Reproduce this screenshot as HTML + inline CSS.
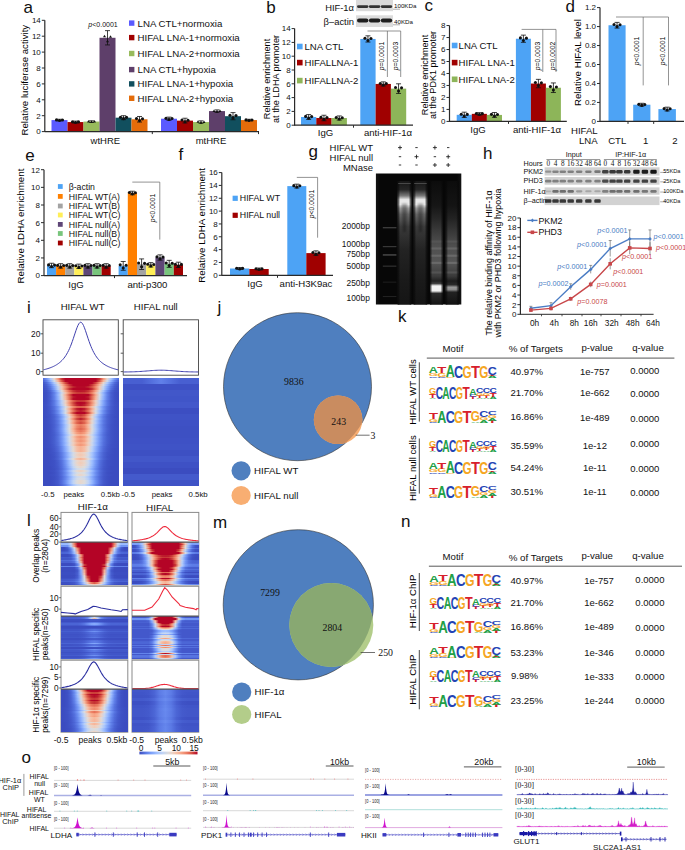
<!DOCTYPE html><html><head><meta charset="utf-8"><style>html,body{margin:0;padding:0;background:#fff;overflow:hidden}svg{display:block}text{font-family:"Liberation Sans",sans-serif}</style></head><body><svg width="685" height="850" viewBox="0 0 685 850"><defs><linearGradient id="gbg" x1="0" y1="0" x2="1" y2="0"><stop offset="0" stop-color="#141414"/><stop offset="0.05" stop-color="#070707"/><stop offset="0.95" stop-color="#070707"/><stop offset="1" stop-color="#141414"/></linearGradient><filter id="gblur" x="-50%" y="-20%" width="200%" height="140%"><feGaussianBlur stdDeviation="1.2"/></filter><linearGradient id="sm" x1="0" y1="0" x2="0" y2="1"><stop offset="0" stop-color="#161616"/><stop offset="0.07" stop-color="#262626"/><stop offset="0.12" stop-color="#7a7a7a"/><stop offset="0.15" stop-color="#e6e6e6"/><stop offset="0.19" stop-color="#f0f0f0"/><stop offset="0.22" stop-color="#a0a0a0"/><stop offset="0.27" stop-color="#686868"/><stop offset="0.37" stop-color="#3a3a3a"/><stop offset="0.56" stop-color="#232323"/><stop offset="0.8" stop-color="#1a1a1a"/><stop offset="1" stop-color="#151515"/></linearGradient><linearGradient id="mn4" x1="0" y1="0" x2="0" y2="1"><stop offset="0" stop-color="#0c0c0c"/><stop offset="0.2" stop-color="#161616"/><stop offset="0.3" stop-color="#262626"/><stop offset="0.4" stop-color="#3a3a3a"/><stop offset="0.52" stop-color="#505050"/><stop offset="0.66" stop-color="#555555"/><stop offset="0.77" stop-color="#3c3c3c"/><stop offset="0.81" stop-color="#202020"/><stop offset="0.83" stop-color="#404040"/><stop offset="0.85" stop-color="#f4f4f4"/><stop offset="0.89" stop-color="#f0f0f0"/><stop offset="0.91" stop-color="#2a2a2a"/><stop offset="1" stop-color="#141414"/></linearGradient><linearGradient id="mn5" x1="0" y1="0" x2="0" y2="1"><stop offset="0" stop-color="#0c0c0c"/><stop offset="0.2" stop-color="#141414"/><stop offset="0.3" stop-color="#222222"/><stop offset="0.4" stop-color="#363636"/><stop offset="0.52" stop-color="#4e4e4e"/><stop offset="0.66" stop-color="#555555"/><stop offset="0.77" stop-color="#3a3a3a"/><stop offset="0.81" stop-color="#1c1c1c"/><stop offset="0.84" stop-color="#2a2a2a"/><stop offset="0.86" stop-color="#9a9a9a"/><stop offset="0.88" stop-color="#8a8a8a"/><stop offset="0.9" stop-color="#222222"/><stop offset="1" stop-color="#121212"/></linearGradient><linearGradient id="lanee" x1="0" y1="0" x2="1" y2="0"><stop offset="0" stop-color="#070707" stop-opacity="0.85"/><stop offset="0.18" stop-color="#070707" stop-opacity="0"/><stop offset="0.82" stop-color="#070707" stop-opacity="0"/><stop offset="1" stop-color="#070707" stop-opacity="0.85"/></linearGradient><linearGradient id="h1" x1="0.5" x2="1" spreadMethod="reflect"><stop offset="0" stop-color="#b40426"/><stop offset="0.1" stop-color="#b40426"/><stop offset="0.2" stop-color="#b40426"/><stop offset="0.3" stop-color="#b40426"/><stop offset="0.4" stop-color="#b40426"/><stop offset="0.5" stop-color="#c83836"/><stop offset="0.6" stop-color="#f4987a"/><stop offset="0.7" stop-color="#e6d7cf"/><stop offset="0.8" stop-color="#a9c6fd"/><stop offset="0.9" stop-color="#7093f3"/><stop offset="1" stop-color="#506bda"/></linearGradient><linearGradient id="h2" x1="0.5" x2="1" spreadMethod="reflect"><stop offset="0" stop-color="#b40426"/><stop offset="0.1" stop-color="#b40426"/><stop offset="0.2" stop-color="#b40426"/><stop offset="0.3" stop-color="#b40426"/><stop offset="0.4" stop-color="#b40426"/><stop offset="0.5" stop-color="#d85646"/><stop offset="0.6" stop-color="#f7b396"/><stop offset="0.7" stop-color="#d2dbe8"/><stop offset="0.8" stop-color="#90b2fe"/><stop offset="0.9" stop-color="#6180e9"/><stop offset="1" stop-color="#485fd1"/></linearGradient><linearGradient id="h3" x1="0.5" x2="1" spreadMethod="reflect"><stop offset="0" stop-color="#b40426"/><stop offset="0.1" stop-color="#b40426"/><stop offset="0.2" stop-color="#b40426"/><stop offset="0.3" stop-color="#b40426"/><stop offset="0.4" stop-color="#d0473d"/><stop offset="0.5" stop-color="#f4987a"/><stop offset="0.6" stop-color="#e8d6cc"/><stop offset="0.7" stop-color="#adc9fd"/><stop offset="0.8" stop-color="#7396f5"/><stop offset="0.9" stop-color="#506bda"/><stop offset="1" stop-color="#4055c8"/></linearGradient><linearGradient id="h4" x1="0.5" x2="1" spreadMethod="reflect"><stop offset="0" stop-color="#b40426"/><stop offset="0.1" stop-color="#b40426"/><stop offset="0.2" stop-color="#b40426"/><stop offset="0.3" stop-color="#c73635"/><stop offset="0.4" stop-color="#e8765c"/><stop offset="0.5" stop-color="#f7b99e"/><stop offset="0.6" stop-color="#d3dbe7"/><stop offset="0.7" stop-color="#94b6ff"/><stop offset="0.8" stop-color="#6384eb"/><stop offset="0.9" stop-color="#4961d2"/><stop offset="1" stop-color="#3e51c5"/></linearGradient><linearGradient id="h5" x1="0.5" x2="1" spreadMethod="reflect"><stop offset="0" stop-color="#b50927"/><stop offset="0.1" stop-color="#b50927"/><stop offset="0.2" stop-color="#be242e"/><stop offset="0.3" stop-color="#d55042"/><stop offset="0.4" stop-color="#f18d6f"/><stop offset="0.5" stop-color="#f2cab5"/><stop offset="0.6" stop-color="#c1d4f4"/><stop offset="0.7" stop-color="#84a7fc"/><stop offset="0.8" stop-color="#5a78e4"/><stop offset="0.9" stop-color="#455cce"/><stop offset="1" stop-color="#3d50c3"/></linearGradient><linearGradient id="h6" x1="0.5" x2="1" spreadMethod="reflect"><stop offset="0" stop-color="#b40426"/><stop offset="0.1" stop-color="#b40426"/><stop offset="0.2" stop-color="#b40426"/><stop offset="0.3" stop-color="#c43032"/><stop offset="0.4" stop-color="#ec8165"/><stop offset="0.5" stop-color="#f2cab5"/><stop offset="0.6" stop-color="#bcd2f7"/><stop offset="0.7" stop-color="#7da0f9"/><stop offset="0.8" stop-color="#5572df"/><stop offset="0.9" stop-color="#4358cb"/><stop offset="1" stop-color="#3c4ec2"/></linearGradient><linearGradient id="h7" x1="0.5" x2="1" spreadMethod="reflect"><stop offset="0" stop-color="#ba162b"/><stop offset="0.1" stop-color="#bb1b2c"/><stop offset="0.2" stop-color="#c73635"/><stop offset="0.3" stop-color="#e26952"/><stop offset="0.4" stop-color="#f7a98b"/><stop offset="0.5" stop-color="#dfdbd9"/><stop offset="0.6" stop-color="#a3c2fe"/><stop offset="0.7" stop-color="#6c8ff1"/><stop offset="0.8" stop-color="#4c66d6"/><stop offset="0.9" stop-color="#3f53c6"/><stop offset="1" stop-color="#3c4ec2"/></linearGradient><linearGradient id="h8" x1="0.5" x2="1" spreadMethod="reflect"><stop offset="0" stop-color="#c83836"/><stop offset="0.1" stop-color="#ca3b37"/><stop offset="0.2" stop-color="#d65244"/><stop offset="0.3" stop-color="#ed8366"/><stop offset="0.4" stop-color="#f6bea4"/><stop offset="0.5" stop-color="#cedaeb"/><stop offset="0.6" stop-color="#90b2fe"/><stop offset="0.7" stop-color="#6180e9"/><stop offset="0.8" stop-color="#485fd1"/><stop offset="0.9" stop-color="#3e51c5"/><stop offset="1" stop-color="#3b4cc0"/></linearGradient><linearGradient id="h9" x1="0.5" x2="1" spreadMethod="reflect"><stop offset="0" stop-color="#b40426"/><stop offset="0.1" stop-color="#b40426"/><stop offset="0.2" stop-color="#b40426"/><stop offset="0.3" stop-color="#da5a49"/><stop offset="0.4" stop-color="#f7ad90"/><stop offset="0.5" stop-color="#d7dce3"/><stop offset="0.6" stop-color="#96b7ff"/><stop offset="0.7" stop-color="#6384eb"/><stop offset="0.8" stop-color="#4961d2"/><stop offset="0.9" stop-color="#3e51c5"/><stop offset="1" stop-color="#3b4cc0"/></linearGradient><linearGradient id="h10" x1="0.5" x2="1" spreadMethod="reflect"><stop offset="0" stop-color="#b40426"/><stop offset="0.1" stop-color="#b40426"/><stop offset="0.2" stop-color="#bb1b2c"/><stop offset="0.3" stop-color="#e36b54"/><stop offset="0.4" stop-color="#f7b79b"/><stop offset="0.5" stop-color="#d1dae9"/><stop offset="0.6" stop-color="#90b2fe"/><stop offset="0.7" stop-color="#6180e9"/><stop offset="0.8" stop-color="#485fd1"/><stop offset="0.9" stop-color="#3e51c5"/><stop offset="1" stop-color="#3b4cc0"/></linearGradient><linearGradient id="h11" x1="0.5" x2="1" spreadMethod="reflect"><stop offset="0" stop-color="#b40426"/><stop offset="0.1" stop-color="#b40426"/><stop offset="0.2" stop-color="#b70d28"/><stop offset="0.3" stop-color="#e36b54"/><stop offset="0.4" stop-color="#f7ba9f"/><stop offset="0.5" stop-color="#cdd9ec"/><stop offset="0.6" stop-color="#8fb1fe"/><stop offset="0.7" stop-color="#6180e9"/><stop offset="0.8" stop-color="#4961d2"/><stop offset="0.9" stop-color="#3e51c5"/><stop offset="1" stop-color="#3b4cc0"/></linearGradient><linearGradient id="h12" x1="0.5" x2="1" spreadMethod="reflect"><stop offset="0" stop-color="#c53334"/><stop offset="0.1" stop-color="#ca3b37"/><stop offset="0.2" stop-color="#de614d"/><stop offset="0.3" stop-color="#f49a7b"/><stop offset="0.4" stop-color="#edd2c3"/><stop offset="0.5" stop-color="#bad0f8"/><stop offset="0.6" stop-color="#81a4fb"/><stop offset="0.7" stop-color="#5a78e4"/><stop offset="0.8" stop-color="#465ecf"/><stop offset="0.9" stop-color="#3e51c5"/><stop offset="1" stop-color="#3b4cc0"/></linearGradient><linearGradient id="h13" x1="0.5" x2="1" spreadMethod="reflect"><stop offset="0" stop-color="#b40426"/><stop offset="0.1" stop-color="#b70d28"/><stop offset="0.2" stop-color="#d1493f"/><stop offset="0.3" stop-color="#f29072"/><stop offset="0.4" stop-color="#efcebd"/><stop offset="0.5" stop-color="#bbd1f8"/><stop offset="0.6" stop-color="#82a6fb"/><stop offset="0.7" stop-color="#5b7ae5"/><stop offset="0.8" stop-color="#485fd1"/><stop offset="0.9" stop-color="#3e51c5"/><stop offset="1" stop-color="#3c4ec2"/></linearGradient><linearGradient id="h14" x1="0.5" x2="1" spreadMethod="reflect"><stop offset="0" stop-color="#b50927"/><stop offset="0.1" stop-color="#bd1f2d"/><stop offset="0.2" stop-color="#d85646"/><stop offset="0.3" stop-color="#f59c7d"/><stop offset="0.4" stop-color="#ead5c9"/><stop offset="0.5" stop-color="#b5cdfa"/><stop offset="0.6" stop-color="#80a3fa"/><stop offset="0.7" stop-color="#5b7ae5"/><stop offset="0.8" stop-color="#485fd1"/><stop offset="0.9" stop-color="#3f53c6"/><stop offset="1" stop-color="#3c4ec2"/></linearGradient><linearGradient id="h15" x1="0.5" x2="1" spreadMethod="reflect"><stop offset="0" stop-color="#dc5d4a"/><stop offset="0.1" stop-color="#e16751"/><stop offset="0.2" stop-color="#f18d6f"/><stop offset="0.3" stop-color="#f5c0a7"/><stop offset="0.4" stop-color="#d4dbe6"/><stop offset="0.5" stop-color="#9fbfff"/><stop offset="0.6" stop-color="#7093f3"/><stop offset="0.7" stop-color="#5470de"/><stop offset="0.8" stop-color="#455cce"/><stop offset="0.9" stop-color="#3e51c5"/><stop offset="1" stop-color="#3c4ec2"/></linearGradient><linearGradient id="h16" x1="0.5" x2="1" spreadMethod="reflect"><stop offset="0" stop-color="#b40426"/><stop offset="0.1" stop-color="#bb1b2c"/><stop offset="0.2" stop-color="#de614d"/><stop offset="0.3" stop-color="#f7ac8e"/><stop offset="0.4" stop-color="#dedcdb"/><stop offset="0.5" stop-color="#a5c3fe"/><stop offset="0.6" stop-color="#7396f5"/><stop offset="0.7" stop-color="#5470de"/><stop offset="0.8" stop-color="#455cce"/><stop offset="0.9" stop-color="#3e51c5"/><stop offset="1" stop-color="#3c4ec2"/></linearGradient><linearGradient id="h17" x1="0.5" x2="1" spreadMethod="reflect"><stop offset="0" stop-color="#ba162b"/><stop offset="0.1" stop-color="#c73635"/><stop offset="0.2" stop-color="#e7745b"/><stop offset="0.3" stop-color="#f7ba9f"/><stop offset="0.4" stop-color="#d3dbe7"/><stop offset="0.5" stop-color="#9abbff"/><stop offset="0.6" stop-color="#6b8df0"/><stop offset="0.7" stop-color="#506bda"/><stop offset="0.8" stop-color="#4358cb"/><stop offset="0.9" stop-color="#3d50c3"/><stop offset="1" stop-color="#3b4cc0"/></linearGradient><linearGradient id="h18" x1="0.5" x2="1" spreadMethod="reflect"><stop offset="0" stop-color="#b40426"/><stop offset="0.1" stop-color="#b40426"/><stop offset="0.2" stop-color="#d1493f"/><stop offset="0.3" stop-color="#f7a98b"/><stop offset="0.4" stop-color="#d9dce1"/><stop offset="0.5" stop-color="#9dbdff"/><stop offset="0.6" stop-color="#6c8ff1"/><stop offset="0.7" stop-color="#516ddb"/><stop offset="0.8" stop-color="#4358cb"/><stop offset="0.9" stop-color="#3d50c3"/><stop offset="1" stop-color="#3b4cc0"/></linearGradient><linearGradient id="h19" x1="0.5" x2="1" spreadMethod="reflect"><stop offset="0" stop-color="#c73635"/><stop offset="0.1" stop-color="#d65244"/><stop offset="0.2" stop-color="#f39475"/><stop offset="0.3" stop-color="#efcfbf"/><stop offset="0.4" stop-color="#bcd2f7"/><stop offset="0.5" stop-color="#86a9fc"/><stop offset="0.6" stop-color="#6180e9"/><stop offset="0.7" stop-color="#4b64d5"/><stop offset="0.8" stop-color="#4055c8"/><stop offset="0.9" stop-color="#3d50c3"/><stop offset="1" stop-color="#3b4cc0"/></linearGradient><linearGradient id="h20" x1="0.5" x2="1" spreadMethod="reflect"><stop offset="0" stop-color="#d44e41"/><stop offset="0.1" stop-color="#e26952"/><stop offset="0.2" stop-color="#f7a688"/><stop offset="0.3" stop-color="#e5d8d1"/><stop offset="0.4" stop-color="#afcafc"/><stop offset="0.5" stop-color="#7da0f9"/><stop offset="0.6" stop-color="#5b7ae5"/><stop offset="0.7" stop-color="#4961d2"/><stop offset="0.8" stop-color="#4055c8"/><stop offset="0.9" stop-color="#3c4ec2"/><stop offset="1" stop-color="#3b4cc0"/></linearGradient><linearGradient id="h21" x1="0.5" x2="1" spreadMethod="reflect"><stop offset="0" stop-color="#bb1b2c"/><stop offset="0.1" stop-color="#d0473d"/><stop offset="0.2" stop-color="#f29072"/><stop offset="0.3" stop-color="#edd1c2"/><stop offset="0.4" stop-color="#b9d0f9"/><stop offset="0.5" stop-color="#82a6fb"/><stop offset="0.6" stop-color="#5e7de7"/><stop offset="0.7" stop-color="#4a63d3"/><stop offset="0.8" stop-color="#4055c8"/><stop offset="0.9" stop-color="#3d50c3"/><stop offset="1" stop-color="#3b4cc0"/></linearGradient><linearGradient id="h22" x1="0.5" x2="1" spreadMethod="reflect"><stop offset="0" stop-color="#d85646"/><stop offset="0.1" stop-color="#e57058"/><stop offset="0.2" stop-color="#f7aa8c"/><stop offset="0.3" stop-color="#e3d9d3"/><stop offset="0.4" stop-color="#aec9fc"/><stop offset="0.5" stop-color="#7b9ff9"/><stop offset="0.6" stop-color="#5a78e4"/><stop offset="0.7" stop-color="#4961d2"/><stop offset="0.8" stop-color="#4055c8"/><stop offset="0.9" stop-color="#3c4ec2"/><stop offset="1" stop-color="#3b4cc0"/></linearGradient><linearGradient id="h23" x1="0.5" x2="1" spreadMethod="reflect"><stop offset="0" stop-color="#d0473d"/><stop offset="0.1" stop-color="#e0654f"/><stop offset="0.2" stop-color="#f6a385"/><stop offset="0.3" stop-color="#e6d7cf"/><stop offset="0.4" stop-color="#b1cbfc"/><stop offset="0.5" stop-color="#7ea1fa"/><stop offset="0.6" stop-color="#5b7ae5"/><stop offset="0.7" stop-color="#4961d2"/><stop offset="0.8" stop-color="#4055c8"/><stop offset="0.9" stop-color="#3c4ec2"/><stop offset="1" stop-color="#3b4cc0"/></linearGradient><linearGradient id="h24" x1="0.5" x2="1" spreadMethod="reflect"><stop offset="0" stop-color="#e97a5f"/><stop offset="0.1" stop-color="#f18f71"/><stop offset="0.2" stop-color="#f6bda2"/><stop offset="0.3" stop-color="#d8dce2"/><stop offset="0.4" stop-color="#a5c3fe"/><stop offset="0.5" stop-color="#7699f6"/><stop offset="0.6" stop-color="#5875e1"/><stop offset="0.7" stop-color="#485fd1"/><stop offset="0.8" stop-color="#3f53c6"/><stop offset="0.9" stop-color="#3c4ec2"/><stop offset="1" stop-color="#3b4cc0"/></linearGradient><linearGradient id="h25" x1="0.5" x2="1" spreadMethod="reflect"><stop offset="0" stop-color="#e67259"/><stop offset="0.1" stop-color="#ef886b"/><stop offset="0.2" stop-color="#f7b99e"/><stop offset="0.3" stop-color="#dadce0"/><stop offset="0.4" stop-color="#a6c4fe"/><stop offset="0.5" stop-color="#779af7"/><stop offset="0.6" stop-color="#5977e3"/><stop offset="0.7" stop-color="#485fd1"/><stop offset="0.8" stop-color="#3f53c6"/><stop offset="0.9" stop-color="#3c4ec2"/><stop offset="1" stop-color="#3b4cc0"/></linearGradient><linearGradient id="h26" x1="0.5" x2="1" spreadMethod="reflect"><stop offset="0" stop-color="#e0654f"/><stop offset="0.1" stop-color="#eb7d62"/><stop offset="0.2" stop-color="#f7b396"/><stop offset="0.3" stop-color="#dedcdb"/><stop offset="0.4" stop-color="#aac7fd"/><stop offset="0.5" stop-color="#7a9df8"/><stop offset="0.6" stop-color="#5a78e4"/><stop offset="0.7" stop-color="#4961d2"/><stop offset="0.8" stop-color="#3f53c6"/><stop offset="0.9" stop-color="#3c4ec2"/><stop offset="1" stop-color="#3b4cc0"/></linearGradient><linearGradient id="h27" x1="0.5" x2="1" spreadMethod="reflect"><stop offset="0" stop-color="#e8765c"/><stop offset="0.1" stop-color="#f08b6e"/><stop offset="0.2" stop-color="#f7bca1"/><stop offset="0.3" stop-color="#d9dce1"/><stop offset="0.4" stop-color="#a6c4fe"/><stop offset="0.5" stop-color="#779af7"/><stop offset="0.6" stop-color="#5977e3"/><stop offset="0.7" stop-color="#485fd1"/><stop offset="0.8" stop-color="#3f53c6"/><stop offset="0.9" stop-color="#3c4ec2"/><stop offset="1" stop-color="#3b4cc0"/></linearGradient><linearGradient id="h28" x1="0.5" x2="1" spreadMethod="reflect"><stop offset="0" stop-color="#f08a6c"/><stop offset="0.1" stop-color="#f59d7e"/><stop offset="0.2" stop-color="#f4c6af"/><stop offset="0.3" stop-color="#d3dbe7"/><stop offset="0.4" stop-color="#9fbfff"/><stop offset="0.5" stop-color="#7396f5"/><stop offset="0.6" stop-color="#5673e0"/><stop offset="0.7" stop-color="#465ecf"/><stop offset="0.8" stop-color="#3f53c6"/><stop offset="0.9" stop-color="#3c4ec2"/><stop offset="1" stop-color="#3b4cc0"/></linearGradient><linearGradient id="h29" x1="0.5" x2="1" spreadMethod="reflect"><stop offset="0" stop-color="#f7a98b"/><stop offset="0.1" stop-color="#f7b79b"/><stop offset="0.2" stop-color="#ebd3c6"/><stop offset="0.3" stop-color="#c5d6f2"/><stop offset="0.4" stop-color="#96b7ff"/><stop offset="0.5" stop-color="#6e90f2"/><stop offset="0.6" stop-color="#5470de"/><stop offset="0.7" stop-color="#455cce"/><stop offset="0.8" stop-color="#3f53c6"/><stop offset="0.9" stop-color="#3c4ec2"/><stop offset="1" stop-color="#3b4cc0"/></linearGradient><linearGradient id="h30" x1="0.5" x2="1" spreadMethod="reflect"><stop offset="0" stop-color="#f18d6f"/><stop offset="0.1" stop-color="#f5a081"/><stop offset="0.2" stop-color="#f3c7b1"/><stop offset="0.3" stop-color="#d1dae9"/><stop offset="0.4" stop-color="#9fbfff"/><stop offset="0.5" stop-color="#7396f5"/><stop offset="0.6" stop-color="#5673e0"/><stop offset="0.7" stop-color="#465ecf"/><stop offset="0.8" stop-color="#3f53c6"/><stop offset="0.9" stop-color="#3c4ec2"/><stop offset="1" stop-color="#3b4cc0"/></linearGradient><linearGradient id="h31" x1="0.5" x2="1" spreadMethod="reflect"><stop offset="0" stop-color="#f49a7b"/><stop offset="0.1" stop-color="#f7aa8c"/><stop offset="0.2" stop-color="#f0cdbb"/><stop offset="0.3" stop-color="#ccd9ed"/><stop offset="0.4" stop-color="#9abbff"/><stop offset="0.5" stop-color="#7093f3"/><stop offset="0.6" stop-color="#5572df"/><stop offset="0.7" stop-color="#465ecf"/><stop offset="0.8" stop-color="#3f53c6"/><stop offset="0.9" stop-color="#3c4ec2"/><stop offset="1" stop-color="#3b4cc0"/></linearGradient><linearGradient id="h32" x1="0.5" x2="1" spreadMethod="reflect"><stop offset="0" stop-color="#f29274"/><stop offset="0.1" stop-color="#f6a385"/><stop offset="0.2" stop-color="#f2cab5"/><stop offset="0.3" stop-color="#cfdaea"/><stop offset="0.4" stop-color="#9dbdff"/><stop offset="0.5" stop-color="#7295f4"/><stop offset="0.6" stop-color="#5673e0"/><stop offset="0.7" stop-color="#465ecf"/><stop offset="0.8" stop-color="#3f53c6"/><stop offset="0.9" stop-color="#3c4ec2"/><stop offset="1" stop-color="#3b4cc0"/></linearGradient><linearGradient id="h33" x1="0.5" x2="1" spreadMethod="reflect"><stop offset="0" stop-color="#f6a283"/><stop offset="0.1" stop-color="#f7b194"/><stop offset="0.2" stop-color="#eed0c0"/><stop offset="0.3" stop-color="#c9d7f0"/><stop offset="0.4" stop-color="#97b8ff"/><stop offset="0.5" stop-color="#6f92f3"/><stop offset="0.6" stop-color="#5470de"/><stop offset="0.7" stop-color="#465ecf"/><stop offset="0.8" stop-color="#3f53c6"/><stop offset="0.9" stop-color="#3c4ec2"/><stop offset="1" stop-color="#3b4cc0"/></linearGradient><linearGradient id="h34" x1="0.5" x2="1" spreadMethod="reflect"><stop offset="0" stop-color="#f39778"/><stop offset="0.1" stop-color="#f7a889"/><stop offset="0.2" stop-color="#f1cdba"/><stop offset="0.3" stop-color="#cbd8ee"/><stop offset="0.4" stop-color="#9abbff"/><stop offset="0.5" stop-color="#6f92f3"/><stop offset="0.6" stop-color="#5470de"/><stop offset="0.7" stop-color="#455cce"/><stop offset="0.8" stop-color="#3e51c5"/><stop offset="0.9" stop-color="#3c4ec2"/><stop offset="1" stop-color="#3b4cc0"/></linearGradient><linearGradient id="h35" x1="0.5" x2="1" spreadMethod="reflect"><stop offset="0" stop-color="#f7b194"/><stop offset="0.1" stop-color="#f6bea4"/><stop offset="0.2" stop-color="#e5d8d1"/><stop offset="0.3" stop-color="#bed2f6"/><stop offset="0.4" stop-color="#8db0fe"/><stop offset="0.5" stop-color="#6788ee"/><stop offset="0.6" stop-color="#506bda"/><stop offset="0.7" stop-color="#445acc"/><stop offset="0.8" stop-color="#3e51c5"/><stop offset="0.9" stop-color="#3c4ec2"/><stop offset="1" stop-color="#3b4cc0"/></linearGradient><linearGradient id="h36" x1="0.5" x2="1" spreadMethod="reflect"><stop offset="0" stop-color="#f7b194"/><stop offset="0.1" stop-color="#f6bfa6"/><stop offset="0.2" stop-color="#e4d9d2"/><stop offset="0.3" stop-color="#bbd1f8"/><stop offset="0.4" stop-color="#8badfd"/><stop offset="0.5" stop-color="#6687ed"/><stop offset="0.6" stop-color="#4f69d9"/><stop offset="0.7" stop-color="#4358cb"/><stop offset="0.8" stop-color="#3d50c3"/><stop offset="0.9" stop-color="#3b4cc0"/><stop offset="1" stop-color="#3b4cc0"/></linearGradient><linearGradient id="h37" x1="0.5" x2="1" spreadMethod="reflect"><stop offset="0" stop-color="#f7b093"/><stop offset="0.1" stop-color="#f6bea4"/><stop offset="0.2" stop-color="#e4d9d2"/><stop offset="0.3" stop-color="#bbd1f8"/><stop offset="0.4" stop-color="#8badfd"/><stop offset="0.5" stop-color="#6485ec"/><stop offset="0.6" stop-color="#4e68d8"/><stop offset="0.7" stop-color="#4358cb"/><stop offset="0.8" stop-color="#3d50c3"/><stop offset="0.9" stop-color="#3b4cc0"/><stop offset="1" stop-color="#3b4cc0"/></linearGradient><linearGradient id="h38" x1="0.5" x2="1" spreadMethod="reflect"><stop offset="0" stop-color="#f1ccb8"/><stop offset="0.1" stop-color="#ead4c8"/><stop offset="0.2" stop-color="#d1dae9"/><stop offset="0.3" stop-color="#a7c5fe"/><stop offset="0.4" stop-color="#7da0f9"/><stop offset="0.5" stop-color="#5d7ce6"/><stop offset="0.6" stop-color="#4a63d3"/><stop offset="0.7" stop-color="#4055c8"/><stop offset="0.8" stop-color="#3d50c3"/><stop offset="0.9" stop-color="#3b4cc0"/><stop offset="1" stop-color="#3b4cc0"/></linearGradient><linearGradient id="h39" x1="0.5" x2="1" spreadMethod="reflect"><stop offset="0" stop-color="#f3c8b2"/><stop offset="0.1" stop-color="#edd1c2"/><stop offset="0.2" stop-color="#d4dbe6"/><stop offset="0.3" stop-color="#a9c6fd"/><stop offset="0.4" stop-color="#7da0f9"/><stop offset="0.5" stop-color="#5d7ce6"/><stop offset="0.6" stop-color="#4a63d3"/><stop offset="0.7" stop-color="#4055c8"/><stop offset="0.8" stop-color="#3c4ec2"/><stop offset="0.9" stop-color="#3b4cc0"/><stop offset="1" stop-color="#3b4cc0"/></linearGradient><linearGradient id="h40" x1="0.5" x2="1" spreadMethod="reflect"><stop offset="0" stop-color="#f1cdba"/><stop offset="0.1" stop-color="#ead5c9"/><stop offset="0.2" stop-color="#cedaeb"/><stop offset="0.3" stop-color="#a3c2fe"/><stop offset="0.4" stop-color="#799cf8"/><stop offset="0.5" stop-color="#5a78e4"/><stop offset="0.6" stop-color="#4961d2"/><stop offset="0.7" stop-color="#3f53c6"/><stop offset="0.8" stop-color="#3c4ec2"/><stop offset="0.9" stop-color="#3b4cc0"/><stop offset="1" stop-color="#3b4cc0"/></linearGradient><linearGradient id="h41" x1="0.5" x2="1" spreadMethod="reflect"><stop offset="0" stop-color="#f7b396"/><stop offset="0.1" stop-color="#f5c1a9"/><stop offset="0.2" stop-color="#e0dbd8"/><stop offset="0.3" stop-color="#b2ccfb"/><stop offset="0.4" stop-color="#81a4fb"/><stop offset="0.5" stop-color="#5d7ce6"/><stop offset="0.6" stop-color="#4a63d3"/><stop offset="0.7" stop-color="#4055c8"/><stop offset="0.8" stop-color="#3c4ec2"/><stop offset="0.9" stop-color="#3b4cc0"/><stop offset="1" stop-color="#3b4cc0"/></linearGradient><linearGradient id="h42" x1="0.5" x2="1" spreadMethod="reflect"><stop offset="0" stop-color="#efcfbf"/><stop offset="0.1" stop-color="#e7d7ce"/><stop offset="0.2" stop-color="#cad8ef"/><stop offset="0.3" stop-color="#9ebeff"/><stop offset="0.4" stop-color="#7396f5"/><stop offset="0.5" stop-color="#5673e0"/><stop offset="0.6" stop-color="#465ecf"/><stop offset="0.7" stop-color="#3e51c5"/><stop offset="0.8" stop-color="#3c4ec2"/><stop offset="0.9" stop-color="#3b4cc0"/><stop offset="1" stop-color="#3b4cc0"/></linearGradient><linearGradient id="h43" x1="0.5" x2="1" spreadMethod="reflect"><stop offset="0" stop-color="#f1ccb8"/><stop offset="0.1" stop-color="#ead5c9"/><stop offset="0.2" stop-color="#ccd9ed"/><stop offset="0.3" stop-color="#9fbfff"/><stop offset="0.4" stop-color="#7396f5"/><stop offset="0.5" stop-color="#5572df"/><stop offset="0.6" stop-color="#455cce"/><stop offset="0.7" stop-color="#3e51c5"/><stop offset="0.8" stop-color="#3c4ec2"/><stop offset="0.9" stop-color="#3b4cc0"/><stop offset="1" stop-color="#3b4cc0"/></linearGradient><linearGradient id="h44" x1="0.5" x2="1" spreadMethod="reflect"><stop offset="0" stop-color="#efcfbf"/><stop offset="0.1" stop-color="#e6d7cf"/><stop offset="0.2" stop-color="#c9d7f0"/><stop offset="0.3" stop-color="#9bbcff"/><stop offset="0.4" stop-color="#7093f3"/><stop offset="0.5" stop-color="#5470de"/><stop offset="0.6" stop-color="#455cce"/><stop offset="0.7" stop-color="#3e51c5"/><stop offset="0.8" stop-color="#3c4ec2"/><stop offset="0.9" stop-color="#3b4cc0"/><stop offset="1" stop-color="#3b4cc0"/></linearGradient><linearGradient id="h45" x1="0.5" x2="1" spreadMethod="reflect"><stop offset="0" stop-color="#e7d7ce"/><stop offset="0.1" stop-color="#dcdddd"/><stop offset="0.2" stop-color="#bfd3f6"/><stop offset="0.3" stop-color="#93b5fe"/><stop offset="0.4" stop-color="#6c8ff1"/><stop offset="0.5" stop-color="#536edd"/><stop offset="0.6" stop-color="#445acc"/><stop offset="0.7" stop-color="#3e51c5"/><stop offset="0.8" stop-color="#3b4cc0"/><stop offset="0.9" stop-color="#3b4cc0"/><stop offset="1" stop-color="#3b4cc0"/></linearGradient><linearGradient id="h46" x1="0.5" x2="1" spreadMethod="reflect"><stop offset="0" stop-color="#d8dce2"/><stop offset="0.1" stop-color="#cedaeb"/><stop offset="0.2" stop-color="#b2ccfb"/><stop offset="0.3" stop-color="#89acfd"/><stop offset="0.4" stop-color="#6788ee"/><stop offset="0.5" stop-color="#506bda"/><stop offset="0.6" stop-color="#4358cb"/><stop offset="0.7" stop-color="#3d50c3"/><stop offset="0.8" stop-color="#3b4cc0"/><stop offset="0.9" stop-color="#3b4cc0"/><stop offset="1" stop-color="#3b4cc0"/></linearGradient><linearGradient id="h47" x1="0.5" x2="1" spreadMethod="reflect"><stop offset="0" stop-color="#edd1c2"/><stop offset="0.1" stop-color="#e4d9d2"/><stop offset="0.2" stop-color="#c6d6f1"/><stop offset="0.3" stop-color="#9abbff"/><stop offset="0.4" stop-color="#6f92f3"/><stop offset="0.5" stop-color="#5470de"/><stop offset="0.6" stop-color="#455cce"/><stop offset="0.7" stop-color="#3e51c5"/><stop offset="0.8" stop-color="#3c4ec2"/><stop offset="0.9" stop-color="#3b4cc0"/><stop offset="1" stop-color="#3b4cc0"/></linearGradient><linearGradient id="h48" x1="0.5" x2="1" spreadMethod="reflect"><stop offset="0" stop-color="#e0dbd8"/><stop offset="0.1" stop-color="#d6dce4"/><stop offset="0.2" stop-color="#b9d0f9"/><stop offset="0.3" stop-color="#8fb1fe"/><stop offset="0.4" stop-color="#6a8bef"/><stop offset="0.5" stop-color="#516ddb"/><stop offset="0.6" stop-color="#445acc"/><stop offset="0.7" stop-color="#3d50c3"/><stop offset="0.8" stop-color="#3b4cc0"/><stop offset="0.9" stop-color="#3b4cc0"/><stop offset="1" stop-color="#3b4cc0"/></linearGradient><linearGradient id="h49" x1="0.5" x2="1" spreadMethod="reflect"><stop offset="0" stop-color="#e9d5cb"/><stop offset="0.1" stop-color="#dedcdb"/><stop offset="0.2" stop-color="#c0d4f5"/><stop offset="0.3" stop-color="#94b6ff"/><stop offset="0.4" stop-color="#6c8ff1"/><stop offset="0.5" stop-color="#536edd"/><stop offset="0.6" stop-color="#445acc"/><stop offset="0.7" stop-color="#3e51c5"/><stop offset="0.8" stop-color="#3c4ec2"/><stop offset="0.9" stop-color="#3b4cc0"/><stop offset="1" stop-color="#3b4cc0"/></linearGradient><linearGradient id="h50" x1="0.5" x2="1" spreadMethod="reflect"><stop offset="0" stop-color="#d4dbe6"/><stop offset="0.1" stop-color="#cad8ef"/><stop offset="0.2" stop-color="#adc9fd"/><stop offset="0.3" stop-color="#86a9fc"/><stop offset="0.4" stop-color="#6485ec"/><stop offset="0.5" stop-color="#4f69d9"/><stop offset="0.6" stop-color="#4358cb"/><stop offset="0.7" stop-color="#3d50c3"/><stop offset="0.8" stop-color="#3b4cc0"/><stop offset="0.9" stop-color="#3b4cc0"/><stop offset="1" stop-color="#3b4cc0"/></linearGradient><linearGradient id="h51" x1="0.5" x2="1" spreadMethod="reflect"><stop offset="0" stop-color="#dadce0"/><stop offset="0.1" stop-color="#d1dae9"/><stop offset="0.2" stop-color="#b3cdfb"/><stop offset="0.3" stop-color="#8badfd"/><stop offset="0.4" stop-color="#6788ee"/><stop offset="0.5" stop-color="#506bda"/><stop offset="0.6" stop-color="#4358cb"/><stop offset="0.7" stop-color="#3d50c3"/><stop offset="0.8" stop-color="#3b4cc0"/><stop offset="0.9" stop-color="#3b4cc0"/><stop offset="1" stop-color="#3b4cc0"/></linearGradient><linearGradient id="h52" x1="0.5" x2="1" spreadMethod="reflect"><stop offset="0" stop-color="#e7d7ce"/><stop offset="0.1" stop-color="#dddcdc"/><stop offset="0.2" stop-color="#bfd3f6"/><stop offset="0.3" stop-color="#94b6ff"/><stop offset="0.4" stop-color="#6c8ff1"/><stop offset="0.5" stop-color="#536edd"/><stop offset="0.6" stop-color="#445acc"/><stop offset="0.7" stop-color="#3e51c5"/><stop offset="0.8" stop-color="#3b4cc0"/><stop offset="0.9" stop-color="#3b4cc0"/><stop offset="1" stop-color="#3b4cc0"/></linearGradient><linearGradient id="h53" x1="0.5" x2="1" spreadMethod="reflect"><stop offset="0" stop-color="#e7d7ce"/><stop offset="0.1" stop-color="#dddcdc"/><stop offset="0.2" stop-color="#bfd3f6"/><stop offset="0.3" stop-color="#94b6ff"/><stop offset="0.4" stop-color="#6c8ff1"/><stop offset="0.5" stop-color="#536edd"/><stop offset="0.6" stop-color="#445acc"/><stop offset="0.7" stop-color="#3e51c5"/><stop offset="0.8" stop-color="#3b4cc0"/><stop offset="0.9" stop-color="#3b4cc0"/><stop offset="1" stop-color="#3b4cc0"/></linearGradient><linearGradient id="h54" x1="0.5" x2="1" spreadMethod="reflect"><stop offset="0" stop-color="#ccd9ed"/><stop offset="0.1" stop-color="#c3d5f4"/><stop offset="0.2" stop-color="#a6c4fe"/><stop offset="0.3" stop-color="#82a6fb"/><stop offset="0.4" stop-color="#6282ea"/><stop offset="0.5" stop-color="#4e68d8"/><stop offset="0.6" stop-color="#4257c9"/><stop offset="0.7" stop-color="#3d50c3"/><stop offset="0.8" stop-color="#3b4cc0"/><stop offset="0.9" stop-color="#3b4cc0"/><stop offset="1" stop-color="#3b4cc0"/></linearGradient><linearGradient id="h55" x1="0.5" x2="1" spreadMethod="reflect"><stop offset="0" stop-color="#6180e9"/><stop offset="0.25" stop-color="#5470de"/><stop offset="0.5" stop-color="#485fd1"/><stop offset="0.75" stop-color="#485fd1"/><stop offset="1" stop-color="#485fd1"/></linearGradient><linearGradient id="h56" x1="0.5" x2="1" spreadMethod="reflect"><stop offset="0" stop-color="#3e51c5"/><stop offset="0.25" stop-color="#3e51c5"/><stop offset="0.5" stop-color="#3e51c5"/><stop offset="0.75" stop-color="#3e51c5"/><stop offset="1" stop-color="#3e51c5"/></linearGradient><linearGradient id="h57" x1="0.5" x2="1" spreadMethod="reflect"><stop offset="0" stop-color="#4257c9"/><stop offset="0.25" stop-color="#4257c9"/><stop offset="0.5" stop-color="#4257c9"/><stop offset="0.75" stop-color="#4257c9"/><stop offset="1" stop-color="#4257c9"/></linearGradient><linearGradient id="h58" x1="0.5" x2="1" spreadMethod="reflect"><stop offset="0" stop-color="#4055c8"/><stop offset="0.25" stop-color="#4055c8"/><stop offset="0.5" stop-color="#4055c8"/><stop offset="0.75" stop-color="#4055c8"/><stop offset="1" stop-color="#4055c8"/></linearGradient><linearGradient id="h59" x1="0.5" x2="1" spreadMethod="reflect"><stop offset="0" stop-color="#4358cb"/><stop offset="0.25" stop-color="#4358cb"/><stop offset="0.5" stop-color="#4358cb"/><stop offset="0.75" stop-color="#4358cb"/><stop offset="1" stop-color="#4358cb"/></linearGradient><linearGradient id="h60" x1="0.5" x2="1" spreadMethod="reflect"><stop offset="0" stop-color="#3c4ec2"/><stop offset="0.25" stop-color="#3c4ec2"/><stop offset="0.5" stop-color="#3c4ec2"/><stop offset="0.75" stop-color="#3c4ec2"/><stop offset="1" stop-color="#3c4ec2"/></linearGradient><linearGradient id="h61" x1="0.5" x2="1" spreadMethod="reflect"><stop offset="0" stop-color="#3f53c6"/><stop offset="0.25" stop-color="#3f53c6"/><stop offset="0.5" stop-color="#3f53c6"/><stop offset="0.75" stop-color="#3f53c6"/><stop offset="1" stop-color="#3f53c6"/></linearGradient><linearGradient id="h62" x1="0.5" x2="1" spreadMethod="reflect"><stop offset="0" stop-color="#3e51c5"/><stop offset="0.25" stop-color="#3e51c5"/><stop offset="0.5" stop-color="#3e51c5"/><stop offset="0.75" stop-color="#3e51c5"/><stop offset="1" stop-color="#3e51c5"/></linearGradient><linearGradient id="h63" x1="0.5" x2="1" spreadMethod="reflect"><stop offset="0" stop-color="#3d50c3"/><stop offset="0.25" stop-color="#3d50c3"/><stop offset="0.5" stop-color="#3d50c3"/><stop offset="0.75" stop-color="#3d50c3"/><stop offset="1" stop-color="#3d50c3"/></linearGradient><linearGradient id="h64" x1="0.5" x2="1" spreadMethod="reflect"><stop offset="0" stop-color="#3d50c3"/><stop offset="0.25" stop-color="#3d50c3"/><stop offset="0.5" stop-color="#3d50c3"/><stop offset="0.75" stop-color="#3d50c3"/><stop offset="1" stop-color="#3d50c3"/></linearGradient><linearGradient id="h65" x1="0.5" x2="1" spreadMethod="reflect"><stop offset="0" stop-color="#3e51c5"/><stop offset="0.25" stop-color="#3e51c5"/><stop offset="0.5" stop-color="#3e51c5"/><stop offset="0.75" stop-color="#3e51c5"/><stop offset="1" stop-color="#3e51c5"/></linearGradient><linearGradient id="h66" x1="0.5" x2="1" spreadMethod="reflect"><stop offset="0" stop-color="#3f53c6"/><stop offset="0.25" stop-color="#3f53c6"/><stop offset="0.5" stop-color="#3f53c6"/><stop offset="0.75" stop-color="#3f53c6"/><stop offset="1" stop-color="#3f53c6"/></linearGradient><linearGradient id="h67" x1="0.5" x2="1" spreadMethod="reflect"><stop offset="0" stop-color="#3d50c3"/><stop offset="0.25" stop-color="#3d50c3"/><stop offset="0.5" stop-color="#3d50c3"/><stop offset="0.75" stop-color="#3d50c3"/><stop offset="1" stop-color="#3d50c3"/></linearGradient><linearGradient id="h68" x1="0.5" x2="1" spreadMethod="reflect"><stop offset="0" stop-color="#4257c9"/><stop offset="0.25" stop-color="#4257c9"/><stop offset="0.5" stop-color="#4257c9"/><stop offset="0.75" stop-color="#4257c9"/><stop offset="1" stop-color="#4257c9"/></linearGradient><linearGradient id="h69" x1="0.5" x2="1" spreadMethod="reflect"><stop offset="0" stop-color="#3e51c5"/><stop offset="0.25" stop-color="#3e51c5"/><stop offset="0.5" stop-color="#3e51c5"/><stop offset="0.75" stop-color="#3e51c5"/><stop offset="1" stop-color="#3e51c5"/></linearGradient><linearGradient id="h70" x1="0.5" x2="1" spreadMethod="reflect"><stop offset="0" stop-color="#3b4cc0"/><stop offset="0.25" stop-color="#3b4cc0"/><stop offset="0.5" stop-color="#3b4cc0"/><stop offset="0.75" stop-color="#3b4cc0"/><stop offset="1" stop-color="#3b4cc0"/></linearGradient><linearGradient id="h71" x1="0.5" x2="1" spreadMethod="reflect"><stop offset="0" stop-color="#445acc"/><stop offset="0.25" stop-color="#445acc"/><stop offset="0.5" stop-color="#445acc"/><stop offset="0.75" stop-color="#445acc"/><stop offset="1" stop-color="#445acc"/></linearGradient><linearGradient id="h72" x1="0.5" x2="1" spreadMethod="reflect"><stop offset="0" stop-color="#3f53c6"/><stop offset="0.25" stop-color="#3f53c6"/><stop offset="0.5" stop-color="#3f53c6"/><stop offset="0.75" stop-color="#3f53c6"/><stop offset="1" stop-color="#3f53c6"/></linearGradient><clipPath id="cj"><circle cx="297.5" cy="386.7" r="74"/></clipPath><linearGradient id="h73" x1="0.5" x2="1" spreadMethod="reflect"><stop offset="0" stop-color="#b40426"/><stop offset="0.1" stop-color="#b40426"/><stop offset="0.2" stop-color="#b40426"/><stop offset="0.3" stop-color="#b40426"/><stop offset="0.4" stop-color="#b40426"/><stop offset="0.5" stop-color="#b40426"/><stop offset="0.6" stop-color="#ed8366"/><stop offset="0.7" stop-color="#cfdaea"/><stop offset="0.8" stop-color="#96b7ff"/><stop offset="0.9" stop-color="#96b7ff"/><stop offset="1" stop-color="#96b7ff"/></linearGradient><linearGradient id="h74" x1="0.5" x2="1" spreadMethod="reflect"><stop offset="0" stop-color="#b40426"/><stop offset="0.1" stop-color="#b40426"/><stop offset="0.2" stop-color="#b40426"/><stop offset="0.3" stop-color="#b40426"/><stop offset="0.4" stop-color="#b40426"/><stop offset="0.5" stop-color="#b40426"/><stop offset="0.6" stop-color="#ec7f63"/><stop offset="0.7" stop-color="#c6d6f1"/><stop offset="0.8" stop-color="#9dbdff"/><stop offset="0.9" stop-color="#9dbdff"/><stop offset="1" stop-color="#9dbdff"/></linearGradient><linearGradient id="h75" x1="0.5" x2="1" spreadMethod="reflect"><stop offset="0" stop-color="#b40426"/><stop offset="0.1" stop-color="#b40426"/><stop offset="0.2" stop-color="#b40426"/><stop offset="0.3" stop-color="#b40426"/><stop offset="0.4" stop-color="#b40426"/><stop offset="0.5" stop-color="#b40426"/><stop offset="0.6" stop-color="#f39475"/><stop offset="0.7" stop-color="#b9d0f9"/><stop offset="0.8" stop-color="#7295f4"/><stop offset="0.9" stop-color="#7295f4"/><stop offset="1" stop-color="#7295f4"/></linearGradient><linearGradient id="h76" x1="0.5" x2="1" spreadMethod="reflect"><stop offset="0" stop-color="#b40426"/><stop offset="0.1" stop-color="#b40426"/><stop offset="0.2" stop-color="#b40426"/><stop offset="0.3" stop-color="#b40426"/><stop offset="0.4" stop-color="#b40426"/><stop offset="0.5" stop-color="#cf453c"/><stop offset="0.6" stop-color="#ead4c8"/><stop offset="0.7" stop-color="#85a8fc"/><stop offset="0.8" stop-color="#4a63d3"/><stop offset="0.9" stop-color="#3c4ec2"/><stop offset="1" stop-color="#3b4cc0"/></linearGradient><linearGradient id="h77" x1="0.5" x2="1" spreadMethod="reflect"><stop offset="0" stop-color="#b40426"/><stop offset="0.1" stop-color="#b40426"/><stop offset="0.2" stop-color="#b40426"/><stop offset="0.3" stop-color="#b40426"/><stop offset="0.4" stop-color="#b40426"/><stop offset="0.5" stop-color="#ee8669"/><stop offset="0.6" stop-color="#ccd9ed"/><stop offset="0.7" stop-color="#6c8ff1"/><stop offset="0.8" stop-color="#445acc"/><stop offset="0.9" stop-color="#3b4cc0"/><stop offset="1" stop-color="#3b4cc0"/></linearGradient><linearGradient id="h78" x1="0.5" x2="1" spreadMethod="reflect"><stop offset="0" stop-color="#b40426"/><stop offset="0.1" stop-color="#b40426"/><stop offset="0.2" stop-color="#b40426"/><stop offset="0.3" stop-color="#b40426"/><stop offset="0.4" stop-color="#b40426"/><stop offset="0.5" stop-color="#f39475"/><stop offset="0.6" stop-color="#bbd1f8"/><stop offset="0.7" stop-color="#6180e9"/><stop offset="0.8" stop-color="#4055c8"/><stop offset="0.9" stop-color="#3b4cc0"/><stop offset="1" stop-color="#3b4cc0"/></linearGradient><linearGradient id="h79" x1="0.5" x2="1" spreadMethod="reflect"><stop offset="0" stop-color="#b40426"/><stop offset="0.1" stop-color="#b40426"/><stop offset="0.2" stop-color="#b40426"/><stop offset="0.3" stop-color="#b40426"/><stop offset="0.4" stop-color="#b40426"/><stop offset="0.5" stop-color="#f7a98b"/><stop offset="0.6" stop-color="#aac7fd"/><stop offset="0.7" stop-color="#5d7ce6"/><stop offset="0.8" stop-color="#455cce"/><stop offset="0.9" stop-color="#4257c9"/><stop offset="1" stop-color="#4257c9"/></linearGradient><linearGradient id="h80" x1="0.5" x2="1" spreadMethod="reflect"><stop offset="0" stop-color="#b40426"/><stop offset="0.1" stop-color="#b40426"/><stop offset="0.2" stop-color="#b40426"/><stop offset="0.3" stop-color="#b40426"/><stop offset="0.4" stop-color="#b40426"/><stop offset="0.5" stop-color="#f7ba9f"/><stop offset="0.6" stop-color="#9fbfff"/><stop offset="0.7" stop-color="#5e7de7"/><stop offset="0.8" stop-color="#4e68d8"/><stop offset="0.9" stop-color="#4b64d5"/><stop offset="1" stop-color="#4b64d5"/></linearGradient><linearGradient id="h81" x1="0.5" x2="1" spreadMethod="reflect"><stop offset="0" stop-color="#b40426"/><stop offset="0.1" stop-color="#b40426"/><stop offset="0.2" stop-color="#b40426"/><stop offset="0.3" stop-color="#b40426"/><stop offset="0.4" stop-color="#ee8468"/><stop offset="0.5" stop-color="#cbd8ee"/><stop offset="0.6" stop-color="#6c8ff1"/><stop offset="0.7" stop-color="#445acc"/><stop offset="0.8" stop-color="#3b4cc0"/><stop offset="0.9" stop-color="#3b4cc0"/><stop offset="1" stop-color="#3b4cc0"/></linearGradient><linearGradient id="h82" x1="0.5" x2="1" spreadMethod="reflect"><stop offset="0" stop-color="#b40426"/><stop offset="0.1" stop-color="#b40426"/><stop offset="0.2" stop-color="#b40426"/><stop offset="0.3" stop-color="#b40426"/><stop offset="0.4" stop-color="#f59c7d"/><stop offset="0.5" stop-color="#b9d0f9"/><stop offset="0.6" stop-color="#6180e9"/><stop offset="0.7" stop-color="#4055c8"/><stop offset="0.8" stop-color="#3b4cc0"/><stop offset="0.9" stop-color="#3b4cc0"/><stop offset="1" stop-color="#3b4cc0"/></linearGradient><linearGradient id="h83" x1="0.5" x2="1" spreadMethod="reflect"><stop offset="0" stop-color="#b40426"/><stop offset="0.1" stop-color="#b40426"/><stop offset="0.2" stop-color="#b40426"/><stop offset="0.3" stop-color="#b40426"/><stop offset="0.4" stop-color="#e9785d"/><stop offset="0.5" stop-color="#c4d5f3"/><stop offset="0.6" stop-color="#688aef"/><stop offset="0.7" stop-color="#4a63d3"/><stop offset="0.8" stop-color="#455cce"/><stop offset="0.9" stop-color="#455cce"/><stop offset="1" stop-color="#455cce"/></linearGradient><linearGradient id="h84" x1="0.5" x2="1" spreadMethod="reflect"><stop offset="0" stop-color="#b40426"/><stop offset="0.1" stop-color="#b40426"/><stop offset="0.2" stop-color="#b40426"/><stop offset="0.3" stop-color="#b40426"/><stop offset="0.4" stop-color="#f4987a"/><stop offset="0.5" stop-color="#adc9fd"/><stop offset="0.6" stop-color="#5b7ae5"/><stop offset="0.7" stop-color="#445acc"/><stop offset="0.8" stop-color="#4257c9"/><stop offset="0.9" stop-color="#4257c9"/><stop offset="1" stop-color="#4257c9"/></linearGradient><linearGradient id="h85" x1="0.5" x2="1" spreadMethod="reflect"><stop offset="0" stop-color="#b40426"/><stop offset="0.1" stop-color="#b40426"/><stop offset="0.2" stop-color="#b40426"/><stop offset="0.3" stop-color="#b40426"/><stop offset="0.4" stop-color="#ef886b"/><stop offset="0.5" stop-color="#b5cdfa"/><stop offset="0.6" stop-color="#6687ed"/><stop offset="0.7" stop-color="#5470de"/><stop offset="0.8" stop-color="#516ddb"/><stop offset="0.9" stop-color="#516ddb"/><stop offset="1" stop-color="#516ddb"/></linearGradient><linearGradient id="h86" x1="0.5" x2="1" spreadMethod="reflect"><stop offset="0" stop-color="#b40426"/><stop offset="0.1" stop-color="#b40426"/><stop offset="0.2" stop-color="#b40426"/><stop offset="0.3" stop-color="#b40426"/><stop offset="0.4" stop-color="#f7b194"/><stop offset="0.5" stop-color="#97b8ff"/><stop offset="0.6" stop-color="#5673e0"/><stop offset="0.7" stop-color="#4a63d3"/><stop offset="0.8" stop-color="#4961d2"/><stop offset="0.9" stop-color="#4961d2"/><stop offset="1" stop-color="#4961d2"/></linearGradient><linearGradient id="h87" x1="0.5" x2="1" spreadMethod="reflect"><stop offset="0" stop-color="#b40426"/><stop offset="0.1" stop-color="#b40426"/><stop offset="0.2" stop-color="#b40426"/><stop offset="0.3" stop-color="#b70d28"/><stop offset="0.4" stop-color="#e6d7cf"/><stop offset="0.5" stop-color="#7295f4"/><stop offset="0.6" stop-color="#4257c9"/><stop offset="0.7" stop-color="#3b4cc0"/><stop offset="0.8" stop-color="#3b4cc0"/><stop offset="0.9" stop-color="#3b4cc0"/><stop offset="1" stop-color="#3b4cc0"/></linearGradient><linearGradient id="h88" x1="0.5" x2="1" spreadMethod="reflect"><stop offset="0" stop-color="#b40426"/><stop offset="0.1" stop-color="#b40426"/><stop offset="0.2" stop-color="#b40426"/><stop offset="0.3" stop-color="#cb3e38"/><stop offset="0.4" stop-color="#d6dce4"/><stop offset="0.5" stop-color="#6485ec"/><stop offset="0.6" stop-color="#3f53c6"/><stop offset="0.7" stop-color="#3b4cc0"/><stop offset="0.8" stop-color="#3b4cc0"/><stop offset="0.9" stop-color="#3b4cc0"/><stop offset="1" stop-color="#3b4cc0"/></linearGradient><linearGradient id="h89" x1="0.5" x2="1" spreadMethod="reflect"><stop offset="0" stop-color="#b40426"/><stop offset="0.1" stop-color="#b40426"/><stop offset="0.2" stop-color="#b40426"/><stop offset="0.3" stop-color="#b40426"/><stop offset="0.4" stop-color="#f3c7b1"/><stop offset="0.5" stop-color="#8badfd"/><stop offset="0.6" stop-color="#6687ed"/><stop offset="0.7" stop-color="#6282ea"/><stop offset="0.8" stop-color="#6282ea"/><stop offset="0.9" stop-color="#6282ea"/><stop offset="1" stop-color="#6282ea"/></linearGradient><linearGradient id="h90" x1="0.5" x2="1" spreadMethod="reflect"><stop offset="0" stop-color="#b40426"/><stop offset="0.1" stop-color="#b40426"/><stop offset="0.2" stop-color="#b40426"/><stop offset="0.3" stop-color="#e67259"/><stop offset="0.4" stop-color="#b1cbfc"/><stop offset="0.5" stop-color="#506bda"/><stop offset="0.6" stop-color="#3c4ec2"/><stop offset="0.7" stop-color="#3b4cc0"/><stop offset="0.8" stop-color="#3b4cc0"/><stop offset="0.9" stop-color="#3b4cc0"/><stop offset="1" stop-color="#3b4cc0"/></linearGradient><linearGradient id="h91" x1="0.5" x2="1" spreadMethod="reflect"><stop offset="0" stop-color="#b40426"/><stop offset="0.1" stop-color="#b40426"/><stop offset="0.2" stop-color="#b40426"/><stop offset="0.3" stop-color="#f39577"/><stop offset="0.4" stop-color="#98b9ff"/><stop offset="0.5" stop-color="#485fd1"/><stop offset="0.6" stop-color="#3b4cc0"/><stop offset="0.7" stop-color="#3b4cc0"/><stop offset="0.8" stop-color="#3b4cc0"/><stop offset="0.9" stop-color="#3b4cc0"/><stop offset="1" stop-color="#3b4cc0"/></linearGradient><linearGradient id="h92" x1="0.5" x2="1" spreadMethod="reflect"><stop offset="0" stop-color="#b40426"/><stop offset="0.1" stop-color="#b40426"/><stop offset="0.2" stop-color="#b40426"/><stop offset="0.3" stop-color="#f7b194"/><stop offset="0.4" stop-color="#88abfd"/><stop offset="0.5" stop-color="#445acc"/><stop offset="0.6" stop-color="#3b4cc0"/><stop offset="0.7" stop-color="#3b4cc0"/><stop offset="0.8" stop-color="#3b4cc0"/><stop offset="0.9" stop-color="#3b4cc0"/><stop offset="1" stop-color="#3b4cc0"/></linearGradient><linearGradient id="h93" x1="0.5" x2="1" spreadMethod="reflect"><stop offset="0" stop-color="#b40426"/><stop offset="0.1" stop-color="#b40426"/><stop offset="0.2" stop-color="#b40426"/><stop offset="0.3" stop-color="#f7b396"/><stop offset="0.4" stop-color="#88abfd"/><stop offset="0.5" stop-color="#465ecf"/><stop offset="0.6" stop-color="#3c4ec2"/><stop offset="0.7" stop-color="#3c4ec2"/><stop offset="0.8" stop-color="#3c4ec2"/><stop offset="0.9" stop-color="#3c4ec2"/><stop offset="1" stop-color="#3c4ec2"/></linearGradient><linearGradient id="h94" x1="0.5" x2="1" spreadMethod="reflect"><stop offset="0" stop-color="#b40426"/><stop offset="0.1" stop-color="#b40426"/><stop offset="0.2" stop-color="#b40426"/><stop offset="0.3" stop-color="#f5c2aa"/><stop offset="0.4" stop-color="#82a6fb"/><stop offset="0.5" stop-color="#485fd1"/><stop offset="0.6" stop-color="#3d50c3"/><stop offset="0.7" stop-color="#3c4ec2"/><stop offset="0.8" stop-color="#3c4ec2"/><stop offset="0.9" stop-color="#3c4ec2"/><stop offset="1" stop-color="#3c4ec2"/></linearGradient><linearGradient id="h95" x1="0.5" x2="1" spreadMethod="reflect"><stop offset="0" stop-color="#b40426"/><stop offset="0.1" stop-color="#b40426"/><stop offset="0.2" stop-color="#bb1b2c"/><stop offset="0.3" stop-color="#ead5c9"/><stop offset="0.4" stop-color="#7a9df8"/><stop offset="0.5" stop-color="#455cce"/><stop offset="0.6" stop-color="#3b4cc0"/><stop offset="0.7" stop-color="#3b4cc0"/><stop offset="0.8" stop-color="#3b4cc0"/><stop offset="0.9" stop-color="#3b4cc0"/><stop offset="1" stop-color="#3b4cc0"/></linearGradient><linearGradient id="h96" x1="0.5" x2="1" spreadMethod="reflect"><stop offset="0" stop-color="#b40426"/><stop offset="0.1" stop-color="#b40426"/><stop offset="0.2" stop-color="#d0473d"/><stop offset="0.3" stop-color="#dfdbd9"/><stop offset="0.4" stop-color="#779af7"/><stop offset="0.5" stop-color="#485fd1"/><stop offset="0.6" stop-color="#3c4ec2"/><stop offset="0.7" stop-color="#3b4cc0"/><stop offset="0.8" stop-color="#3b4cc0"/><stop offset="0.9" stop-color="#3b4cc0"/><stop offset="1" stop-color="#3b4cc0"/></linearGradient><linearGradient id="h97" x1="0.5" x2="1" spreadMethod="reflect"><stop offset="0" stop-color="#b40426"/><stop offset="0.1" stop-color="#b40426"/><stop offset="0.2" stop-color="#e26952"/><stop offset="0.3" stop-color="#d6dce4"/><stop offset="0.4" stop-color="#799cf8"/><stop offset="0.5" stop-color="#4c66d6"/><stop offset="0.6" stop-color="#4055c8"/><stop offset="0.7" stop-color="#3e51c5"/><stop offset="0.8" stop-color="#3e51c5"/><stop offset="0.9" stop-color="#3e51c5"/><stop offset="1" stop-color="#3e51c5"/></linearGradient><linearGradient id="h98" x1="0.5" x2="1" spreadMethod="reflect"><stop offset="0" stop-color="#b40426"/><stop offset="0.1" stop-color="#b40426"/><stop offset="0.2" stop-color="#ed8366"/><stop offset="0.3" stop-color="#d1dae9"/><stop offset="0.4" stop-color="#7ea1fa"/><stop offset="0.5" stop-color="#5572df"/><stop offset="0.6" stop-color="#4961d2"/><stop offset="0.7" stop-color="#455cce"/><stop offset="0.8" stop-color="#445acc"/><stop offset="0.9" stop-color="#445acc"/><stop offset="1" stop-color="#445acc"/></linearGradient><linearGradient id="h99" x1="0.5" x2="1" spreadMethod="reflect"><stop offset="0" stop-color="#b40426"/><stop offset="0.1" stop-color="#b40426"/><stop offset="0.2" stop-color="#f49a7b"/><stop offset="0.3" stop-color="#cedaeb"/><stop offset="0.4" stop-color="#86a9fc"/><stop offset="0.5" stop-color="#5f7fe8"/><stop offset="0.6" stop-color="#506bda"/><stop offset="0.7" stop-color="#4c66d6"/><stop offset="0.8" stop-color="#4b64d5"/><stop offset="0.9" stop-color="#4b64d5"/><stop offset="1" stop-color="#4b64d5"/></linearGradient><linearGradient id="h100" x1="0.5" x2="1" spreadMethod="reflect"><stop offset="0" stop-color="#dc5d4a"/><stop offset="0.1" stop-color="#ee8669"/><stop offset="0.2" stop-color="#efcebd"/><stop offset="0.3" stop-color="#afcafc"/><stop offset="0.4" stop-color="#7295f4"/><stop offset="0.5" stop-color="#516ddb"/><stop offset="0.6" stop-color="#4358cb"/><stop offset="0.7" stop-color="#3f53c6"/><stop offset="0.8" stop-color="#3d50c3"/><stop offset="0.9" stop-color="#3d50c3"/><stop offset="1" stop-color="#3d50c3"/></linearGradient><linearGradient id="h101" x1="0.5" x2="1" spreadMethod="reflect"><stop offset="0" stop-color="#f3c8b2"/><stop offset="0.1" stop-color="#ead4c8"/><stop offset="0.2" stop-color="#c5d6f2"/><stop offset="0.3" stop-color="#90b2fe"/><stop offset="0.4" stop-color="#6384eb"/><stop offset="0.5" stop-color="#4b64d5"/><stop offset="0.6" stop-color="#3f53c6"/><stop offset="0.7" stop-color="#3c4ec2"/><stop offset="0.8" stop-color="#3b4cc0"/><stop offset="0.9" stop-color="#3b4cc0"/><stop offset="1" stop-color="#3b4cc0"/></linearGradient><linearGradient id="h102" x1="0.5" x2="1" spreadMethod="reflect"><stop offset="0" stop-color="#b40426"/><stop offset="0.1" stop-color="#b40426"/><stop offset="0.2" stop-color="#b40426"/><stop offset="0.3" stop-color="#b40426"/><stop offset="0.4" stop-color="#b40426"/><stop offset="0.5" stop-color="#e57058"/><stop offset="0.6" stop-color="#eed0c0"/><stop offset="0.7" stop-color="#a2c1ff"/><stop offset="0.8" stop-color="#80a3fa"/><stop offset="0.9" stop-color="#80a3fa"/><stop offset="1" stop-color="#80a3fa"/></linearGradient><linearGradient id="h103" x1="0.5" x2="1" spreadMethod="reflect"><stop offset="0" stop-color="#b40426"/><stop offset="0.1" stop-color="#b40426"/><stop offset="0.2" stop-color="#b40426"/><stop offset="0.3" stop-color="#b40426"/><stop offset="0.4" stop-color="#b40426"/><stop offset="0.5" stop-color="#c83836"/><stop offset="0.6" stop-color="#f5c2aa"/><stop offset="0.7" stop-color="#aac7fd"/><stop offset="0.8" stop-color="#7a9df8"/><stop offset="0.9" stop-color="#7a9df8"/><stop offset="1" stop-color="#7a9df8"/></linearGradient><linearGradient id="h104" x1="0.5" x2="1" spreadMethod="reflect"><stop offset="0" stop-color="#b40426"/><stop offset="0.1" stop-color="#b40426"/><stop offset="0.2" stop-color="#b40426"/><stop offset="0.3" stop-color="#b40426"/><stop offset="0.4" stop-color="#b40426"/><stop offset="0.5" stop-color="#e8765c"/><stop offset="0.6" stop-color="#e5d8d1"/><stop offset="0.7" stop-color="#93b5fe"/><stop offset="0.8" stop-color="#5875e1"/><stop offset="0.9" stop-color="#4055c8"/><stop offset="1" stop-color="#3b4cc0"/></linearGradient><linearGradient id="h105" x1="0.5" x2="1" spreadMethod="reflect"><stop offset="0" stop-color="#b40426"/><stop offset="0.1" stop-color="#b40426"/><stop offset="0.2" stop-color="#b40426"/><stop offset="0.3" stop-color="#b40426"/><stop offset="0.4" stop-color="#b40426"/><stop offset="0.5" stop-color="#f39577"/><stop offset="0.6" stop-color="#d6dce4"/><stop offset="0.7" stop-color="#85a8fc"/><stop offset="0.8" stop-color="#516ddb"/><stop offset="0.9" stop-color="#3f53c6"/><stop offset="1" stop-color="#3b4cc0"/></linearGradient><linearGradient id="h106" x1="0.5" x2="1" spreadMethod="reflect"><stop offset="0" stop-color="#b40426"/><stop offset="0.1" stop-color="#b40426"/><stop offset="0.2" stop-color="#b40426"/><stop offset="0.3" stop-color="#b40426"/><stop offset="0.4" stop-color="#b40426"/><stop offset="0.5" stop-color="#e26952"/><stop offset="0.6" stop-color="#e7d7ce"/><stop offset="0.7" stop-color="#98b9ff"/><stop offset="0.8" stop-color="#6384eb"/><stop offset="0.9" stop-color="#506bda"/><stop offset="1" stop-color="#4c66d6"/></linearGradient><linearGradient id="h107" x1="0.5" x2="1" spreadMethod="reflect"><stop offset="0" stop-color="#b40426"/><stop offset="0.1" stop-color="#b40426"/><stop offset="0.2" stop-color="#b40426"/><stop offset="0.3" stop-color="#b40426"/><stop offset="0.4" stop-color="#c73635"/><stop offset="0.5" stop-color="#f7b194"/><stop offset="0.6" stop-color="#c1d4f4"/><stop offset="0.7" stop-color="#7597f6"/><stop offset="0.8" stop-color="#4c66d6"/><stop offset="0.9" stop-color="#3e51c5"/><stop offset="1" stop-color="#3c4ec2"/></linearGradient><linearGradient id="h108" x1="0.5" x2="1" spreadMethod="reflect"><stop offset="0" stop-color="#b40426"/><stop offset="0.1" stop-color="#b40426"/><stop offset="0.2" stop-color="#b40426"/><stop offset="0.3" stop-color="#b40426"/><stop offset="0.4" stop-color="#e16751"/><stop offset="0.5" stop-color="#f2c9b4"/><stop offset="0.6" stop-color="#aec9fc"/><stop offset="0.7" stop-color="#688aef"/><stop offset="0.8" stop-color="#485fd1"/><stop offset="0.9" stop-color="#3d50c3"/><stop offset="1" stop-color="#3b4cc0"/></linearGradient><linearGradient id="h109" x1="0.5" x2="1" spreadMethod="reflect"><stop offset="0" stop-color="#b40426"/><stop offset="0.1" stop-color="#b40426"/><stop offset="0.2" stop-color="#b40426"/><stop offset="0.3" stop-color="#b40426"/><stop offset="0.4" stop-color="#b40426"/><stop offset="0.5" stop-color="#f29072"/><stop offset="0.6" stop-color="#d5dbe5"/><stop offset="0.7" stop-color="#8fb1fe"/><stop offset="0.8" stop-color="#6a8bef"/><stop offset="0.9" stop-color="#5e7de7"/><stop offset="1" stop-color="#5b7ae5"/></linearGradient><linearGradient id="h110" x1="0.5" x2="1" spreadMethod="reflect"><stop offset="0" stop-color="#b40426"/><stop offset="0.1" stop-color="#b40426"/><stop offset="0.2" stop-color="#b40426"/><stop offset="0.3" stop-color="#cb3e38"/><stop offset="0.4" stop-color="#f59c7d"/><stop offset="0.5" stop-color="#dbdcde"/><stop offset="0.6" stop-color="#92b4fe"/><stop offset="0.7" stop-color="#5a78e4"/><stop offset="0.8" stop-color="#4358cb"/><stop offset="0.9" stop-color="#3c4ec2"/><stop offset="1" stop-color="#3b4cc0"/></linearGradient><linearGradient id="h111" x1="0.5" x2="1" spreadMethod="reflect"><stop offset="0" stop-color="#bb1b2c"/><stop offset="0.1" stop-color="#bd1f2d"/><stop offset="0.2" stop-color="#cb3e38"/><stop offset="0.3" stop-color="#e9785d"/><stop offset="0.4" stop-color="#f6bfa6"/><stop offset="0.5" stop-color="#c5d6f2"/><stop offset="0.6" stop-color="#80a3fa"/><stop offset="0.7" stop-color="#536edd"/><stop offset="0.8" stop-color="#4055c8"/><stop offset="0.9" stop-color="#3c4ec2"/><stop offset="1" stop-color="#3b4cc0"/></linearGradient><linearGradient id="h112" x1="0.5" x2="1" spreadMethod="reflect"><stop offset="0" stop-color="#c83836"/><stop offset="0.1" stop-color="#cb3e38"/><stop offset="0.2" stop-color="#d85646"/><stop offset="0.3" stop-color="#f18f71"/><stop offset="0.4" stop-color="#f0cdbb"/><stop offset="0.5" stop-color="#b6cefa"/><stop offset="0.6" stop-color="#7597f6"/><stop offset="0.7" stop-color="#4f69d9"/><stop offset="0.8" stop-color="#3f53c6"/><stop offset="0.9" stop-color="#3b4cc0"/><stop offset="1" stop-color="#3b4cc0"/></linearGradient><linearGradient id="h113" x1="0.5" x2="1" spreadMethod="reflect"><stop offset="0" stop-color="#b40426"/><stop offset="0.1" stop-color="#b70d28"/><stop offset="0.2" stop-color="#cb3e38"/><stop offset="0.3" stop-color="#ee8468"/><stop offset="0.4" stop-color="#f1cdba"/><stop offset="0.5" stop-color="#b3cdfb"/><stop offset="0.6" stop-color="#7295f4"/><stop offset="0.7" stop-color="#4c66d6"/><stop offset="0.8" stop-color="#3e51c5"/><stop offset="0.9" stop-color="#3b4cc0"/><stop offset="1" stop-color="#3b4cc0"/></linearGradient><linearGradient id="h114" x1="0.5" x2="1" spreadMethod="reflect"><stop offset="0" stop-color="#b40426"/><stop offset="0.1" stop-color="#b40426"/><stop offset="0.2" stop-color="#b40426"/><stop offset="0.3" stop-color="#d75445"/><stop offset="0.4" stop-color="#f7ba9f"/><stop offset="0.5" stop-color="#bfd3f6"/><stop offset="0.6" stop-color="#7a9df8"/><stop offset="0.7" stop-color="#5673e0"/><stop offset="0.8" stop-color="#4a63d3"/><stop offset="0.9" stop-color="#465ecf"/><stop offset="1" stop-color="#465ecf"/></linearGradient><linearGradient id="h115" x1="0.5" x2="1" spreadMethod="reflect"><stop offset="0" stop-color="#b40426"/><stop offset="0.1" stop-color="#b40426"/><stop offset="0.2" stop-color="#b40426"/><stop offset="0.3" stop-color="#d85646"/><stop offset="0.4" stop-color="#f5c1a9"/><stop offset="0.5" stop-color="#b7cff9"/><stop offset="0.6" stop-color="#7597f6"/><stop offset="0.7" stop-color="#5572df"/><stop offset="0.8" stop-color="#4b64d5"/><stop offset="0.9" stop-color="#4a63d3"/><stop offset="1" stop-color="#4a63d3"/></linearGradient><linearGradient id="h116" x1="0.5" x2="1" spreadMethod="reflect"><stop offset="0" stop-color="#b40426"/><stop offset="0.1" stop-color="#b40426"/><stop offset="0.2" stop-color="#b40426"/><stop offset="0.3" stop-color="#d85646"/><stop offset="0.4" stop-color="#f4c5ad"/><stop offset="0.5" stop-color="#b1cbfc"/><stop offset="0.6" stop-color="#7295f4"/><stop offset="0.7" stop-color="#5875e1"/><stop offset="0.8" stop-color="#506bda"/><stop offset="0.9" stop-color="#4f69d9"/><stop offset="1" stop-color="#4f69d9"/></linearGradient><linearGradient id="h117" x1="0.5" x2="1" spreadMethod="reflect"><stop offset="0" stop-color="#b40426"/><stop offset="0.1" stop-color="#b40426"/><stop offset="0.2" stop-color="#b40426"/><stop offset="0.3" stop-color="#c83836"/><stop offset="0.4" stop-color="#f6bea4"/><stop offset="0.5" stop-color="#b6cefa"/><stop offset="0.6" stop-color="#7a9df8"/><stop offset="0.7" stop-color="#6384eb"/><stop offset="0.8" stop-color="#5e7de7"/><stop offset="0.9" stop-color="#5d7ce6"/><stop offset="1" stop-color="#5d7ce6"/></linearGradient><linearGradient id="h118" x1="0.5" x2="1" spreadMethod="reflect"><stop offset="0" stop-color="#b40426"/><stop offset="0.1" stop-color="#b40426"/><stop offset="0.2" stop-color="#b40426"/><stop offset="0.3" stop-color="#da5a49"/><stop offset="0.4" stop-color="#efcebd"/><stop offset="0.5" stop-color="#a5c3fe"/><stop offset="0.6" stop-color="#6f92f3"/><stop offset="0.7" stop-color="#5e7de7"/><stop offset="0.8" stop-color="#5a78e4"/><stop offset="0.9" stop-color="#5a78e4"/><stop offset="1" stop-color="#5a78e4"/></linearGradient><linearGradient id="h119" x1="0.5" x2="1" spreadMethod="reflect"><stop offset="0" stop-color="#b40426"/><stop offset="0.1" stop-color="#b40426"/><stop offset="0.2" stop-color="#ca3b37"/><stop offset="0.3" stop-color="#f6a586"/><stop offset="0.4" stop-color="#cbd8ee"/><stop offset="0.5" stop-color="#7b9ff9"/><stop offset="0.6" stop-color="#5470de"/><stop offset="0.7" stop-color="#485fd1"/><stop offset="0.8" stop-color="#465ecf"/><stop offset="0.9" stop-color="#465ecf"/><stop offset="1" stop-color="#465ecf"/></linearGradient><linearGradient id="h120" x1="0.5" x2="1" spreadMethod="reflect"><stop offset="0" stop-color="#b40426"/><stop offset="0.1" stop-color="#b40426"/><stop offset="0.2" stop-color="#b40426"/><stop offset="0.3" stop-color="#f39778"/><stop offset="0.4" stop-color="#cedaeb"/><stop offset="0.5" stop-color="#81a4fb"/><stop offset="0.6" stop-color="#5d7ce6"/><stop offset="0.7" stop-color="#5470de"/><stop offset="0.8" stop-color="#536edd"/><stop offset="0.9" stop-color="#536edd"/><stop offset="1" stop-color="#536edd"/></linearGradient><linearGradient id="h121" x1="0.5" x2="1" spreadMethod="reflect"><stop offset="0" stop-color="#b40426"/><stop offset="0.1" stop-color="#b40426"/><stop offset="0.2" stop-color="#da5a49"/><stop offset="0.3" stop-color="#f5c1a9"/><stop offset="0.4" stop-color="#adc9fd"/><stop offset="0.5" stop-color="#6687ed"/><stop offset="0.6" stop-color="#4c66d6"/><stop offset="0.7" stop-color="#485fd1"/><stop offset="0.8" stop-color="#465ecf"/><stop offset="0.9" stop-color="#465ecf"/><stop offset="1" stop-color="#465ecf"/></linearGradient><linearGradient id="h122" x1="0.5" x2="1" spreadMethod="reflect"><stop offset="0" stop-color="#e16751"/><stop offset="0.1" stop-color="#e46e56"/><stop offset="0.2" stop-color="#f5a081"/><stop offset="0.3" stop-color="#dadce0"/><stop offset="0.4" stop-color="#85a8fc"/><stop offset="0.5" stop-color="#4e68d8"/><stop offset="0.6" stop-color="#3d50c3"/><stop offset="0.7" stop-color="#3b4cc0"/><stop offset="0.8" stop-color="#3b4cc0"/><stop offset="0.9" stop-color="#3b4cc0"/><stop offset="1" stop-color="#3b4cc0"/></linearGradient><linearGradient id="h123" x1="0.5" x2="1" spreadMethod="reflect"><stop offset="0" stop-color="#b40426"/><stop offset="0.1" stop-color="#bb1b2c"/><stop offset="0.2" stop-color="#e57058"/><stop offset="0.3" stop-color="#edd1c2"/><stop offset="0.4" stop-color="#9bbcff"/><stop offset="0.5" stop-color="#5f7fe8"/><stop offset="0.6" stop-color="#4e68d8"/><stop offset="0.7" stop-color="#4a63d3"/><stop offset="0.8" stop-color="#4a63d3"/><stop offset="0.9" stop-color="#4a63d3"/><stop offset="1" stop-color="#4a63d3"/></linearGradient><linearGradient id="h124" x1="0.5" x2="1" spreadMethod="reflect"><stop offset="0" stop-color="#e16751"/><stop offset="0.1" stop-color="#e67259"/><stop offset="0.2" stop-color="#f7aa8c"/><stop offset="0.3" stop-color="#d5dbe5"/><stop offset="0.4" stop-color="#85a8fc"/><stop offset="0.5" stop-color="#516ddb"/><stop offset="0.6" stop-color="#4055c8"/><stop offset="0.7" stop-color="#3d50c3"/><stop offset="0.8" stop-color="#3c4ec2"/><stop offset="0.9" stop-color="#3c4ec2"/><stop offset="1" stop-color="#3c4ec2"/></linearGradient><linearGradient id="h125" x1="0.5" x2="1" spreadMethod="reflect"><stop offset="0" stop-color="#ed8366"/><stop offset="0.1" stop-color="#f18f71"/><stop offset="0.2" stop-color="#f6bea4"/><stop offset="0.3" stop-color="#c9d7f0"/><stop offset="0.4" stop-color="#80a3fa"/><stop offset="0.5" stop-color="#516ddb"/><stop offset="0.6" stop-color="#3f53c6"/><stop offset="0.7" stop-color="#3b4cc0"/><stop offset="0.8" stop-color="#3b4cc0"/><stop offset="0.9" stop-color="#3b4cc0"/><stop offset="1" stop-color="#3b4cc0"/></linearGradient><linearGradient id="h126" x1="0.5" x2="1" spreadMethod="reflect"><stop offset="0" stop-color="#b40426"/><stop offset="0.1" stop-color="#b40426"/><stop offset="0.2" stop-color="#e36b54"/><stop offset="0.3" stop-color="#f3c8b2"/><stop offset="0.4" stop-color="#b7cff9"/><stop offset="0.5" stop-color="#82a6fb"/><stop offset="0.6" stop-color="#6a8bef"/><stop offset="0.7" stop-color="#6384eb"/><stop offset="0.8" stop-color="#6180e9"/><stop offset="0.9" stop-color="#6180e9"/><stop offset="1" stop-color="#6180e9"/></linearGradient><linearGradient id="h127" x1="0.5" x2="1" spreadMethod="reflect"><stop offset="0" stop-color="#e36b54"/><stop offset="0.1" stop-color="#ec7f63"/><stop offset="0.2" stop-color="#f7b79b"/><stop offset="0.3" stop-color="#d3dbe7"/><stop offset="0.4" stop-color="#94b6ff"/><stop offset="0.5" stop-color="#6788ee"/><stop offset="0.6" stop-color="#536edd"/><stop offset="0.7" stop-color="#4b64d5"/><stop offset="0.8" stop-color="#4a63d3"/><stop offset="0.9" stop-color="#4961d2"/><stop offset="1" stop-color="#4961d2"/></linearGradient><linearGradient id="h128" x1="0.5" x2="1" spreadMethod="reflect"><stop offset="0" stop-color="#f7b194"/><stop offset="0.1" stop-color="#f6bfa6"/><stop offset="0.2" stop-color="#e1dad6"/><stop offset="0.3" stop-color="#afcafc"/><stop offset="0.4" stop-color="#799cf8"/><stop offset="0.5" stop-color="#5572df"/><stop offset="0.6" stop-color="#445acc"/><stop offset="0.7" stop-color="#3d50c3"/><stop offset="0.8" stop-color="#3b4cc0"/><stop offset="0.9" stop-color="#3b4cc0"/><stop offset="1" stop-color="#3b4cc0"/></linearGradient><linearGradient id="h129" x1="0.5" x2="1" spreadMethod="reflect"><stop offset="0" stop-color="#f7b396"/><stop offset="0.1" stop-color="#f5c2aa"/><stop offset="0.2" stop-color="#dcdddd"/><stop offset="0.3" stop-color="#abc8fd"/><stop offset="0.4" stop-color="#7a9df8"/><stop offset="0.5" stop-color="#5977e3"/><stop offset="0.6" stop-color="#465ecf"/><stop offset="0.7" stop-color="#3e51c5"/><stop offset="0.8" stop-color="#3c4ec2"/><stop offset="0.9" stop-color="#3b4cc0"/><stop offset="1" stop-color="#3b4cc0"/></linearGradient><linearGradient id="h130" x1="0.5" x2="1" spreadMethod="reflect"><stop offset="0" stop-color="#cf453c"/><stop offset="0.1" stop-color="#e0654f"/><stop offset="0.2" stop-color="#f7a688"/><stop offset="0.3" stop-color="#e5d8d1"/><stop offset="0.4" stop-color="#b7cff9"/><stop offset="0.5" stop-color="#90b2fe"/><stop offset="0.6" stop-color="#799cf8"/><stop offset="0.7" stop-color="#6e90f2"/><stop offset="0.8" stop-color="#6a8bef"/><stop offset="0.9" stop-color="#688aef"/><stop offset="1" stop-color="#688aef"/></linearGradient><linearGradient id="h131" x1="0.5" x2="1" spreadMethod="reflect"><stop offset="0" stop-color="#d6dce4"/><stop offset="0.1" stop-color="#9dbdff"/><stop offset="0.2" stop-color="#5f7fe8"/><stop offset="0.3" stop-color="#4e68d8"/><stop offset="0.4" stop-color="#485fd1"/><stop offset="0.5" stop-color="#455cce"/><stop offset="0.6" stop-color="#455cce"/><stop offset="0.7" stop-color="#455cce"/><stop offset="0.8" stop-color="#455cce"/><stop offset="0.9" stop-color="#455cce"/><stop offset="1" stop-color="#455cce"/></linearGradient><linearGradient id="h132" x1="0.5" x2="1" spreadMethod="reflect"><stop offset="0" stop-color="#f7bca1"/><stop offset="0.1" stop-color="#c1d4f4"/><stop offset="0.2" stop-color="#6b8df0"/><stop offset="0.3" stop-color="#5470de"/><stop offset="0.4" stop-color="#4b64d5"/><stop offset="0.5" stop-color="#4961d2"/><stop offset="0.6" stop-color="#485fd1"/><stop offset="0.7" stop-color="#485fd1"/><stop offset="0.8" stop-color="#485fd1"/><stop offset="0.9" stop-color="#485fd1"/><stop offset="1" stop-color="#485fd1"/></linearGradient><linearGradient id="h133" x1="0.5" x2="1" spreadMethod="reflect"><stop offset="0" stop-color="#4257c9"/><stop offset="0.1" stop-color="#4257c9"/><stop offset="0.2" stop-color="#3f53c6"/><stop offset="0.3" stop-color="#3d50c3"/><stop offset="0.4" stop-color="#3c4ec2"/><stop offset="0.5" stop-color="#3c4ec2"/><stop offset="0.6" stop-color="#3c4ec2"/><stop offset="0.7" stop-color="#3c4ec2"/><stop offset="0.8" stop-color="#3c4ec2"/><stop offset="0.9" stop-color="#3c4ec2"/><stop offset="1" stop-color="#3c4ec2"/></linearGradient><linearGradient id="h134" x1="0.5" x2="1" spreadMethod="reflect"><stop offset="0" stop-color="#3f53c6"/><stop offset="0.1" stop-color="#3f53c6"/><stop offset="0.2" stop-color="#3d50c3"/><stop offset="0.3" stop-color="#3c4ec2"/><stop offset="0.4" stop-color="#3c4ec2"/><stop offset="0.5" stop-color="#3b4cc0"/><stop offset="0.6" stop-color="#3b4cc0"/><stop offset="0.7" stop-color="#3b4cc0"/><stop offset="0.8" stop-color="#3b4cc0"/><stop offset="0.9" stop-color="#3b4cc0"/><stop offset="1" stop-color="#3b4cc0"/></linearGradient><linearGradient id="h135" x1="0.5" x2="1" spreadMethod="reflect"><stop offset="0" stop-color="#6180e9"/><stop offset="0.1" stop-color="#5b7ae5"/><stop offset="0.2" stop-color="#516ddb"/><stop offset="0.3" stop-color="#4961d2"/><stop offset="0.4" stop-color="#445acc"/><stop offset="0.5" stop-color="#4358cb"/><stop offset="0.6" stop-color="#4358cb"/><stop offset="0.7" stop-color="#4358cb"/><stop offset="0.8" stop-color="#4358cb"/><stop offset="0.9" stop-color="#4358cb"/><stop offset="1" stop-color="#4358cb"/></linearGradient><linearGradient id="h136" x1="0.5" x2="1" spreadMethod="reflect"><stop offset="0" stop-color="#86a9fc"/><stop offset="0.1" stop-color="#7ea1fa"/><stop offset="0.2" stop-color="#6a8bef"/><stop offset="0.3" stop-color="#5875e1"/><stop offset="0.4" stop-color="#4f69d9"/><stop offset="0.5" stop-color="#4b64d5"/><stop offset="0.6" stop-color="#4b64d5"/><stop offset="0.7" stop-color="#4b64d5"/><stop offset="0.8" stop-color="#4a63d3"/><stop offset="0.9" stop-color="#4a63d3"/><stop offset="1" stop-color="#4a63d3"/></linearGradient><linearGradient id="h137" x1="0.5" x2="1" spreadMethod="reflect"><stop offset="0" stop-color="#6282ea"/><stop offset="0.1" stop-color="#5d7ce6"/><stop offset="0.2" stop-color="#536edd"/><stop offset="0.3" stop-color="#4a63d3"/><stop offset="0.4" stop-color="#455cce"/><stop offset="0.5" stop-color="#4358cb"/><stop offset="0.6" stop-color="#4358cb"/><stop offset="0.7" stop-color="#4358cb"/><stop offset="0.8" stop-color="#4358cb"/><stop offset="0.9" stop-color="#4358cb"/><stop offset="1" stop-color="#4358cb"/></linearGradient><linearGradient id="h138" x1="0.5" x2="1" spreadMethod="reflect"><stop offset="0" stop-color="#3b4cc0"/><stop offset="0.1" stop-color="#3b4cc0"/><stop offset="0.2" stop-color="#3b4cc0"/><stop offset="0.3" stop-color="#3b4cc0"/><stop offset="0.4" stop-color="#3b4cc0"/><stop offset="0.5" stop-color="#3b4cc0"/><stop offset="0.6" stop-color="#3b4cc0"/><stop offset="0.7" stop-color="#3b4cc0"/><stop offset="0.8" stop-color="#3b4cc0"/><stop offset="0.9" stop-color="#3b4cc0"/><stop offset="1" stop-color="#3b4cc0"/></linearGradient><linearGradient id="h139" x1="0.5" x2="1" spreadMethod="reflect"><stop offset="0" stop-color="#4358cb"/><stop offset="0.1" stop-color="#4257c9"/><stop offset="0.2" stop-color="#3f53c6"/><stop offset="0.3" stop-color="#3d50c3"/><stop offset="0.4" stop-color="#3c4ec2"/><stop offset="0.5" stop-color="#3c4ec2"/><stop offset="0.6" stop-color="#3c4ec2"/><stop offset="0.7" stop-color="#3c4ec2"/><stop offset="0.8" stop-color="#3c4ec2"/><stop offset="0.9" stop-color="#3c4ec2"/><stop offset="1" stop-color="#3c4ec2"/></linearGradient><linearGradient id="h140" x1="0.5" x2="1" spreadMethod="reflect"><stop offset="0" stop-color="#5572df"/><stop offset="0.1" stop-color="#516ddb"/><stop offset="0.2" stop-color="#4b64d5"/><stop offset="0.3" stop-color="#455cce"/><stop offset="0.4" stop-color="#4257c9"/><stop offset="0.5" stop-color="#4055c8"/><stop offset="0.6" stop-color="#4055c8"/><stop offset="0.7" stop-color="#4055c8"/><stop offset="0.8" stop-color="#4055c8"/><stop offset="0.9" stop-color="#4055c8"/><stop offset="1" stop-color="#3f53c6"/></linearGradient><linearGradient id="h141" x1="0.5" x2="1" spreadMethod="reflect"><stop offset="0" stop-color="#7093f3"/><stop offset="0.1" stop-color="#6a8bef"/><stop offset="0.2" stop-color="#5b7ae5"/><stop offset="0.3" stop-color="#4f69d9"/><stop offset="0.4" stop-color="#4961d2"/><stop offset="0.5" stop-color="#465ecf"/><stop offset="0.6" stop-color="#465ecf"/><stop offset="0.7" stop-color="#465ecf"/><stop offset="0.8" stop-color="#465ecf"/><stop offset="0.9" stop-color="#465ecf"/><stop offset="1" stop-color="#465ecf"/></linearGradient><linearGradient id="h142" x1="0.5" x2="1" spreadMethod="reflect"><stop offset="0" stop-color="#5673e0"/><stop offset="0.1" stop-color="#536edd"/><stop offset="0.2" stop-color="#4b64d5"/><stop offset="0.3" stop-color="#455cce"/><stop offset="0.4" stop-color="#4257c9"/><stop offset="0.5" stop-color="#4055c8"/><stop offset="0.6" stop-color="#4055c8"/><stop offset="0.7" stop-color="#4055c8"/><stop offset="0.8" stop-color="#4055c8"/><stop offset="0.9" stop-color="#4055c8"/><stop offset="1" stop-color="#4055c8"/></linearGradient><linearGradient id="h143" x1="0.5" x2="1" spreadMethod="reflect"><stop offset="0" stop-color="#4e68d8"/><stop offset="0.1" stop-color="#4b64d5"/><stop offset="0.2" stop-color="#465ecf"/><stop offset="0.3" stop-color="#4257c9"/><stop offset="0.4" stop-color="#3f53c6"/><stop offset="0.5" stop-color="#3e51c5"/><stop offset="0.6" stop-color="#3e51c5"/><stop offset="0.7" stop-color="#3e51c5"/><stop offset="0.8" stop-color="#3e51c5"/><stop offset="0.9" stop-color="#3e51c5"/><stop offset="1" stop-color="#3e51c5"/></linearGradient><linearGradient id="h144" x1="0.5" x2="1" spreadMethod="reflect"><stop offset="0" stop-color="#506bda"/><stop offset="0.1" stop-color="#4e68d8"/><stop offset="0.2" stop-color="#485fd1"/><stop offset="0.3" stop-color="#4358cb"/><stop offset="0.4" stop-color="#4055c8"/><stop offset="0.5" stop-color="#3f53c6"/><stop offset="0.6" stop-color="#3f53c6"/><stop offset="0.7" stop-color="#3f53c6"/><stop offset="0.8" stop-color="#3f53c6"/><stop offset="0.9" stop-color="#3f53c6"/><stop offset="1" stop-color="#3f53c6"/></linearGradient><linearGradient id="h145" x1="0.5" x2="1" spreadMethod="reflect"><stop offset="0" stop-color="#5b7ae5"/><stop offset="0.1" stop-color="#5875e1"/><stop offset="0.2" stop-color="#4f69d9"/><stop offset="0.3" stop-color="#485fd1"/><stop offset="0.4" stop-color="#4358cb"/><stop offset="0.5" stop-color="#4257c9"/><stop offset="0.6" stop-color="#4257c9"/><stop offset="0.7" stop-color="#4257c9"/><stop offset="0.8" stop-color="#4257c9"/><stop offset="0.9" stop-color="#4257c9"/><stop offset="1" stop-color="#4257c9"/></linearGradient><linearGradient id="h146" x1="0.5" x2="1" spreadMethod="reflect"><stop offset="0" stop-color="#445acc"/><stop offset="0.1" stop-color="#4358cb"/><stop offset="0.2" stop-color="#4055c8"/><stop offset="0.3" stop-color="#3e51c5"/><stop offset="0.4" stop-color="#3d50c3"/><stop offset="0.5" stop-color="#3c4ec2"/><stop offset="0.6" stop-color="#3c4ec2"/><stop offset="0.7" stop-color="#3c4ec2"/><stop offset="0.8" stop-color="#3c4ec2"/><stop offset="0.9" stop-color="#3c4ec2"/><stop offset="1" stop-color="#3c4ec2"/></linearGradient><linearGradient id="h147" x1="0.5" x2="1" spreadMethod="reflect"><stop offset="0" stop-color="#5673e0"/><stop offset="0.1" stop-color="#536edd"/><stop offset="0.2" stop-color="#4c66d6"/><stop offset="0.3" stop-color="#455cce"/><stop offset="0.4" stop-color="#4257c9"/><stop offset="0.5" stop-color="#4055c8"/><stop offset="0.6" stop-color="#4055c8"/><stop offset="0.7" stop-color="#4055c8"/><stop offset="0.8" stop-color="#4055c8"/><stop offset="0.9" stop-color="#4055c8"/><stop offset="1" stop-color="#4055c8"/></linearGradient><linearGradient id="h148" x1="0.5" x2="1" spreadMethod="reflect"><stop offset="0" stop-color="#5e7de7"/><stop offset="0.1" stop-color="#5977e3"/><stop offset="0.2" stop-color="#506bda"/><stop offset="0.3" stop-color="#485fd1"/><stop offset="0.4" stop-color="#445acc"/><stop offset="0.5" stop-color="#4358cb"/><stop offset="0.6" stop-color="#4257c9"/><stop offset="0.7" stop-color="#4257c9"/><stop offset="0.8" stop-color="#4257c9"/><stop offset="0.9" stop-color="#4257c9"/><stop offset="1" stop-color="#4257c9"/></linearGradient><linearGradient id="h149" x1="0.5" x2="1" spreadMethod="reflect"><stop offset="0" stop-color="#84a7fc"/><stop offset="0.1" stop-color="#7b9ff9"/><stop offset="0.2" stop-color="#6788ee"/><stop offset="0.3" stop-color="#5875e1"/><stop offset="0.4" stop-color="#4e68d8"/><stop offset="0.5" stop-color="#4b64d5"/><stop offset="0.6" stop-color="#4a63d3"/><stop offset="0.7" stop-color="#4a63d3"/><stop offset="0.8" stop-color="#4a63d3"/><stop offset="0.9" stop-color="#4a63d3"/><stop offset="1" stop-color="#4a63d3"/></linearGradient><linearGradient id="h150" x1="0.5" x2="1" spreadMethod="reflect"><stop offset="0" stop-color="#5572df"/><stop offset="0.1" stop-color="#516ddb"/><stop offset="0.2" stop-color="#4b64d5"/><stop offset="0.3" stop-color="#455cce"/><stop offset="0.4" stop-color="#4257c9"/><stop offset="0.5" stop-color="#4055c8"/><stop offset="0.6" stop-color="#4055c8"/><stop offset="0.7" stop-color="#3f53c6"/><stop offset="0.8" stop-color="#3f53c6"/><stop offset="0.9" stop-color="#3f53c6"/><stop offset="1" stop-color="#3f53c6"/></linearGradient><linearGradient id="h151" x1="0.5" x2="1" spreadMethod="reflect"><stop offset="0" stop-color="#7093f3"/><stop offset="0.1" stop-color="#6a8bef"/><stop offset="0.2" stop-color="#5b7ae5"/><stop offset="0.3" stop-color="#506bda"/><stop offset="0.4" stop-color="#4961d2"/><stop offset="0.5" stop-color="#465ecf"/><stop offset="0.6" stop-color="#465ecf"/><stop offset="0.7" stop-color="#465ecf"/><stop offset="0.8" stop-color="#465ecf"/><stop offset="0.9" stop-color="#465ecf"/><stop offset="1" stop-color="#465ecf"/></linearGradient><linearGradient id="h152" x1="0.5" x2="1" spreadMethod="reflect"><stop offset="0" stop-color="#3d50c3"/><stop offset="0.1" stop-color="#3c4ec2"/><stop offset="0.2" stop-color="#3c4ec2"/><stop offset="0.3" stop-color="#3b4cc0"/><stop offset="0.4" stop-color="#3b4cc0"/><stop offset="0.5" stop-color="#3b4cc0"/><stop offset="0.6" stop-color="#3b4cc0"/><stop offset="0.7" stop-color="#3b4cc0"/><stop offset="0.8" stop-color="#3b4cc0"/><stop offset="0.9" stop-color="#3b4cc0"/><stop offset="1" stop-color="#3b4cc0"/></linearGradient><linearGradient id="h153" x1="0.5" x2="1" spreadMethod="reflect"><stop offset="0" stop-color="#6e90f2"/><stop offset="0.1" stop-color="#6788ee"/><stop offset="0.2" stop-color="#5a78e4"/><stop offset="0.3" stop-color="#4f69d9"/><stop offset="0.4" stop-color="#4961d2"/><stop offset="0.5" stop-color="#465ecf"/><stop offset="0.6" stop-color="#455cce"/><stop offset="0.7" stop-color="#455cce"/><stop offset="0.8" stop-color="#455cce"/><stop offset="0.9" stop-color="#455cce"/><stop offset="1" stop-color="#455cce"/></linearGradient><linearGradient id="h154" x1="0.5" x2="1" spreadMethod="reflect"><stop offset="0" stop-color="#5b7ae5"/><stop offset="0.1" stop-color="#5673e0"/><stop offset="0.2" stop-color="#4f69d9"/><stop offset="0.3" stop-color="#485fd1"/><stop offset="0.4" stop-color="#4358cb"/><stop offset="0.5" stop-color="#4257c9"/><stop offset="0.6" stop-color="#4257c9"/><stop offset="0.7" stop-color="#4257c9"/><stop offset="0.8" stop-color="#4257c9"/><stop offset="0.9" stop-color="#4257c9"/><stop offset="1" stop-color="#4257c9"/></linearGradient><linearGradient id="h155" x1="0.5" x2="1" spreadMethod="reflect"><stop offset="0" stop-color="#4961d2"/><stop offset="0.1" stop-color="#485fd1"/><stop offset="0.2" stop-color="#4358cb"/><stop offset="0.3" stop-color="#3f53c6"/><stop offset="0.4" stop-color="#3e51c5"/><stop offset="0.5" stop-color="#3d50c3"/><stop offset="0.6" stop-color="#3d50c3"/><stop offset="0.7" stop-color="#3d50c3"/><stop offset="0.8" stop-color="#3d50c3"/><stop offset="0.9" stop-color="#3d50c3"/><stop offset="1" stop-color="#3d50c3"/></linearGradient><linearGradient id="h156" x1="0.5" x2="1" spreadMethod="reflect"><stop offset="0" stop-color="#5673e0"/><stop offset="0.1" stop-color="#536edd"/><stop offset="0.2" stop-color="#4b64d5"/><stop offset="0.3" stop-color="#455cce"/><stop offset="0.4" stop-color="#4257c9"/><stop offset="0.5" stop-color="#4055c8"/><stop offset="0.6" stop-color="#4055c8"/><stop offset="0.7" stop-color="#4055c8"/><stop offset="0.8" stop-color="#4055c8"/><stop offset="0.9" stop-color="#4055c8"/><stop offset="1" stop-color="#4055c8"/></linearGradient><linearGradient id="h157" x1="0.5" x2="1" spreadMethod="reflect"><stop offset="0" stop-color="#6f92f3"/><stop offset="0.1" stop-color="#688aef"/><stop offset="0.2" stop-color="#5b7ae5"/><stop offset="0.3" stop-color="#4f69d9"/><stop offset="0.4" stop-color="#4961d2"/><stop offset="0.5" stop-color="#465ecf"/><stop offset="0.6" stop-color="#455cce"/><stop offset="0.7" stop-color="#455cce"/><stop offset="0.8" stop-color="#455cce"/><stop offset="0.9" stop-color="#455cce"/><stop offset="1" stop-color="#455cce"/></linearGradient><linearGradient id="h158" x1="0.5" x2="1" spreadMethod="reflect"><stop offset="0" stop-color="#4e68d8"/><stop offset="0.1" stop-color="#4c66d6"/><stop offset="0.2" stop-color="#465ecf"/><stop offset="0.3" stop-color="#4257c9"/><stop offset="0.4" stop-color="#3f53c6"/><stop offset="0.5" stop-color="#3e51c5"/><stop offset="0.6" stop-color="#3e51c5"/><stop offset="0.7" stop-color="#3e51c5"/><stop offset="0.8" stop-color="#3e51c5"/><stop offset="0.9" stop-color="#3e51c5"/><stop offset="1" stop-color="#3e51c5"/></linearGradient><linearGradient id="h159" x1="0.5" x2="1" spreadMethod="reflect"><stop offset="0" stop-color="#7396f5"/><stop offset="0.1" stop-color="#6b8df0"/><stop offset="0.2" stop-color="#5d7ce6"/><stop offset="0.3" stop-color="#506bda"/><stop offset="0.4" stop-color="#4a63d3"/><stop offset="0.5" stop-color="#485fd1"/><stop offset="0.6" stop-color="#465ecf"/><stop offset="0.7" stop-color="#465ecf"/><stop offset="0.8" stop-color="#465ecf"/><stop offset="0.9" stop-color="#465ecf"/><stop offset="1" stop-color="#465ecf"/></linearGradient><linearGradient id="h160" x1="0.5" x2="1" spreadMethod="reflect"><stop offset="0" stop-color="#b40426"/><stop offset="0.1" stop-color="#b40426"/><stop offset="0.2" stop-color="#b40426"/><stop offset="0.3" stop-color="#e36c55"/><stop offset="0.4" stop-color="#bcd2f7"/><stop offset="0.5" stop-color="#5f7fe8"/><stop offset="0.6" stop-color="#4a63d3"/><stop offset="0.7" stop-color="#4a63d3"/><stop offset="0.8" stop-color="#4a63d3"/><stop offset="0.9" stop-color="#4a63d3"/><stop offset="1" stop-color="#4a63d3"/></linearGradient><linearGradient id="h161" x1="0.5" x2="1" spreadMethod="reflect"><stop offset="0" stop-color="#b40426"/><stop offset="0.1" stop-color="#b40426"/><stop offset="0.2" stop-color="#b40426"/><stop offset="0.3" stop-color="#f6a283"/><stop offset="0.4" stop-color="#a2c1ff"/><stop offset="0.5" stop-color="#516ddb"/><stop offset="0.6" stop-color="#4358cb"/><stop offset="0.7" stop-color="#4358cb"/><stop offset="0.8" stop-color="#4358cb"/><stop offset="0.9" stop-color="#4358cb"/><stop offset="1" stop-color="#4358cb"/></linearGradient><linearGradient id="h162" x1="0.5" x2="1" spreadMethod="reflect"><stop offset="0" stop-color="#b40426"/><stop offset="0.1" stop-color="#b40426"/><stop offset="0.2" stop-color="#b40426"/><stop offset="0.3" stop-color="#b40426"/><stop offset="0.4" stop-color="#e3d9d3"/><stop offset="0.5" stop-color="#85a8fc"/><stop offset="0.6" stop-color="#7295f4"/><stop offset="0.7" stop-color="#7295f4"/><stop offset="0.8" stop-color="#7295f4"/><stop offset="0.9" stop-color="#7295f4"/><stop offset="1" stop-color="#7295f4"/></linearGradient><linearGradient id="h163" x1="0.5" x2="1" spreadMethod="reflect"><stop offset="0" stop-color="#b40426"/><stop offset="0.1" stop-color="#b40426"/><stop offset="0.2" stop-color="#b40426"/><stop offset="0.3" stop-color="#f7ac8e"/><stop offset="0.4" stop-color="#98b9ff"/><stop offset="0.5" stop-color="#516ddb"/><stop offset="0.6" stop-color="#4a63d3"/><stop offset="0.7" stop-color="#4a63d3"/><stop offset="0.8" stop-color="#4a63d3"/><stop offset="0.9" stop-color="#4a63d3"/><stop offset="1" stop-color="#4a63d3"/></linearGradient><linearGradient id="h164" x1="0.5" x2="1" spreadMethod="reflect"><stop offset="0" stop-color="#b40426"/><stop offset="0.1" stop-color="#b40426"/><stop offset="0.2" stop-color="#b40426"/><stop offset="0.3" stop-color="#f4c6af"/><stop offset="0.4" stop-color="#86a9fc"/><stop offset="0.5" stop-color="#4a63d3"/><stop offset="0.6" stop-color="#455cce"/><stop offset="0.7" stop-color="#455cce"/><stop offset="0.8" stop-color="#455cce"/><stop offset="0.9" stop-color="#455cce"/><stop offset="1" stop-color="#455cce"/></linearGradient><linearGradient id="h165" x1="0.5" x2="1" spreadMethod="reflect"><stop offset="0" stop-color="#b40426"/><stop offset="0.1" stop-color="#b40426"/><stop offset="0.2" stop-color="#b40426"/><stop offset="0.3" stop-color="#f1ccb8"/><stop offset="0.4" stop-color="#82a6fb"/><stop offset="0.5" stop-color="#4a63d3"/><stop offset="0.6" stop-color="#4961d2"/><stop offset="0.7" stop-color="#4961d2"/><stop offset="0.8" stop-color="#4961d2"/><stop offset="0.9" stop-color="#4961d2"/><stop offset="1" stop-color="#4961d2"/></linearGradient><linearGradient id="h166" x1="0.5" x2="1" spreadMethod="reflect"><stop offset="0" stop-color="#b40426"/><stop offset="0.1" stop-color="#b40426"/><stop offset="0.2" stop-color="#e8765c"/><stop offset="0.3" stop-color="#d5dbe5"/><stop offset="0.4" stop-color="#6b8df0"/><stop offset="0.5" stop-color="#4358cb"/><stop offset="0.6" stop-color="#4358cb"/><stop offset="0.7" stop-color="#4358cb"/><stop offset="0.8" stop-color="#4358cb"/><stop offset="0.9" stop-color="#4358cb"/><stop offset="1" stop-color="#4358cb"/></linearGradient><linearGradient id="h167" x1="0.5" x2="1" spreadMethod="reflect"><stop offset="0" stop-color="#c12b30"/><stop offset="0.1" stop-color="#cb3e38"/><stop offset="0.2" stop-color="#f49a7b"/><stop offset="0.3" stop-color="#c3d5f4"/><stop offset="0.4" stop-color="#6282ea"/><stop offset="0.5" stop-color="#4358cb"/><stop offset="0.6" stop-color="#4358cb"/><stop offset="0.7" stop-color="#4358cb"/><stop offset="0.8" stop-color="#4358cb"/><stop offset="0.9" stop-color="#4358cb"/><stop offset="1" stop-color="#4358cb"/></linearGradient><linearGradient id="h168" x1="0.5" x2="1" spreadMethod="reflect"><stop offset="0" stop-color="#b40426"/><stop offset="0.1" stop-color="#b40426"/><stop offset="0.2" stop-color="#ed8366"/><stop offset="0.3" stop-color="#cad8ef"/><stop offset="0.4" stop-color="#6687ed"/><stop offset="0.5" stop-color="#4a63d3"/><stop offset="0.6" stop-color="#4a63d3"/><stop offset="0.7" stop-color="#4a63d3"/><stop offset="0.8" stop-color="#4a63d3"/><stop offset="0.9" stop-color="#4a63d3"/><stop offset="1" stop-color="#4a63d3"/></linearGradient><linearGradient id="h169" x1="0.5" x2="1" spreadMethod="reflect"><stop offset="0" stop-color="#e36b54"/><stop offset="0.1" stop-color="#e97a5f"/><stop offset="0.2" stop-color="#f5c0a7"/><stop offset="0.3" stop-color="#a6c4fe"/><stop offset="0.4" stop-color="#5572df"/><stop offset="0.5" stop-color="#4358cb"/><stop offset="0.6" stop-color="#4358cb"/><stop offset="0.7" stop-color="#4358cb"/><stop offset="0.8" stop-color="#4358cb"/><stop offset="0.9" stop-color="#4358cb"/><stop offset="1" stop-color="#4358cb"/></linearGradient><linearGradient id="h170" x1="0.5" x2="1" spreadMethod="reflect"><stop offset="0" stop-color="#f7a889"/><stop offset="0.1" stop-color="#f7b79b"/><stop offset="0.2" stop-color="#dedcdb"/><stop offset="0.3" stop-color="#98b9ff"/><stop offset="0.4" stop-color="#6180e9"/><stop offset="0.5" stop-color="#4e68d8"/><stop offset="0.6" stop-color="#4e68d8"/><stop offset="0.7" stop-color="#4e68d8"/><stop offset="0.8" stop-color="#4e68d8"/><stop offset="0.9" stop-color="#4e68d8"/><stop offset="1" stop-color="#4e68d8"/></linearGradient><linearGradient id="h171" x1="0.5" x2="1" spreadMethod="reflect"><stop offset="0" stop-color="#e4d9d2"/><stop offset="0.1" stop-color="#dcdddd"/><stop offset="0.2" stop-color="#b6cefa"/><stop offset="0.3" stop-color="#799cf8"/><stop offset="0.4" stop-color="#4f69d9"/><stop offset="0.5" stop-color="#4358cb"/><stop offset="0.6" stop-color="#4358cb"/><stop offset="0.7" stop-color="#4358cb"/><stop offset="0.8" stop-color="#4358cb"/><stop offset="0.9" stop-color="#4358cb"/><stop offset="1" stop-color="#4358cb"/></linearGradient><linearGradient id="h172" x1="0.5" x2="1" spreadMethod="reflect"><stop offset="0" stop-color="#9ebeff"/><stop offset="0.1" stop-color="#97b8ff"/><stop offset="0.2" stop-color="#7ea1fa"/><stop offset="0.3" stop-color="#5d7ce6"/><stop offset="0.4" stop-color="#455cce"/><stop offset="0.5" stop-color="#4358cb"/><stop offset="0.6" stop-color="#4358cb"/><stop offset="0.7" stop-color="#4358cb"/><stop offset="0.8" stop-color="#4358cb"/><stop offset="0.9" stop-color="#4358cb"/><stop offset="1" stop-color="#4358cb"/></linearGradient><linearGradient id="h173" x1="0.5" x2="1" spreadMethod="reflect"><stop offset="0" stop-color="#b6cefa"/><stop offset="0.1" stop-color="#aec9fc"/><stop offset="0.2" stop-color="#8fb1fe"/><stop offset="0.3" stop-color="#6485ec"/><stop offset="0.4" stop-color="#4961d2"/><stop offset="0.5" stop-color="#4358cb"/><stop offset="0.6" stop-color="#4358cb"/><stop offset="0.7" stop-color="#4358cb"/><stop offset="0.8" stop-color="#4358cb"/><stop offset="0.9" stop-color="#4358cb"/><stop offset="1" stop-color="#4358cb"/></linearGradient><linearGradient id="h174" x1="0.5" x2="1" spreadMethod="reflect"><stop offset="0" stop-color="#cbd8ee"/><stop offset="0.1" stop-color="#c3d5f4"/><stop offset="0.2" stop-color="#9fbfff"/><stop offset="0.3" stop-color="#6c8ff1"/><stop offset="0.4" stop-color="#4b64d5"/><stop offset="0.5" stop-color="#4358cb"/><stop offset="0.6" stop-color="#4358cb"/><stop offset="0.7" stop-color="#4358cb"/><stop offset="0.8" stop-color="#4358cb"/><stop offset="0.9" stop-color="#4358cb"/><stop offset="1" stop-color="#4358cb"/></linearGradient><linearGradient id="h175" x1="0.5" x2="1" spreadMethod="reflect"><stop offset="0" stop-color="#93b5fe"/><stop offset="0.1" stop-color="#8db0fe"/><stop offset="0.2" stop-color="#7699f6"/><stop offset="0.3" stop-color="#5977e3"/><stop offset="0.4" stop-color="#445acc"/><stop offset="0.5" stop-color="#4358cb"/><stop offset="0.6" stop-color="#4358cb"/><stop offset="0.7" stop-color="#4358cb"/><stop offset="0.8" stop-color="#4358cb"/><stop offset="0.9" stop-color="#4358cb"/><stop offset="1" stop-color="#4358cb"/></linearGradient><linearGradient id="h176" x1="0.5" x2="1" spreadMethod="reflect"><stop offset="0" stop-color="#e9d5cb"/><stop offset="0.1" stop-color="#e0dbd8"/><stop offset="0.2" stop-color="#bad0f8"/><stop offset="0.3" stop-color="#7b9ff9"/><stop offset="0.4" stop-color="#506bda"/><stop offset="0.5" stop-color="#4358cb"/><stop offset="0.6" stop-color="#4358cb"/><stop offset="0.7" stop-color="#4358cb"/><stop offset="0.8" stop-color="#4358cb"/><stop offset="0.9" stop-color="#4358cb"/><stop offset="1" stop-color="#4358cb"/></linearGradient><linearGradient id="h177" x1="0.5" x2="1" spreadMethod="reflect"><stop offset="0" stop-color="#e1dad6"/><stop offset="0.1" stop-color="#d9dce1"/><stop offset="0.2" stop-color="#b3cdfb"/><stop offset="0.3" stop-color="#779af7"/><stop offset="0.4" stop-color="#4f69d9"/><stop offset="0.5" stop-color="#4358cb"/><stop offset="0.6" stop-color="#4358cb"/><stop offset="0.7" stop-color="#4358cb"/><stop offset="0.8" stop-color="#4358cb"/><stop offset="0.9" stop-color="#4358cb"/><stop offset="1" stop-color="#4358cb"/></linearGradient><linearGradient id="h178" x1="0.5" x2="1" spreadMethod="reflect"><stop offset="0" stop-color="#f59f80"/><stop offset="0.1" stop-color="#f7af91"/><stop offset="0.2" stop-color="#e3d9d3"/><stop offset="0.3" stop-color="#9dbdff"/><stop offset="0.4" stop-color="#6282ea"/><stop offset="0.5" stop-color="#4f69d9"/><stop offset="0.6" stop-color="#4f69d9"/><stop offset="0.7" stop-color="#4f69d9"/><stop offset="0.8" stop-color="#4f69d9"/><stop offset="0.9" stop-color="#4f69d9"/><stop offset="1" stop-color="#4f69d9"/></linearGradient><linearGradient id="h179" x1="0.5" x2="1" spreadMethod="reflect"><stop offset="0" stop-color="#cad8ef"/><stop offset="0.1" stop-color="#c3d5f4"/><stop offset="0.2" stop-color="#9fbfff"/><stop offset="0.3" stop-color="#6c8ff1"/><stop offset="0.4" stop-color="#4b64d5"/><stop offset="0.5" stop-color="#4358cb"/><stop offset="0.6" stop-color="#4358cb"/><stop offset="0.7" stop-color="#4358cb"/><stop offset="0.8" stop-color="#4358cb"/><stop offset="0.9" stop-color="#4358cb"/><stop offset="1" stop-color="#4358cb"/></linearGradient><linearGradient id="h180" x1="0.5" x2="1" spreadMethod="reflect"><stop offset="0" stop-color="#e3d9d3"/><stop offset="0.1" stop-color="#dbdcde"/><stop offset="0.2" stop-color="#b5cdfa"/><stop offset="0.3" stop-color="#799cf8"/><stop offset="0.4" stop-color="#4f69d9"/><stop offset="0.5" stop-color="#4358cb"/><stop offset="0.6" stop-color="#4358cb"/><stop offset="0.7" stop-color="#4358cb"/><stop offset="0.8" stop-color="#4358cb"/><stop offset="0.9" stop-color="#4358cb"/><stop offset="1" stop-color="#4358cb"/></linearGradient><linearGradient id="h181" x1="0.5" x2="1" spreadMethod="reflect"><stop offset="0" stop-color="#f7b79b"/><stop offset="0.1" stop-color="#f5c4ac"/><stop offset="0.2" stop-color="#d5dbe5"/><stop offset="0.3" stop-color="#90b2fe"/><stop offset="0.4" stop-color="#5b7ae5"/><stop offset="0.5" stop-color="#4a63d3"/><stop offset="0.6" stop-color="#4a63d3"/><stop offset="0.7" stop-color="#4a63d3"/><stop offset="0.8" stop-color="#4a63d3"/><stop offset="0.9" stop-color="#4a63d3"/><stop offset="1" stop-color="#4a63d3"/></linearGradient><linearGradient id="h182" x1="0.5" x2="1" spreadMethod="reflect"><stop offset="0" stop-color="#f7ac8e"/><stop offset="0.1" stop-color="#f7ba9f"/><stop offset="0.2" stop-color="#dcdddd"/><stop offset="0.3" stop-color="#96b7ff"/><stop offset="0.4" stop-color="#5e7de7"/><stop offset="0.5" stop-color="#4c66d6"/><stop offset="0.6" stop-color="#4c66d6"/><stop offset="0.7" stop-color="#4c66d6"/><stop offset="0.8" stop-color="#4c66d6"/><stop offset="0.9" stop-color="#4c66d6"/><stop offset="1" stop-color="#4c66d6"/></linearGradient><linearGradient id="h183" x1="0.5" x2="1" spreadMethod="reflect"><stop offset="0" stop-color="#c3d5f4"/><stop offset="0.1" stop-color="#bbd1f8"/><stop offset="0.2" stop-color="#9abbff"/><stop offset="0.3" stop-color="#6a8bef"/><stop offset="0.4" stop-color="#4a63d3"/><stop offset="0.5" stop-color="#4358cb"/><stop offset="0.6" stop-color="#4358cb"/><stop offset="0.7" stop-color="#4358cb"/><stop offset="0.8" stop-color="#4358cb"/><stop offset="0.9" stop-color="#4358cb"/><stop offset="1" stop-color="#4358cb"/></linearGradient><linearGradient id="h184" x1="0.5" x2="1" spreadMethod="reflect"><stop offset="0" stop-color="#e46e56"/><stop offset="0.1" stop-color="#ee8468"/><stop offset="0.2" stop-color="#f2c9b4"/><stop offset="0.3" stop-color="#b1cbfc"/><stop offset="0.4" stop-color="#6f92f3"/><stop offset="0.5" stop-color="#5875e1"/><stop offset="0.6" stop-color="#5875e1"/><stop offset="0.7" stop-color="#5875e1"/><stop offset="0.8" stop-color="#5875e1"/><stop offset="0.9" stop-color="#5875e1"/><stop offset="1" stop-color="#5875e1"/></linearGradient><linearGradient id="h185" x1="0.5" x2="1" spreadMethod="reflect"><stop offset="0" stop-color="#d4dbe6"/><stop offset="0.1" stop-color="#ccd9ed"/><stop offset="0.2" stop-color="#a7c5fe"/><stop offset="0.3" stop-color="#7295f4"/><stop offset="0.4" stop-color="#4c66d6"/><stop offset="0.5" stop-color="#4358cb"/><stop offset="0.6" stop-color="#4358cb"/><stop offset="0.7" stop-color="#4358cb"/><stop offset="0.8" stop-color="#4358cb"/><stop offset="0.9" stop-color="#4358cb"/><stop offset="1" stop-color="#4358cb"/></linearGradient><linearGradient id="h186" x1="0.5" x2="1" spreadMethod="reflect"><stop offset="0" stop-color="#f08a6c"/><stop offset="0.1" stop-color="#f59d7e"/><stop offset="0.2" stop-color="#ebd3c6"/><stop offset="0.3" stop-color="#a6c4fe"/><stop offset="0.4" stop-color="#688aef"/><stop offset="0.5" stop-color="#536edd"/><stop offset="0.6" stop-color="#536edd"/><stop offset="0.7" stop-color="#536edd"/><stop offset="0.8" stop-color="#536edd"/><stop offset="0.9" stop-color="#536edd"/><stop offset="1" stop-color="#536edd"/></linearGradient><linearGradient id="h187" x1="0.5" x2="1" spreadMethod="reflect"><stop offset="0" stop-color="#e1dad6"/><stop offset="0.1" stop-color="#d8dce2"/><stop offset="0.2" stop-color="#b2ccfb"/><stop offset="0.3" stop-color="#779af7"/><stop offset="0.4" stop-color="#4e68d8"/><stop offset="0.5" stop-color="#4358cb"/><stop offset="0.6" stop-color="#4358cb"/><stop offset="0.7" stop-color="#4358cb"/><stop offset="0.8" stop-color="#4358cb"/><stop offset="0.9" stop-color="#4358cb"/><stop offset="1" stop-color="#4358cb"/></linearGradient><linearGradient id="h188" x1="0.5" x2="1" spreadMethod="reflect"><stop offset="0" stop-color="#dcdddd"/><stop offset="0.1" stop-color="#d4dbe6"/><stop offset="0.2" stop-color="#aec9fc"/><stop offset="0.3" stop-color="#7597f6"/><stop offset="0.4" stop-color="#4e68d8"/><stop offset="0.5" stop-color="#4358cb"/><stop offset="0.6" stop-color="#4358cb"/><stop offset="0.7" stop-color="#4358cb"/><stop offset="0.8" stop-color="#4358cb"/><stop offset="0.9" stop-color="#4358cb"/><stop offset="1" stop-color="#4358cb"/></linearGradient><linearGradient id="h189" x1="0.5" x2="1" spreadMethod="reflect"><stop offset="0" stop-color="#b9d0f9"/><stop offset="0.1" stop-color="#b1cbfc"/><stop offset="0.2" stop-color="#92b4fe"/><stop offset="0.3" stop-color="#6687ed"/><stop offset="0.4" stop-color="#4961d2"/><stop offset="0.5" stop-color="#4358cb"/><stop offset="0.6" stop-color="#4358cb"/><stop offset="0.7" stop-color="#4358cb"/><stop offset="0.8" stop-color="#4358cb"/><stop offset="0.9" stop-color="#4358cb"/><stop offset="1" stop-color="#4358cb"/></linearGradient><linearGradient id="h190" x1="0.5" x2="1" spreadMethod="reflect"><stop offset="0" stop-color="#e7d7ce"/><stop offset="0.1" stop-color="#dfdbd9"/><stop offset="0.2" stop-color="#b9d0f9"/><stop offset="0.3" stop-color="#7a9df8"/><stop offset="0.4" stop-color="#4f69d9"/><stop offset="0.5" stop-color="#4358cb"/><stop offset="0.6" stop-color="#4358cb"/><stop offset="0.7" stop-color="#4358cb"/><stop offset="0.8" stop-color="#4358cb"/><stop offset="0.9" stop-color="#4358cb"/><stop offset="1" stop-color="#4358cb"/></linearGradient><linearGradient id="h191" x1="0.5" x2="1" spreadMethod="reflect"><stop offset="0" stop-color="#b40426"/><stop offset="0.1" stop-color="#c43032"/><stop offset="0.2" stop-color="#f5a081"/><stop offset="0.3" stop-color="#cbd8ee"/><stop offset="0.4" stop-color="#81a4fb"/><stop offset="0.5" stop-color="#6384eb"/><stop offset="0.6" stop-color="#6384eb"/><stop offset="0.7" stop-color="#6384eb"/><stop offset="0.8" stop-color="#6384eb"/><stop offset="0.9" stop-color="#6384eb"/><stop offset="1" stop-color="#6384eb"/></linearGradient><linearGradient id="h192" x1="0.5" x2="1" spreadMethod="reflect"><stop offset="0" stop-color="#d4dbe6"/><stop offset="0.1" stop-color="#ccd9ed"/><stop offset="0.2" stop-color="#a7c5fe"/><stop offset="0.3" stop-color="#7093f3"/><stop offset="0.4" stop-color="#4c66d6"/><stop offset="0.5" stop-color="#4358cb"/><stop offset="0.6" stop-color="#4358cb"/><stop offset="0.7" stop-color="#4358cb"/><stop offset="0.8" stop-color="#4358cb"/><stop offset="0.9" stop-color="#4358cb"/><stop offset="1" stop-color="#4358cb"/></linearGradient><linearGradient id="h193" x1="0.5" x2="1" spreadMethod="reflect"><stop offset="0" stop-color="#e36c55"/><stop offset="0.1" stop-color="#ed8366"/><stop offset="0.2" stop-color="#f3c8b2"/><stop offset="0.3" stop-color="#b1cbfc"/><stop offset="0.4" stop-color="#6f92f3"/><stop offset="0.5" stop-color="#5875e1"/><stop offset="0.6" stop-color="#5875e1"/><stop offset="0.7" stop-color="#5875e1"/><stop offset="0.8" stop-color="#5875e1"/><stop offset="0.9" stop-color="#5875e1"/><stop offset="1" stop-color="#5875e1"/></linearGradient><linearGradient id="h194" x1="0.5" x2="1" spreadMethod="reflect"><stop offset="0" stop-color="#ec7f63"/><stop offset="0.1" stop-color="#f39475"/><stop offset="0.2" stop-color="#efcfbf"/><stop offset="0.3" stop-color="#aac7fd"/><stop offset="0.4" stop-color="#6b8df0"/><stop offset="0.5" stop-color="#5470de"/><stop offset="0.6" stop-color="#5470de"/><stop offset="0.7" stop-color="#5470de"/><stop offset="0.8" stop-color="#5470de"/><stop offset="0.9" stop-color="#5470de"/><stop offset="1" stop-color="#5470de"/></linearGradient><linearGradient id="h195" x1="0.5" x2="1" spreadMethod="reflect"><stop offset="0" stop-color="#dddcdc"/><stop offset="0.1" stop-color="#d5dbe5"/><stop offset="0.2" stop-color="#afcafc"/><stop offset="0.3" stop-color="#7699f6"/><stop offset="0.4" stop-color="#4e68d8"/><stop offset="0.5" stop-color="#4358cb"/><stop offset="0.6" stop-color="#4358cb"/><stop offset="0.7" stop-color="#4358cb"/><stop offset="0.8" stop-color="#4358cb"/><stop offset="0.9" stop-color="#4358cb"/><stop offset="1" stop-color="#4358cb"/></linearGradient><linearGradient id="h196" x1="0.5" x2="1" spreadMethod="reflect"><stop offset="0" stop-color="#b40426"/><stop offset="0.1" stop-color="#b40426"/><stop offset="0.2" stop-color="#b40426"/><stop offset="0.3" stop-color="#e26952"/><stop offset="0.4" stop-color="#f5c1a9"/><stop offset="0.5" stop-color="#bbd1f8"/><stop offset="0.6" stop-color="#7699f6"/><stop offset="0.7" stop-color="#4f69d9"/><stop offset="0.8" stop-color="#3f53c6"/><stop offset="0.9" stop-color="#3b4cc0"/><stop offset="1" stop-color="#3b4cc0"/></linearGradient><linearGradient id="h197" x1="0.5" x2="1" spreadMethod="reflect"><stop offset="0" stop-color="#b40426"/><stop offset="0.1" stop-color="#b40426"/><stop offset="0.2" stop-color="#c53334"/><stop offset="0.3" stop-color="#ec8165"/><stop offset="0.4" stop-color="#f0cdbb"/><stop offset="0.5" stop-color="#b1cbfc"/><stop offset="0.6" stop-color="#7093f3"/><stop offset="0.7" stop-color="#4c66d6"/><stop offset="0.8" stop-color="#3f53c6"/><stop offset="0.9" stop-color="#3b4cc0"/><stop offset="1" stop-color="#3b4cc0"/></linearGradient><linearGradient id="h198" x1="0.5" x2="1" spreadMethod="reflect"><stop offset="0" stop-color="#cb3e38"/><stop offset="0.1" stop-color="#cf453c"/><stop offset="0.2" stop-color="#e16751"/><stop offset="0.3" stop-color="#f6a586"/><stop offset="0.4" stop-color="#e2dad5"/><stop offset="0.5" stop-color="#a2c1ff"/><stop offset="0.6" stop-color="#688aef"/><stop offset="0.7" stop-color="#4a63d3"/><stop offset="0.8" stop-color="#3e51c5"/><stop offset="0.9" stop-color="#3b4cc0"/><stop offset="1" stop-color="#3b4cc0"/></linearGradient><linearGradient id="h199" x1="0.5" x2="1" spreadMethod="reflect"><stop offset="0" stop-color="#b40426"/><stop offset="0.1" stop-color="#b40426"/><stop offset="0.2" stop-color="#c43032"/><stop offset="0.3" stop-color="#ef886b"/><stop offset="0.4" stop-color="#ecd3c5"/><stop offset="0.5" stop-color="#aac7fd"/><stop offset="0.6" stop-color="#6c8ff1"/><stop offset="0.7" stop-color="#4b64d5"/><stop offset="0.8" stop-color="#3f53c6"/><stop offset="0.9" stop-color="#3b4cc0"/><stop offset="1" stop-color="#3b4cc0"/></linearGradient><linearGradient id="h200" x1="0.5" x2="1" spreadMethod="reflect"><stop offset="0" stop-color="#b70d28"/><stop offset="0.1" stop-color="#bd1f2d"/><stop offset="0.2" stop-color="#d75445"/><stop offset="0.3" stop-color="#f5a081"/><stop offset="0.4" stop-color="#e1dad6"/><stop offset="0.5" stop-color="#9fbfff"/><stop offset="0.6" stop-color="#6788ee"/><stop offset="0.7" stop-color="#4a63d3"/><stop offset="0.8" stop-color="#3e51c5"/><stop offset="0.9" stop-color="#3b4cc0"/><stop offset="1" stop-color="#3b4cc0"/></linearGradient><linearGradient id="h201" x1="0.5" x2="1" spreadMethod="reflect"><stop offset="0" stop-color="#bb1b2c"/><stop offset="0.1" stop-color="#c32e31"/><stop offset="0.2" stop-color="#de614d"/><stop offset="0.3" stop-color="#f7a98b"/><stop offset="0.4" stop-color="#dbdcde"/><stop offset="0.5" stop-color="#9abbff"/><stop offset="0.6" stop-color="#6485ec"/><stop offset="0.7" stop-color="#4961d2"/><stop offset="0.8" stop-color="#3e51c5"/><stop offset="0.9" stop-color="#3b4cc0"/><stop offset="1" stop-color="#3b4cc0"/></linearGradient><linearGradient id="h202" x1="0.5" x2="1" spreadMethod="reflect"><stop offset="0" stop-color="#c73635"/><stop offset="0.1" stop-color="#cd423b"/><stop offset="0.2" stop-color="#e67259"/><stop offset="0.3" stop-color="#f7b79b"/><stop offset="0.4" stop-color="#d3dbe7"/><stop offset="0.5" stop-color="#93b5fe"/><stop offset="0.6" stop-color="#6282ea"/><stop offset="0.7" stop-color="#4961d2"/><stop offset="0.8" stop-color="#3e51c5"/><stop offset="0.9" stop-color="#3b4cc0"/><stop offset="1" stop-color="#3b4cc0"/></linearGradient><linearGradient id="h203" x1="0.5" x2="1" spreadMethod="reflect"><stop offset="0" stop-color="#b40426"/><stop offset="0.1" stop-color="#b70d28"/><stop offset="0.2" stop-color="#da5a49"/><stop offset="0.3" stop-color="#f7ac8e"/><stop offset="0.4" stop-color="#d7dce3"/><stop offset="0.5" stop-color="#94b6ff"/><stop offset="0.6" stop-color="#6282ea"/><stop offset="0.7" stop-color="#4961d2"/><stop offset="0.8" stop-color="#3e51c5"/><stop offset="0.9" stop-color="#3b4cc0"/><stop offset="1" stop-color="#3b4cc0"/></linearGradient><linearGradient id="h204" x1="0.5" x2="1" spreadMethod="reflect"><stop offset="0" stop-color="#c43032"/><stop offset="0.1" stop-color="#cc403a"/><stop offset="0.2" stop-color="#e9785d"/><stop offset="0.3" stop-color="#f6bea4"/><stop offset="0.4" stop-color="#cbd8ee"/><stop offset="0.5" stop-color="#8caffe"/><stop offset="0.6" stop-color="#5f7fe8"/><stop offset="0.7" stop-color="#485fd1"/><stop offset="0.8" stop-color="#3e51c5"/><stop offset="0.9" stop-color="#3b4cc0"/><stop offset="1" stop-color="#3b4cc0"/></linearGradient><linearGradient id="h205" x1="0.5" x2="1" spreadMethod="reflect"><stop offset="0" stop-color="#c53334"/><stop offset="0.1" stop-color="#cf453c"/><stop offset="0.2" stop-color="#ec7f63"/><stop offset="0.3" stop-color="#f5c4ac"/><stop offset="0.4" stop-color="#c6d6f1"/><stop offset="0.5" stop-color="#88abfd"/><stop offset="0.6" stop-color="#5d7ce6"/><stop offset="0.7" stop-color="#485fd1"/><stop offset="0.8" stop-color="#3e51c5"/><stop offset="0.9" stop-color="#3b4cc0"/><stop offset="1" stop-color="#3b4cc0"/></linearGradient><linearGradient id="h206" x1="0.5" x2="1" spreadMethod="reflect"><stop offset="0" stop-color="#e36c55"/><stop offset="0.1" stop-color="#ea7b60"/><stop offset="0.2" stop-color="#f7a98b"/><stop offset="0.3" stop-color="#e7d7ce"/><stop offset="0.4" stop-color="#b2ccfb"/><stop offset="0.5" stop-color="#7da0f9"/><stop offset="0.6" stop-color="#5875e1"/><stop offset="0.7" stop-color="#465ecf"/><stop offset="0.8" stop-color="#3e51c5"/><stop offset="0.9" stop-color="#3b4cc0"/><stop offset="1" stop-color="#3b4cc0"/></linearGradient><linearGradient id="h207" x1="0.5" x2="1" spreadMethod="reflect"><stop offset="0" stop-color="#ea7b60"/><stop offset="0.1" stop-color="#f08b6e"/><stop offset="0.2" stop-color="#f7b599"/><stop offset="0.3" stop-color="#dfdbd9"/><stop offset="0.4" stop-color="#aac7fd"/><stop offset="0.5" stop-color="#779af7"/><stop offset="0.6" stop-color="#5673e0"/><stop offset="0.7" stop-color="#455cce"/><stop offset="0.8" stop-color="#3e51c5"/><stop offset="0.9" stop-color="#3b4cc0"/><stop offset="1" stop-color="#3b4cc0"/></linearGradient><linearGradient id="h208" x1="0.5" x2="1" spreadMethod="reflect"><stop offset="0" stop-color="#f29274"/><stop offset="0.1" stop-color="#f5a081"/><stop offset="0.2" stop-color="#f5c4ac"/><stop offset="0.3" stop-color="#d5dbe5"/><stop offset="0.4" stop-color="#a2c1ff"/><stop offset="0.5" stop-color="#7396f5"/><stop offset="0.6" stop-color="#5572df"/><stop offset="0.7" stop-color="#455cce"/><stop offset="0.8" stop-color="#3e51c5"/><stop offset="0.9" stop-color="#3c4ec2"/><stop offset="1" stop-color="#3b4cc0"/></linearGradient><linearGradient id="h209" x1="0.5" x2="1" spreadMethod="reflect"><stop offset="0" stop-color="#f08a6c"/><stop offset="0.1" stop-color="#f49a7b"/><stop offset="0.2" stop-color="#f5c1a9"/><stop offset="0.3" stop-color="#d6dce4"/><stop offset="0.4" stop-color="#a3c2fe"/><stop offset="0.5" stop-color="#7597f6"/><stop offset="0.6" stop-color="#5673e0"/><stop offset="0.7" stop-color="#465ecf"/><stop offset="0.8" stop-color="#3f53c6"/><stop offset="0.9" stop-color="#3c4ec2"/><stop offset="1" stop-color="#3b4cc0"/></linearGradient><linearGradient id="h210" x1="0.5" x2="1" spreadMethod="reflect"><stop offset="0" stop-color="#f6bea4"/><stop offset="0.1" stop-color="#f3c8b2"/><stop offset="0.2" stop-color="#dfdbd9"/><stop offset="0.3" stop-color="#bad0f8"/><stop offset="0.4" stop-color="#8db0fe"/><stop offset="0.5" stop-color="#6a8bef"/><stop offset="0.6" stop-color="#536edd"/><stop offset="0.7" stop-color="#455cce"/><stop offset="0.8" stop-color="#3e51c5"/><stop offset="0.9" stop-color="#3c4ec2"/><stop offset="1" stop-color="#3b4cc0"/></linearGradient><linearGradient id="h211" x1="0.5" x2="1" spreadMethod="reflect"><stop offset="0" stop-color="#e67259"/><stop offset="0.1" stop-color="#ef886b"/><stop offset="0.2" stop-color="#f7b99e"/><stop offset="0.3" stop-color="#dbdcde"/><stop offset="0.4" stop-color="#a7c5fe"/><stop offset="0.5" stop-color="#779af7"/><stop offset="0.6" stop-color="#5977e3"/><stop offset="0.7" stop-color="#485fd1"/><stop offset="0.8" stop-color="#3f53c6"/><stop offset="0.9" stop-color="#3c4ec2"/><stop offset="1" stop-color="#3b4cc0"/></linearGradient><linearGradient id="h212" x1="0.5" x2="1" spreadMethod="reflect"><stop offset="0" stop-color="#f49a7b"/><stop offset="0.1" stop-color="#f7ac8e"/><stop offset="0.2" stop-color="#f0cdbb"/><stop offset="0.3" stop-color="#cbd8ee"/><stop offset="0.4" stop-color="#9abbff"/><stop offset="0.5" stop-color="#6f92f3"/><stop offset="0.6" stop-color="#5572df"/><stop offset="0.7" stop-color="#465ecf"/><stop offset="0.8" stop-color="#3f53c6"/><stop offset="0.9" stop-color="#3c4ec2"/><stop offset="1" stop-color="#3b4cc0"/></linearGradient><linearGradient id="h213" x1="0.5" x2="1" spreadMethod="reflect"><stop offset="0" stop-color="#f6a385"/><stop offset="0.1" stop-color="#f7b396"/><stop offset="0.2" stop-color="#edd2c3"/><stop offset="0.3" stop-color="#c6d6f1"/><stop offset="0.4" stop-color="#96b7ff"/><stop offset="0.5" stop-color="#6c8ff1"/><stop offset="0.6" stop-color="#536edd"/><stop offset="0.7" stop-color="#455cce"/><stop offset="0.8" stop-color="#3e51c5"/><stop offset="0.9" stop-color="#3c4ec2"/><stop offset="1" stop-color="#3b4cc0"/></linearGradient><linearGradient id="h214" x1="0.5" x2="1" spreadMethod="reflect"><stop offset="0" stop-color="#f59d7e"/><stop offset="0.1" stop-color="#f7af91"/><stop offset="0.2" stop-color="#efcfbf"/><stop offset="0.3" stop-color="#c7d7f0"/><stop offset="0.4" stop-color="#97b8ff"/><stop offset="0.5" stop-color="#6c8ff1"/><stop offset="0.6" stop-color="#536edd"/><stop offset="0.7" stop-color="#455cce"/><stop offset="0.8" stop-color="#3e51c5"/><stop offset="0.9" stop-color="#3c4ec2"/><stop offset="1" stop-color="#3b4cc0"/></linearGradient><linearGradient id="h215" x1="0.5" x2="1" spreadMethod="reflect"><stop offset="0" stop-color="#f7b89c"/><stop offset="0.1" stop-color="#f4c5ad"/><stop offset="0.2" stop-color="#e1dad6"/><stop offset="0.3" stop-color="#bad0f8"/><stop offset="0.4" stop-color="#8caffe"/><stop offset="0.5" stop-color="#6788ee"/><stop offset="0.6" stop-color="#506bda"/><stop offset="0.7" stop-color="#445acc"/><stop offset="0.8" stop-color="#3e51c5"/><stop offset="0.9" stop-color="#3c4ec2"/><stop offset="1" stop-color="#3b4cc0"/></linearGradient><linearGradient id="h216" x1="0.5" x2="1" spreadMethod="reflect"><stop offset="0" stop-color="#f7b599"/><stop offset="0.1" stop-color="#f5c2aa"/><stop offset="0.2" stop-color="#e3d9d3"/><stop offset="0.3" stop-color="#bad0f8"/><stop offset="0.4" stop-color="#8caffe"/><stop offset="0.5" stop-color="#6687ed"/><stop offset="0.6" stop-color="#506bda"/><stop offset="0.7" stop-color="#4358cb"/><stop offset="0.8" stop-color="#3e51c5"/><stop offset="0.9" stop-color="#3c4ec2"/><stop offset="1" stop-color="#3b4cc0"/></linearGradient><linearGradient id="h217" x1="0.5" x2="1" spreadMethod="reflect"><stop offset="0" stop-color="#f7b599"/><stop offset="0.1" stop-color="#f5c1a9"/><stop offset="0.2" stop-color="#e3d9d3"/><stop offset="0.3" stop-color="#bad0f8"/><stop offset="0.4" stop-color="#8badfd"/><stop offset="0.5" stop-color="#6687ed"/><stop offset="0.6" stop-color="#4f69d9"/><stop offset="0.7" stop-color="#4358cb"/><stop offset="0.8" stop-color="#3d50c3"/><stop offset="0.9" stop-color="#3c4ec2"/><stop offset="1" stop-color="#3b4cc0"/></linearGradient><linearGradient id="h218" x1="0.5" x2="1" spreadMethod="reflect"><stop offset="0" stop-color="#ebd3c6"/><stop offset="0.1" stop-color="#e3d9d3"/><stop offset="0.2" stop-color="#cbd8ee"/><stop offset="0.3" stop-color="#a3c2fe"/><stop offset="0.4" stop-color="#7b9ff9"/><stop offset="0.5" stop-color="#5d7ce6"/><stop offset="0.6" stop-color="#4b64d5"/><stop offset="0.7" stop-color="#4257c9"/><stop offset="0.8" stop-color="#3d50c3"/><stop offset="0.9" stop-color="#3b4cc0"/><stop offset="1" stop-color="#3b4cc0"/></linearGradient><linearGradient id="h219" x1="0.5" x2="1" spreadMethod="reflect"><stop offset="0" stop-color="#f7b599"/><stop offset="0.1" stop-color="#f5c2aa"/><stop offset="0.2" stop-color="#e1dad6"/><stop offset="0.3" stop-color="#b7cff9"/><stop offset="0.4" stop-color="#88abfd"/><stop offset="0.5" stop-color="#6384eb"/><stop offset="0.6" stop-color="#4e68d8"/><stop offset="0.7" stop-color="#4358cb"/><stop offset="0.8" stop-color="#3d50c3"/><stop offset="0.9" stop-color="#3b4cc0"/><stop offset="1" stop-color="#3b4cc0"/></linearGradient><linearGradient id="h220" x1="0.5" x2="1" spreadMethod="reflect"><stop offset="0" stop-color="#f1cdba"/><stop offset="0.1" stop-color="#ead5c9"/><stop offset="0.2" stop-color="#d1dae9"/><stop offset="0.3" stop-color="#a7c5fe"/><stop offset="0.4" stop-color="#7da0f9"/><stop offset="0.5" stop-color="#5e7de7"/><stop offset="0.6" stop-color="#4b64d5"/><stop offset="0.7" stop-color="#4257c9"/><stop offset="0.8" stop-color="#3d50c3"/><stop offset="0.9" stop-color="#3b4cc0"/><stop offset="1" stop-color="#3b4cc0"/></linearGradient><linearGradient id="h221" x1="0.5" x2="1" spreadMethod="reflect"><stop offset="0" stop-color="#f0cdbb"/><stop offset="0.1" stop-color="#ead5c9"/><stop offset="0.2" stop-color="#cfdaea"/><stop offset="0.3" stop-color="#a7c5fe"/><stop offset="0.4" stop-color="#7da0f9"/><stop offset="0.5" stop-color="#5d7ce6"/><stop offset="0.6" stop-color="#4a63d3"/><stop offset="0.7" stop-color="#4055c8"/><stop offset="0.8" stop-color="#3d50c3"/><stop offset="0.9" stop-color="#3b4cc0"/><stop offset="1" stop-color="#3b4cc0"/></linearGradient><linearGradient id="h222" x1="0.5" x2="1" spreadMethod="reflect"><stop offset="0" stop-color="#e0dbd8"/><stop offset="0.1" stop-color="#d7dce3"/><stop offset="0.2" stop-color="#bed2f6"/><stop offset="0.3" stop-color="#97b8ff"/><stop offset="0.4" stop-color="#7295f4"/><stop offset="0.5" stop-color="#5875e1"/><stop offset="0.6" stop-color="#485fd1"/><stop offset="0.7" stop-color="#3f53c6"/><stop offset="0.8" stop-color="#3c4ec2"/><stop offset="0.9" stop-color="#3b4cc0"/><stop offset="1" stop-color="#3b4cc0"/></linearGradient><linearGradient id="h223" x1="0.5" x2="1" spreadMethod="reflect"><stop offset="0" stop-color="#dfdbd9"/><stop offset="0.1" stop-color="#d6dce4"/><stop offset="0.2" stop-color="#bcd2f7"/><stop offset="0.3" stop-color="#96b7ff"/><stop offset="0.4" stop-color="#7093f3"/><stop offset="0.5" stop-color="#5673e0"/><stop offset="0.6" stop-color="#485fd1"/><stop offset="0.7" stop-color="#3f53c6"/><stop offset="0.8" stop-color="#3c4ec2"/><stop offset="0.9" stop-color="#3b4cc0"/><stop offset="1" stop-color="#3b4cc0"/></linearGradient><linearGradient id="h224" x1="0.5" x2="1" spreadMethod="reflect"><stop offset="0" stop-color="#ecd3c5"/><stop offset="0.1" stop-color="#e4d9d2"/><stop offset="0.2" stop-color="#c9d7f0"/><stop offset="0.3" stop-color="#9fbfff"/><stop offset="0.4" stop-color="#779af7"/><stop offset="0.5" stop-color="#5977e3"/><stop offset="0.6" stop-color="#4961d2"/><stop offset="0.7" stop-color="#3f53c6"/><stop offset="0.8" stop-color="#3c4ec2"/><stop offset="0.9" stop-color="#3b4cc0"/><stop offset="1" stop-color="#3b4cc0"/></linearGradient><linearGradient id="h225" x1="0.5" x2="1" spreadMethod="reflect"><stop offset="0" stop-color="#6788ee"/><stop offset="0.17" stop-color="#5d7ce6"/><stop offset="0.33" stop-color="#4b64d5"/><stop offset="0.5" stop-color="#4358cb"/><stop offset="0.67" stop-color="#4257c9"/><stop offset="0.83" stop-color="#4257c9"/><stop offset="1" stop-color="#4257c9"/></linearGradient><linearGradient id="h226" x1="0.5" x2="1" spreadMethod="reflect"><stop offset="0" stop-color="#6788ee"/><stop offset="0.17" stop-color="#5d7ce6"/><stop offset="0.33" stop-color="#4b64d5"/><stop offset="0.5" stop-color="#4358cb"/><stop offset="0.67" stop-color="#4055c8"/><stop offset="0.83" stop-color="#4055c8"/><stop offset="1" stop-color="#4055c8"/></linearGradient><linearGradient id="h227" x1="0.5" x2="1" spreadMethod="reflect"><stop offset="0" stop-color="#6485ec"/><stop offset="0.17" stop-color="#5a78e4"/><stop offset="0.33" stop-color="#4961d2"/><stop offset="0.5" stop-color="#4055c8"/><stop offset="0.67" stop-color="#3f53c6"/><stop offset="0.83" stop-color="#3f53c6"/><stop offset="1" stop-color="#3f53c6"/></linearGradient><linearGradient id="h228" x1="0.5" x2="1" spreadMethod="reflect"><stop offset="0" stop-color="#6a8bef"/><stop offset="0.17" stop-color="#5f7fe8"/><stop offset="0.33" stop-color="#4f69d9"/><stop offset="0.5" stop-color="#465ecf"/><stop offset="0.67" stop-color="#445acc"/><stop offset="0.83" stop-color="#445acc"/><stop offset="1" stop-color="#445acc"/></linearGradient><linearGradient id="h229" x1="0.5" x2="1" spreadMethod="reflect"><stop offset="0" stop-color="#6384eb"/><stop offset="0.17" stop-color="#5977e3"/><stop offset="0.33" stop-color="#485fd1"/><stop offset="0.5" stop-color="#3f53c6"/><stop offset="0.67" stop-color="#3d50c3"/><stop offset="0.83" stop-color="#3d50c3"/><stop offset="1" stop-color="#3d50c3"/></linearGradient><linearGradient id="h230" x1="0.5" x2="1" spreadMethod="reflect"><stop offset="0" stop-color="#6687ed"/><stop offset="0.17" stop-color="#5b7ae5"/><stop offset="0.33" stop-color="#4b64d5"/><stop offset="0.5" stop-color="#4358cb"/><stop offset="0.67" stop-color="#4055c8"/><stop offset="0.83" stop-color="#4055c8"/><stop offset="1" stop-color="#4055c8"/></linearGradient><linearGradient id="h231" x1="0.5" x2="1" spreadMethod="reflect"><stop offset="0" stop-color="#688aef"/><stop offset="0.17" stop-color="#5e7de7"/><stop offset="0.33" stop-color="#4c66d6"/><stop offset="0.5" stop-color="#445acc"/><stop offset="0.67" stop-color="#4257c9"/><stop offset="0.83" stop-color="#4257c9"/><stop offset="1" stop-color="#4257c9"/></linearGradient><linearGradient id="h232" x1="0.5" x2="1" spreadMethod="reflect"><stop offset="0" stop-color="#6788ee"/><stop offset="0.17" stop-color="#5d7ce6"/><stop offset="0.33" stop-color="#4c66d6"/><stop offset="0.5" stop-color="#445acc"/><stop offset="0.67" stop-color="#4257c9"/><stop offset="0.83" stop-color="#4257c9"/><stop offset="1" stop-color="#4257c9"/></linearGradient><linearGradient id="h233" x1="0.5" x2="1" spreadMethod="reflect"><stop offset="0" stop-color="#6788ee"/><stop offset="0.17" stop-color="#5d7ce6"/><stop offset="0.33" stop-color="#4c66d6"/><stop offset="0.5" stop-color="#445acc"/><stop offset="0.67" stop-color="#4257c9"/><stop offset="0.83" stop-color="#4257c9"/><stop offset="1" stop-color="#4257c9"/></linearGradient><linearGradient id="h234" x1="0.5" x2="1" spreadMethod="reflect"><stop offset="0" stop-color="#6485ec"/><stop offset="0.17" stop-color="#5a78e4"/><stop offset="0.33" stop-color="#4961d2"/><stop offset="0.5" stop-color="#4055c8"/><stop offset="0.67" stop-color="#3e51c5"/><stop offset="0.83" stop-color="#3e51c5"/><stop offset="1" stop-color="#3e51c5"/></linearGradient><linearGradient id="h235" x1="0.5" x2="1" spreadMethod="reflect"><stop offset="0" stop-color="#6a8bef"/><stop offset="0.17" stop-color="#5f7fe8"/><stop offset="0.33" stop-color="#4f69d9"/><stop offset="0.5" stop-color="#465ecf"/><stop offset="0.67" stop-color="#445acc"/><stop offset="0.83" stop-color="#445acc"/><stop offset="1" stop-color="#445acc"/></linearGradient><linearGradient id="h236" x1="0.5" x2="1" spreadMethod="reflect"><stop offset="0" stop-color="#6485ec"/><stop offset="0.17" stop-color="#5a78e4"/><stop offset="0.33" stop-color="#4961d2"/><stop offset="0.5" stop-color="#4055c8"/><stop offset="0.67" stop-color="#3f53c6"/><stop offset="0.83" stop-color="#3f53c6"/><stop offset="1" stop-color="#3f53c6"/></linearGradient><linearGradient id="h237" x1="0.5" x2="1" spreadMethod="reflect"><stop offset="0" stop-color="#6687ed"/><stop offset="0.17" stop-color="#5b7ae5"/><stop offset="0.33" stop-color="#4b64d5"/><stop offset="0.5" stop-color="#4257c9"/><stop offset="0.67" stop-color="#4055c8"/><stop offset="0.83" stop-color="#4055c8"/><stop offset="1" stop-color="#4055c8"/></linearGradient><linearGradient id="h238" x1="0.5" x2="1" spreadMethod="reflect"><stop offset="0" stop-color="#6687ed"/><stop offset="0.17" stop-color="#5b7ae5"/><stop offset="0.33" stop-color="#4b64d5"/><stop offset="0.5" stop-color="#4358cb"/><stop offset="0.67" stop-color="#4055c8"/><stop offset="0.83" stop-color="#4055c8"/><stop offset="1" stop-color="#4055c8"/></linearGradient><linearGradient id="cbar"><stop offset="0.0" stop-color="#3b4cc0"/><stop offset="0.1" stop-color="#5977e3"/><stop offset="0.2" stop-color="#7b9ff9"/><stop offset="0.3" stop-color="#9ebeff"/><stop offset="0.4" stop-color="#c0d4f5"/><stop offset="0.5" stop-color="#dddcdc"/><stop offset="0.6" stop-color="#f2cbb7"/><stop offset="0.7" stop-color="#f7ac8e"/><stop offset="0.8" stop-color="#ee8468"/><stop offset="0.9" stop-color="#d65244"/><stop offset="1.0" stop-color="#b40426"/></linearGradient><clipPath id="cm"><circle cx="298.3" cy="604.8" r="75.1"/></clipPath></defs><rect width="685" height="850" fill="#fff"/><text x="23.6" y="12.6" font-size="17" fill="#111">a</text>
<line x1="44.8" y1="20.3" x2="44.8" y2="132.1" stroke="#2a2a2a" stroke-width="1.2"/>
<line x1="41.8" y1="131.6" x2="44.8" y2="131.6" stroke="#2a2a2a" stroke-width="1"/>
<text x="40.8" y="134.46" font-size="8" text-anchor="end" fill="#111">0</text>
<line x1="41.8" y1="115.7" x2="44.8" y2="115.7" stroke="#2a2a2a" stroke-width="1"/>
<text x="40.8" y="118.56" font-size="8" text-anchor="end" fill="#111">2</text>
<line x1="41.8" y1="99.8" x2="44.8" y2="99.8" stroke="#2a2a2a" stroke-width="1"/>
<text x="40.8" y="102.66" font-size="8" text-anchor="end" fill="#111">4</text>
<line x1="41.8" y1="83.9" x2="44.8" y2="83.9" stroke="#2a2a2a" stroke-width="1"/>
<text x="40.8" y="86.76" font-size="8" text-anchor="end" fill="#111">6</text>
<line x1="41.8" y1="68" x2="44.8" y2="68" stroke="#2a2a2a" stroke-width="1"/>
<text x="40.8" y="70.86" font-size="8" text-anchor="end" fill="#111">8</text>
<line x1="41.8" y1="52.1" x2="44.8" y2="52.1" stroke="#2a2a2a" stroke-width="1"/>
<text x="40.8" y="54.96" font-size="8" text-anchor="end" fill="#111">10</text>
<line x1="41.8" y1="36.2" x2="44.8" y2="36.2" stroke="#2a2a2a" stroke-width="1"/>
<text x="40.8" y="39.06" font-size="8" text-anchor="end" fill="#111">12</text>
<line x1="41.8" y1="20.3" x2="44.8" y2="20.3" stroke="#2a2a2a" stroke-width="1"/>
<text x="40.8" y="23.16" font-size="8" text-anchor="end" fill="#111">14</text>
<text transform="translate(28.35 80.2) rotate(-90)" font-size="9.65" text-anchor="middle">Relative luciferase activity</text>
<rect x="51.5" y="120.07" width="16" height="11.53" fill="#5a5aff"/>
<line x1="59.5" y1="119.28" x2="59.5" y2="120.87" stroke="#111" stroke-width="0.8"/>
<line x1="57" y1="119.28" x2="62" y2="119.28" stroke="#111" stroke-width="0.8"/>
<line x1="57" y1="120.87" x2="62" y2="120.87" stroke="#111" stroke-width="0.8"/>
<circle cx="56.5" cy="119.88" r="1.55" fill="#111"/>
<circle cx="59.5" cy="120.45" r="1.55" fill="#111"/>
<circle cx="62.5" cy="119.95" r="1.55" fill="#111"/>
<rect x="161" y="118.72" width="16" height="12.88" fill="#5a5aff"/>
<line x1="169" y1="117.13" x2="169" y2="120.31" stroke="#111" stroke-width="0.8"/>
<line x1="166.5" y1="117.13" x2="171.5" y2="117.13" stroke="#111" stroke-width="0.8"/>
<line x1="166.5" y1="120.31" x2="171.5" y2="120.31" stroke="#111" stroke-width="0.8"/>
<circle cx="166" cy="118.34" r="1.55" fill="#111"/>
<circle cx="169" cy="119.48" r="1.55" fill="#111"/>
<circle cx="172" cy="118.47" r="1.55" fill="#111"/>
<rect x="67.5" y="122.06" width="16" height="9.54" fill="#a00000"/>
<line x1="75.5" y1="121.11" x2="75.5" y2="123.01" stroke="#111" stroke-width="0.8"/>
<line x1="73" y1="121.11" x2="78" y2="121.11" stroke="#111" stroke-width="0.8"/>
<line x1="73" y1="123.01" x2="78" y2="123.01" stroke="#111" stroke-width="0.8"/>
<circle cx="72.5" cy="121.83" r="1.55" fill="#111"/>
<circle cx="75.5" cy="122.52" r="1.55" fill="#111"/>
<circle cx="78.5" cy="121.91" r="1.55" fill="#111"/>
<rect x="177" y="120.63" width="16" height="10.97" fill="#a00000"/>
<line x1="185" y1="118.24" x2="185" y2="123.01" stroke="#111" stroke-width="0.8"/>
<line x1="182.5" y1="118.24" x2="187.5" y2="118.24" stroke="#111" stroke-width="0.8"/>
<line x1="182.5" y1="123.01" x2="187.5" y2="123.01" stroke="#111" stroke-width="0.8"/>
<circle cx="182" cy="120.06" r="1.55" fill="#111"/>
<circle cx="185" cy="121.77" r="1.55" fill="#111"/>
<circle cx="188" cy="120.25" r="1.55" fill="#111"/>
<rect x="83.5" y="121.58" width="16" height="10.02" fill="#98bb5c"/>
<line x1="91.5" y1="120.79" x2="91.5" y2="122.38" stroke="#111" stroke-width="0.8"/>
<line x1="89" y1="120.79" x2="94" y2="120.79" stroke="#111" stroke-width="0.8"/>
<line x1="89" y1="122.38" x2="94" y2="122.38" stroke="#111" stroke-width="0.8"/>
<path d="M87,122.49 L90,122.49 L88.5,119.99Z" fill="#111"/>
<path d="M90,123.06 L93,123.06 L91.5,120.56Z" fill="#111"/>
<path d="M93,122.56 L96,122.56 L94.5,120.06Z" fill="#111"/>
<rect x="193" y="122.06" width="16" height="9.54" fill="#98bb5c"/>
<line x1="201" y1="120.87" x2="201" y2="123.25" stroke="#111" stroke-width="0.8"/>
<line x1="198.5" y1="120.87" x2="203.5" y2="120.87" stroke="#111" stroke-width="0.8"/>
<line x1="198.5" y1="123.25" x2="203.5" y2="123.25" stroke="#111" stroke-width="0.8"/>
<path d="M196.5,122.87 L199.5,122.87 L198,120.37Z" fill="#111"/>
<path d="M199.5,123.73 L202.5,123.73 L201,121.23Z" fill="#111"/>
<path d="M202.5,122.97 L205.5,122.97 L204,120.47Z" fill="#111"/>
<rect x="99.5" y="37.79" width="16" height="93.81" fill="#5e3f6a"/>
<line x1="107.5" y1="30.63" x2="107.5" y2="44.94" stroke="#111" stroke-width="0.8"/>
<line x1="105" y1="30.63" x2="110" y2="30.63" stroke="#111" stroke-width="0.8"/>
<line x1="105" y1="44.94" x2="110" y2="44.94" stroke="#111" stroke-width="0.8"/>
<path d="M103,37.17 L106,37.17 L104.5,34.67Z" fill="#111"/>
<path d="M106,42.32 L109,42.32 L107.5,39.82Z" fill="#111"/>
<path d="M109,37.75 L112,37.75 L110.5,35.25Z" fill="#111"/>
<rect x="209" y="111.09" width="16" height="20.51" fill="#5e3f6a"/>
<line x1="217" y1="109.9" x2="217" y2="112.28" stroke="#111" stroke-width="0.8"/>
<line x1="214.5" y1="109.9" x2="219.5" y2="109.9" stroke="#111" stroke-width="0.8"/>
<line x1="214.5" y1="112.28" x2="219.5" y2="112.28" stroke="#111" stroke-width="0.8"/>
<path d="M212.5,111.9 L215.5,111.9 L214,109.4Z" fill="#111"/>
<path d="M215.5,112.76 L218.5,112.76 L217,110.26Z" fill="#111"/>
<path d="M218.5,112 L221.5,112 L220,109.5Z" fill="#111"/>
<rect x="115.5" y="117.69" width="16" height="13.91" fill="#114f5e"/>
<line x1="123.5" y1="115.7" x2="123.5" y2="119.67" stroke="#111" stroke-width="0.8"/>
<line x1="121" y1="115.7" x2="126" y2="115.7" stroke="#111" stroke-width="0.8"/>
<line x1="121" y1="119.67" x2="126" y2="119.67" stroke="#111" stroke-width="0.8"/>
<circle cx="120.5" cy="117.21" r="1.55" fill="#111"/>
<circle cx="123.5" cy="118.64" r="1.55" fill="#111"/>
<circle cx="126.5" cy="117.37" r="1.55" fill="#111"/>
<rect x="225" y="116.18" width="16" height="15.42" fill="#114f5e"/>
<line x1="233" y1="112.6" x2="233" y2="119.75" stroke="#111" stroke-width="0.8"/>
<line x1="230.5" y1="112.6" x2="235.5" y2="112.6" stroke="#111" stroke-width="0.8"/>
<line x1="230.5" y1="119.75" x2="235.5" y2="119.75" stroke="#111" stroke-width="0.8"/>
<circle cx="230" cy="115.32" r="1.55" fill="#111"/>
<circle cx="233" cy="117.89" r="1.55" fill="#111"/>
<circle cx="236" cy="115.6" r="1.55" fill="#111"/>
<rect x="131.5" y="119.28" width="16" height="12.32" fill="#e46c0a"/>
<line x1="139.5" y1="116.49" x2="139.5" y2="122.06" stroke="#111" stroke-width="0.8"/>
<line x1="137" y1="116.49" x2="142" y2="116.49" stroke="#111" stroke-width="0.8"/>
<line x1="137" y1="122.06" x2="142" y2="122.06" stroke="#111" stroke-width="0.8"/>
<circle cx="136.5" cy="118.61" r="1.55" fill="#111"/>
<circle cx="139.5" cy="120.61" r="1.55" fill="#111"/>
<circle cx="142.5" cy="118.83" r="1.55" fill="#111"/>
<rect x="241" y="120.07" width="16" height="11.53" fill="#e46c0a"/>
<line x1="249" y1="119.28" x2="249" y2="120.87" stroke="#111" stroke-width="0.8"/>
<line x1="246.5" y1="119.28" x2="251.5" y2="119.28" stroke="#111" stroke-width="0.8"/>
<line x1="246.5" y1="120.87" x2="251.5" y2="120.87" stroke="#111" stroke-width="0.8"/>
<circle cx="246" cy="119.88" r="1.55" fill="#111"/>
<circle cx="249" cy="120.45" r="1.55" fill="#111"/>
<circle cx="252" cy="119.95" r="1.55" fill="#111"/>
<line x1="44.8" y1="131.6" x2="259" y2="131.6" stroke="#2a2a2a" stroke-width="1.2"/>
<line x1="152.3" y1="131.6" x2="152.3" y2="134.1" stroke="#2a2a2a" stroke-width="1"/>
<line x1="258.5" y1="131.6" x2="258.5" y2="134.1" stroke="#2a2a2a" stroke-width="1"/>
<text x="105.3" y="143.7" font-size="9.5" text-anchor="middle" fill="#111">wtHRE</text>
<text x="211" y="143.7" font-size="9.5" text-anchor="middle" fill="#111">mtHRE</text>
<text x="88.3" y="27.2" font-size="7" fill="#111"><tspan font-style="italic">p</tspan>&lt;0.0001</text>
<rect x="129" y="20.4" width="5.4" height="5.4" fill="#5a5aff"/>
<text x="137.5" y="26.57" font-size="9.7" fill="#111">LNA CTL+normoxia</text>
<rect x="129" y="34.9" width="5.4" height="5.4" fill="#a00000"/>
<text x="137.5" y="41.07" font-size="9.7" fill="#111">HIFAL LNA-1+normoxia</text>
<rect x="129" y="50.8" width="5.4" height="5.4" fill="#98bb5c"/>
<text x="137.5" y="56.97" font-size="9.7" fill="#111">HIFAL LNA-2+normoxia</text>
<rect x="129" y="66.9" width="5.4" height="5.4" fill="#5e3f6a"/>
<text x="137.5" y="73.07" font-size="9.7" fill="#111">LNA CTL+hypoxia</text>
<rect x="129" y="81.2" width="5.4" height="5.4" fill="#114f5e"/>
<text x="137.5" y="87.37" font-size="9.7" fill="#111">HIFAL LNA-1+hypoxia</text>
<rect x="129" y="95.6" width="5.4" height="5.4" fill="#e46c0a"/>
<text x="137.5" y="101.77" font-size="9.7" fill="#111">HIFAL LNA-2+hypoxia</text>
<text x="266.2" y="12.8" font-size="17" fill="#111">b</text>
<rect x="356" y="0" width="37" height="11.2" fill="#dadada"/>
<rect x="356" y="15.3" width="37" height="11.7" fill="#dcdcdc"/>
<rect x="357" y="5.3" width="11.4" height="2.6" rx="1.3" fill="#333"/>
<rect x="357" y="18.6" width="11.4" height="4.0" rx="2" fill="#1e1e1e"/>
<rect x="368.9" y="5.3" width="11.4" height="2.6" rx="1.3" fill="#333"/>
<rect x="368.9" y="18.6" width="11.4" height="4.0" rx="2" fill="#1e1e1e"/>
<rect x="380.8" y="5.3" width="11.4" height="2.6" rx="1.3" fill="#333"/>
<rect x="380.8" y="18.6" width="11.4" height="4.0" rx="2" fill="#1e1e1e"/>
<text x="354" y="10.77" font-size="9.4" text-anchor="end" fill="#111">HIF-1&#945;</text>
<text x="354" y="24.77" font-size="9.4" text-anchor="end" fill="#111">&#946;&#8211;actin</text>
<line x1="393" y1="9.2" x2="400" y2="9.2" stroke="#777" stroke-width="0.6"/>
<text x="394" y="8.22" font-size="6.2" fill="#111">100KDa</text>
<line x1="393" y1="24.8" x2="400" y2="24.8" stroke="#777" stroke-width="0.6"/>
<text x="394" y="24.02" font-size="6.2" fill="#111">40KDa</text>
<line x1="294.6" y1="28.6" x2="294.6" y2="125.7" stroke="#2a2a2a" stroke-width="1.2"/>
<line x1="291.6" y1="125.2" x2="294.6" y2="125.2" stroke="#2a2a2a" stroke-width="1"/>
<text x="290.6" y="128.06" font-size="8" text-anchor="end" fill="#111">0</text>
<line x1="291.6" y1="111.4" x2="294.6" y2="111.4" stroke="#2a2a2a" stroke-width="1"/>
<text x="290.6" y="114.26" font-size="8" text-anchor="end" fill="#111">2</text>
<line x1="291.6" y1="97.6" x2="294.6" y2="97.6" stroke="#2a2a2a" stroke-width="1"/>
<text x="290.6" y="100.46" font-size="8" text-anchor="end" fill="#111">4</text>
<line x1="291.6" y1="83.8" x2="294.6" y2="83.8" stroke="#2a2a2a" stroke-width="1"/>
<text x="290.6" y="86.66" font-size="8" text-anchor="end" fill="#111">6</text>
<line x1="291.6" y1="70" x2="294.6" y2="70" stroke="#2a2a2a" stroke-width="1"/>
<text x="290.6" y="72.86" font-size="8" text-anchor="end" fill="#111">8</text>
<line x1="291.6" y1="56.2" x2="294.6" y2="56.2" stroke="#2a2a2a" stroke-width="1"/>
<text x="290.6" y="59.06" font-size="8" text-anchor="end" fill="#111">10</text>
<line x1="291.6" y1="42.4" x2="294.6" y2="42.4" stroke="#2a2a2a" stroke-width="1"/>
<text x="290.6" y="45.26" font-size="8" text-anchor="end" fill="#111">12</text>
<line x1="291.6" y1="28.6" x2="294.6" y2="28.6" stroke="#2a2a2a" stroke-width="1"/>
<text x="290.6" y="31.46" font-size="8" text-anchor="end" fill="#111">14</text>
<text transform="translate(269.86 79) rotate(-90)" font-size="9.1" text-anchor="middle">Relative enrichment</text>
<text transform="translate(279.46 79) rotate(-90)" font-size="9.1" text-anchor="middle">at the LDHA promoter</text>
<rect x="301" y="116.99" width="15.3" height="8.21" fill="#4da3f5"/>
<line x1="308.65" y1="114.57" x2="308.65" y2="119.4" stroke="#111" stroke-width="0.8"/>
<line x1="306.15" y1="114.57" x2="311.15" y2="114.57" stroke="#111" stroke-width="0.8"/>
<line x1="306.15" y1="119.4" x2="311.15" y2="119.4" stroke="#111" stroke-width="0.8"/>
<circle cx="305.65" cy="116.41" r="1.55" fill="#111"/>
<circle cx="308.65" cy="118.15" r="1.55" fill="#111"/>
<circle cx="311.65" cy="116.6" r="1.55" fill="#111"/>
<rect x="360.3" y="38.95" width="15.3" height="86.25" fill="#4da3f5"/>
<line x1="367.95" y1="35.84" x2="367.95" y2="42.06" stroke="#111" stroke-width="0.8"/>
<line x1="365.45" y1="35.84" x2="370.45" y2="35.84" stroke="#111" stroke-width="0.8"/>
<line x1="365.45" y1="42.06" x2="370.45" y2="42.06" stroke="#111" stroke-width="0.8"/>
<circle cx="364.95" cy="38.2" r="1.55" fill="#111"/>
<circle cx="367.95" cy="40.44" r="1.55" fill="#111"/>
<circle cx="370.95" cy="38.45" r="1.55" fill="#111"/>
<rect x="316.3" y="118.02" width="15.3" height="7.18" fill="#a00000"/>
<line x1="323.95" y1="115.26" x2="323.95" y2="120.78" stroke="#111" stroke-width="0.8"/>
<line x1="321.45" y1="115.26" x2="326.45" y2="115.26" stroke="#111" stroke-width="0.8"/>
<line x1="321.45" y1="120.78" x2="326.45" y2="120.78" stroke="#111" stroke-width="0.8"/>
<circle cx="320.95" cy="117.36" r="1.55" fill="#111"/>
<circle cx="323.95" cy="119.35" r="1.55" fill="#111"/>
<circle cx="326.95" cy="117.58" r="1.55" fill="#111"/>
<rect x="375.6" y="83.94" width="15.3" height="41.26" fill="#a00000"/>
<line x1="383.25" y1="81.87" x2="383.25" y2="86.01" stroke="#111" stroke-width="0.8"/>
<line x1="380.75" y1="81.87" x2="385.75" y2="81.87" stroke="#111" stroke-width="0.8"/>
<line x1="380.75" y1="86.01" x2="385.75" y2="86.01" stroke="#111" stroke-width="0.8"/>
<circle cx="380.25" cy="83.44" r="1.55" fill="#111"/>
<circle cx="383.25" cy="84.93" r="1.55" fill="#111"/>
<circle cx="386.25" cy="83.61" r="1.55" fill="#111"/>
<rect x="331.6" y="118.02" width="15.3" height="7.18" fill="#8db559"/>
<line x1="339.25" y1="115.95" x2="339.25" y2="120.09" stroke="#111" stroke-width="0.8"/>
<line x1="336.75" y1="115.95" x2="341.75" y2="115.95" stroke="#111" stroke-width="0.8"/>
<line x1="336.75" y1="120.09" x2="341.75" y2="120.09" stroke="#111" stroke-width="0.8"/>
<circle cx="336.25" cy="117.53" r="1.55" fill="#111"/>
<circle cx="339.25" cy="119.02" r="1.55" fill="#111"/>
<circle cx="342.25" cy="117.69" r="1.55" fill="#111"/>
<rect x="390.9" y="88.63" width="15.3" height="36.57" fill="#8db559"/>
<line x1="398.55" y1="83.8" x2="398.55" y2="93.46" stroke="#111" stroke-width="0.8"/>
<line x1="396.05" y1="83.8" x2="401.05" y2="83.8" stroke="#111" stroke-width="0.8"/>
<line x1="396.05" y1="93.46" x2="401.05" y2="93.46" stroke="#111" stroke-width="0.8"/>
<circle cx="395.55" cy="87.47" r="1.55" fill="#111"/>
<circle cx="398.55" cy="90.95" r="1.55" fill="#111"/>
<circle cx="401.55" cy="87.86" r="1.55" fill="#111"/>
<line x1="294.6" y1="125.2" x2="413" y2="125.2" stroke="#2a2a2a" stroke-width="1.2"/>
<line x1="353.5" y1="125.2" x2="353.5" y2="127.7" stroke="#2a2a2a" stroke-width="1"/>
<text x="325.5" y="135.94" font-size="9.6" text-anchor="middle" fill="#111">IgG</text>
<text x="388" y="135.94" font-size="9.6" text-anchor="middle" fill="#111">anti-HIF-1&#945;</text>
<rect x="297" y="43.7" width="5.6" height="5.6" fill="#4da3f5"/>
<text x="304.5" y="49.94" font-size="9.6" fill="#111">LNA CTL</text>
<rect x="297" y="59.8" width="5.6" height="5.6" fill="#a00000"/>
<text x="304.5" y="66.04" font-size="9.6" fill="#111">HIFALLNA-1</text>
<rect x="297" y="77.8" width="5.6" height="5.6" fill="#8db559"/>
<text x="304.5" y="84.04" font-size="9.6" fill="#111">HIFALLNA-2</text>
<line x1="367.5" y1="31" x2="400.7" y2="31" stroke="#666" stroke-width="0.7"/>
<line x1="387.4" y1="31" x2="387.4" y2="77" stroke="#666" stroke-width="0.7"/>
<line x1="400.7" y1="31" x2="400.7" y2="77" stroke="#666" stroke-width="0.7"/>
<text transform="translate(383.93 56) rotate(-90)" font-size="6.8" text-anchor="middle"><tspan font-style="italic">p</tspan>=0.0001</text>
<text transform="translate(397.73 56) rotate(-90)" font-size="6.8" text-anchor="middle"><tspan font-style="italic">p</tspan>=0.0003</text>
<text x="424.5" y="10.7" font-size="17" fill="#111">c</text>
<line x1="449.5" y1="25.56" x2="449.5" y2="121.9" stroke="#2a2a2a" stroke-width="1.2"/>
<line x1="446.5" y1="121.4" x2="449.5" y2="121.4" stroke="#2a2a2a" stroke-width="1"/>
<text x="445.5" y="124.26" font-size="8" text-anchor="end" fill="#111">0</text>
<line x1="446.5" y1="109.42" x2="449.5" y2="109.42" stroke="#2a2a2a" stroke-width="1"/>
<text x="445.5" y="112.28" font-size="8" text-anchor="end" fill="#111">1</text>
<line x1="446.5" y1="97.44" x2="449.5" y2="97.44" stroke="#2a2a2a" stroke-width="1"/>
<text x="445.5" y="100.3" font-size="8" text-anchor="end" fill="#111">2</text>
<line x1="446.5" y1="85.46" x2="449.5" y2="85.46" stroke="#2a2a2a" stroke-width="1"/>
<text x="445.5" y="88.32" font-size="8" text-anchor="end" fill="#111">3</text>
<line x1="446.5" y1="73.48" x2="449.5" y2="73.48" stroke="#2a2a2a" stroke-width="1"/>
<text x="445.5" y="76.34" font-size="8" text-anchor="end" fill="#111">4</text>
<line x1="446.5" y1="61.5" x2="449.5" y2="61.5" stroke="#2a2a2a" stroke-width="1"/>
<text x="445.5" y="64.36" font-size="8" text-anchor="end" fill="#111">5</text>
<line x1="446.5" y1="49.52" x2="449.5" y2="49.52" stroke="#2a2a2a" stroke-width="1"/>
<text x="445.5" y="52.38" font-size="8" text-anchor="end" fill="#111">6</text>
<line x1="446.5" y1="37.54" x2="449.5" y2="37.54" stroke="#2a2a2a" stroke-width="1"/>
<text x="445.5" y="40.4" font-size="8" text-anchor="end" fill="#111">7</text>
<line x1="446.5" y1="25.56" x2="449.5" y2="25.56" stroke="#2a2a2a" stroke-width="1"/>
<text x="445.5" y="28.42" font-size="8" text-anchor="end" fill="#111">8</text>
<text transform="translate(428.46 75) rotate(-90)" font-size="9.1" text-anchor="middle">Relative enrichment</text>
<text transform="translate(435.56 75) rotate(-90)" font-size="9.1" text-anchor="middle">at the PDK1 promoter</text>
<rect x="456.7" y="114.81" width="15.1" height="6.59" fill="#4da3f5"/>
<line x1="464.25" y1="112.18" x2="464.25" y2="117.45" stroke="#111" stroke-width="0.8"/>
<line x1="461.75" y1="112.18" x2="466.75" y2="112.18" stroke="#111" stroke-width="0.8"/>
<line x1="461.75" y1="117.45" x2="466.75" y2="117.45" stroke="#111" stroke-width="0.8"/>
<circle cx="461.25" cy="114.18" r="1.55" fill="#111"/>
<circle cx="464.25" cy="116.08" r="1.55" fill="#111"/>
<circle cx="467.25" cy="114.39" r="1.55" fill="#111"/>
<rect x="515.9" y="38.74" width="15" height="82.66" fill="#4da3f5"/>
<line x1="523.4" y1="35.14" x2="523.4" y2="42.33" stroke="#111" stroke-width="0.8"/>
<line x1="520.9" y1="35.14" x2="525.9" y2="35.14" stroke="#111" stroke-width="0.8"/>
<line x1="520.9" y1="42.33" x2="525.9" y2="42.33" stroke="#111" stroke-width="0.8"/>
<circle cx="520.4" cy="37.88" r="1.55" fill="#111"/>
<circle cx="523.4" cy="40.46" r="1.55" fill="#111"/>
<circle cx="526.4" cy="38.16" r="1.55" fill="#111"/>
<rect x="471.8" y="113.85" width="15.1" height="7.55" fill="#a00000"/>
<line x1="479.35" y1="112.65" x2="479.35" y2="115.05" stroke="#111" stroke-width="0.8"/>
<line x1="476.85" y1="112.65" x2="481.85" y2="112.65" stroke="#111" stroke-width="0.8"/>
<line x1="476.85" y1="115.05" x2="481.85" y2="115.05" stroke="#111" stroke-width="0.8"/>
<circle cx="476.35" cy="113.57" r="1.55" fill="#111"/>
<circle cx="479.35" cy="114.43" r="1.55" fill="#111"/>
<circle cx="482.35" cy="113.66" r="1.55" fill="#111"/>
<rect x="530.9" y="83.54" width="15" height="37.86" fill="#a00000"/>
<line x1="538.4" y1="79.35" x2="538.4" y2="87.74" stroke="#111" stroke-width="0.8"/>
<line x1="535.9" y1="79.35" x2="540.9" y2="79.35" stroke="#111" stroke-width="0.8"/>
<line x1="535.9" y1="87.74" x2="540.9" y2="87.74" stroke="#111" stroke-width="0.8"/>
<circle cx="535.4" cy="82.54" r="1.55" fill="#111"/>
<circle cx="538.4" cy="85.56" r="1.55" fill="#111"/>
<circle cx="541.4" cy="82.87" r="1.55" fill="#111"/>
<rect x="486.9" y="114.93" width="15.1" height="6.47" fill="#8db559"/>
<line x1="494.45" y1="112.53" x2="494.45" y2="117.33" stroke="#111" stroke-width="0.8"/>
<line x1="491.95" y1="112.53" x2="496.95" y2="112.53" stroke="#111" stroke-width="0.8"/>
<line x1="491.95" y1="117.33" x2="496.95" y2="117.33" stroke="#111" stroke-width="0.8"/>
<circle cx="491.45" cy="114.36" r="1.55" fill="#111"/>
<circle cx="494.45" cy="116.08" r="1.55" fill="#111"/>
<circle cx="497.45" cy="114.55" r="1.55" fill="#111"/>
<rect x="545.9" y="87.74" width="15" height="33.66" fill="#8db559"/>
<line x1="553.4" y1="82.94" x2="553.4" y2="92.53" stroke="#111" stroke-width="0.8"/>
<line x1="550.9" y1="82.94" x2="555.9" y2="82.94" stroke="#111" stroke-width="0.8"/>
<line x1="550.9" y1="92.53" x2="555.9" y2="92.53" stroke="#111" stroke-width="0.8"/>
<circle cx="550.4" cy="86.59" r="1.55" fill="#111"/>
<circle cx="553.4" cy="90.04" r="1.55" fill="#111"/>
<circle cx="556.4" cy="86.97" r="1.55" fill="#111"/>
<line x1="449.5" y1="121.4" x2="566.8" y2="121.4" stroke="#2a2a2a" stroke-width="1.2"/>
<line x1="508.5" y1="121.4" x2="508.5" y2="123.9" stroke="#2a2a2a" stroke-width="1"/>
<text x="478" y="133.24" font-size="9.6" text-anchor="middle" fill="#111">IgG</text>
<text x="537" y="133.24" font-size="9.6" text-anchor="middle" fill="#111">anti-HIF-1&#945;</text>
<rect x="451.8" y="42.7" width="5.7" height="5.6" fill="#4da3f5"/>
<text x="458.6" y="48.94" font-size="9.6" fill="#111">LNA CTL</text>
<rect x="451.8" y="59.8" width="5.7" height="5.6" fill="#a00000"/>
<text x="458.6" y="66.04" font-size="9.6" fill="#111">HIFAL LNA-1</text>
<rect x="451.8" y="76.5" width="5.7" height="5.6" fill="#8db559"/>
<text x="458.6" y="82.74" font-size="9.6" fill="#111">HIFAL LNA-2</text>
<line x1="521.6" y1="29.4" x2="556" y2="29.4" stroke="#666" stroke-width="0.7"/>
<line x1="542.8" y1="29.4" x2="542.8" y2="72" stroke="#666" stroke-width="0.7"/>
<line x1="556" y1="29.4" x2="556" y2="72" stroke="#666" stroke-width="0.7"/>
<text transform="translate(540.13 56) rotate(-90)" font-size="6.8" text-anchor="middle"><tspan font-style="italic">p</tspan>=0.0003</text>
<text transform="translate(554.73 56) rotate(-90)" font-size="6.8" text-anchor="middle"><tspan font-style="italic">p</tspan>=0.0002</text>
<text x="565.6" y="12.4" font-size="17" fill="#111">d</text>
<line x1="600" y1="7.6" x2="600" y2="121.9" stroke="#2a2a2a" stroke-width="1.2"/>
<line x1="597" y1="121.4" x2="600" y2="121.4" stroke="#2a2a2a" stroke-width="1"/>
<text x="596" y="124.26" font-size="8" text-anchor="end" fill="#111">0</text>
<line x1="597" y1="102.43" x2="600" y2="102.43" stroke="#2a2a2a" stroke-width="1"/>
<text x="596" y="105.3" font-size="8" text-anchor="end" fill="#111">0.2</text>
<line x1="597" y1="83.47" x2="600" y2="83.47" stroke="#2a2a2a" stroke-width="1"/>
<text x="596" y="86.33" font-size="8" text-anchor="end" fill="#111">0.4</text>
<line x1="597" y1="64.5" x2="600" y2="64.5" stroke="#2a2a2a" stroke-width="1"/>
<text x="596" y="67.37" font-size="8" text-anchor="end" fill="#111">0.6</text>
<line x1="597" y1="45.54" x2="600" y2="45.54" stroke="#2a2a2a" stroke-width="1"/>
<text x="596" y="48.4" font-size="8" text-anchor="end" fill="#111">0.8</text>
<line x1="597" y1="26.57" x2="600" y2="26.57" stroke="#2a2a2a" stroke-width="1"/>
<text x="596" y="29.43" font-size="8" text-anchor="end" fill="#111">1.0</text>
<line x1="597" y1="7.6" x2="600" y2="7.6" stroke="#2a2a2a" stroke-width="1"/>
<text x="596" y="10.47" font-size="8" text-anchor="end" fill="#111">1.2</text>
<text transform="translate(581.27 62.6) rotate(-90)" font-size="9.7" text-anchor="middle">Relative HIFAL level</text>
<rect x="608.5" y="25.24" width="17.1" height="96.16" fill="#4da3f5"/>
<line x1="617.05" y1="22.4" x2="617.05" y2="28.09" stroke="#111" stroke-width="0.8"/>
<line x1="614.55" y1="22.4" x2="619.55" y2="22.4" stroke="#111" stroke-width="0.8"/>
<line x1="614.55" y1="28.09" x2="619.55" y2="28.09" stroke="#111" stroke-width="0.8"/>
<circle cx="614.05" cy="24.56" r="1.55" fill="#111"/>
<circle cx="617.05" cy="26.61" r="1.55" fill="#111"/>
<circle cx="620.05" cy="24.79" r="1.55" fill="#111"/>
<rect x="633.2" y="104.71" width="17.2" height="16.69" fill="#4da3f5"/>
<line x1="641.8" y1="103.29" x2="641.8" y2="106.13" stroke="#111" stroke-width="0.8"/>
<line x1="639.3" y1="103.29" x2="644.3" y2="103.29" stroke="#111" stroke-width="0.8"/>
<line x1="639.3" y1="106.13" x2="644.3" y2="106.13" stroke="#111" stroke-width="0.8"/>
<circle cx="638.8" cy="104.37" r="1.55" fill="#111"/>
<circle cx="641.8" cy="105.39" r="1.55" fill="#111"/>
<circle cx="644.8" cy="104.48" r="1.55" fill="#111"/>
<rect x="658.4" y="109.07" width="17.5" height="12.33" fill="#4da3f5"/>
<line x1="667.15" y1="107.18" x2="667.15" y2="110.97" stroke="#111" stroke-width="0.8"/>
<line x1="664.65" y1="107.18" x2="669.65" y2="107.18" stroke="#111" stroke-width="0.8"/>
<line x1="664.65" y1="110.97" x2="669.65" y2="110.97" stroke="#111" stroke-width="0.8"/>
<circle cx="664.15" cy="108.62" r="1.55" fill="#111"/>
<circle cx="667.15" cy="109.98" r="1.55" fill="#111"/>
<circle cx="670.15" cy="108.77" r="1.55" fill="#111"/>
<line x1="600" y1="121.4" x2="684" y2="121.4" stroke="#2a2a2a" stroke-width="1.2"/>
<line x1="628" y1="121.4" x2="628" y2="123.9" stroke="#2a2a2a" stroke-width="1"/>
<line x1="653.7" y1="121.4" x2="653.7" y2="123.9" stroke="#2a2a2a" stroke-width="1"/>
<line x1="616" y1="17" x2="668.5" y2="17" stroke="#666" stroke-width="0.7"/>
<line x1="643.2" y1="17" x2="643.2" y2="85.4" stroke="#666" stroke-width="0.7"/>
<line x1="668.5" y1="17" x2="668.5" y2="85.4" stroke="#666" stroke-width="0.7"/>
<text transform="translate(639.43 51) rotate(-90)" font-size="6.8" text-anchor="middle"><tspan font-style="italic">p</tspan>&lt;0.0001</text>
<text transform="translate(665.43 51) rotate(-90)" font-size="6.8" text-anchor="middle"><tspan font-style="italic">p</tspan>&lt;0.0001</text>
<text x="597.7" y="133.94" font-size="9.6" text-anchor="end" fill="#111">HIFAL</text>
<text x="597.7" y="143.84" font-size="9.6" text-anchor="end" fill="#111">LNA</text>
<text x="617.2" y="143.84" font-size="9.6" text-anchor="middle" fill="#111">CTL</text>
<text x="645.7" y="143.84" font-size="9.6" text-anchor="middle" fill="#111">1</text>
<text x="675" y="143.84" font-size="9.6" text-anchor="middle" fill="#111">2</text>
<text x="25.2" y="161.3" font-size="17" fill="#111">e</text>
<line x1="44" y1="169.7" x2="44" y2="276.1" stroke="#2a2a2a" stroke-width="1.2"/>
<line x1="41" y1="275.6" x2="44" y2="275.6" stroke="#2a2a2a" stroke-width="1"/>
<text x="40" y="278.46" font-size="8" text-anchor="end" fill="#111">0</text>
<line x1="41" y1="257.95" x2="44" y2="257.95" stroke="#2a2a2a" stroke-width="1"/>
<text x="40" y="260.81" font-size="8" text-anchor="end" fill="#111">2</text>
<line x1="41" y1="240.3" x2="44" y2="240.3" stroke="#2a2a2a" stroke-width="1"/>
<text x="40" y="243.16" font-size="8" text-anchor="end" fill="#111">4</text>
<line x1="41" y1="222.65" x2="44" y2="222.65" stroke="#2a2a2a" stroke-width="1"/>
<text x="40" y="225.51" font-size="8" text-anchor="end" fill="#111">6</text>
<line x1="41" y1="205" x2="44" y2="205" stroke="#2a2a2a" stroke-width="1"/>
<text x="40" y="207.86" font-size="8" text-anchor="end" fill="#111">8</text>
<line x1="41" y1="187.35" x2="44" y2="187.35" stroke="#2a2a2a" stroke-width="1"/>
<text x="40" y="190.21" font-size="8" text-anchor="end" fill="#111">10</text>
<line x1="41" y1="169.7" x2="44" y2="169.7" stroke="#2a2a2a" stroke-width="1"/>
<text x="40" y="172.56" font-size="8" text-anchor="end" fill="#111">12</text>
<text transform="translate(23.51 226) rotate(-90)" font-size="9.8" text-anchor="middle">Relative LDHA enrichment</text>
<rect x="47" y="265.45" width="9.1" height="10.15" fill="#4da3f5"/>
<line x1="51.55" y1="263.25" x2="51.55" y2="267.66" stroke="#111" stroke-width="0.8"/>
<line x1="49.05" y1="263.25" x2="54.05" y2="263.25" stroke="#111" stroke-width="0.8"/>
<line x1="49.05" y1="267.66" x2="54.05" y2="267.66" stroke="#111" stroke-width="0.8"/>
<circle cx="48.55" cy="264.92" r="1.55" fill="#111"/>
<circle cx="51.55" cy="266.51" r="1.55" fill="#111"/>
<circle cx="54.55" cy="265.1" r="1.55" fill="#111"/>
<rect x="118.6" y="265.89" width="9.2" height="9.71" fill="#4da3f5"/>
<line x1="123.2" y1="261.48" x2="123.2" y2="270.31" stroke="#111" stroke-width="0.8"/>
<line x1="120.7" y1="261.48" x2="125.7" y2="261.48" stroke="#111" stroke-width="0.8"/>
<line x1="120.7" y1="270.31" x2="125.7" y2="270.31" stroke="#111" stroke-width="0.8"/>
<circle cx="120.2" cy="264.83" r="1.55" fill="#111"/>
<circle cx="123.2" cy="268.01" r="1.55" fill="#111"/>
<circle cx="126.2" cy="265.19" r="1.55" fill="#111"/>
<rect x="56.1" y="265.89" width="9.1" height="9.71" fill="#ff8000"/>
<line x1="60.65" y1="263.69" x2="60.65" y2="268.1" stroke="#111" stroke-width="0.8"/>
<line x1="58.15" y1="263.69" x2="63.15" y2="263.69" stroke="#111" stroke-width="0.8"/>
<line x1="58.15" y1="268.1" x2="63.15" y2="268.1" stroke="#111" stroke-width="0.8"/>
<circle cx="57.65" cy="265.36" r="1.55" fill="#111"/>
<circle cx="60.65" cy="266.95" r="1.55" fill="#111"/>
<circle cx="63.65" cy="265.54" r="1.55" fill="#111"/>
<rect x="127.8" y="193" width="9.2" height="82.6" fill="#ff8000"/>
<line x1="132.4" y1="191.23" x2="132.4" y2="194.76" stroke="#111" stroke-width="0.8"/>
<line x1="129.9" y1="191.23" x2="134.9" y2="191.23" stroke="#111" stroke-width="0.8"/>
<line x1="129.9" y1="194.76" x2="134.9" y2="194.76" stroke="#111" stroke-width="0.8"/>
<circle cx="129.4" cy="192.57" r="1.55" fill="#111"/>
<circle cx="132.4" cy="193.85" r="1.55" fill="#111"/>
<circle cx="135.4" cy="192.72" r="1.55" fill="#111"/>
<rect x="65.2" y="265.89" width="9.1" height="9.71" fill="#a3a3a3"/>
<line x1="69.75" y1="263.69" x2="69.75" y2="268.1" stroke="#111" stroke-width="0.8"/>
<line x1="67.25" y1="263.69" x2="72.25" y2="263.69" stroke="#111" stroke-width="0.8"/>
<line x1="67.25" y1="268.1" x2="72.25" y2="268.1" stroke="#111" stroke-width="0.8"/>
<circle cx="66.75" cy="265.36" r="1.55" fill="#111"/>
<circle cx="69.75" cy="266.95" r="1.55" fill="#111"/>
<circle cx="72.75" cy="265.54" r="1.55" fill="#111"/>
<rect x="137" y="264.22" width="9.2" height="11.38" fill="#a3a3a3"/>
<line x1="141.6" y1="258.92" x2="141.6" y2="269.51" stroke="#111" stroke-width="0.8"/>
<line x1="139.1" y1="258.92" x2="144.1" y2="258.92" stroke="#111" stroke-width="0.8"/>
<line x1="139.1" y1="269.51" x2="144.1" y2="269.51" stroke="#111" stroke-width="0.8"/>
<circle cx="138.6" cy="262.94" r="1.55" fill="#111"/>
<circle cx="141.6" cy="266.76" r="1.55" fill="#111"/>
<circle cx="144.6" cy="263.37" r="1.55" fill="#111"/>
<rect x="74.3" y="266.33" width="9.1" height="9.27" fill="#ffee58"/>
<line x1="78.85" y1="264.13" x2="78.85" y2="268.54" stroke="#111" stroke-width="0.8"/>
<line x1="76.35" y1="264.13" x2="81.35" y2="264.13" stroke="#111" stroke-width="0.8"/>
<line x1="76.35" y1="268.54" x2="81.35" y2="268.54" stroke="#111" stroke-width="0.8"/>
<circle cx="75.85" cy="265.8" r="1.55" fill="#111"/>
<circle cx="78.85" cy="267.39" r="1.55" fill="#111"/>
<circle cx="81.85" cy="265.98" r="1.55" fill="#111"/>
<rect x="146.2" y="264.83" width="9.2" height="10.77" fill="#ffee58"/>
<line x1="150.8" y1="262.63" x2="150.8" y2="267.04" stroke="#111" stroke-width="0.8"/>
<line x1="148.3" y1="262.63" x2="153.3" y2="262.63" stroke="#111" stroke-width="0.8"/>
<line x1="148.3" y1="267.04" x2="153.3" y2="267.04" stroke="#111" stroke-width="0.8"/>
<circle cx="147.8" cy="264.3" r="1.55" fill="#111"/>
<circle cx="150.8" cy="265.89" r="1.55" fill="#111"/>
<circle cx="153.8" cy="264.48" r="1.55" fill="#111"/>
<rect x="83.4" y="265.89" width="9.1" height="9.71" fill="#5e4677"/>
<line x1="87.95" y1="263.69" x2="87.95" y2="268.1" stroke="#111" stroke-width="0.8"/>
<line x1="85.45" y1="263.69" x2="90.45" y2="263.69" stroke="#111" stroke-width="0.8"/>
<line x1="85.45" y1="268.1" x2="90.45" y2="268.1" stroke="#111" stroke-width="0.8"/>
<circle cx="84.95" cy="265.36" r="1.55" fill="#111"/>
<circle cx="87.95" cy="266.95" r="1.55" fill="#111"/>
<circle cx="90.95" cy="265.54" r="1.55" fill="#111"/>
<rect x="155.4" y="257.51" width="9.2" height="18.09" fill="#5e4677"/>
<line x1="160" y1="254.86" x2="160" y2="260.16" stroke="#111" stroke-width="0.8"/>
<line x1="157.5" y1="254.86" x2="162.5" y2="254.86" stroke="#111" stroke-width="0.8"/>
<line x1="157.5" y1="260.16" x2="162.5" y2="260.16" stroke="#111" stroke-width="0.8"/>
<circle cx="157" cy="256.87" r="1.55" fill="#111"/>
<circle cx="160" cy="258.78" r="1.55" fill="#111"/>
<circle cx="163" cy="257.09" r="1.55" fill="#111"/>
<rect x="92.5" y="265.89" width="9.1" height="9.71" fill="#78c57c"/>
<line x1="97.05" y1="263.69" x2="97.05" y2="268.1" stroke="#111" stroke-width="0.8"/>
<line x1="94.55" y1="263.69" x2="99.55" y2="263.69" stroke="#111" stroke-width="0.8"/>
<line x1="94.55" y1="268.1" x2="99.55" y2="268.1" stroke="#111" stroke-width="0.8"/>
<circle cx="94.05" cy="265.36" r="1.55" fill="#111"/>
<circle cx="97.05" cy="266.95" r="1.55" fill="#111"/>
<circle cx="100.05" cy="265.54" r="1.55" fill="#111"/>
<rect x="164.6" y="263.86" width="9.2" height="11.74" fill="#78c57c"/>
<line x1="169.2" y1="260.33" x2="169.2" y2="267.39" stroke="#111" stroke-width="0.8"/>
<line x1="166.7" y1="260.33" x2="171.7" y2="260.33" stroke="#111" stroke-width="0.8"/>
<line x1="166.7" y1="267.39" x2="171.7" y2="267.39" stroke="#111" stroke-width="0.8"/>
<circle cx="166.2" cy="263.02" r="1.55" fill="#111"/>
<circle cx="169.2" cy="265.56" r="1.55" fill="#111"/>
<circle cx="172.2" cy="263.3" r="1.55" fill="#111"/>
<rect x="101.6" y="265.89" width="9.1" height="9.71" fill="#a00000"/>
<line x1="106.15" y1="263.69" x2="106.15" y2="268.1" stroke="#111" stroke-width="0.8"/>
<line x1="103.65" y1="263.69" x2="108.65" y2="263.69" stroke="#111" stroke-width="0.8"/>
<line x1="103.65" y1="268.1" x2="108.65" y2="268.1" stroke="#111" stroke-width="0.8"/>
<circle cx="103.15" cy="265.36" r="1.55" fill="#111"/>
<circle cx="106.15" cy="266.95" r="1.55" fill="#111"/>
<circle cx="109.15" cy="265.54" r="1.55" fill="#111"/>
<rect x="173.8" y="264.83" width="9.2" height="10.77" fill="#a00000"/>
<line x1="178.4" y1="262.19" x2="178.4" y2="267.48" stroke="#111" stroke-width="0.8"/>
<line x1="175.9" y1="262.19" x2="180.9" y2="262.19" stroke="#111" stroke-width="0.8"/>
<line x1="175.9" y1="267.48" x2="180.9" y2="267.48" stroke="#111" stroke-width="0.8"/>
<circle cx="175.4" cy="264.2" r="1.55" fill="#111"/>
<circle cx="178.4" cy="266.1" r="1.55" fill="#111"/>
<circle cx="181.4" cy="264.41" r="1.55" fill="#111"/>
<line x1="44" y1="275.6" x2="187" y2="275.6" stroke="#2a2a2a" stroke-width="1.2"/>
<line x1="114.5" y1="275.6" x2="114.5" y2="278.1" stroke="#2a2a2a" stroke-width="1"/>
<text x="76" y="288.24" font-size="9.6" text-anchor="middle" fill="#111">IgG</text>
<text x="147.4" y="287.94" font-size="9.6" text-anchor="middle" fill="#111">anti-p300</text>
<rect x="57.9" y="184.1" width="4.8" height="4.8" fill="#4da3f5"/>
<text x="68.7" y="189.61" font-size="8.7" fill="#111">&#946;-actin</text>
<rect x="57.9" y="194" width="4.8" height="4.8" fill="#ff8000"/>
<text x="68.7" y="199.51" font-size="8.7" fill="#111">HIFAL WT(A)</text>
<rect x="57.9" y="203.6" width="4.8" height="4.8" fill="#a3a3a3"/>
<text x="68.7" y="209.11" font-size="8.7" fill="#111">HIFAL WT(B)</text>
<rect x="57.9" y="212.6" width="4.8" height="4.8" fill="#ffee58"/>
<text x="68.7" y="218.11" font-size="8.7" fill="#111">HIFAL WT(C)</text>
<rect x="57.9" y="222" width="4.8" height="4.8" fill="#5e4677"/>
<text x="68.7" y="227.51" font-size="8.7" fill="#111">HIFAL null(A)</text>
<rect x="57.9" y="231.1" width="4.8" height="4.8" fill="#78c57c"/>
<text x="68.7" y="236.61" font-size="8.7" fill="#111">HIFAL null(B)</text>
<rect x="57.9" y="240.6" width="4.8" height="4.8" fill="#a00000"/>
<text x="68.7" y="246.11" font-size="8.7" fill="#111">HIFAL null(C)</text>
<line x1="132.3" y1="182.1" x2="159.8" y2="182.1" stroke="#666" stroke-width="0.7"/>
<line x1="159.8" y1="182.1" x2="159.8" y2="239.6" stroke="#666" stroke-width="0.7"/>
<text transform="translate(154.63 208) rotate(-90)" font-size="6.8" text-anchor="middle"><tspan font-style="italic">p</tspan>&lt;0.0001</text>
<text x="178.6" y="160.4" font-size="17" fill="#111">f</text>
<line x1="221.8" y1="172.58" x2="221.8" y2="275.8" stroke="#2a2a2a" stroke-width="1.2"/>
<line x1="218.8" y1="275.3" x2="221.8" y2="275.3" stroke="#2a2a2a" stroke-width="1"/>
<text x="217.8" y="278.16" font-size="8" text-anchor="end" fill="#111">0</text>
<line x1="218.8" y1="262.46" x2="221.8" y2="262.46" stroke="#2a2a2a" stroke-width="1"/>
<text x="217.8" y="265.32" font-size="8" text-anchor="end" fill="#111">2</text>
<line x1="218.8" y1="249.62" x2="221.8" y2="249.62" stroke="#2a2a2a" stroke-width="1"/>
<text x="217.8" y="252.48" font-size="8" text-anchor="end" fill="#111">4</text>
<line x1="218.8" y1="236.78" x2="221.8" y2="236.78" stroke="#2a2a2a" stroke-width="1"/>
<text x="217.8" y="239.64" font-size="8" text-anchor="end" fill="#111">6</text>
<line x1="218.8" y1="223.94" x2="221.8" y2="223.94" stroke="#2a2a2a" stroke-width="1"/>
<text x="217.8" y="226.8" font-size="8" text-anchor="end" fill="#111">8</text>
<line x1="218.8" y1="211.1" x2="221.8" y2="211.1" stroke="#2a2a2a" stroke-width="1"/>
<text x="217.8" y="213.96" font-size="8" text-anchor="end" fill="#111">10</text>
<line x1="218.8" y1="198.26" x2="221.8" y2="198.26" stroke="#2a2a2a" stroke-width="1"/>
<text x="217.8" y="201.12" font-size="8" text-anchor="end" fill="#111">12</text>
<line x1="218.8" y1="185.42" x2="221.8" y2="185.42" stroke="#2a2a2a" stroke-width="1"/>
<text x="217.8" y="188.28" font-size="8" text-anchor="end" fill="#111">14</text>
<line x1="218.8" y1="172.58" x2="221.8" y2="172.58" stroke="#2a2a2a" stroke-width="1"/>
<text x="217.8" y="175.44" font-size="8" text-anchor="end" fill="#111">16</text>
<text transform="translate(205.01 225.4) rotate(-90)" font-size="9.8" text-anchor="middle">Relative LDHA enrichment</text>
<rect x="230" y="268.5" width="19.3" height="6.8" fill="#4da3f5"/>
<line x1="239.65" y1="267.54" x2="239.65" y2="269.46" stroke="#111" stroke-width="0.8"/>
<line x1="237.15" y1="267.54" x2="242.15" y2="267.54" stroke="#111" stroke-width="0.8"/>
<line x1="237.15" y1="269.46" x2="242.15" y2="269.46" stroke="#111" stroke-width="0.8"/>
<circle cx="236.65" cy="268.27" r="1.55" fill="#111"/>
<circle cx="239.65" cy="268.96" r="1.55" fill="#111"/>
<circle cx="242.65" cy="268.35" r="1.55" fill="#111"/>
<rect x="249.3" y="269" width="19.4" height="6.3" fill="#a00000"/>
<line x1="259" y1="268.04" x2="259" y2="269.96" stroke="#111" stroke-width="0.8"/>
<line x1="256.5" y1="268.04" x2="261.5" y2="268.04" stroke="#111" stroke-width="0.8"/>
<line x1="256.5" y1="269.96" x2="261.5" y2="269.96" stroke="#111" stroke-width="0.8"/>
<circle cx="256" cy="268.77" r="1.55" fill="#111"/>
<circle cx="259" cy="269.46" r="1.55" fill="#111"/>
<circle cx="262" cy="268.85" r="1.55" fill="#111"/>
<rect x="287.3" y="186.1" width="19" height="89.2" fill="#4da3f5"/>
<line x1="296.8" y1="184.17" x2="296.8" y2="188.03" stroke="#111" stroke-width="0.8"/>
<line x1="294.3" y1="184.17" x2="299.3" y2="184.17" stroke="#111" stroke-width="0.8"/>
<line x1="294.3" y1="188.03" x2="299.3" y2="188.03" stroke="#111" stroke-width="0.8"/>
<circle cx="293.8" cy="185.64" r="1.55" fill="#111"/>
<circle cx="296.8" cy="187.02" r="1.55" fill="#111"/>
<circle cx="299.8" cy="185.79" r="1.55" fill="#111"/>
<rect x="306.3" y="253.1" width="19.3" height="22.2" fill="#a00000"/>
<line x1="315.95" y1="250.85" x2="315.95" y2="255.35" stroke="#111" stroke-width="0.8"/>
<line x1="313.45" y1="250.85" x2="318.45" y2="250.85" stroke="#111" stroke-width="0.8"/>
<line x1="313.45" y1="255.35" x2="318.45" y2="255.35" stroke="#111" stroke-width="0.8"/>
<circle cx="312.95" cy="252.56" r="1.55" fill="#111"/>
<circle cx="315.95" cy="254.18" r="1.55" fill="#111"/>
<circle cx="318.95" cy="252.74" r="1.55" fill="#111"/>
<line x1="221.8" y1="275.3" x2="333" y2="275.3" stroke="#2a2a2a" stroke-width="1.2"/>
<line x1="277.5" y1="275.3" x2="277.5" y2="277.8" stroke="#2a2a2a" stroke-width="1"/>
<text x="255" y="286.84" font-size="9.6" text-anchor="middle" fill="#111">IgG</text>
<text x="306" y="286.84" font-size="9.6" text-anchor="middle" fill="#111">anti-H3K9ac</text>
<rect x="232.6" y="195.7" width="5.2" height="5.2" fill="#4da3f5"/>
<text x="239.8" y="201.45" font-size="8.8" fill="#111">HIFAL WT</text>
<rect x="232.6" y="212.7" width="5.2" height="5.2" fill="#a00000"/>
<text x="239.8" y="218.45" font-size="8.8" fill="#111">HIFAL null</text>
<line x1="296.8" y1="177.4" x2="317.6" y2="177.4" stroke="#666" stroke-width="0.7"/>
<line x1="317.6" y1="177.4" x2="317.6" y2="237.7" stroke="#666" stroke-width="0.7"/>
<text transform="translate(314.43 204) rotate(-90)" font-size="6.8" text-anchor="middle"><tspan font-style="italic">p</tspan>&lt;0.0001</text>
<text x="308.5" y="156.5" font-size="17" fill="#111">g</text>
<text x="373" y="150.6" font-size="9.5" text-anchor="end" fill="#111">HIFAL WT</text>
<text x="373" y="161.4" font-size="9.5" text-anchor="end" fill="#111">HIFAL null</text>
<text x="373" y="171.4" font-size="9.5" text-anchor="end" fill="#111">MNase</text>
<line x1="398" y1="147.6" x2="402" y2="147.6" stroke="#222" stroke-width="0.9"/>
<line x1="400" y1="145.6" x2="400" y2="149.6" stroke="#222" stroke-width="0.9"/>
<line x1="415.3" y1="147.6" x2="417.7" y2="147.6" stroke="#222" stroke-width="0.9"/>
<line x1="432.9" y1="147.6" x2="436.9" y2="147.6" stroke="#222" stroke-width="0.9"/>
<line x1="434.9" y1="145.6" x2="434.9" y2="149.6" stroke="#222" stroke-width="0.9"/>
<line x1="447" y1="147.6" x2="449.4" y2="147.6" stroke="#222" stroke-width="0.9"/>
<line x1="398.8" y1="156.7" x2="401.2" y2="156.7" stroke="#222" stroke-width="0.9"/>
<line x1="414.5" y1="156.7" x2="418.5" y2="156.7" stroke="#222" stroke-width="0.9"/>
<line x1="416.5" y1="154.7" x2="416.5" y2="158.7" stroke="#222" stroke-width="0.9"/>
<line x1="433.7" y1="156.7" x2="436.1" y2="156.7" stroke="#222" stroke-width="0.9"/>
<line x1="446.2" y1="156.7" x2="450.2" y2="156.7" stroke="#222" stroke-width="0.9"/>
<line x1="448.2" y1="154.7" x2="448.2" y2="158.7" stroke="#222" stroke-width="0.9"/>
<line x1="398.8" y1="165" x2="401.2" y2="165" stroke="#222" stroke-width="0.9"/>
<line x1="415.3" y1="165" x2="417.7" y2="165" stroke="#222" stroke-width="0.9"/>
<line x1="432.9" y1="165" x2="436.9" y2="165" stroke="#222" stroke-width="0.9"/>
<line x1="434.9" y1="163" x2="434.9" y2="167" stroke="#222" stroke-width="0.9"/>
<line x1="446.2" y1="165" x2="450.2" y2="165" stroke="#222" stroke-width="0.9"/>
<line x1="448.2" y1="163" x2="448.2" y2="167" stroke="#222" stroke-width="0.9"/>
<rect x="375.9" y="173.5" width="85.4" height="131" fill="url(#gbg)"/>
<rect x="397.7" y="181" width="13.5" height="123.5" fill="url(#sm)"/>
<rect x="397.7" y="181" width="13.5" height="123.5" fill="url(#lanee)"/>
<rect x="398.2" y="183.1" width="12.5" height="0.9" fill="#4e4e4e"/>
<path d="M401.45,203.5 L407.45,203.5 L405.65,232 L403.25,232Z" fill="#000" opacity="0.32" filter="url(#gblur)"/>
<rect x="413.7" y="181" width="13.5" height="123.5" fill="url(#sm)"/>
<rect x="413.7" y="181" width="13.5" height="123.5" fill="url(#lanee)"/>
<rect x="414.2" y="183.1" width="12.5" height="0.9" fill="#4e4e4e"/>
<path d="M417.45,203.5 L423.45,203.5 L421.65,232 L419.25,232Z" fill="#000" opacity="0.32" filter="url(#gblur)"/>
<rect x="430" y="181" width="12.9" height="123.5" fill="url(#mn4)"/>
<rect x="430" y="240.4" width="12.9" height="2.2" fill="rgba(230,230,230,0.07)"/>
<rect x="430" y="247.4" width="12.9" height="2.2" fill="rgba(230,230,230,0.12)"/>
<rect x="430" y="254.6" width="12.9" height="2.2" fill="rgba(230,230,230,0.14)"/>
<rect x="430" y="261.8" width="12.9" height="2.2" fill="rgba(230,230,230,0.14)"/>
<rect x="430" y="271.4" width="12.9" height="2.2" fill="rgba(230,230,230,0.1)"/>
<rect x="430" y="181" width="12.9" height="123.5" fill="url(#lanee)"/>
<rect x="445.7" y="181" width="12.9" height="123.5" fill="url(#mn5)"/>
<rect x="445.7" y="240.4" width="12.9" height="2.2" fill="rgba(230,230,230,0.0805)"/>
<rect x="445.7" y="247.4" width="12.9" height="2.2" fill="rgba(230,230,230,0.13799999999999998)"/>
<rect x="445.7" y="254.6" width="12.9" height="2.2" fill="rgba(230,230,230,0.161)"/>
<rect x="445.7" y="261.8" width="12.9" height="2.2" fill="rgba(230,230,230,0.161)"/>
<rect x="445.7" y="271.4" width="12.9" height="2.2" fill="rgba(230,230,230,0.11499999999999999)"/>
<rect x="445.7" y="181" width="12.9" height="123.5" fill="url(#lanee)"/>
<rect x="382.8" y="227.2" width="13.6" height="1.1" fill="rgba(225,225,225,0.3)"/>
<rect x="382.8" y="246.1" width="13.6" height="1.1" fill="rgba(225,225,225,0.25)"/>
<rect x="382.8" y="254.4" width="13.6" height="1.1" fill="rgba(225,225,225,0.4)"/>
<rect x="382.8" y="265.6" width="13.6" height="1.1" fill="rgba(225,225,225,0.22)"/>
<rect x="382.8" y="281.6" width="13.6" height="1.1" fill="rgba(225,225,225,0.1)"/>
<rect x="382.8" y="296" width="13.6" height="1.1" fill="rgba(225,225,225,0.12)"/>
<text x="369.8" y="228.81" font-size="8.4" text-anchor="end" fill="#111">2000bp</text>
<text x="369.8" y="247.01" font-size="8.4" text-anchor="end" fill="#111">1000bp</text>
<text x="369.8" y="256.91" font-size="8.4" text-anchor="end" fill="#111">750bp</text>
<text x="369.8" y="269.21" font-size="8.4" text-anchor="end" fill="#111">500bp</text>
<text x="369.8" y="286.31" font-size="8.4" text-anchor="end" fill="#111">250bp</text>
<text x="369.8" y="300.81" font-size="8.4" text-anchor="end" fill="#111">100bp</text>
<text x="483" y="158.8" font-size="17" fill="#111">h</text>
<text x="573.8" y="157.18" font-size="7.2" text-anchor="middle" fill="#111">Input</text>
<text x="630.7" y="157.18" font-size="7.2" text-anchor="middle" fill="#111">IP:HIF-1&#945;</text>
<line x1="546.4" y1="159.5" x2="600.2" y2="159.5" stroke="#555" stroke-width="0.6"/>
<line x1="603.9" y1="159.5" x2="656.8" y2="159.5" stroke="#555" stroke-width="0.6"/>
<text x="523.5" y="166.28" font-size="7.2" fill="#111">Hours</text>
<text x="548.2" y="166.28" font-size="7.2" text-anchor="middle" fill="#111" style='font-family:"Liberation Serif", serif'>0</text>
<text x="555.5" y="166.28" font-size="7.2" text-anchor="middle" fill="#111" style='font-family:"Liberation Serif", serif'>4</text>
<text x="562.8" y="166.28" font-size="7.2" text-anchor="middle" fill="#111" style='font-family:"Liberation Serif", serif'>8</text>
<text x="570.7" y="166.28" font-size="7.2" text-anchor="middle" fill="#111" style='font-family:"Liberation Serif", serif'>16</text>
<text x="579.2" y="166.28" font-size="7.2" text-anchor="middle" fill="#111" style='font-family:"Liberation Serif", serif'>32</text>
<text x="588.4" y="166.28" font-size="7.2" text-anchor="middle" fill="#111" style='font-family:"Liberation Serif", serif'>48</text>
<text x="597.5" y="166.28" font-size="7.2" text-anchor="middle" fill="#111" style='font-family:"Liberation Serif", serif'>64</text>
<text x="605.3" y="166.28" font-size="7.2" text-anchor="middle" fill="#111" style='font-family:"Liberation Serif", serif'>0</text>
<text x="612.6" y="166.28" font-size="7.2" text-anchor="middle" fill="#111" style='font-family:"Liberation Serif", serif'>4</text>
<text x="619.4" y="166.28" font-size="7.2" text-anchor="middle" fill="#111" style='font-family:"Liberation Serif", serif'>8</text>
<text x="627.2" y="166.28" font-size="7.2" text-anchor="middle" fill="#111" style='font-family:"Liberation Serif", serif'>16</text>
<text x="636.4" y="166.28" font-size="7.2" text-anchor="middle" fill="#111" style='font-family:"Liberation Serif", serif'>32</text>
<text x="644.9" y="166.28" font-size="7.2" text-anchor="middle" fill="#111" style='font-family:"Liberation Serif", serif'>48</text>
<text x="653.5" y="166.28" font-size="7.2" text-anchor="middle" fill="#111" style='font-family:"Liberation Serif", serif'>64</text>
<rect x="544.6" y="167.3" width="114.9" height="8.2" fill="#d2d2d2"/>
<text x="523.5" y="173.98" font-size="7.2" fill="#111">PKM2</text>
<line x1="660.2" y1="172.4" x2="666" y2="172.4" stroke="#555" stroke-width="0.5"/>
<text x="663.2" y="173.4" font-size="5.6" fill="#111">55KDa</text>
<rect x="544.6" y="177" width="114.9" height="7.7" fill="#d2d2d2"/>
<text x="523.5" y="183.43" font-size="7.2" fill="#111">PHD3</text>
<line x1="660.2" y1="181.85" x2="666" y2="181.85" stroke="#555" stroke-width="0.5"/>
<text x="663.2" y="182.85" font-size="5.6" fill="#111">25KDa</text>
<rect x="544.6" y="187.4" width="114.9" height="7.3" fill="#d2d2d2"/>
<text x="523.5" y="193.63" font-size="7.2" fill="#111">HIF-1&#945;</text>
<line x1="660.2" y1="192.05" x2="666" y2="192.05" stroke="#555" stroke-width="0.5"/>
<text x="663.2" y="193.05" font-size="5.6" fill="#111">100KDa</text>
<rect x="544.6" y="196.5" width="114.9" height="8.6" fill="#d2d2d2"/>
<text x="523.5" y="203.38" font-size="7.2" fill="#111">&#946;&#8211;actin</text>
<line x1="660.2" y1="201.8" x2="666" y2="201.8" stroke="#555" stroke-width="0.5"/>
<text x="663.2" y="202.8" font-size="5.6" fill="#111">40KDa</text>
<rect x="545" y="170.54" width="6.4" height="2.32" rx="1.2" fill="rgb(146,146,146)"/>
<rect x="552.3" y="170.44" width="6.4" height="2.51" rx="1.2" fill="rgb(131,131,131)"/>
<rect x="559.6" y="170.42" width="6.4" height="2.56" rx="1.2" fill="rgb(128,128,128)"/>
<rect x="567.5" y="170.42" width="6.4" height="2.56" rx="1.2" fill="rgb(128,128,128)"/>
<rect x="576" y="170.42" width="6.4" height="2.56" rx="1.2" fill="rgb(128,128,128)"/>
<rect x="585.2" y="170.4" width="6.4" height="2.61" rx="1.2" fill="rgb(124,124,124)"/>
<rect x="594.3" y="170.36" width="6.4" height="2.68" rx="1.2" fill="rgb(119,119,119)"/>
<rect x="602.1" y="170" width="6.4" height="3.4" rx="1.2" fill="rgb(65,65,65)"/>
<rect x="609.4" y="169.94" width="6.4" height="3.52" rx="1.2" fill="rgb(56,56,56)"/>
<rect x="616.2" y="169.94" width="6.4" height="3.52" rx="1.2" fill="rgb(56,56,56)"/>
<rect x="624" y="169.94" width="6.4" height="3.52" rx="1.2" fill="rgb(56,56,56)"/>
<rect x="633.2" y="169.76" width="6.4" height="3.88" rx="1.2" fill="rgb(29,29,29)"/>
<rect x="641.7" y="169.76" width="6.4" height="3.88" rx="1.2" fill="rgb(29,29,29)"/>
<rect x="650.3" y="169.7" width="6.4" height="4" rx="1.2" fill="rgb(20,20,20)"/>
<rect x="545" y="179.87" width="6.4" height="2.56" rx="1.2" fill="rgb(128,128,128)"/>
<rect x="552.3" y="179.87" width="6.4" height="2.56" rx="1.2" fill="rgb(128,128,128)"/>
<rect x="559.6" y="179.87" width="6.4" height="2.56" rx="1.2" fill="rgb(128,128,128)"/>
<rect x="567.5" y="179.87" width="6.4" height="2.56" rx="1.2" fill="rgb(128,128,128)"/>
<rect x="576" y="179.87" width="6.4" height="2.56" rx="1.2" fill="rgb(128,128,128)"/>
<rect x="585.2" y="179.87" width="6.4" height="2.56" rx="1.2" fill="rgb(128,128,128)"/>
<rect x="594.3" y="179.87" width="6.4" height="2.56" rx="1.2" fill="rgb(128,128,128)"/>
<rect x="602.1" y="179.51" width="6.4" height="3.28" rx="1.2" fill="rgb(74,74,74)"/>
<rect x="609.4" y="179.45" width="6.4" height="3.4" rx="1.2" fill="rgb(65,65,65)"/>
<rect x="616.2" y="179.45" width="6.4" height="3.4" rx="1.2" fill="rgb(65,65,65)"/>
<rect x="624" y="179.45" width="6.4" height="3.4" rx="1.2" fill="rgb(65,65,65)"/>
<rect x="633.2" y="179.45" width="6.4" height="3.4" rx="1.2" fill="rgb(65,65,65)"/>
<rect x="641.7" y="179.45" width="6.4" height="3.4" rx="1.2" fill="rgb(65,65,65)"/>
<rect x="650.3" y="179.45" width="6.4" height="3.4" rx="1.2" fill="rgb(65,65,65)"/>
<rect x="545" y="190.41" width="6.4" height="1.89" rx="1.2" fill="rgb(178,178,178)"/>
<rect x="552.3" y="189.95" width="6.4" height="2.8" rx="1.2" fill="rgb(110,110,110)"/>
<rect x="559.6" y="189.95" width="6.4" height="2.8" rx="1.2" fill="rgb(110,110,110)"/>
<rect x="567.5" y="189.95" width="6.4" height="2.8" rx="1.2" fill="rgb(110,110,110)"/>
<rect x="576" y="190.25" width="6.4" height="2.2" rx="1.2" fill="rgb(155,155,155)"/>
<rect x="585.2" y="190.33" width="6.4" height="2.03" rx="1.2" fill="rgb(167,167,167)"/>
<rect x="594.3" y="190.33" width="6.4" height="2.03" rx="1.2" fill="rgb(167,167,167)"/>
<rect x="602.1" y="190.07" width="6.4" height="2.56" rx="1.2" fill="rgb(128,128,128)"/>
<rect x="609.4" y="189.95" width="6.4" height="2.8" rx="1.2" fill="rgb(110,110,110)"/>
<rect x="616.2" y="189.95" width="6.4" height="2.8" rx="1.2" fill="rgb(110,110,110)"/>
<rect x="624" y="189.95" width="6.4" height="2.8" rx="1.2" fill="rgb(110,110,110)"/>
<rect x="633.2" y="189.95" width="6.4" height="2.8" rx="1.2" fill="rgb(110,110,110)"/>
<rect x="641.7" y="190.01" width="6.4" height="2.68" rx="1.2" fill="rgb(119,119,119)"/>
<rect x="650.3" y="190.01" width="6.4" height="2.68" rx="1.2" fill="rgb(119,119,119)"/>
<rect x="545" y="199.34" width="6.4" height="3.52" rx="1.2" fill="rgb(56,56,56)"/>
<rect x="552.3" y="199.34" width="6.4" height="3.52" rx="1.2" fill="rgb(56,56,56)"/>
<rect x="559.6" y="199.34" width="6.4" height="3.52" rx="1.2" fill="rgb(56,56,56)"/>
<rect x="567.5" y="199.34" width="6.4" height="3.52" rx="1.2" fill="rgb(56,56,56)"/>
<rect x="576" y="199.34" width="6.4" height="3.52" rx="1.2" fill="rgb(56,56,56)"/>
<rect x="585.2" y="199.34" width="6.4" height="3.52" rx="1.2" fill="rgb(56,56,56)"/>
<rect x="594.3" y="199.34" width="6.4" height="3.52" rx="1.2" fill="rgb(56,56,56)"/>
<line x1="520.4" y1="218" x2="520.4" y2="314.8" stroke="#2a2a2a" stroke-width="1.2"/>
<line x1="517.4" y1="314.3" x2="520.4" y2="314.3" stroke="#2a2a2a" stroke-width="1"/>
<text x="516.4" y="317.16" font-size="8" text-anchor="end" fill="#111">0</text>
<line x1="517.4" y1="304.67" x2="520.4" y2="304.67" stroke="#2a2a2a" stroke-width="1"/>
<text x="516.4" y="307.53" font-size="8" text-anchor="end" fill="#111">2</text>
<line x1="517.4" y1="295.04" x2="520.4" y2="295.04" stroke="#2a2a2a" stroke-width="1"/>
<text x="516.4" y="297.9" font-size="8" text-anchor="end" fill="#111">4</text>
<line x1="517.4" y1="285.41" x2="520.4" y2="285.41" stroke="#2a2a2a" stroke-width="1"/>
<text x="516.4" y="288.27" font-size="8" text-anchor="end" fill="#111">6</text>
<line x1="517.4" y1="275.78" x2="520.4" y2="275.78" stroke="#2a2a2a" stroke-width="1"/>
<text x="516.4" y="278.64" font-size="8" text-anchor="end" fill="#111">8</text>
<line x1="517.4" y1="266.15" x2="520.4" y2="266.15" stroke="#2a2a2a" stroke-width="1"/>
<text x="516.4" y="269.01" font-size="8" text-anchor="end" fill="#111">10</text>
<line x1="517.4" y1="256.52" x2="520.4" y2="256.52" stroke="#2a2a2a" stroke-width="1"/>
<text x="516.4" y="259.38" font-size="8" text-anchor="end" fill="#111">12</text>
<line x1="517.4" y1="246.89" x2="520.4" y2="246.89" stroke="#2a2a2a" stroke-width="1"/>
<text x="516.4" y="249.75" font-size="8" text-anchor="end" fill="#111">14</text>
<line x1="517.4" y1="237.26" x2="520.4" y2="237.26" stroke="#2a2a2a" stroke-width="1"/>
<text x="516.4" y="240.12" font-size="8" text-anchor="end" fill="#111">16</text>
<line x1="517.4" y1="227.63" x2="520.4" y2="227.63" stroke="#2a2a2a" stroke-width="1"/>
<text x="516.4" y="230.49" font-size="8" text-anchor="end" fill="#111">18</text>
<line x1="517.4" y1="218" x2="520.4" y2="218" stroke="#2a2a2a" stroke-width="1"/>
<text x="516.4" y="220.86" font-size="8" text-anchor="end" fill="#111">20</text>
<line x1="520.4" y1="314.3" x2="653.6" y2="314.3" stroke="#2a2a2a" stroke-width="1"/>
<line x1="541.5" y1="314.3" x2="541.5" y2="316.3" stroke="#2a2a2a" stroke-width="0.8"/>
<line x1="562" y1="314.3" x2="562" y2="316.3" stroke="#2a2a2a" stroke-width="0.8"/>
<line x1="582" y1="314.3" x2="582" y2="316.3" stroke="#2a2a2a" stroke-width="0.8"/>
<line x1="601" y1="314.3" x2="601" y2="316.3" stroke="#2a2a2a" stroke-width="0.8"/>
<line x1="621" y1="314.3" x2="621" y2="316.3" stroke="#2a2a2a" stroke-width="0.8"/>
<line x1="641" y1="314.3" x2="641" y2="316.3" stroke="#2a2a2a" stroke-width="0.8"/>
<text x="534.5" y="326.27" font-size="8.3" text-anchor="middle" fill="#111">0h</text>
<text x="554.2" y="326.27" font-size="8.3" text-anchor="middle" fill="#111">4h</text>
<text x="574.3" y="326.27" font-size="8.3" text-anchor="middle" fill="#111">8h</text>
<text x="590.7" y="326.27" font-size="8.3" text-anchor="middle" fill="#111">16h</text>
<text x="611.7" y="326.27" font-size="8.3" text-anchor="middle" fill="#111">32h</text>
<text x="632.6" y="326.27" font-size="8.3" text-anchor="middle" fill="#111">48h</text>
<text x="653" y="326.27" font-size="8.3" text-anchor="middle" fill="#111">64h</text>
<line x1="530.9" y1="306.3" x2="530.9" y2="310.3" stroke="#555" stroke-width="0.6"/>
<line x1="529.4" y1="306.3" x2="532.4" y2="306.3" stroke="#555" stroke-width="0.6"/>
<line x1="530.9" y1="308.7" x2="530.9" y2="311.5" stroke="#555" stroke-width="0.6"/>
<line x1="551" y1="302.7" x2="551" y2="308.7" stroke="#555" stroke-width="0.6"/>
<line x1="549.5" y1="302.7" x2="552.5" y2="302.7" stroke="#555" stroke-width="0.6"/>
<line x1="551" y1="306.3" x2="551" y2="310.5" stroke="#555" stroke-width="0.6"/>
<line x1="570.7" y1="283.8" x2="570.7" y2="289.8" stroke="#555" stroke-width="0.6"/>
<line x1="569.2" y1="283.8" x2="572.2" y2="283.8" stroke="#555" stroke-width="0.6"/>
<line x1="570.7" y1="296.7" x2="570.7" y2="300.9" stroke="#555" stroke-width="0.6"/>
<line x1="590.7" y1="265.4" x2="590.7" y2="273.4" stroke="#555" stroke-width="0.6"/>
<line x1="589.2" y1="265.4" x2="592.2" y2="265.4" stroke="#555" stroke-width="0.6"/>
<line x1="590.7" y1="281.6" x2="590.7" y2="287.2" stroke="#555" stroke-width="0.6"/>
<line x1="610.2" y1="240.5" x2="610.2" y2="256.5" stroke="#555" stroke-width="0.6"/>
<line x1="608.7" y1="240.5" x2="611.7" y2="240.5" stroke="#555" stroke-width="0.6"/>
<line x1="610.2" y1="258.2" x2="610.2" y2="269.4" stroke="#555" stroke-width="0.6"/>
<line x1="629.7" y1="229.9" x2="629.7" y2="247.9" stroke="#555" stroke-width="0.6"/>
<line x1="628.2" y1="229.9" x2="631.2" y2="229.9" stroke="#555" stroke-width="0.6"/>
<line x1="629.7" y1="241.6" x2="629.7" y2="254.2" stroke="#555" stroke-width="0.6"/>
<line x1="650" y1="229.9" x2="650" y2="247.9" stroke="#555" stroke-width="0.6"/>
<line x1="648.5" y1="229.9" x2="651.5" y2="229.9" stroke="#555" stroke-width="0.6"/>
<line x1="650" y1="242.2" x2="650" y2="254.8" stroke="#555" stroke-width="0.6"/>
<polyline points="530.9,308.3 551,305.7 570.7,286.8 590.7,269.4 610.2,248.5 629.7,238.9 650,238.9" fill="none" stroke="#4a7cc4" stroke-width="1.4"/>
<polyline points="530.9,310.1 551,308.4 570.7,298.8 590.7,284.4 610.2,263.8 629.7,247.9 650,248.5" fill="none" stroke="#c8474a" stroke-width="1.4"/>
<path d="M529.1,308.3 L530.9,306.5 L532.7,308.3 L530.9,310.1Z" fill="#4a7cc4"/>
<path d="M549.2,305.7 L551,303.9 L552.8,305.7 L551,307.5Z" fill="#4a7cc4"/>
<path d="M568.9,286.8 L570.7,285 L572.5,286.8 L570.7,288.6Z" fill="#4a7cc4"/>
<path d="M588.9,269.4 L590.7,267.6 L592.5,269.4 L590.7,271.2Z" fill="#4a7cc4"/>
<path d="M608.4,248.5 L610.2,246.7 L612,248.5 L610.2,250.3Z" fill="#4a7cc4"/>
<path d="M627.9,238.9 L629.7,237.1 L631.5,238.9 L629.7,240.7Z" fill="#4a7cc4"/>
<path d="M648.2,238.9 L650,237.1 L651.8,238.9 L650,240.7Z" fill="#4a7cc4"/>
<rect x="529.1" y="308.3" width="3.6" height="3.6" fill="#c8474a"/>
<rect x="549.2" y="306.6" width="3.6" height="3.6" fill="#c8474a"/>
<rect x="568.9" y="297" width="3.6" height="3.6" fill="#c8474a"/>
<rect x="588.9" y="282.6" width="3.6" height="3.6" fill="#c8474a"/>
<rect x="608.4" y="262" width="3.6" height="3.6" fill="#c8474a"/>
<rect x="627.9" y="246.1" width="3.6" height="3.6" fill="#c8474a"/>
<rect x="648.2" y="246.7" width="3.6" height="3.6" fill="#c8474a"/>
<line x1="527.3" y1="220.4" x2="537.5" y2="220.4" stroke="#4a7cc4" stroke-width="1.4"/>
<path d="M530.6,220.4 L532.4,218.6 L534.2,220.4 L532.4,222.2Z" fill="#4a7cc4"/>
<text x="538.4" y="223.55" font-size="8.8" fill="#111">PKM2</text>
<line x1="527.3" y1="232.3" x2="537.5" y2="232.3" stroke="#c8474a" stroke-width="1.4"/>
<rect x="530.6" y="230.5" width="3.6" height="3.6" fill="#c8474a"/>
<text x="538.4" y="235.45" font-size="8.8" fill="#111">PHD3</text>
<text x="597.3" y="233.38" font-size="7.2" fill="#4a7cc4"><tspan font-style="italic">p</tspan>&lt;0.0001</text>
<text x="577" y="246.88" font-size="7.2" fill="#4a7cc4"><tspan font-style="italic">p</tspan>&lt;0.0001</text>
<text x="557.2" y="268.98" font-size="7.2" fill="#4a7cc4"><tspan font-style="italic">p</tspan>&lt;0.0001</text>
<text x="538.4" y="285.78" font-size="7.2" fill="#4a7cc4"><tspan font-style="italic">p</tspan>=0.0002</text>
<text x="653.6" y="239.08" font-size="7.2" fill="#4a7cc4"><tspan font-style="italic">p</tspan>&lt;0.0001</text>
<text x="656" y="249.88" font-size="7.2" fill="#c8474a"><tspan font-style="italic">p</tspan>&lt;0.0001</text>
<text x="622" y="259.48" font-size="7.2" fill="#c8474a"><tspan font-style="italic">p</tspan>&lt;0.0001</text>
<text x="613.2" y="274.38" font-size="7.2" fill="#c8474a"><tspan font-style="italic">p</tspan>&lt;0.0001</text>
<text x="596.7" y="286.98" font-size="7.2" fill="#c8474a"><tspan font-style="italic">p</tspan>=0.0001</text>
<text x="577.3" y="304.38" font-size="7.2" fill="#c8474a"><tspan font-style="italic">p</tspan>=0.0078</text>
<text transform="translate(492.19 263) rotate(-90)" font-size="8.9" text-anchor="middle">The relative binding affinity of HIF-1&#945;</text>
<text transform="translate(501.09 263) rotate(-90)" font-size="8.9" text-anchor="middle">with PKM2 or PHD3 following hypoxia</text>
<text x="27" y="313.4" font-size="17" fill="#111">i</text>
<text x="82.6" y="310.24" font-size="9.6" text-anchor="middle" fill="#111">HIFAL WT</text>
<text x="155.8" y="310.24" font-size="9.6" text-anchor="middle" fill="#111">HIFAL null</text>
<rect x="43" y="319.8" width="75.3" height="55.4" fill="none" stroke="#444" stroke-width="0.9"/>
<rect x="123.2" y="319.8" width="75.3" height="55.4" fill="none" stroke="#444" stroke-width="0.9"/>
<line x1="40.5" y1="333.8" x2="43" y2="333.8" stroke="#333" stroke-width="0.8"/>
<line x1="120.7" y1="333.8" x2="123.2" y2="333.8" stroke="#333" stroke-width="0.8"/>
<text x="40.3" y="336.77" font-size="8.3" text-anchor="end" fill="#111">20</text>
<line x1="40.5" y1="353.2" x2="43" y2="353.2" stroke="#333" stroke-width="0.8"/>
<line x1="120.7" y1="353.2" x2="123.2" y2="353.2" stroke="#333" stroke-width="0.8"/>
<text x="40.3" y="356.17" font-size="8.3" text-anchor="end" fill="#111">10</text>
<line x1="40.5" y1="371.6" x2="43" y2="371.6" stroke="#333" stroke-width="0.8"/>
<line x1="120.7" y1="371.6" x2="123.2" y2="371.6" stroke="#333" stroke-width="0.8"/>
<text x="40.3" y="374.57" font-size="8.3" text-anchor="end" fill="#111">0</text>
<polyline points="43.4,369.82 44.33,369.59 45.27,369.35 46.2,369.09 47.13,368.82 48.06,368.53 48.99,368.22 49.93,367.9 50.86,367.55 51.79,367.17 52.72,366.77 53.66,366.34 54.59,365.87 55.52,365.37 56.45,364.82 57.39,364.23 58.32,363.59 59.25,362.88 60.19,362.11 61.12,361.27 62.05,360.35 62.98,359.33 63.91,358.21 64.85,356.97 65.78,355.6 66.71,354.09 67.64,352.43 68.58,350.6 69.51,348.59 70.44,346.39 71.38,344.01 72.31,341.45 73.24,338.74 74.17,335.93 75.1,333.1 76.04,330.32 76.97,327.75 77.9,325.51 78.83,323.75 79.77,322.62 80.7,322.2 81.63,322.62 82.56,323.75 83.5,325.51 84.43,327.75 85.36,330.32 86.29,333.1 87.23,335.93 88.16,338.74 89.09,341.45 90.03,344.01 90.96,346.39 91.89,348.59 92.82,350.6 93.75,352.43 94.69,354.09 95.62,355.6 96.55,356.97 97.48,358.21 98.42,359.33 99.35,360.35 100.28,361.27 101.22,362.11 102.15,362.88 103.08,363.59 104.01,364.23 104.94,364.82 105.88,365.37 106.81,365.87 107.74,366.34 108.67,366.77 109.61,367.17 110.54,367.55 111.47,367.9 112.41,368.22 113.34,368.53 114.27,368.82 115.2,369.09 116.13,369.35 117.07,369.59 118,369.82" fill="none" stroke="#3f3fae" stroke-width="1"/>
<polyline points="123.6,371.97 124.84,371.96 126.09,371.94 127.33,371.93 128.57,371.91 129.82,371.89 131.06,371.86 132.3,371.83 133.55,371.79 134.79,371.75 136.03,371.7 137.28,371.64 138.52,371.57 139.76,371.5 141.01,371.42 142.25,371.34 143.49,371.25 144.74,371.15 145.98,371.05 147.22,370.95 148.47,370.85 149.71,370.74 150.95,370.65 152.2,370.55 153.44,370.47 154.68,370.39 155.93,370.32 157.17,370.27 158.41,370.23 159.66,370.21 160.9,370.2 162.14,370.21 163.39,370.23 164.63,370.27 165.87,370.32 167.12,370.39 168.36,370.47 169.6,370.55 170.85,370.65 172.09,370.74 173.33,370.85 174.58,370.95 175.82,371.05 177.06,371.15 178.31,371.25 179.55,371.34 180.79,371.42 182.04,371.5 183.28,371.57 184.52,371.64 185.77,371.7 187.01,371.75 188.25,371.79 189.5,371.83 190.74,371.86 191.98,371.89 193.23,371.91 194.47,371.93 195.71,371.94 196.96,371.96 198.2,371.97" fill="none" stroke="#3f3fae" stroke-width="1"/>
<rect x="43" y="378" width="75.5" height="2" fill="url(#h1)" shape-rendering="crispEdges"/>
<rect x="43" y="380" width="75.5" height="2" fill="url(#h2)" shape-rendering="crispEdges"/>
<rect x="43" y="382" width="75.5" height="2" fill="url(#h3)" shape-rendering="crispEdges"/>
<rect x="43" y="384" width="75.5" height="2" fill="url(#h4)" shape-rendering="crispEdges"/>
<rect x="43" y="386" width="75.5" height="2" fill="url(#h5)" shape-rendering="crispEdges"/>
<rect x="43" y="388" width="75.5" height="2" fill="url(#h6)" shape-rendering="crispEdges"/>
<rect x="43" y="390" width="75.5" height="2" fill="url(#h7)" shape-rendering="crispEdges"/>
<rect x="43" y="392" width="75.5" height="2" fill="url(#h8)" shape-rendering="crispEdges"/>
<rect x="43" y="394" width="75.5" height="2" fill="url(#h9)" shape-rendering="crispEdges"/>
<rect x="43" y="396" width="75.5" height="2" fill="url(#h10)" shape-rendering="crispEdges"/>
<rect x="43" y="398" width="75.5" height="2" fill="url(#h11)" shape-rendering="crispEdges"/>
<rect x="43" y="400" width="75.5" height="2" fill="url(#h12)" shape-rendering="crispEdges"/>
<rect x="43" y="402" width="75.5" height="2" fill="url(#h13)" shape-rendering="crispEdges"/>
<rect x="43" y="404" width="75.5" height="2" fill="url(#h14)" shape-rendering="crispEdges"/>
<rect x="43" y="406" width="75.5" height="2" fill="url(#h15)" shape-rendering="crispEdges"/>
<rect x="43" y="408" width="75.5" height="2" fill="url(#h16)" shape-rendering="crispEdges"/>
<rect x="43" y="410" width="75.5" height="2" fill="url(#h17)" shape-rendering="crispEdges"/>
<rect x="43" y="412" width="75.5" height="2" fill="url(#h18)" shape-rendering="crispEdges"/>
<rect x="43" y="414" width="75.5" height="2" fill="url(#h19)" shape-rendering="crispEdges"/>
<rect x="43" y="416" width="75.5" height="2" fill="url(#h20)" shape-rendering="crispEdges"/>
<rect x="43" y="418" width="75.5" height="2" fill="url(#h21)" shape-rendering="crispEdges"/>
<rect x="43" y="420" width="75.5" height="2" fill="url(#h22)" shape-rendering="crispEdges"/>
<rect x="43" y="422" width="75.5" height="2" fill="url(#h23)" shape-rendering="crispEdges"/>
<rect x="43" y="424" width="75.5" height="2" fill="url(#h24)" shape-rendering="crispEdges"/>
<rect x="43" y="426" width="75.5" height="2" fill="url(#h25)" shape-rendering="crispEdges"/>
<rect x="43" y="428" width="75.5" height="2" fill="url(#h26)" shape-rendering="crispEdges"/>
<rect x="43" y="430" width="75.5" height="2" fill="url(#h27)" shape-rendering="crispEdges"/>
<rect x="43" y="432" width="75.5" height="2" fill="url(#h28)" shape-rendering="crispEdges"/>
<rect x="43" y="434" width="75.5" height="2" fill="url(#h29)" shape-rendering="crispEdges"/>
<rect x="43" y="436" width="75.5" height="2" fill="url(#h30)" shape-rendering="crispEdges"/>
<rect x="43" y="438" width="75.5" height="2" fill="url(#h31)" shape-rendering="crispEdges"/>
<rect x="43" y="440" width="75.5" height="2" fill="url(#h32)" shape-rendering="crispEdges"/>
<rect x="43" y="442" width="75.5" height="2" fill="url(#h33)" shape-rendering="crispEdges"/>
<rect x="43" y="444" width="75.5" height="2" fill="url(#h34)" shape-rendering="crispEdges"/>
<rect x="43" y="446" width="75.5" height="2" fill="url(#h35)" shape-rendering="crispEdges"/>
<rect x="43" y="448" width="75.5" height="2" fill="url(#h36)" shape-rendering="crispEdges"/>
<rect x="43" y="450" width="75.5" height="2" fill="url(#h37)" shape-rendering="crispEdges"/>
<rect x="43" y="452" width="75.5" height="2" fill="url(#h38)" shape-rendering="crispEdges"/>
<rect x="43" y="454" width="75.5" height="2" fill="url(#h39)" shape-rendering="crispEdges"/>
<rect x="43" y="456" width="75.5" height="2" fill="url(#h40)" shape-rendering="crispEdges"/>
<rect x="43" y="458" width="75.5" height="2" fill="url(#h41)" shape-rendering="crispEdges"/>
<rect x="43" y="460" width="75.5" height="2" fill="url(#h42)" shape-rendering="crispEdges"/>
<rect x="43" y="462" width="75.5" height="2" fill="url(#h43)" shape-rendering="crispEdges"/>
<rect x="43" y="464" width="75.5" height="2" fill="url(#h44)" shape-rendering="crispEdges"/>
<rect x="43" y="466" width="75.5" height="2" fill="url(#h45)" shape-rendering="crispEdges"/>
<rect x="43" y="468" width="75.5" height="2" fill="url(#h46)" shape-rendering="crispEdges"/>
<rect x="43" y="470" width="75.5" height="2" fill="url(#h47)" shape-rendering="crispEdges"/>
<rect x="43" y="472" width="75.5" height="2" fill="url(#h48)" shape-rendering="crispEdges"/>
<rect x="43" y="474" width="75.5" height="2" fill="url(#h49)" shape-rendering="crispEdges"/>
<rect x="43" y="476" width="75.5" height="2" fill="url(#h50)" shape-rendering="crispEdges"/>
<rect x="43" y="478" width="75.5" height="2" fill="url(#h51)" shape-rendering="crispEdges"/>
<rect x="43" y="480" width="75.5" height="2" fill="url(#h52)" shape-rendering="crispEdges"/>
<rect x="43" y="482" width="75.5" height="2" fill="url(#h53)" shape-rendering="crispEdges"/>
<rect x="43" y="484" width="75.5" height="2" fill="url(#h54)" shape-rendering="crispEdges"/>
<rect x="123.2" y="378" width="75.6" height="6" fill="url(#h55)" shape-rendering="crispEdges"/>
<rect x="123.2" y="384" width="75.6" height="6" fill="url(#h56)" shape-rendering="crispEdges"/>
<rect x="123.2" y="390" width="75.6" height="6" fill="url(#h57)" shape-rendering="crispEdges"/>
<rect x="123.2" y="396" width="75.6" height="6" fill="url(#h58)" shape-rendering="crispEdges"/>
<rect x="123.2" y="402" width="75.6" height="6" fill="url(#h59)" shape-rendering="crispEdges"/>
<rect x="123.2" y="408" width="75.6" height="6" fill="url(#h60)" shape-rendering="crispEdges"/>
<rect x="123.2" y="414" width="75.6" height="6" fill="url(#h61)" shape-rendering="crispEdges"/>
<rect x="123.2" y="420" width="75.6" height="6" fill="url(#h62)" shape-rendering="crispEdges"/>
<rect x="123.2" y="426" width="75.6" height="6" fill="url(#h63)" shape-rendering="crispEdges"/>
<rect x="123.2" y="432" width="75.6" height="6" fill="url(#h64)" shape-rendering="crispEdges"/>
<rect x="123.2" y="438" width="75.6" height="6" fill="url(#h65)" shape-rendering="crispEdges"/>
<rect x="123.2" y="444" width="75.6" height="6" fill="url(#h66)" shape-rendering="crispEdges"/>
<rect x="123.2" y="450" width="75.6" height="6" fill="url(#h67)" shape-rendering="crispEdges"/>
<rect x="123.2" y="456" width="75.6" height="6" fill="url(#h68)" shape-rendering="crispEdges"/>
<rect x="123.2" y="462" width="75.6" height="6" fill="url(#h69)" shape-rendering="crispEdges"/>
<rect x="123.2" y="468" width="75.6" height="6" fill="url(#h70)" shape-rendering="crispEdges"/>
<rect x="123.2" y="474" width="75.6" height="6" fill="url(#h71)" shape-rendering="crispEdges"/>
<rect x="123.2" y="480" width="75.6" height="6" fill="url(#h72)" shape-rendering="crispEdges"/>
<text x="47.8" y="496.79" font-size="7.8" text-anchor="middle" fill="#111">-0.5</text>
<text x="73.8" y="496.79" font-size="7.8" text-anchor="middle" fill="#111">peaks</text>
<text x="110.4" y="496.79" font-size="7.8" text-anchor="middle" fill="#111">0.5kb</text>
<text x="128.3" y="496.79" font-size="7.8" text-anchor="middle" fill="#111">-0.5</text>
<text x="162.1" y="496.79" font-size="7.8" text-anchor="middle" fill="#111">peaks</text>
<text x="198.1" y="496.79" font-size="7.8" text-anchor="middle" fill="#111">0.5kb</text>
<text x="217.5" y="313" font-size="17" fill="#111">j</text>
<circle cx="297.5" cy="386.7" r="74" fill="#4f7fbf" stroke="#333" stroke-width="0.6"/>
<circle cx="338.1" cy="419.7" r="24.3" fill="#f8ae72"/>
<circle cx="338.1" cy="419.7" r="24.3" fill="#c98c60" clip-path="url(#cj)"/>
<text x="293.8" y="385.01" font-size="9.8" text-anchor="middle" fill="#111" style='font-family:"Liberation Serif", serif'>9836</text>
<text x="338.7" y="425.21" font-size="9.8" text-anchor="middle" fill="#111" style='font-family:"Liberation Serif", serif'>243</text>
<line x1="355.7" y1="435.2" x2="369.6" y2="435.2" stroke="#333" stroke-width="0.7"/>
<text x="370.5" y="438.71" font-size="9.8" fill="#111" style='font-family:"Liberation Serif", serif'>3</text>
<circle cx="241.1" cy="470.8" r="9.6" fill="#4f7fbf"/>
<text x="254" y="474.27" font-size="9.7" fill="#111">HIFAL WT</text>
<circle cx="241.1" cy="495.5" r="9.6" fill="#f8ae72"/>
<text x="254" y="498.97" font-size="9.7" fill="#111">HIFAL null</text>
<text x="398.1" y="321.7" font-size="17" fill="#111">k</text>
<text x="453" y="351.84" font-size="9.6" text-anchor="middle" fill="#111">Motif</text>
<text x="535.8" y="352.41" font-size="9.8" text-anchor="middle" fill="#111">% of Targets</text>
<text x="597.2" y="350.64" font-size="9.6" text-anchor="middle" fill="#111">p-value</text>
<text x="648" y="350.64" font-size="9.6" text-anchor="middle" fill="#111">q-value</text>
<line x1="426.8" y1="358.1" x2="674.4" y2="358.1" stroke="#444" stroke-width="0.9"/>
<text transform="translate(433.4 377.9) scale(1.26 0.21)" font-size="10" font-weight="bold" text-anchor="middle" fill="#2343b4">C</text>
<text transform="translate(433.4 376.41) scale(1.17 0.43)" font-size="10" font-weight="bold" text-anchor="middle" fill="#f5a623">G</text>
<text transform="translate(433.4 373.31) scale(1.26 0.86)" font-size="10" font-weight="bold" text-anchor="middle" fill="#22a046">A</text>
<text transform="translate(441.8 377.9) scale(1.26 0.17)" font-size="10" font-weight="bold" text-anchor="middle" fill="#2343b4">C</text>
<text transform="translate(441.8 376.66) scale(1.17 0.52)" font-size="10" font-weight="bold" text-anchor="middle" fill="#f5a623">G</text>
<text transform="translate(441.8 372.94) scale(1.48 0.86)" font-size="10" font-weight="bold" text-anchor="middle" fill="#d7202b">T</text>
<text transform="translate(450.2 377.9) scale(1.17 0.09)" font-size="10" font-weight="bold" text-anchor="middle" fill="#f5a623">G</text>
<text transform="translate(450.2 377.28) scale(1.26 1.64)" font-size="10" font-weight="bold" text-anchor="middle" fill="#22a046">A</text>
<text transform="translate(458.6 377.9) scale(1.26 1.72)" font-size="10" font-weight="bold" text-anchor="middle" fill="#2343b4">C</text>
<text transform="translate(467 377.9) scale(1.17 1.72)" font-size="10" font-weight="bold" text-anchor="middle" fill="#f5a623">G</text>
<text transform="translate(475.4 377.9) scale(1.48 1.72)" font-size="10" font-weight="bold" text-anchor="middle" fill="#d7202b">T</text>
<text transform="translate(483.8 377.9) scale(1.17 1.72)" font-size="10" font-weight="bold" text-anchor="middle" fill="#f5a623">G</text>
<text transform="translate(492.2 377.9) scale(1.26 0.26)" font-size="10" font-weight="bold" text-anchor="middle" fill="#22a046">A</text>
<text transform="translate(492.2 376.04) scale(1.48 0.17)" font-size="10" font-weight="bold" text-anchor="middle" fill="#d7202b">T</text>
<text transform="translate(492.2 374.8) scale(1.26 1.12)" font-size="10" font-weight="bold" text-anchor="middle" fill="#2343b4">C</text>
<text x="526.8" y="375.14" font-size="9.6" text-anchor="middle" fill="#111">40.97%</text>
<text x="594.8" y="375.1" font-size="9.5" text-anchor="middle" fill="#111">1e-757</text>
<text x="644.8" y="374.2" font-size="9.5" text-anchor="middle" fill="#111">0.0000</text>
<text transform="translate(432.56 399) scale(1.01 0.17)" font-size="10" font-weight="bold" text-anchor="middle" fill="#22a046">A</text>
<text transform="translate(432.56 397.76) scale(1.19 0.52)" font-size="10" font-weight="bold" text-anchor="middle" fill="#d7202b">T</text>
<text transform="translate(432.56 394.04) scale(0.93 0.86)" font-size="10" font-weight="bold" text-anchor="middle" fill="#f5a623">G</text>
<text transform="translate(439.28 399) scale(1.01 1.72)" font-size="10" font-weight="bold" text-anchor="middle" fill="#2343b4">C</text>
<text transform="translate(446 399) scale(1.01 1.72)" font-size="10" font-weight="bold" text-anchor="middle" fill="#22a046">A</text>
<text transform="translate(452.72 399) scale(1.01 1.72)" font-size="10" font-weight="bold" text-anchor="middle" fill="#2343b4">C</text>
<text transform="translate(459.44 399) scale(0.93 1.72)" font-size="10" font-weight="bold" text-anchor="middle" fill="#f5a623">G</text>
<text transform="translate(466.16 399) scale(1.19 1.72)" font-size="10" font-weight="bold" text-anchor="middle" fill="#d7202b">T</text>
<text transform="translate(472.88 399) scale(1.19 0.26)" font-size="10" font-weight="bold" text-anchor="middle" fill="#d7202b">T</text>
<text transform="translate(472.88 397.14) scale(1.01 0.34)" font-size="10" font-weight="bold" text-anchor="middle" fill="#2343b4">C</text>
<text transform="translate(472.88 394.66) scale(1.01 0.95)" font-size="10" font-weight="bold" text-anchor="middle" fill="#22a046">A</text>
<text transform="translate(479.6 399) scale(1.01 0.17)" font-size="10" font-weight="bold" text-anchor="middle" fill="#22a046">A</text>
<text transform="translate(479.6 397.76) scale(1.19 0.26)" font-size="10" font-weight="bold" text-anchor="middle" fill="#d7202b">T</text>
<text transform="translate(479.6 395.9) scale(0.93 0.43)" font-size="10" font-weight="bold" text-anchor="middle" fill="#f5a623">G</text>
<text transform="translate(479.6 392.8) scale(1.01 0.78)" font-size="10" font-weight="bold" text-anchor="middle" fill="#2343b4">C</text>
<text transform="translate(486.32 399) scale(1.01 0.21)" font-size="10" font-weight="bold" text-anchor="middle" fill="#22a046">A</text>
<text transform="translate(486.32 397.51) scale(1.19 0.26)" font-size="10" font-weight="bold" text-anchor="middle" fill="#d7202b">T</text>
<text transform="translate(486.32 395.65) scale(0.93 0.34)" font-size="10" font-weight="bold" text-anchor="middle" fill="#f5a623">G</text>
<text transform="translate(486.32 393.17) scale(1.01 0.78)" font-size="10" font-weight="bold" text-anchor="middle" fill="#2343b4">C</text>
<text transform="translate(493.04 399) scale(1.01 0.26)" font-size="10" font-weight="bold" text-anchor="middle" fill="#22a046">A</text>
<text transform="translate(493.04 397.14) scale(1.19 0.6)" font-size="10" font-weight="bold" text-anchor="middle" fill="#d7202b">T</text>
<text transform="translate(493.04 392.8) scale(1.01 0.78)" font-size="10" font-weight="bold" text-anchor="middle" fill="#2343b4">C</text>
<text x="526.8" y="396.24" font-size="9.6" text-anchor="middle" fill="#111">21.70%</text>
<text x="594.8" y="396.2" font-size="9.5" text-anchor="middle" fill="#111">1e-662</text>
<text x="644.8" y="397.4" font-size="9.5" text-anchor="middle" fill="#111">0.0000</text>
<text transform="translate(433.4 422.7) scale(1.26 0.14)" font-size="10" font-weight="bold" text-anchor="middle" fill="#2343b4">C</text>
<text transform="translate(433.4 421.71) scale(1.17 0.43)" font-size="10" font-weight="bold" text-anchor="middle" fill="#f5a623">G</text>
<text transform="translate(433.4 418.61) scale(1.48 0.95)" font-size="10" font-weight="bold" text-anchor="middle" fill="#d7202b">T</text>
<text transform="translate(441.8 422.7) scale(1.26 1.72)" font-size="10" font-weight="bold" text-anchor="middle" fill="#22a046">A</text>
<text transform="translate(450.2 422.7) scale(1.26 1.72)" font-size="10" font-weight="bold" text-anchor="middle" fill="#2343b4">C</text>
<text transform="translate(458.6 422.7) scale(1.17 1.72)" font-size="10" font-weight="bold" text-anchor="middle" fill="#f5a623">G</text>
<text transform="translate(467 422.7) scale(1.48 1.72)" font-size="10" font-weight="bold" text-anchor="middle" fill="#d7202b">T</text>
<text transform="translate(475.4 422.7) scale(1.26 0.17)" font-size="10" font-weight="bold" text-anchor="middle" fill="#22a046">A</text>
<text transform="translate(475.4 421.46) scale(1.17 1.38)" font-size="10" font-weight="bold" text-anchor="middle" fill="#f5a623">G</text>
<text transform="translate(483.8 422.7) scale(1.26 0.43)" font-size="10" font-weight="bold" text-anchor="middle" fill="#22a046">A</text>
<text transform="translate(483.8 419.6) scale(1.17 0.34)" font-size="10" font-weight="bold" text-anchor="middle" fill="#f5a623">G</text>
<text transform="translate(483.8 417.12) scale(1.26 0.95)" font-size="10" font-weight="bold" text-anchor="middle" fill="#2343b4">C</text>
<text transform="translate(492.2 422.7) scale(1.48 0.26)" font-size="10" font-weight="bold" text-anchor="middle" fill="#d7202b">T</text>
<text transform="translate(492.2 420.84) scale(1.26 0.43)" font-size="10" font-weight="bold" text-anchor="middle" fill="#22a046">A</text>
<text transform="translate(492.2 417.74) scale(1.17 0.43)" font-size="10" font-weight="bold" text-anchor="middle" fill="#f5a623">G</text>
<text transform="translate(492.2 414.64) scale(1.26 0.52)" font-size="10" font-weight="bold" text-anchor="middle" fill="#2343b4">C</text>
<text x="526.8" y="419.94" font-size="9.6" text-anchor="middle" fill="#111">16.86%</text>
<text x="594.8" y="420.8" font-size="9.5" text-anchor="middle" fill="#111">1e-489</text>
<text x="644.8" y="422" font-size="9.5" text-anchor="middle" fill="#111">0.0000</text>
<text transform="translate(432.56 451.9) scale(1.01 0.17)" font-size="10" font-weight="bold" text-anchor="middle" fill="#22a046">A</text>
<text transform="translate(432.56 450.66) scale(1.19 0.52)" font-size="10" font-weight="bold" text-anchor="middle" fill="#d7202b">T</text>
<text transform="translate(432.56 446.94) scale(0.93 0.86)" font-size="10" font-weight="bold" text-anchor="middle" fill="#f5a623">G</text>
<text transform="translate(439.28 451.9) scale(1.01 1.72)" font-size="10" font-weight="bold" text-anchor="middle" fill="#2343b4">C</text>
<text transform="translate(446 451.9) scale(1.01 1.72)" font-size="10" font-weight="bold" text-anchor="middle" fill="#22a046">A</text>
<text transform="translate(452.72 451.9) scale(1.01 1.72)" font-size="10" font-weight="bold" text-anchor="middle" fill="#2343b4">C</text>
<text transform="translate(459.44 451.9) scale(0.93 1.72)" font-size="10" font-weight="bold" text-anchor="middle" fill="#f5a623">G</text>
<text transform="translate(466.16 451.9) scale(1.19 1.72)" font-size="10" font-weight="bold" text-anchor="middle" fill="#d7202b">T</text>
<text transform="translate(472.88 451.9) scale(1.19 0.26)" font-size="10" font-weight="bold" text-anchor="middle" fill="#d7202b">T</text>
<text transform="translate(472.88 450.04) scale(1.01 0.34)" font-size="10" font-weight="bold" text-anchor="middle" fill="#2343b4">C</text>
<text transform="translate(472.88 447.56) scale(1.01 0.95)" font-size="10" font-weight="bold" text-anchor="middle" fill="#22a046">A</text>
<text transform="translate(479.6 451.9) scale(1.01 0.17)" font-size="10" font-weight="bold" text-anchor="middle" fill="#22a046">A</text>
<text transform="translate(479.6 450.66) scale(1.19 0.26)" font-size="10" font-weight="bold" text-anchor="middle" fill="#d7202b">T</text>
<text transform="translate(479.6 448.8) scale(0.93 0.43)" font-size="10" font-weight="bold" text-anchor="middle" fill="#f5a623">G</text>
<text transform="translate(479.6 445.7) scale(1.01 0.78)" font-size="10" font-weight="bold" text-anchor="middle" fill="#2343b4">C</text>
<text transform="translate(486.32 451.9) scale(1.01 0.21)" font-size="10" font-weight="bold" text-anchor="middle" fill="#22a046">A</text>
<text transform="translate(486.32 450.41) scale(1.19 0.26)" font-size="10" font-weight="bold" text-anchor="middle" fill="#d7202b">T</text>
<text transform="translate(486.32 448.55) scale(0.93 0.34)" font-size="10" font-weight="bold" text-anchor="middle" fill="#f5a623">G</text>
<text transform="translate(486.32 446.07) scale(1.01 0.78)" font-size="10" font-weight="bold" text-anchor="middle" fill="#2343b4">C</text>
<text transform="translate(493.04 451.9) scale(1.01 0.26)" font-size="10" font-weight="bold" text-anchor="middle" fill="#22a046">A</text>
<text transform="translate(493.04 450.04) scale(1.19 0.6)" font-size="10" font-weight="bold" text-anchor="middle" fill="#d7202b">T</text>
<text transform="translate(493.04 445.7) scale(1.01 0.78)" font-size="10" font-weight="bold" text-anchor="middle" fill="#2343b4">C</text>
<text x="526.8" y="449.14" font-size="9.6" text-anchor="middle" fill="#111">35.59%</text>
<text x="594.8" y="449.1" font-size="9.5" text-anchor="middle" fill="#111">1e-12</text>
<text x="644.8" y="447" font-size="9.5" text-anchor="middle" fill="#111">0.0000</text>
<text transform="translate(433.4 473.5) scale(1.26 0.21)" font-size="10" font-weight="bold" text-anchor="middle" fill="#2343b4">C</text>
<text transform="translate(433.4 472.01) scale(1.17 0.43)" font-size="10" font-weight="bold" text-anchor="middle" fill="#f5a623">G</text>
<text transform="translate(433.4 468.91) scale(1.26 0.86)" font-size="10" font-weight="bold" text-anchor="middle" fill="#22a046">A</text>
<text transform="translate(441.8 473.5) scale(1.26 0.17)" font-size="10" font-weight="bold" text-anchor="middle" fill="#2343b4">C</text>
<text transform="translate(441.8 472.26) scale(1.17 0.52)" font-size="10" font-weight="bold" text-anchor="middle" fill="#f5a623">G</text>
<text transform="translate(441.8 468.54) scale(1.48 0.86)" font-size="10" font-weight="bold" text-anchor="middle" fill="#d7202b">T</text>
<text transform="translate(450.2 473.5) scale(1.17 0.09)" font-size="10" font-weight="bold" text-anchor="middle" fill="#f5a623">G</text>
<text transform="translate(450.2 472.88) scale(1.26 1.64)" font-size="10" font-weight="bold" text-anchor="middle" fill="#22a046">A</text>
<text transform="translate(458.6 473.5) scale(1.26 1.72)" font-size="10" font-weight="bold" text-anchor="middle" fill="#2343b4">C</text>
<text transform="translate(467 473.5) scale(1.17 1.72)" font-size="10" font-weight="bold" text-anchor="middle" fill="#f5a623">G</text>
<text transform="translate(475.4 473.5) scale(1.48 1.72)" font-size="10" font-weight="bold" text-anchor="middle" fill="#d7202b">T</text>
<text transform="translate(483.8 473.5) scale(1.17 1.72)" font-size="10" font-weight="bold" text-anchor="middle" fill="#f5a623">G</text>
<text transform="translate(492.2 473.5) scale(1.26 0.26)" font-size="10" font-weight="bold" text-anchor="middle" fill="#22a046">A</text>
<text transform="translate(492.2 471.64) scale(1.48 0.17)" font-size="10" font-weight="bold" text-anchor="middle" fill="#d7202b">T</text>
<text transform="translate(492.2 470.4) scale(1.26 1.12)" font-size="10" font-weight="bold" text-anchor="middle" fill="#2343b4">C</text>
<text x="526.8" y="470.74" font-size="9.6" text-anchor="middle" fill="#111">54.24%</text>
<text x="594.8" y="470.7" font-size="9.5" text-anchor="middle" fill="#111">1e-11</text>
<text x="644.8" y="471.6" font-size="9.5" text-anchor="middle" fill="#111">0.0000</text>
<text transform="translate(433.4 497.7) scale(1.26 0.14)" font-size="10" font-weight="bold" text-anchor="middle" fill="#2343b4">C</text>
<text transform="translate(433.4 496.71) scale(1.17 0.43)" font-size="10" font-weight="bold" text-anchor="middle" fill="#f5a623">G</text>
<text transform="translate(433.4 493.61) scale(1.48 0.95)" font-size="10" font-weight="bold" text-anchor="middle" fill="#d7202b">T</text>
<text transform="translate(441.8 497.7) scale(1.26 1.72)" font-size="10" font-weight="bold" text-anchor="middle" fill="#22a046">A</text>
<text transform="translate(450.2 497.7) scale(1.26 1.72)" font-size="10" font-weight="bold" text-anchor="middle" fill="#2343b4">C</text>
<text transform="translate(458.6 497.7) scale(1.17 1.72)" font-size="10" font-weight="bold" text-anchor="middle" fill="#f5a623">G</text>
<text transform="translate(467 497.7) scale(1.48 1.72)" font-size="10" font-weight="bold" text-anchor="middle" fill="#d7202b">T</text>
<text transform="translate(475.4 497.7) scale(1.26 0.17)" font-size="10" font-weight="bold" text-anchor="middle" fill="#22a046">A</text>
<text transform="translate(475.4 496.46) scale(1.17 1.38)" font-size="10" font-weight="bold" text-anchor="middle" fill="#f5a623">G</text>
<text transform="translate(483.8 497.7) scale(1.26 0.43)" font-size="10" font-weight="bold" text-anchor="middle" fill="#22a046">A</text>
<text transform="translate(483.8 494.6) scale(1.17 0.34)" font-size="10" font-weight="bold" text-anchor="middle" fill="#f5a623">G</text>
<text transform="translate(483.8 492.12) scale(1.26 0.95)" font-size="10" font-weight="bold" text-anchor="middle" fill="#2343b4">C</text>
<text transform="translate(492.2 497.7) scale(1.48 0.26)" font-size="10" font-weight="bold" text-anchor="middle" fill="#d7202b">T</text>
<text transform="translate(492.2 495.84) scale(1.26 0.43)" font-size="10" font-weight="bold" text-anchor="middle" fill="#22a046">A</text>
<text transform="translate(492.2 492.74) scale(1.17 0.43)" font-size="10" font-weight="bold" text-anchor="middle" fill="#f5a623">G</text>
<text transform="translate(492.2 489.64) scale(1.26 0.52)" font-size="10" font-weight="bold" text-anchor="middle" fill="#2343b4">C</text>
<text x="526.8" y="494.94" font-size="9.6" text-anchor="middle" fill="#111">30.51%</text>
<text x="594.8" y="494.9" font-size="9.5" text-anchor="middle" fill="#111">1e-11</text>
<text x="644.8" y="495.7" font-size="9.5" text-anchor="middle" fill="#111">0.0000</text>
<text transform="translate(416.24 392) rotate(-90)" font-size="9.6" text-anchor="middle">HIFAL WT cells</text>
<line x1="419.3" y1="362.3" x2="419.3" y2="421.6" stroke="#333" stroke-width="0.9"/>
<text transform="translate(416.24 468.2) rotate(-90)" font-size="9.6" text-anchor="middle">HIFAL null cells</text>
<line x1="419.3" y1="438.5" x2="419.3" y2="493.6" stroke="#333" stroke-width="0.9"/>
<text x="27" y="525.7" font-size="17" fill="#111">l</text>
<text x="92.8" y="510.41" font-size="9.8" text-anchor="middle" fill="#111">HIF-1&#945;</text>
<text x="159.7" y="510.81" font-size="9.8" text-anchor="middle" fill="#111">HIFAL</text>
<rect x="61" y="512.4" width="66.8" height="72.6" fill="none" stroke="#8a8a8a" stroke-width="1"/>
<rect x="132" y="512.4" width="66.8" height="72.6" fill="none" stroke="#8a8a8a" stroke-width="1"/>
<rect x="61" y="586.3" width="66.8" height="72.7" fill="none" stroke="#8a8a8a" stroke-width="1"/>
<rect x="132" y="586.3" width="66.8" height="72.7" fill="none" stroke="#8a8a8a" stroke-width="1"/>
<rect x="61" y="660.2" width="66.8" height="72" fill="none" stroke="#8a8a8a" stroke-width="1"/>
<rect x="132" y="660.2" width="66.8" height="72" fill="none" stroke="#8a8a8a" stroke-width="1"/>
<line x1="58.8" y1="518.4" x2="61" y2="518.4" stroke="#444" stroke-width="0.7"/>
<text x="58.5" y="521.34" font-size="8.2" text-anchor="end" fill="#111">60</text>
<line x1="58.8" y1="526.8" x2="61" y2="526.8" stroke="#444" stroke-width="0.7"/>
<text x="58.5" y="529.74" font-size="8.2" text-anchor="end" fill="#111">40</text>
<line x1="58.8" y1="534" x2="61" y2="534" stroke="#444" stroke-width="0.7"/>
<text x="58.5" y="536.94" font-size="8.2" text-anchor="end" fill="#111">20</text>
<line x1="58.8" y1="542.1" x2="61" y2="542.1" stroke="#444" stroke-width="0.7"/>
<text x="58.5" y="545.04" font-size="8.2" text-anchor="end" fill="#111">0</text>
<line x1="58.8" y1="597.7" x2="61" y2="597.7" stroke="#444" stroke-width="0.7"/>
<text x="58.5" y="600.64" font-size="8.2" text-anchor="end" fill="#111">10</text>
<line x1="58.8" y1="609.1" x2="61" y2="609.1" stroke="#444" stroke-width="0.7"/>
<text x="58.5" y="612.04" font-size="8.2" text-anchor="end" fill="#111">0</text>
<line x1="58.8" y1="666.9" x2="61" y2="666.9" stroke="#444" stroke-width="0.7"/>
<text x="58.5" y="669.84" font-size="8.2" text-anchor="end" fill="#111">10</text>
<line x1="58.8" y1="677.3" x2="61" y2="677.3" stroke="#444" stroke-width="0.7"/>
<text x="58.5" y="680.24" font-size="8.2" text-anchor="end" fill="#111">5</text>
<line x1="58.8" y1="688" x2="61" y2="688" stroke="#444" stroke-width="0.7"/>
<text x="58.5" y="690.94" font-size="8.2" text-anchor="end" fill="#111">0</text>
<text transform="translate(39.01 555.8) rotate(-90)" font-size="8.4" text-anchor="middle">Overlap peaks</text>
<text transform="translate(48.01 555.8) rotate(-90)" font-size="8.4" text-anchor="middle">(n=2804)</text>
<text transform="translate(39.01 634.3) rotate(-90)" font-size="8.4" text-anchor="middle">HIFAL specific</text>
<text transform="translate(48.01 634.3) rotate(-90)" font-size="8.4" text-anchor="middle">peaks(n=250)</text>
<text transform="translate(39.01 704.8) rotate(-90)" font-size="8.4" text-anchor="middle">HIF-1&#945; specific</text>
<text transform="translate(48.01 704.8) rotate(-90)" font-size="8.4" text-anchor="middle">peaks(n=7299)</text>
<polyline points="61.4,540.48 62.34,540.34 63.29,540.2 64.23,540.05 65.17,539.89 66.11,539.71 67.06,539.52 68,539.32 68.94,539.1 69.89,538.86 70.83,538.59 71.77,538.3 72.71,537.98 73.66,537.63 74.6,537.24 75.54,536.8 76.49,536.32 77.43,535.78 78.37,535.17 79.31,534.48 80.26,533.71 81.2,532.83 82.14,531.84 83.09,530.72 84.03,529.46 84.97,528.04 85.91,526.47 86.86,524.74 87.8,522.89 88.74,520.96 89.69,519.05 90.63,517.26 91.57,515.74 92.51,514.66 93.46,514.14 94.4,514.27 95.34,515.03 96.29,516.31 97.23,517.95 98.17,519.81 99.11,521.74 100.06,523.64 101,525.45 101.94,527.12 102.89,528.63 103.83,529.98 104.77,531.18 105.71,532.25 106.66,533.19 107.6,534.03 108.54,534.77 109.49,535.42 110.43,536 111.37,536.52 112.31,536.98 113.26,537.4 114.2,537.78 115.14,538.11 116.09,538.42 117.03,538.7 117.97,538.96 118.91,539.19 119.86,539.4 120.8,539.6 121.74,539.78 122.69,539.95 123.63,540.11 124.57,540.26 125.51,540.4 126.46,540.53 127.4,540.65" fill="none" stroke="#2b2fa0" stroke-width="1.1"/>
<polyline points="132.4,540.79 133.34,540.71 134.29,540.63 135.23,540.54 136.17,540.44 137.11,540.34 138.06,540.23 139,540.11 139.94,539.98 140.89,539.83 141.83,539.68 142.77,539.51 143.71,539.32 144.66,539.11 145.6,538.89 146.54,538.63 147.49,538.35 148.43,538.04 149.37,537.69 150.31,537.29 151.26,536.85 152.2,536.36 153.14,535.8 154.09,535.17 155.03,534.47 155.97,533.7 156.91,532.85 157.86,531.93 158.8,530.95 159.74,529.95 160.69,528.97 161.63,528.07 162.57,527.31 163.51,526.78 164.46,526.52 165.4,526.59 166.34,526.96 167.29,527.59 168.23,528.41 169.17,529.36 170.11,530.35 171.06,531.35 172,532.3 172.94,533.2 173.89,534.02 174.83,534.76 175.77,535.43 176.71,536.03 177.66,536.56 178.6,537.03 179.54,537.46 180.49,537.83 181.43,538.17 182.37,538.47 183.31,538.74 184.26,538.98 185.2,539.2 186.14,539.4 187.09,539.58 188.03,539.74 188.97,539.89 189.91,540.03 190.86,540.16 191.8,540.27 192.74,540.38 193.69,540.48 194.63,540.57 195.57,540.66 196.51,540.74 197.46,540.82 198.4,540.89" fill="none" stroke="#ee2a3c" stroke-width="1.1"/>
<polyline points="61,612.4 67.68,613 74.36,613.6 75.03,614.1 81.04,611.5 87.72,609.5 93.06,606.4 95.74,606.5 101.08,608 111.1,609.8 117.78,610.8 121.12,611.5 122.46,609.8 127.8,609.6" fill="none" stroke="#2b2fa0" stroke-width="1.1"/>
<polyline points="132,610.2 144.69,610.2 152.04,607 158.72,599 162.73,591 164.73,587.6 167.4,590 172.08,597 178.76,603.5 180.1,605.6 185.44,607.2 193.46,608.6 196.13,609.8 196.8,608.6 198.8,608.7" fill="none" stroke="#ee2a3c" stroke-width="1.1"/>
<polyline points="61.4,687.7 62.34,687.55 63.29,687.39 64.23,687.22 65.17,687.04 66.11,686.84 67.06,686.63 68,686.41 68.94,686.16 69.89,685.9 70.83,685.61 71.77,685.3 72.71,684.95 73.66,684.58 74.6,684.16 75.54,683.7 76.49,683.19 77.43,682.62 78.37,681.98 79.31,681.27 80.26,680.47 81.2,679.58 82.14,678.58 83.09,677.45 84.03,676.2 84.97,674.81 85.91,673.28 86.86,671.63 87.8,669.89 88.74,668.1 89.69,666.34 90.63,664.72 91.57,663.37 92.51,662.41 93.46,661.94 94.4,662.06 95.34,662.74 96.29,663.87 97.23,665.35 98.17,667.03 99.11,668.81 100.06,670.59 101,672.31 101.94,673.91 102.89,675.38 103.83,676.72 104.77,677.92 105.71,678.99 106.66,679.95 107.6,680.8 108.54,681.56 109.49,682.24 110.43,682.85 111.37,683.4 112.31,683.89 113.26,684.33 114.2,684.73 115.14,685.1 116.09,685.43 117.03,685.73 117.97,686.01 118.91,686.26 119.86,686.5 120.8,686.72 121.74,686.92 122.69,687.11 123.63,687.29 124.57,687.45 125.51,687.61 126.46,687.76 127.4,687.89" fill="none" stroke="#2b2fa0" stroke-width="1.1"/>
<polyline points="132.4,688.6 133.5,688.6 134.6,688.6 135.7,688.6 136.8,688.59 137.9,688.59 139,688.58 140.1,688.57 141.2,688.56 142.3,688.53 143.4,688.5 144.5,688.45 145.6,688.39 146.7,688.3 147.8,688.19 148.9,688.05 150,687.87 151.1,687.66 152.2,687.41 153.3,687.12 154.4,686.8 155.5,686.45 156.6,686.09 157.7,685.73 158.8,685.38 159.9,685.06 161,684.79 162.1,684.58 163.2,684.45 164.3,684.4 165.4,684.43 166.5,684.55 167.6,684.75 168.7,685 169.8,685.31 170.9,685.66 172,686.02 173.1,686.38 174.2,686.73 175.3,687.05 176.4,687.35 177.5,687.61 178.6,687.83 179.7,688.02 180.8,688.16 181.9,688.28 183,688.37 184.1,688.44 185.2,688.49 186.3,688.53 187.4,688.55 188.5,688.57 189.6,688.58 190.7,688.59 191.8,688.59 192.9,688.6 194,688.6 195.1,688.6 196.2,688.6 197.3,688.6 198.4,688.6" fill="none" stroke="#ee2a3c" stroke-width="1.1"/>
<rect x="61" y="542" width="66.8" height="2" fill="url(#h73)" shape-rendering="crispEdges"/>
<rect x="61" y="544" width="66.8" height="1" fill="url(#h74)" shape-rendering="crispEdges"/>
<rect x="61" y="545" width="66.8" height="2" fill="url(#h75)" shape-rendering="crispEdges"/>
<rect x="61" y="547" width="66.8" height="1" fill="url(#h76)" shape-rendering="crispEdges"/>
<rect x="61" y="548" width="66.8" height="1" fill="url(#h77)" shape-rendering="crispEdges"/>
<rect x="61" y="549" width="66.8" height="2" fill="url(#h78)" shape-rendering="crispEdges"/>
<rect x="61" y="551" width="66.8" height="1" fill="url(#h79)" shape-rendering="crispEdges"/>
<rect x="61" y="552" width="66.8" height="2" fill="url(#h80)" shape-rendering="crispEdges"/>
<rect x="61" y="554" width="66.8" height="1" fill="url(#h81)" shape-rendering="crispEdges"/>
<rect x="61" y="555" width="66.8" height="2" fill="url(#h82)" shape-rendering="crispEdges"/>
<rect x="61" y="557" width="66.8" height="1" fill="url(#h83)" shape-rendering="crispEdges"/>
<rect x="61" y="558" width="66.8" height="2" fill="url(#h84)" shape-rendering="crispEdges"/>
<rect x="61" y="560" width="66.8" height="1" fill="url(#h85)" shape-rendering="crispEdges"/>
<rect x="61" y="561" width="66.8" height="2" fill="url(#h86)" shape-rendering="crispEdges"/>
<rect x="61" y="563" width="66.8" height="1" fill="url(#h87)" shape-rendering="crispEdges"/>
<rect x="61" y="564" width="66.8" height="2" fill="url(#h88)" shape-rendering="crispEdges"/>
<rect x="61" y="566" width="66.8" height="1" fill="url(#h89)" shape-rendering="crispEdges"/>
<rect x="61" y="567" width="66.8" height="2" fill="url(#h90)" shape-rendering="crispEdges"/>
<rect x="61" y="569" width="66.8" height="1" fill="url(#h91)" shape-rendering="crispEdges"/>
<rect x="61" y="570" width="66.8" height="2" fill="url(#h92)" shape-rendering="crispEdges"/>
<rect x="61" y="572" width="66.8" height="1" fill="url(#h93)" shape-rendering="crispEdges"/>
<rect x="61" y="573" width="66.8" height="2" fill="url(#h94)" shape-rendering="crispEdges"/>
<rect x="61" y="575" width="66.8" height="1" fill="url(#h95)" shape-rendering="crispEdges"/>
<rect x="61" y="576" width="66.8" height="2" fill="url(#h96)" shape-rendering="crispEdges"/>
<rect x="61" y="578" width="66.8" height="1" fill="url(#h97)" shape-rendering="crispEdges"/>
<rect x="61" y="579" width="66.8" height="2" fill="url(#h98)" shape-rendering="crispEdges"/>
<rect x="61" y="581" width="66.8" height="1" fill="url(#h99)" shape-rendering="crispEdges"/>
<rect x="61" y="582" width="66.8" height="2" fill="url(#h100)" shape-rendering="crispEdges"/>
<rect x="61" y="584" width="66.8" height="1" fill="url(#h101)" shape-rendering="crispEdges"/>
<rect x="132" y="542" width="66.8" height="2" fill="url(#h102)" shape-rendering="crispEdges"/>
<rect x="132" y="544" width="66.8" height="1" fill="url(#h103)" shape-rendering="crispEdges"/>
<rect x="132" y="545" width="66.8" height="2" fill="url(#h104)" shape-rendering="crispEdges"/>
<rect x="132" y="547" width="66.8" height="1" fill="url(#h105)" shape-rendering="crispEdges"/>
<rect x="132" y="548" width="66.8" height="1" fill="url(#h106)" shape-rendering="crispEdges"/>
<rect x="132" y="549" width="66.8" height="2" fill="url(#h107)" shape-rendering="crispEdges"/>
<rect x="132" y="551" width="66.8" height="1" fill="url(#h108)" shape-rendering="crispEdges"/>
<rect x="132" y="552" width="66.8" height="2" fill="url(#h109)" shape-rendering="crispEdges"/>
<rect x="132" y="554" width="66.8" height="1" fill="url(#h110)" shape-rendering="crispEdges"/>
<rect x="132" y="555" width="66.8" height="2" fill="url(#h111)" shape-rendering="crispEdges"/>
<rect x="132" y="557" width="66.8" height="1" fill="url(#h112)" shape-rendering="crispEdges"/>
<rect x="132" y="558" width="66.8" height="2" fill="url(#h113)" shape-rendering="crispEdges"/>
<rect x="132" y="560" width="66.8" height="1" fill="url(#h114)" shape-rendering="crispEdges"/>
<rect x="132" y="561" width="66.8" height="2" fill="url(#h115)" shape-rendering="crispEdges"/>
<rect x="132" y="563" width="66.8" height="1" fill="url(#h116)" shape-rendering="crispEdges"/>
<rect x="132" y="564" width="66.8" height="2" fill="url(#h117)" shape-rendering="crispEdges"/>
<rect x="132" y="566" width="66.8" height="1" fill="url(#h118)" shape-rendering="crispEdges"/>
<rect x="132" y="567" width="66.8" height="2" fill="url(#h119)" shape-rendering="crispEdges"/>
<rect x="132" y="569" width="66.8" height="1" fill="url(#h120)" shape-rendering="crispEdges"/>
<rect x="132" y="570" width="66.8" height="2" fill="url(#h121)" shape-rendering="crispEdges"/>
<rect x="132" y="572" width="66.8" height="1" fill="url(#h122)" shape-rendering="crispEdges"/>
<rect x="132" y="573" width="66.8" height="2" fill="url(#h123)" shape-rendering="crispEdges"/>
<rect x="132" y="575" width="66.8" height="1" fill="url(#h124)" shape-rendering="crispEdges"/>
<rect x="132" y="576" width="66.8" height="2" fill="url(#h125)" shape-rendering="crispEdges"/>
<rect x="132" y="578" width="66.8" height="1" fill="url(#h126)" shape-rendering="crispEdges"/>
<rect x="132" y="579" width="66.8" height="2" fill="url(#h127)" shape-rendering="crispEdges"/>
<rect x="132" y="581" width="66.8" height="1" fill="url(#h128)" shape-rendering="crispEdges"/>
<rect x="132" y="582" width="66.8" height="2" fill="url(#h129)" shape-rendering="crispEdges"/>
<rect x="132" y="584" width="66.8" height="1" fill="url(#h130)" shape-rendering="crispEdges"/>
<rect x="61" y="616" width="66.8" height="2" fill="url(#h131)" shape-rendering="crispEdges"/>
<rect x="61" y="618" width="66.8" height="1" fill="url(#h132)" shape-rendering="crispEdges"/>
<rect x="61" y="619" width="66.8" height="2" fill="url(#h133)" shape-rendering="crispEdges"/>
<rect x="61" y="621" width="66.8" height="1" fill="url(#h134)" shape-rendering="crispEdges"/>
<rect x="61" y="622" width="66.8" height="1" fill="url(#h135)" shape-rendering="crispEdges"/>
<rect x="61" y="623" width="66.8" height="2" fill="url(#h136)" shape-rendering="crispEdges"/>
<rect x="61" y="625" width="66.8" height="1" fill="url(#h137)" shape-rendering="crispEdges"/>
<rect x="61" y="626" width="66.8" height="2" fill="url(#h138)" shape-rendering="crispEdges"/>
<rect x="61" y="628" width="66.8" height="1" fill="url(#h139)" shape-rendering="crispEdges"/>
<rect x="61" y="629" width="66.8" height="2" fill="url(#h140)" shape-rendering="crispEdges"/>
<rect x="61" y="631" width="66.8" height="1" fill="url(#h141)" shape-rendering="crispEdges"/>
<rect x="61" y="632" width="66.8" height="2" fill="url(#h142)" shape-rendering="crispEdges"/>
<rect x="61" y="634" width="66.8" height="1" fill="url(#h143)" shape-rendering="crispEdges"/>
<rect x="61" y="635" width="66.8" height="2" fill="url(#h144)" shape-rendering="crispEdges"/>
<rect x="61" y="637" width="66.8" height="1" fill="url(#h145)" shape-rendering="crispEdges"/>
<rect x="61" y="638" width="66.8" height="2" fill="url(#h146)" shape-rendering="crispEdges"/>
<rect x="61" y="640" width="66.8" height="1" fill="url(#h147)" shape-rendering="crispEdges"/>
<rect x="61" y="641" width="66.8" height="2" fill="url(#h148)" shape-rendering="crispEdges"/>
<rect x="61" y="643" width="66.8" height="1" fill="url(#h149)" shape-rendering="crispEdges"/>
<rect x="61" y="644" width="66.8" height="2" fill="url(#h150)" shape-rendering="crispEdges"/>
<rect x="61" y="646" width="66.8" height="1" fill="url(#h151)" shape-rendering="crispEdges"/>
<rect x="61" y="647" width="66.8" height="2" fill="url(#h152)" shape-rendering="crispEdges"/>
<rect x="61" y="649" width="66.8" height="1" fill="url(#h153)" shape-rendering="crispEdges"/>
<rect x="61" y="650" width="66.8" height="2" fill="url(#h154)" shape-rendering="crispEdges"/>
<rect x="61" y="652" width="66.8" height="1" fill="url(#h155)" shape-rendering="crispEdges"/>
<rect x="61" y="653" width="66.8" height="2" fill="url(#h156)" shape-rendering="crispEdges"/>
<rect x="61" y="655" width="66.8" height="1" fill="url(#h157)" shape-rendering="crispEdges"/>
<rect x="61" y="656" width="66.8" height="2" fill="url(#h158)" shape-rendering="crispEdges"/>
<rect x="61" y="658" width="66.8" height="1" fill="url(#h159)" shape-rendering="crispEdges"/>
<rect x="132" y="616" width="66.8" height="1" fill="url(#h160)" shape-rendering="crispEdges"/>
<rect x="132" y="617" width="66.8" height="1" fill="url(#h161)" shape-rendering="crispEdges"/>
<rect x="132" y="618" width="66.8" height="2" fill="url(#h162)" shape-rendering="crispEdges"/>
<rect x="132" y="620" width="66.8" height="1" fill="url(#h163)" shape-rendering="crispEdges"/>
<rect x="132" y="621" width="66.8" height="1" fill="url(#h164)" shape-rendering="crispEdges"/>
<rect x="132" y="622" width="66.8" height="1" fill="url(#h165)" shape-rendering="crispEdges"/>
<rect x="132" y="623" width="66.8" height="1" fill="url(#h166)" shape-rendering="crispEdges"/>
<rect x="132" y="624" width="66.8" height="2" fill="url(#h167)" shape-rendering="crispEdges"/>
<rect x="132" y="626" width="66.8" height="1" fill="url(#h168)" shape-rendering="crispEdges"/>
<rect x="132" y="627" width="66.8" height="1" fill="url(#h169)" shape-rendering="crispEdges"/>
<rect x="132" y="628" width="66.8" height="1" fill="url(#h170)" shape-rendering="crispEdges"/>
<rect x="132" y="629" width="66.8" height="1" fill="url(#h171)" shape-rendering="crispEdges"/>
<rect x="132" y="630" width="66.8" height="2" fill="url(#h172)" shape-rendering="crispEdges"/>
<rect x="132" y="632" width="66.8" height="1" fill="url(#h173)" shape-rendering="crispEdges"/>
<rect x="132" y="633" width="66.8" height="1" fill="url(#h174)" shape-rendering="crispEdges"/>
<rect x="132" y="634" width="66.8" height="1" fill="url(#h175)" shape-rendering="crispEdges"/>
<rect x="132" y="635" width="66.8" height="1" fill="url(#h176)" shape-rendering="crispEdges"/>
<rect x="132" y="636" width="66.8" height="2" fill="url(#h177)" shape-rendering="crispEdges"/>
<rect x="132" y="638" width="66.8" height="1" fill="url(#h178)" shape-rendering="crispEdges"/>
<rect x="132" y="639" width="66.8" height="1" fill="url(#h179)" shape-rendering="crispEdges"/>
<rect x="132" y="640" width="66.8" height="1" fill="url(#h180)" shape-rendering="crispEdges"/>
<rect x="132" y="641" width="66.8" height="1" fill="url(#h181)" shape-rendering="crispEdges"/>
<rect x="132" y="642" width="66.8" height="2" fill="url(#h182)" shape-rendering="crispEdges"/>
<rect x="132" y="644" width="66.8" height="1" fill="url(#h183)" shape-rendering="crispEdges"/>
<rect x="132" y="645" width="66.8" height="1" fill="url(#h184)" shape-rendering="crispEdges"/>
<rect x="132" y="646" width="66.8" height="1" fill="url(#h185)" shape-rendering="crispEdges"/>
<rect x="132" y="647" width="66.8" height="1" fill="url(#h186)" shape-rendering="crispEdges"/>
<rect x="132" y="648" width="66.8" height="1" fill="url(#h187)" shape-rendering="crispEdges"/>
<rect x="132" y="649" width="66.8" height="2" fill="url(#h188)" shape-rendering="crispEdges"/>
<rect x="132" y="651" width="66.8" height="1" fill="url(#h189)" shape-rendering="crispEdges"/>
<rect x="132" y="652" width="66.8" height="1" fill="url(#h190)" shape-rendering="crispEdges"/>
<rect x="132" y="653" width="66.8" height="1" fill="url(#h191)" shape-rendering="crispEdges"/>
<rect x="132" y="654" width="66.8" height="1" fill="url(#h192)" shape-rendering="crispEdges"/>
<rect x="132" y="655" width="66.8" height="2" fill="url(#h193)" shape-rendering="crispEdges"/>
<rect x="132" y="657" width="66.8" height="1" fill="url(#h194)" shape-rendering="crispEdges"/>
<rect x="132" y="658" width="66.8" height="1" fill="url(#h195)" shape-rendering="crispEdges"/>
<rect x="61" y="689" width="66.8" height="2" fill="url(#h196)" shape-rendering="crispEdges"/>
<rect x="61" y="691" width="66.8" height="1" fill="url(#h197)" shape-rendering="crispEdges"/>
<rect x="61" y="692" width="66.8" height="2" fill="url(#h198)" shape-rendering="crispEdges"/>
<rect x="61" y="694" width="66.8" height="1" fill="url(#h199)" shape-rendering="crispEdges"/>
<rect x="61" y="695" width="66.8" height="2" fill="url(#h200)" shape-rendering="crispEdges"/>
<rect x="61" y="697" width="66.8" height="1" fill="url(#h201)" shape-rendering="crispEdges"/>
<rect x="61" y="698" width="66.8" height="2" fill="url(#h202)" shape-rendering="crispEdges"/>
<rect x="61" y="700" width="66.8" height="1" fill="url(#h203)" shape-rendering="crispEdges"/>
<rect x="61" y="701" width="66.8" height="2" fill="url(#h204)" shape-rendering="crispEdges"/>
<rect x="61" y="703" width="66.8" height="1" fill="url(#h205)" shape-rendering="crispEdges"/>
<rect x="61" y="704" width="66.8" height="2" fill="url(#h206)" shape-rendering="crispEdges"/>
<rect x="61" y="706" width="66.8" height="1" fill="url(#h207)" shape-rendering="crispEdges"/>
<rect x="61" y="707" width="66.8" height="1" fill="url(#h208)" shape-rendering="crispEdges"/>
<rect x="61" y="708" width="66.8" height="2" fill="url(#h209)" shape-rendering="crispEdges"/>
<rect x="61" y="710" width="66.8" height="1" fill="url(#h210)" shape-rendering="crispEdges"/>
<rect x="61" y="711" width="66.8" height="2" fill="url(#h211)" shape-rendering="crispEdges"/>
<rect x="61" y="713" width="66.8" height="1" fill="url(#h212)" shape-rendering="crispEdges"/>
<rect x="61" y="714" width="66.8" height="2" fill="url(#h213)" shape-rendering="crispEdges"/>
<rect x="61" y="716" width="66.8" height="1" fill="url(#h214)" shape-rendering="crispEdges"/>
<rect x="61" y="717" width="66.8" height="2" fill="url(#h215)" shape-rendering="crispEdges"/>
<rect x="61" y="719" width="66.8" height="1" fill="url(#h216)" shape-rendering="crispEdges"/>
<rect x="61" y="720" width="66.8" height="2" fill="url(#h217)" shape-rendering="crispEdges"/>
<rect x="61" y="722" width="66.8" height="1" fill="url(#h218)" shape-rendering="crispEdges"/>
<rect x="61" y="723" width="66.8" height="2" fill="url(#h219)" shape-rendering="crispEdges"/>
<rect x="61" y="725" width="66.8" height="1" fill="url(#h220)" shape-rendering="crispEdges"/>
<rect x="61" y="726" width="66.8" height="2" fill="url(#h221)" shape-rendering="crispEdges"/>
<rect x="61" y="728" width="66.8" height="1" fill="url(#h222)" shape-rendering="crispEdges"/>
<rect x="61" y="729" width="66.8" height="2" fill="url(#h223)" shape-rendering="crispEdges"/>
<rect x="61" y="731" width="66.8" height="1" fill="url(#h224)" shape-rendering="crispEdges"/>
<rect x="132" y="689" width="66.8" height="3" fill="url(#h225)" shape-rendering="crispEdges"/>
<rect x="132" y="692" width="66.8" height="3" fill="url(#h226)" shape-rendering="crispEdges"/>
<rect x="132" y="695" width="66.8" height="3" fill="url(#h227)" shape-rendering="crispEdges"/>
<rect x="132" y="698" width="66.8" height="3" fill="url(#h228)" shape-rendering="crispEdges"/>
<rect x="132" y="701" width="66.8" height="4" fill="url(#h229)" shape-rendering="crispEdges"/>
<rect x="132" y="705" width="66.8" height="3" fill="url(#h230)" shape-rendering="crispEdges"/>
<rect x="132" y="708" width="66.8" height="3" fill="url(#h231)" shape-rendering="crispEdges"/>
<rect x="132" y="711" width="66.8" height="3" fill="url(#h232)" shape-rendering="crispEdges"/>
<rect x="132" y="714" width="66.8" height="3" fill="url(#h233)" shape-rendering="crispEdges"/>
<rect x="132" y="717" width="66.8" height="3" fill="url(#h234)" shape-rendering="crispEdges"/>
<rect x="132" y="720" width="66.8" height="3" fill="url(#h235)" shape-rendering="crispEdges"/>
<rect x="132" y="723" width="66.8" height="3" fill="url(#h236)" shape-rendering="crispEdges"/>
<rect x="132" y="726" width="66.8" height="3" fill="url(#h237)" shape-rendering="crispEdges"/>
<rect x="132" y="729" width="66.8" height="3" fill="url(#h238)" shape-rendering="crispEdges"/>
<line x1="61" y1="542.1" x2="127.8" y2="542.1" stroke="#555" stroke-width="1.3"/>
<line x1="132" y1="542.1" x2="198.8" y2="542.1" stroke="#555" stroke-width="1.3"/>
<line x1="61" y1="616.1" x2="127.8" y2="616.1" stroke="#555" stroke-width="1.3"/>
<line x1="132" y1="616.1" x2="198.8" y2="616.1" stroke="#555" stroke-width="1.3"/>
<line x1="61" y1="689.2" x2="127.8" y2="689.2" stroke="#555" stroke-width="1.3"/>
<line x1="132" y1="689.2" x2="198.8" y2="689.2" stroke="#555" stroke-width="1.3"/>
<text x="53.7" y="743.18" font-size="8.6" fill="#111">-0.5</text>
<text x="90" y="743.18" font-size="8.6" text-anchor="middle" fill="#111">peaks</text>
<text x="116.9" y="743.18" font-size="8.6" text-anchor="middle" fill="#111">0.5kb</text>
<text x="129.3" y="743.18" font-size="8.6" fill="#111">-0.5</text>
<text x="166.2" y="743.18" font-size="8.6" text-anchor="middle" fill="#111">peaks</text>
<text x="192.3" y="743.18" font-size="8.6" text-anchor="middle" fill="#111">0.5kb</text>
<rect x="139.4" y="751.6" width="58.1" height="2.8" fill="url(#cbar)"/>
<text x="141" y="751.01" font-size="8.4" text-anchor="middle" fill="#111">0</text>
<text x="159.5" y="751.01" font-size="8.4" text-anchor="middle" fill="#111">5</text>
<text x="176.3" y="751.01" font-size="8.4" text-anchor="middle" fill="#111">10</text>
<text x="194.1" y="751.01" font-size="8.4" text-anchor="middle" fill="#111">15</text>
<text x="213.1" y="528.3" font-size="17" fill="#111">m</text>
<circle cx="298.3" cy="604.8" r="75.1" fill="#4f7fbf" stroke="#333" stroke-width="0.6"/>
<circle cx="331.3" cy="625" r="42" fill="#b3cd8a"/>
<circle cx="331.3" cy="625" r="42" fill="#88a872" clip-path="url(#cm)"/>
<text x="270" y="596.01" font-size="9.8" text-anchor="middle" fill="#111" style='font-family:"Liberation Serif", serif'>7299</text>
<text x="332.3" y="631.31" font-size="9.8" text-anchor="middle" fill="#111" style='font-family:"Liberation Serif", serif'>2804</text>
<line x1="360.6" y1="652.5" x2="375" y2="652.5" stroke="#333" stroke-width="0.7"/>
<text x="385.6" y="656.01" font-size="9.8" text-anchor="middle" fill="#111" style='font-family:"Liberation Serif", serif'>250</text>
<circle cx="241.7" cy="692" r="9.6" fill="#4f7fbf"/>
<text x="254.6" y="695.47" font-size="9.7" fill="#111">HIF-1&#945;</text>
<circle cx="241.7" cy="714.5" r="9.6" fill="#b3cd8a"/>
<text x="254.6" y="717.97" font-size="9.7" fill="#111">HIFAL</text>
<text x="401.1" y="526.7" font-size="17" fill="#111">n</text>
<text x="453" y="560.34" font-size="9.6" text-anchor="middle" fill="#111">Motif</text>
<text x="535.8" y="560.91" font-size="9.8" text-anchor="middle" fill="#111">% of Targets</text>
<text x="597.2" y="559.14" font-size="9.6" text-anchor="middle" fill="#111">p-value</text>
<text x="648" y="559.14" font-size="9.6" text-anchor="middle" fill="#111">q-value</text>
<line x1="428.9" y1="566.2" x2="682" y2="566.2" stroke="#444" stroke-width="0.9"/>
<text transform="translate(434.14 586.4) scale(1.33 0.21)" font-size="10" font-weight="bold" text-anchor="middle" fill="#2343b4">C</text>
<text transform="translate(434.14 584.91) scale(1.23 0.43)" font-size="10" font-weight="bold" text-anchor="middle" fill="#f5a623">G</text>
<text transform="translate(434.14 581.81) scale(1.33 0.86)" font-size="10" font-weight="bold" text-anchor="middle" fill="#22a046">A</text>
<text transform="translate(443.03 586.4) scale(1.33 0.17)" font-size="10" font-weight="bold" text-anchor="middle" fill="#2343b4">C</text>
<text transform="translate(443.03 585.16) scale(1.23 0.52)" font-size="10" font-weight="bold" text-anchor="middle" fill="#f5a623">G</text>
<text transform="translate(443.03 581.44) scale(1.57 0.86)" font-size="10" font-weight="bold" text-anchor="middle" fill="#d7202b">T</text>
<text transform="translate(451.92 586.4) scale(1.23 0.09)" font-size="10" font-weight="bold" text-anchor="middle" fill="#f5a623">G</text>
<text transform="translate(451.92 585.78) scale(1.33 1.64)" font-size="10" font-weight="bold" text-anchor="middle" fill="#22a046">A</text>
<text transform="translate(460.81 586.4) scale(1.33 1.72)" font-size="10" font-weight="bold" text-anchor="middle" fill="#2343b4">C</text>
<text transform="translate(469.69 586.4) scale(1.23 1.72)" font-size="10" font-weight="bold" text-anchor="middle" fill="#f5a623">G</text>
<text transform="translate(478.58 586.4) scale(1.57 1.72)" font-size="10" font-weight="bold" text-anchor="middle" fill="#d7202b">T</text>
<text transform="translate(487.47 586.4) scale(1.23 1.72)" font-size="10" font-weight="bold" text-anchor="middle" fill="#f5a623">G</text>
<text transform="translate(496.36 586.4) scale(1.33 0.26)" font-size="10" font-weight="bold" text-anchor="middle" fill="#22a046">A</text>
<text transform="translate(496.36 584.54) scale(1.57 0.17)" font-size="10" font-weight="bold" text-anchor="middle" fill="#d7202b">T</text>
<text transform="translate(496.36 583.3) scale(1.33 1.12)" font-size="10" font-weight="bold" text-anchor="middle" fill="#2343b4">C</text>
<text x="526.8" y="583.64" font-size="9.6" text-anchor="middle" fill="#111">40.97%</text>
<text x="599" y="583.6" font-size="9.5" text-anchor="middle" fill="#111">1e-757</text>
<text x="649.9" y="582.8" font-size="9.5" text-anchor="middle" fill="#111">0.0000</text>
<text transform="translate(433.25 608.9) scale(1.06 0.17)" font-size="10" font-weight="bold" text-anchor="middle" fill="#22a046">A</text>
<text transform="translate(433.25 607.66) scale(1.26 0.52)" font-size="10" font-weight="bold" text-anchor="middle" fill="#d7202b">T</text>
<text transform="translate(433.25 603.94) scale(0.99 0.86)" font-size="10" font-weight="bold" text-anchor="middle" fill="#f5a623">G</text>
<text transform="translate(440.37 608.9) scale(1.06 1.72)" font-size="10" font-weight="bold" text-anchor="middle" fill="#2343b4">C</text>
<text transform="translate(447.48 608.9) scale(1.06 1.72)" font-size="10" font-weight="bold" text-anchor="middle" fill="#22a046">A</text>
<text transform="translate(454.58 608.9) scale(1.06 1.72)" font-size="10" font-weight="bold" text-anchor="middle" fill="#2343b4">C</text>
<text transform="translate(461.69 608.9) scale(0.99 1.72)" font-size="10" font-weight="bold" text-anchor="middle" fill="#f5a623">G</text>
<text transform="translate(468.81 608.9) scale(1.26 1.72)" font-size="10" font-weight="bold" text-anchor="middle" fill="#d7202b">T</text>
<text transform="translate(475.92 608.9) scale(1.26 0.26)" font-size="10" font-weight="bold" text-anchor="middle" fill="#d7202b">T</text>
<text transform="translate(475.92 607.04) scale(1.06 0.34)" font-size="10" font-weight="bold" text-anchor="middle" fill="#2343b4">C</text>
<text transform="translate(475.92 604.56) scale(1.06 0.95)" font-size="10" font-weight="bold" text-anchor="middle" fill="#22a046">A</text>
<text transform="translate(483.02 608.9) scale(1.06 0.17)" font-size="10" font-weight="bold" text-anchor="middle" fill="#22a046">A</text>
<text transform="translate(483.02 607.66) scale(1.26 0.26)" font-size="10" font-weight="bold" text-anchor="middle" fill="#d7202b">T</text>
<text transform="translate(483.02 605.8) scale(0.99 0.43)" font-size="10" font-weight="bold" text-anchor="middle" fill="#f5a623">G</text>
<text transform="translate(483.02 602.7) scale(1.06 0.78)" font-size="10" font-weight="bold" text-anchor="middle" fill="#2343b4">C</text>
<text transform="translate(490.13 608.9) scale(1.06 0.21)" font-size="10" font-weight="bold" text-anchor="middle" fill="#22a046">A</text>
<text transform="translate(490.13 607.41) scale(1.26 0.26)" font-size="10" font-weight="bold" text-anchor="middle" fill="#d7202b">T</text>
<text transform="translate(490.13 605.55) scale(0.99 0.34)" font-size="10" font-weight="bold" text-anchor="middle" fill="#f5a623">G</text>
<text transform="translate(490.13 603.07) scale(1.06 0.78)" font-size="10" font-weight="bold" text-anchor="middle" fill="#2343b4">C</text>
<text transform="translate(497.25 608.9) scale(1.06 0.26)" font-size="10" font-weight="bold" text-anchor="middle" fill="#22a046">A</text>
<text transform="translate(497.25 607.04) scale(1.26 0.6)" font-size="10" font-weight="bold" text-anchor="middle" fill="#d7202b">T</text>
<text transform="translate(497.25 602.7) scale(1.06 0.78)" font-size="10" font-weight="bold" text-anchor="middle" fill="#2343b4">C</text>
<text x="526.8" y="606.14" font-size="9.6" text-anchor="middle" fill="#111">21.70%</text>
<text x="599" y="606.1" font-size="9.5" text-anchor="middle" fill="#111">1e-662</text>
<text x="649.9" y="606.1" font-size="9.5" text-anchor="middle" fill="#111">0.0000</text>
<text transform="translate(434.14 633) scale(1.33 0.14)" font-size="10" font-weight="bold" text-anchor="middle" fill="#2343b4">C</text>
<text transform="translate(434.14 632.01) scale(1.23 0.43)" font-size="10" font-weight="bold" text-anchor="middle" fill="#f5a623">G</text>
<text transform="translate(434.14 628.91) scale(1.57 0.95)" font-size="10" font-weight="bold" text-anchor="middle" fill="#d7202b">T</text>
<text transform="translate(443.03 633) scale(1.33 1.72)" font-size="10" font-weight="bold" text-anchor="middle" fill="#22a046">A</text>
<text transform="translate(451.92 633) scale(1.33 1.72)" font-size="10" font-weight="bold" text-anchor="middle" fill="#2343b4">C</text>
<text transform="translate(460.81 633) scale(1.23 1.72)" font-size="10" font-weight="bold" text-anchor="middle" fill="#f5a623">G</text>
<text transform="translate(469.69 633) scale(1.57 1.72)" font-size="10" font-weight="bold" text-anchor="middle" fill="#d7202b">T</text>
<text transform="translate(478.58 633) scale(1.33 0.17)" font-size="10" font-weight="bold" text-anchor="middle" fill="#22a046">A</text>
<text transform="translate(478.58 631.76) scale(1.23 1.38)" font-size="10" font-weight="bold" text-anchor="middle" fill="#f5a623">G</text>
<text transform="translate(487.47 633) scale(1.33 0.43)" font-size="10" font-weight="bold" text-anchor="middle" fill="#22a046">A</text>
<text transform="translate(487.47 629.9) scale(1.23 0.34)" font-size="10" font-weight="bold" text-anchor="middle" fill="#f5a623">G</text>
<text transform="translate(487.47 627.42) scale(1.33 0.95)" font-size="10" font-weight="bold" text-anchor="middle" fill="#2343b4">C</text>
<text transform="translate(496.36 633) scale(1.57 0.26)" font-size="10" font-weight="bold" text-anchor="middle" fill="#d7202b">T</text>
<text transform="translate(496.36 631.14) scale(1.33 0.43)" font-size="10" font-weight="bold" text-anchor="middle" fill="#22a046">A</text>
<text transform="translate(496.36 628.04) scale(1.23 0.43)" font-size="10" font-weight="bold" text-anchor="middle" fill="#f5a623">G</text>
<text transform="translate(496.36 624.94) scale(1.33 0.52)" font-size="10" font-weight="bold" text-anchor="middle" fill="#2343b4">C</text>
<text x="526.8" y="630.24" font-size="9.6" text-anchor="middle" fill="#111">16.86%</text>
<text x="599" y="630.2" font-size="9.5" text-anchor="middle" fill="#111">1e-489</text>
<text x="649.9" y="631" font-size="9.5" text-anchor="middle" fill="#111">0.0000</text>
<text transform="translate(434.14 658.4) scale(1.33 0.21)" font-size="10" font-weight="bold" text-anchor="middle" fill="#2343b4">C</text>
<text transform="translate(434.14 656.91) scale(1.23 0.43)" font-size="10" font-weight="bold" text-anchor="middle" fill="#f5a623">G</text>
<text transform="translate(434.14 653.81) scale(1.33 0.86)" font-size="10" font-weight="bold" text-anchor="middle" fill="#22a046">A</text>
<text transform="translate(443.03 658.4) scale(1.33 0.17)" font-size="10" font-weight="bold" text-anchor="middle" fill="#2343b4">C</text>
<text transform="translate(443.03 657.16) scale(1.23 0.52)" font-size="10" font-weight="bold" text-anchor="middle" fill="#f5a623">G</text>
<text transform="translate(443.03 653.44) scale(1.57 0.86)" font-size="10" font-weight="bold" text-anchor="middle" fill="#d7202b">T</text>
<text transform="translate(451.92 658.4) scale(1.23 0.09)" font-size="10" font-weight="bold" text-anchor="middle" fill="#f5a623">G</text>
<text transform="translate(451.92 657.78) scale(1.33 1.64)" font-size="10" font-weight="bold" text-anchor="middle" fill="#22a046">A</text>
<text transform="translate(460.81 658.4) scale(1.33 1.72)" font-size="10" font-weight="bold" text-anchor="middle" fill="#2343b4">C</text>
<text transform="translate(469.69 658.4) scale(1.23 1.72)" font-size="10" font-weight="bold" text-anchor="middle" fill="#f5a623">G</text>
<text transform="translate(478.58 658.4) scale(1.57 1.72)" font-size="10" font-weight="bold" text-anchor="middle" fill="#d7202b">T</text>
<text transform="translate(487.47 658.4) scale(1.23 1.72)" font-size="10" font-weight="bold" text-anchor="middle" fill="#f5a623">G</text>
<text transform="translate(496.36 658.4) scale(1.33 0.26)" font-size="10" font-weight="bold" text-anchor="middle" fill="#22a046">A</text>
<text transform="translate(496.36 656.54) scale(1.57 0.17)" font-size="10" font-weight="bold" text-anchor="middle" fill="#d7202b">T</text>
<text transform="translate(496.36 655.3) scale(1.33 1.12)" font-size="10" font-weight="bold" text-anchor="middle" fill="#2343b4">C</text>
<text x="526.8" y="655.64" font-size="9.6" text-anchor="middle" fill="#111">53.23%</text>
<text x="599" y="655.6" font-size="9.5" text-anchor="middle" fill="#111">1e-346</text>
<text x="649.9" y="656" font-size="9.5" text-anchor="middle" fill="#111">0.0000</text>
<text transform="translate(433.25 681.7) scale(1.06 0.17)" font-size="10" font-weight="bold" text-anchor="middle" fill="#22a046">A</text>
<text transform="translate(433.25 680.46) scale(1.26 0.52)" font-size="10" font-weight="bold" text-anchor="middle" fill="#d7202b">T</text>
<text transform="translate(433.25 676.74) scale(0.99 0.86)" font-size="10" font-weight="bold" text-anchor="middle" fill="#f5a623">G</text>
<text transform="translate(440.37 681.7) scale(1.06 1.72)" font-size="10" font-weight="bold" text-anchor="middle" fill="#2343b4">C</text>
<text transform="translate(447.48 681.7) scale(1.06 1.72)" font-size="10" font-weight="bold" text-anchor="middle" fill="#22a046">A</text>
<text transform="translate(454.58 681.7) scale(1.06 1.72)" font-size="10" font-weight="bold" text-anchor="middle" fill="#2343b4">C</text>
<text transform="translate(461.69 681.7) scale(0.99 1.72)" font-size="10" font-weight="bold" text-anchor="middle" fill="#f5a623">G</text>
<text transform="translate(468.81 681.7) scale(1.26 1.72)" font-size="10" font-weight="bold" text-anchor="middle" fill="#d7202b">T</text>
<text transform="translate(475.92 681.7) scale(1.26 0.26)" font-size="10" font-weight="bold" text-anchor="middle" fill="#d7202b">T</text>
<text transform="translate(475.92 679.84) scale(1.06 0.34)" font-size="10" font-weight="bold" text-anchor="middle" fill="#2343b4">C</text>
<text transform="translate(475.92 677.36) scale(1.06 0.95)" font-size="10" font-weight="bold" text-anchor="middle" fill="#22a046">A</text>
<text transform="translate(483.02 681.7) scale(1.06 0.17)" font-size="10" font-weight="bold" text-anchor="middle" fill="#22a046">A</text>
<text transform="translate(483.02 680.46) scale(1.26 0.26)" font-size="10" font-weight="bold" text-anchor="middle" fill="#d7202b">T</text>
<text transform="translate(483.02 678.6) scale(0.99 0.43)" font-size="10" font-weight="bold" text-anchor="middle" fill="#f5a623">G</text>
<text transform="translate(483.02 675.5) scale(1.06 0.78)" font-size="10" font-weight="bold" text-anchor="middle" fill="#2343b4">C</text>
<text transform="translate(490.13 681.7) scale(1.06 0.21)" font-size="10" font-weight="bold" text-anchor="middle" fill="#22a046">A</text>
<text transform="translate(490.13 680.21) scale(1.26 0.26)" font-size="10" font-weight="bold" text-anchor="middle" fill="#d7202b">T</text>
<text transform="translate(490.13 678.35) scale(0.99 0.34)" font-size="10" font-weight="bold" text-anchor="middle" fill="#f5a623">G</text>
<text transform="translate(490.13 675.87) scale(1.06 0.78)" font-size="10" font-weight="bold" text-anchor="middle" fill="#2343b4">C</text>
<text transform="translate(497.25 681.7) scale(1.06 0.26)" font-size="10" font-weight="bold" text-anchor="middle" fill="#22a046">A</text>
<text transform="translate(497.25 679.84) scale(1.26 0.6)" font-size="10" font-weight="bold" text-anchor="middle" fill="#d7202b">T</text>
<text transform="translate(497.25 675.5) scale(1.06 0.78)" font-size="10" font-weight="bold" text-anchor="middle" fill="#2343b4">C</text>
<text x="524.5" y="678.94" font-size="9.6" text-anchor="middle" fill="#111">9.98%</text>
<text x="599" y="679.7" font-size="9.5" text-anchor="middle" fill="#111">1e-333</text>
<text x="649.9" y="680.1" font-size="9.5" text-anchor="middle" fill="#111">0.0000</text>
<text transform="translate(434.14 707.1) scale(1.33 0.14)" font-size="10" font-weight="bold" text-anchor="middle" fill="#2343b4">C</text>
<text transform="translate(434.14 706.11) scale(1.23 0.43)" font-size="10" font-weight="bold" text-anchor="middle" fill="#f5a623">G</text>
<text transform="translate(434.14 703.01) scale(1.57 0.95)" font-size="10" font-weight="bold" text-anchor="middle" fill="#d7202b">T</text>
<text transform="translate(443.03 707.1) scale(1.33 1.72)" font-size="10" font-weight="bold" text-anchor="middle" fill="#22a046">A</text>
<text transform="translate(451.92 707.1) scale(1.33 1.72)" font-size="10" font-weight="bold" text-anchor="middle" fill="#2343b4">C</text>
<text transform="translate(460.81 707.1) scale(1.23 1.72)" font-size="10" font-weight="bold" text-anchor="middle" fill="#f5a623">G</text>
<text transform="translate(469.69 707.1) scale(1.57 1.72)" font-size="10" font-weight="bold" text-anchor="middle" fill="#d7202b">T</text>
<text transform="translate(478.58 707.1) scale(1.33 0.17)" font-size="10" font-weight="bold" text-anchor="middle" fill="#22a046">A</text>
<text transform="translate(478.58 705.86) scale(1.23 1.38)" font-size="10" font-weight="bold" text-anchor="middle" fill="#f5a623">G</text>
<text transform="translate(487.47 707.1) scale(1.33 0.43)" font-size="10" font-weight="bold" text-anchor="middle" fill="#22a046">A</text>
<text transform="translate(487.47 704) scale(1.23 0.34)" font-size="10" font-weight="bold" text-anchor="middle" fill="#f5a623">G</text>
<text transform="translate(487.47 701.52) scale(1.33 0.95)" font-size="10" font-weight="bold" text-anchor="middle" fill="#2343b4">C</text>
<text transform="translate(496.36 707.1) scale(1.57 0.26)" font-size="10" font-weight="bold" text-anchor="middle" fill="#d7202b">T</text>
<text transform="translate(496.36 705.24) scale(1.33 0.43)" font-size="10" font-weight="bold" text-anchor="middle" fill="#22a046">A</text>
<text transform="translate(496.36 702.14) scale(1.23 0.43)" font-size="10" font-weight="bold" text-anchor="middle" fill="#f5a623">G</text>
<text transform="translate(496.36 699.04) scale(1.33 0.52)" font-size="10" font-weight="bold" text-anchor="middle" fill="#2343b4">C</text>
<text x="526.8" y="704.34" font-size="9.6" text-anchor="middle" fill="#111">23.25%</text>
<text x="599" y="704.3" font-size="9.5" text-anchor="middle" fill="#111">1e-244</text>
<text x="649.9" y="704.3" font-size="9.5" text-anchor="middle" fill="#111">0.0000</text>
<text transform="translate(416.24 601.4) rotate(-90)" font-size="9.6" text-anchor="middle">HIF-1&#945; ChIP</text>
<line x1="419.3" y1="573" x2="419.3" y2="631" stroke="#333" stroke-width="0.9"/>
<text transform="translate(416.24 679.7) rotate(-90)" font-size="9.6" text-anchor="middle">HIFAL ChIP</text>
<line x1="419.3" y1="650" x2="419.3" y2="709.3" stroke="#333" stroke-width="0.9"/>
<text x="21.4" y="763" font-size="17" fill="#111">o</text>
<text x="-1.5" y="783.15" font-size="7.4" fill="#111">HIF-1&#945;</text>
<text x="10.8" y="790.25" font-size="7.4" text-anchor="middle" fill="#111">ChIP</text>
<line x1="23.9" y1="773.9" x2="23.9" y2="795.9" stroke="#9a9a9a" stroke-width="1"/>
<text x="39.3" y="779.11" font-size="7" text-anchor="middle" fill="#111">HIFAL</text>
<text x="39.6" y="785.91" font-size="7" text-anchor="middle" fill="#111">null</text>
<text x="38.6" y="795.11" font-size="7" text-anchor="middle" fill="#111">HIFAL</text>
<text x="39.4" y="801.91" font-size="7" text-anchor="middle" fill="#111">WT</text>
<text x="36.6" y="812.21" font-size="7" text-anchor="middle" fill="#111">HIFAL</text>
<text x="36.5" y="817.81" font-size="7" text-anchor="middle" fill="#111">antisense</text>
<text x="9.8" y="817.21" font-size="7" text-anchor="middle" fill="#111">HIFAL</text>
<text x="10.5" y="824.45" font-size="7.4" text-anchor="middle" fill="#111">ChIP</text>
<text x="39.3" y="831.21" font-size="7" text-anchor="middle" fill="#111">HIFAL</text>
<text x="172.3" y="764.85" font-size="8.8" text-anchor="middle" fill="#111">5kb</text>
<line x1="153.3" y1="766" x2="190.4" y2="766" stroke="#222" stroke-width="0.75"/>
<text x="339.5" y="764.85" font-size="8.8" text-anchor="middle" fill="#111">10kb</text>
<line x1="325.8" y1="766" x2="353.5" y2="766" stroke="#222" stroke-width="0.75"/>
<text x="483.9" y="764.75" font-size="8.8" text-anchor="middle" fill="#111">20kb</text>
<line x1="463.9" y1="766.9" x2="501.4" y2="766.9" stroke="#222" stroke-width="0.75"/>
<text x="646.4" y="764.95" font-size="8.8" text-anchor="middle" fill="#111">10kb</text>
<line x1="627.2" y1="767.1" x2="664.7" y2="767.1" stroke="#222" stroke-width="0.75"/>
<text x="54" y="770" font-size="6" textLength="14.6" lengthAdjust="spacingAndGlyphs" fill="#222">[0 - 100]</text>
<text x="54" y="786.5" font-size="6" textLength="14.6" lengthAdjust="spacingAndGlyphs" fill="#222">[0 - 100]</text>
<text x="54" y="804.5" font-size="6" textLength="14.6" lengthAdjust="spacingAndGlyphs" fill="#222">[0 - 100]</text>
<text x="54" y="821.2" font-size="6" textLength="14.6" lengthAdjust="spacingAndGlyphs" fill="#222">[0 - 100]</text>
<line x1="54" y1="780.4" x2="191.2" y2="780.4" stroke="#c8c8c8" stroke-width="0.7"/>
<circle cx="133.73" cy="780.1" r="0.5" fill="#f08080"/>
<circle cx="80.72" cy="780.1" r="0.5" fill="#f08080"/>
<circle cx="186.43" cy="780.1" r="0.5" fill="#f08080"/>
<circle cx="180.77" cy="780.1" r="0.5" fill="#f08080"/>
<circle cx="118.09" cy="780.1" r="0.5" fill="#f08080"/>
<circle cx="145.03" cy="780.1" r="0.5" fill="#f08080"/>
<circle cx="83.43" cy="780.1" r="0.5" fill="#f08080"/>
<circle cx="84.42" cy="780.1" r="0.5" fill="#f08080"/>
<circle cx="77.5" cy="779.9" r="0.7" fill="#e66"/>
<line x1="54" y1="795.6" x2="191.2" y2="795.6" stroke="#aab0e4" stroke-width="1.5"/>
<path d="M54,795.6 L54,795.56 L54.5,795.56 L55,795.6 L55.5,795.58 L56,795.57 L56.5,795.6 L57,795.57 L57.51,795.56 L58.01,795.59 L58.51,795.6 L59.01,795.58 L59.51,795.57 L60.01,795.6 L60.51,795.6 L61.01,795.55 L61.51,795.58 L62.01,795.59 L62.51,795.53 L63.01,795.59 L63.51,795.6 L64.01,795.56 L64.52,795.59 L65.02,795.57 L65.52,795.59 L66.02,795.59 L66.52,795.57 L67.02,795.58 L67.52,795.59 L68.02,795.56 L68.52,795.58 L69.02,795.58 L69.52,795.56 L70.02,795.56 L70.52,795.52 L71.02,795.53 L71.53,795.49 L72.03,795.43 L72.53,795.35 L73.03,795.26 L73.53,795.09 L74.03,794.81 L74.53,794.5 L75.03,793.94 L75.53,793.14 L76.03,791.94 L76.53,790.11 L77.03,787.45 L77.53,784.11 L78.04,787.89 L78.54,790.41 L79.04,792.13 L79.54,793.25 L80.04,794.01 L80.54,794.52 L81.04,794.86 L81.54,795.13 L82.04,795.26 L82.54,795.38 L83.04,795.45 L83.54,795.47 L84.04,795.51 L84.54,795.51 L85.05,795.54 L85.55,795.51 L86.05,795.53 L86.55,795.51 L87.05,795.46 L87.55,795.46 L88.05,795.37 L88.55,795.3 L89.05,795.14 L89.55,794.91 L90.05,794.6 L90.55,794.96 L91.05,795.14 L91.55,795.32 L92.06,795.41 L92.56,795.47 L93.06,795.44 L93.56,795.55 L94.06,795.56 L94.56,795.54 L95.06,795.57 L95.56,795.57 L96.06,795.52 L96.56,795.58 L97.06,795.56 L97.56,795.57 L98.06,795.57 L98.56,795.53 L99.07,795.54 L99.57,795.5 L100.07,795.43 L100.57,795.29 L101.07,795.19 L101.57,795.34 L102.07,795.45 L102.57,795.48 L103.07,795.52 L103.57,795.56 L104.07,795.52 L104.57,795.57 L105.07,795.58 L105.58,795.59 L106.08,795.56 L106.58,795.6 L107.08,795.58 L107.58,795.58 L108.08,795.56 L108.58,795.59 L109.08,795.57 L109.58,795.58 L110.08,795.58 L110.58,795.6 L111.08,795.58 L111.58,795.56 L112.08,795.57 L112.59,795.56 L113.09,795.58 L113.59,795.55 L114.09,795.6 L114.59,795.54 L115.09,795.59 L115.59,795.59 L116.09,795.59 L116.59,795.6 L117.09,795.6 L117.59,795.58 L118.09,795.57 L118.59,795.57 L119.09,795.59 L119.6,795.59 L120.1,795.58 L120.6,795.57 L121.1,795.59 L121.6,795.58 L122.1,795.59 L122.6,795.57 L123.1,795.59 L123.6,795.57 L124.1,795.57 L124.6,795.6 L125.1,795.58 L125.6,795.59 L126.11,795.55 L126.61,795.56 L127.11,795.58 L127.61,795.6 L128.11,795.56 L128.61,795.57 L129.11,795.59 L129.61,795.6 L130.11,795.57 L130.61,795.56 L131.11,795.57 L131.61,795.56 L132.11,795.58 L132.61,795.57 L133.12,795.58 L133.62,795.52 L134.12,795.59 L134.62,795.57 L135.12,795.59 L135.62,795.56 L136.12,795.57 L136.62,795.58 L137.12,795.58 L137.62,795.56 L138.12,795.58 L138.62,795.59 L139.12,795.54 L139.62,795.59 L140.13,795.58 L140.63,795.54 L141.13,795.57 L141.63,795.53 L142.13,795.6 L142.63,795.57 L143.13,795.6 L143.63,795.6 L144.13,795.59 L144.63,795.59 L145.13,795.57 L145.63,795.53 L146.13,795.58 L146.64,795.59 L147.14,795.55 L147.64,795.54 L148.14,795.59 L148.64,795.57 L149.14,795.58 L149.64,795.58 L150.14,795.59 L150.64,795.56 L151.14,795.58 L151.64,795.59 L152.14,795.56 L152.64,795.57 L153.14,795.59 L153.65,795.57 L154.15,795.57 L154.65,795.55 L155.15,795.6 L155.65,795.6 L156.15,795.59 L156.65,795.57 L157.15,795.55 L157.65,795.6 L158.15,795.59 L158.65,795.58 L159.15,795.57 L159.65,795.55 L160.15,795.57 L160.66,795.59 L161.16,795.57 L161.66,795.57 L162.16,795.51 L162.66,795.59 L163.16,795.6 L163.66,795.55 L164.16,795.58 L164.66,795.59 L165.16,795.58 L165.66,795.59 L166.16,795.6 L166.66,795.56 L167.16,795.58 L167.67,795.58 L168.17,795.59 L168.67,795.58 L169.17,795.57 L169.67,795.57 L170.17,795.54 L170.67,795.58 L171.17,795.57 L171.67,795.57 L172.17,795.59 L172.67,795.59 L173.17,795.55 L173.67,795.57 L174.18,795.59 L174.68,795.55 L175.18,795.58 L175.68,795.57 L176.18,795.59 L176.68,795.57 L177.18,795.58 L177.68,795.59 L178.18,795.58 L178.68,795.59 L179.18,795.57 L179.68,795.58 L180.18,795.57 L180.68,795.58 L181.19,795.59 L181.69,795.55 L182.19,795.6 L182.69,795.6 L183.19,795.59 L183.69,795.59 L184.19,795.55 L184.69,795.56 L185.19,795.58 L185.69,795.59 L186.19,795.57 L186.69,795.6 L187.19,795.59 L187.69,795.59 L188.2,795.6 L188.7,795.55 L189.2,795.55 L189.7,795.56 L190.2,795.54 L190.7,795.54 L191.2,795.58 L191.2,795.6 Z" fill="#0a0a8a"/>
<line x1="54" y1="811.3" x2="191.2" y2="811.3" stroke="#c8c8c8" stroke-width="0.7"/>
<circle cx="74.33" cy="811" r="0.5" fill="#60c8c8"/>
<circle cx="138.51" cy="811" r="0.5" fill="#60c8c8"/>
<circle cx="77.28" cy="811" r="0.5" fill="#60c8c8"/>
<circle cx="151.76" cy="811" r="0.5" fill="#60c8c8"/>
<circle cx="137.39" cy="811" r="0.5" fill="#60c8c8"/>
<circle cx="106.73" cy="811" r="0.5" fill="#60c8c8"/>
<circle cx="138.72" cy="811" r="0.5" fill="#60c8c8"/>
<circle cx="131.69" cy="811" r="0.5" fill="#60c8c8"/>
<circle cx="59.93" cy="811" r="0.5" fill="#60c8c8"/>
<circle cx="126.73" cy="811" r="0.5" fill="#60c8c8"/>
<line x1="54" y1="828.2" x2="191.2" y2="828.2" stroke="#c8c8c8" stroke-width="0.7"/>
<path d="M54,828.2 L54,828.15 L54.5,828.19 L55,828.19 L55.5,828.2 L56,828.18 L56.5,828.17 L57,828.19 L57.51,828.18 L58.01,828.18 L58.51,828.18 L59.01,828.19 L59.51,828.19 L60.01,828.18 L60.51,828.19 L61.01,828.19 L61.51,828.14 L62.01,828.18 L62.51,828.19 L63.01,828.19 L63.51,828.19 L64.01,828.2 L64.52,828.2 L65.02,828.18 L65.52,828.2 L66.02,828.17 L66.52,828.17 L67.02,828.17 L67.52,828.19 L68.02,828.2 L68.52,828.19 L69.02,828.19 L69.52,828.18 L70.02,828.11 L70.52,828.16 L71.02,828.14 L71.53,828.11 L72.03,828.05 L72.53,828 L73.03,827.92 L73.53,827.74 L74.03,827.57 L74.53,827.21 L75.03,826.72 L75.53,825.96 L76.03,824.86 L76.53,823.15 L77.03,820.54 L77.53,817.19 L78.04,820.94 L78.54,823.43 L79.04,825.01 L79.54,826.13 L80.04,826.8 L80.54,827.3 L81.04,827.58 L81.54,827.78 L82.04,827.93 L82.54,828.02 L83.04,828.05 L83.54,828.11 L84.04,828.15 L84.54,828.15 L85.05,828.18 L85.55,828.17 L86.05,828.19 L86.55,828.18 L87.05,828.18 L87.55,828.18 L88.05,828.17 L88.55,828.17 L89.05,828.14 L89.55,828.13 L90.05,828.07 L90.55,828.02 L91.05,827.87 L91.55,827.63 L92.06,827.35 L92.56,827.7 L93.06,827.88 L93.56,828.04 L94.06,828.1 L94.56,828.14 L95.06,828.16 L95.56,828.15 L96.06,828.18 L96.56,828.19 L97.06,828.2 L97.56,828.19 L98.06,828.19 L98.56,828.19 L99.07,828.19 L99.57,828.16 L100.07,828.18 L100.57,828.18 L101.07,828.19 L101.57,828.19 L102.07,828.19 L102.57,828.16 L103.07,828.17 L103.57,828.19 L104.07,828.18 L104.57,828.2 L105.07,828.19 L105.58,828.17 L106.08,828.16 L106.58,828.18 L107.08,828.17 L107.58,828.19 L108.08,828.18 L108.58,828.2 L109.08,828.2 L109.58,828.19 L110.08,828.19 L110.58,828.17 L111.08,828.2 L111.58,828.2 L112.08,828.19 L112.59,828.2 L113.09,828.18 L113.59,828.2 L114.09,828.18 L114.59,828.18 L115.09,828.19 L115.59,828.19 L116.09,828.18 L116.59,828.2 L117.09,828.2 L117.59,828.17 L118.09,828.17 L118.59,828.18 L119.09,828.18 L119.6,828.18 L120.1,828.19 L120.6,828.2 L121.1,828.19 L121.6,828.19 L122.1,828.18 L122.6,828.19 L123.1,828.19 L123.6,828.19 L124.1,828.18 L124.6,828.19 L125.1,828.19 L125.6,828.2 L126.11,828.19 L126.61,828.2 L127.11,828.18 L127.61,828.19 L128.11,828.17 L128.61,828.2 L129.11,828.2 L129.61,828.19 L130.11,828.19 L130.61,828.2 L131.11,828.18 L131.61,828.18 L132.11,828.14 L132.61,828.2 L133.12,828.14 L133.62,828.17 L134.12,828.2 L134.62,828.18 L135.12,828.2 L135.62,828.17 L136.12,828.17 L136.62,828.17 L137.12,828.2 L137.62,828.19 L138.12,828.18 L138.62,828.19 L139.12,828.19 L139.62,828.2 L140.13,828.19 L140.63,828.19 L141.13,828.2 L141.63,828.19 L142.13,828.19 L142.63,828.19 L143.13,828.2 L143.63,828.19 L144.13,828.18 L144.63,828.2 L145.13,828.19 L145.63,828.17 L146.13,828.19 L146.64,828.16 L147.14,828.17 L147.64,828.19 L148.14,828.18 L148.64,828.19 L149.14,828.19 L149.64,828.2 L150.14,828.18 L150.64,828.19 L151.14,828.2 L151.64,828.19 L152.14,828.19 L152.64,828.18 L153.14,828.16 L153.65,828.19 L154.15,828.19 L154.65,828.19 L155.15,828.18 L155.65,828.2 L156.15,828.17 L156.65,828.2 L157.15,828.19 L157.65,828.19 L158.15,828.18 L158.65,828.17 L159.15,828.18 L159.65,828.2 L160.15,828.18 L160.66,828.19 L161.16,828.19 L161.66,828.17 L162.16,828.19 L162.66,828.19 L163.16,828.17 L163.66,828.17 L164.16,828.17 L164.66,828.18 L165.16,828.19 L165.66,828.18 L166.16,828.18 L166.66,828.19 L167.16,828.2 L167.67,828.18 L168.17,828.19 L168.67,828.19 L169.17,828.17 L169.67,828.18 L170.17,828.17 L170.67,828.16 L171.17,828.2 L171.67,828.2 L172.17,828.18 L172.67,828.17 L173.17,828.2 L173.67,828.18 L174.18,828.19 L174.68,828.18 L175.18,828.2 L175.68,828.18 L176.18,828.18 L176.68,828.2 L177.18,828.17 L177.68,828.19 L178.18,828.17 L178.68,828.18 L179.18,828.2 L179.68,828.19 L180.18,828.18 L180.68,828.2 L181.19,828.17 L181.69,828.19 L182.19,828.18 L182.69,828.19 L183.19,828.2 L183.69,828.19 L184.19,828.16 L184.69,828.15 L185.19,828.19 L185.69,828.18 L186.19,828.19 L186.69,828.2 L187.19,828.15 L187.69,828.16 L188.2,828.19 L188.7,828.19 L189.2,828.2 L189.7,828.19 L190.2,828.19 L190.7,828.17 L191.2,828.18 L191.2,828.2 Z" fill="#d010d0"/>
<circle cx="188.33" cy="827.9" r="0.5" fill="#e070e0"/>
<circle cx="116.6" cy="827.9" r="0.5" fill="#e070e0"/>
<circle cx="152.63" cy="827.9" r="0.5" fill="#e070e0"/>
<circle cx="154.83" cy="827.9" r="0.5" fill="#e070e0"/>
<circle cx="83.48" cy="827.9" r="0.5" fill="#e070e0"/>
<circle cx="64.71" cy="827.9" r="0.5" fill="#e070e0"/>
<circle cx="136.7" cy="827.9" r="0.5" fill="#e070e0"/>
<circle cx="70.73" cy="827.9" r="0.5" fill="#e070e0"/>
<circle cx="106.44" cy="827.9" r="0.5" fill="#e070e0"/>
<circle cx="176.07" cy="827.9" r="0.5" fill="#e070e0"/>
<text x="50.6" y="837.8" font-size="8.1" fill="#111">LDHA</text>
<line x1="76.5" y1="834.6" x2="176.6" y2="834.6" stroke="#3a3ac0" stroke-width="0.6"/>
<path d="M79.5,833.5 L80.5,834.6 L79.5,835.7" fill="none" stroke="#3a3ac0" stroke-width="0.45"/>
<path d="M82.7,833.5 L83.7,834.6 L82.7,835.7" fill="none" stroke="#3a3ac0" stroke-width="0.45"/>
<path d="M85.9,833.5 L86.9,834.6 L85.9,835.7" fill="none" stroke="#3a3ac0" stroke-width="0.45"/>
<path d="M89.1,833.5 L90.1,834.6 L89.1,835.7" fill="none" stroke="#3a3ac0" stroke-width="0.45"/>
<path d="M92.3,833.5 L93.3,834.6 L92.3,835.7" fill="none" stroke="#3a3ac0" stroke-width="0.45"/>
<path d="M95.5,833.5 L96.5,834.6 L95.5,835.7" fill="none" stroke="#3a3ac0" stroke-width="0.45"/>
<path d="M98.7,833.5 L99.7,834.6 L98.7,835.7" fill="none" stroke="#3a3ac0" stroke-width="0.45"/>
<path d="M101.9,833.5 L102.9,834.6 L101.9,835.7" fill="none" stroke="#3a3ac0" stroke-width="0.45"/>
<path d="M105.1,833.5 L106.1,834.6 L105.1,835.7" fill="none" stroke="#3a3ac0" stroke-width="0.45"/>
<path d="M108.3,833.5 L109.3,834.6 L108.3,835.7" fill="none" stroke="#3a3ac0" stroke-width="0.45"/>
<path d="M111.5,833.5 L112.5,834.6 L111.5,835.7" fill="none" stroke="#3a3ac0" stroke-width="0.45"/>
<path d="M114.7,833.5 L115.7,834.6 L114.7,835.7" fill="none" stroke="#3a3ac0" stroke-width="0.45"/>
<path d="M117.9,833.5 L118.9,834.6 L117.9,835.7" fill="none" stroke="#3a3ac0" stroke-width="0.45"/>
<path d="M121.1,833.5 L122.1,834.6 L121.1,835.7" fill="none" stroke="#3a3ac0" stroke-width="0.45"/>
<path d="M124.3,833.5 L125.3,834.6 L124.3,835.7" fill="none" stroke="#3a3ac0" stroke-width="0.45"/>
<path d="M127.5,833.5 L128.5,834.6 L127.5,835.7" fill="none" stroke="#3a3ac0" stroke-width="0.45"/>
<path d="M130.7,833.5 L131.7,834.6 L130.7,835.7" fill="none" stroke="#3a3ac0" stroke-width="0.45"/>
<path d="M133.9,833.5 L134.9,834.6 L133.9,835.7" fill="none" stroke="#3a3ac0" stroke-width="0.45"/>
<path d="M137.1,833.5 L138.1,834.6 L137.1,835.7" fill="none" stroke="#3a3ac0" stroke-width="0.45"/>
<path d="M140.3,833.5 L141.3,834.6 L140.3,835.7" fill="none" stroke="#3a3ac0" stroke-width="0.45"/>
<path d="M143.5,833.5 L144.5,834.6 L143.5,835.7" fill="none" stroke="#3a3ac0" stroke-width="0.45"/>
<path d="M146.7,833.5 L147.7,834.6 L146.7,835.7" fill="none" stroke="#3a3ac0" stroke-width="0.45"/>
<path d="M149.9,833.5 L150.9,834.6 L149.9,835.7" fill="none" stroke="#3a3ac0" stroke-width="0.45"/>
<path d="M153.1,833.5 L154.1,834.6 L153.1,835.7" fill="none" stroke="#3a3ac0" stroke-width="0.45"/>
<path d="M156.3,833.5 L157.3,834.6 L156.3,835.7" fill="none" stroke="#3a3ac0" stroke-width="0.45"/>
<path d="M159.5,833.5 L160.5,834.6 L159.5,835.7" fill="none" stroke="#3a3ac0" stroke-width="0.45"/>
<path d="M162.7,833.5 L163.7,834.6 L162.7,835.7" fill="none" stroke="#3a3ac0" stroke-width="0.45"/>
<path d="M165.9,833.5 L166.9,834.6 L165.9,835.7" fill="none" stroke="#3a3ac0" stroke-width="0.45"/>
<path d="M169.1,833.5 L170.1,834.6 L169.1,835.7" fill="none" stroke="#3a3ac0" stroke-width="0.45"/>
<path d="M172.3,833.5 L173.3,834.6 L172.3,835.7" fill="none" stroke="#3a3ac0" stroke-width="0.45"/>
<rect x="94.45" y="832.4" width="0.9" height="4.4" fill="#3a3ac0"/>
<rect x="112.85" y="832.4" width="0.9" height="4.4" fill="#3a3ac0"/>
<rect x="136.75" y="832.4" width="0.9" height="4.4" fill="#3a3ac0"/>
<rect x="144.05" y="832.4" width="0.9" height="4.4" fill="#3a3ac0"/>
<rect x="157.25" y="832.4" width="0.9" height="4.4" fill="#3a3ac0"/>
<rect x="76.3" y="832.8" width="2.5" height="3.6" fill="#3a3ac0"/>
<rect x="169.3" y="832.8" width="7.3" height="3.6" fill="#3a3ac0"/>
<text x="203.1" y="770.2" font-size="6" textLength="14.6" lengthAdjust="spacingAndGlyphs" fill="#222">[0 - 100]</text>
<text x="203.1" y="786.6" font-size="6" textLength="14.6" lengthAdjust="spacingAndGlyphs" fill="#222">[0 - 100]</text>
<text x="203.1" y="804.1" font-size="6" textLength="14.6" lengthAdjust="spacingAndGlyphs" fill="#222">[0 - 100]</text>
<text x="203.1" y="820.7" font-size="6" textLength="14.6" lengthAdjust="spacingAndGlyphs" fill="#222">[0 - 100]</text>
<line x1="203" y1="779.2" x2="354" y2="779.2" stroke="#c8c8c8" stroke-width="0.7"/>
<circle cx="347.95" cy="778.9" r="0.5" fill="#f08080"/>
<circle cx="334.65" cy="778.9" r="0.5" fill="#f08080"/>
<circle cx="313.52" cy="778.9" r="0.5" fill="#f08080"/>
<circle cx="237.37" cy="778.9" r="0.5" fill="#f08080"/>
<circle cx="252.93" cy="778.9" r="0.5" fill="#f08080"/>
<circle cx="310.79" cy="778.9" r="0.5" fill="#f08080"/>
<circle cx="324.81" cy="778.9" r="0.5" fill="#f08080"/>
<circle cx="205.53" cy="778.9" r="0.5" fill="#f08080"/>
<line x1="203" y1="795.3" x2="354" y2="795.3" stroke="#aab0e4" stroke-width="1.5"/>
<path d="M203,795.3 L203,795.3 L203.5,795.26 L204,795.27 L204.5,795.27 L205,795.29 L205.5,795.29 L206,795.24 L206.5,795.3 L207,795.3 L207.5,795.28 L208,795.27 L208.5,795.3 L209,795.28 L209.5,795.27 L210,795.29 L210.5,795.29 L211,795.26 L211.5,795.25 L212,795.25 L212.5,795.29 L213,795.29 L213.5,795.29 L214,795.3 L214.5,795.26 L215,795.3 L215.5,795.29 L216,795.28 L216.5,795.27 L217,795.29 L217.5,795.24 L218,795.28 L218.5,795.23 L219,795.26 L219.5,795.27 L220,795.23 L220.5,795.27 L221,795.29 L221.5,795.28 L222,795.27 L222.5,795.24 L223,795.18 L223.5,795.12 L224,794.93 L224.5,794.56 L225,793.79 L225.5,792.28 L226,789.11 L226.5,782.67 L227,789.08 L227.5,792.25 L228,793.79 L228.5,794.51 L229,794.89 L229.5,795.05 L230,795.21 L230.5,795.24 L231,795.23 L231.5,795.23 L232,795.26 L232.5,795.28 L233,795.29 L233.5,795.28 L234,795.28 L234.5,795.27 L235,795.3 L235.5,795.29 L236,795.24 L236.5,795.23 L237,795.25 L237.5,795.27 L238,795.29 L238.5,795.29 L239,795.29 L239.5,795.25 L240,795.29 L240.5,795.29 L241,795.29 L241.5,795.29 L242,795.29 L242.5,795.27 L243,795.24 L243.5,795.24 L244,795.19 L244.5,795.3 L245,795.3 L245.5,795.29 L246,795.29 L246.5,795.3 L247,795.29 L247.5,795.27 L248,795.29 L248.5,795.29 L249,795.24 L249.5,795.28 L250,795.27 L250.5,795.23 L251,795.28 L251.5,795.28 L252,795.26 L252.5,795.29 L253,795.28 L253.5,795.27 L254,795.26 L254.5,795.28 L255,795.27 L255.5,795.29 L256,795.26 L256.5,795.28 L257,795.3 L257.5,795.27 L258,795.26 L258.5,795.29 L259,795.3 L259.5,795.3 L260,795.27 L260.5,795.28 L261,795.26 L261.5,795.29 L262,795.29 L262.5,795.29 L263,795.28 L263.5,795.28 L264,795.29 L264.5,795.27 L265,795.29 L265.5,795.25 L266,795.29 L266.5,795.3 L267,795.27 L267.5,795.23 L268,795.3 L268.5,795.27 L269,795.28 L269.5,795.29 L270,795.28 L270.5,795.28 L271,795.27 L271.5,795.27 L272,795.29 L272.5,795.27 L273,795.3 L273.5,795.29 L274,795.26 L274.5,795.28 L275,795.29 L275.5,795.28 L276,795.29 L276.5,795.28 L277,795.29 L277.5,795.27 L278,795.3 L278.5,795.29 L279,795.29 L279.5,795.28 L280,795.28 L280.5,795.27 L281,795.29 L281.5,795.29 L282,795.28 L282.5,795.26 L283,795.28 L283.5,795.28 L284,795.3 L284.5,795.28 L285,795.28 L285.5,795.3 L286,795.28 L286.5,795.25 L287,795.29 L287.5,795.28 L288,795.28 L288.5,795.26 L289,795.29 L289.5,795.27 L290,795.28 L290.5,795.28 L291,795.29 L291.5,795.28 L292,795.28 L292.5,795.27 L293,795.27 L293.5,795.29 L294,795.28 L294.5,795.29 L295,795.23 L295.5,795.3 L296,795.24 L296.5,795.24 L297,795.23 L297.5,795.27 L298,795.28 L298.5,795.29 L299,795.3 L299.5,795.24 L300,795.28 L300.5,795.27 L301,795.29 L301.5,795.27 L302,795.3 L302.5,795.29 L303,795.28 L303.5,795.29 L304,795.3 L304.5,795.29 L305,795.26 L305.5,795.27 L306,795.24 L306.5,795.27 L307,795.27 L307.5,795.28 L308,795.25 L308.5,795.3 L309,795.29 L309.5,795.28 L310,795.28 L310.5,795.27 L311,795.24 L311.5,795.26 L312,795.28 L312.5,795.28 L313,795.3 L313.5,795.24 L314,795.25 L314.5,795.29 L315,795.29 L315.5,795.28 L316,795.25 L316.5,795.29 L317,795.27 L317.5,795.25 L318,795.25 L318.5,795.27 L319,795.3 L319.5,795.3 L320,795.26 L320.5,795.26 L321,795.28 L321.5,795.29 L322,795.3 L322.5,795.26 L323,795.27 L323.5,795.28 L324,795.3 L324.5,795.3 L325,795.29 L325.5,795.29 L326,795.29 L326.5,795.29 L327,795.24 L327.5,795.29 L328,795.27 L328.5,795.28 L329,795.29 L329.5,795.28 L330,795.27 L330.5,795.27 L331,795.28 L331.5,795.29 L332,795.29 L332.5,795.28 L333,795.27 L333.5,795.27 L334,795.29 L334.5,795.27 L335,795.28 L335.5,795.29 L336,795.27 L336.5,795.27 L337,795.29 L337.5,795.27 L338,795.29 L338.5,795.26 L339,795.27 L339.5,795.29 L340,795.25 L340.5,795.3 L341,795.26 L341.5,795.28 L342,795.28 L342.5,795.29 L343,795.25 L343.5,795.29 L344,795.27 L344.5,795.29 L345,795.24 L345.5,795.27 L346,795.27 L346.5,795.29 L347,795.26 L347.5,795.27 L348,795.3 L348.5,795.27 L349,795.26 L349.5,795.26 L350,795.27 L350.5,795.25 L351,795.29 L351.5,795.26 L352,795.3 L352.5,795.26 L353,795.27 L353.5,795.28 L354,795.28 L354,795.3 Z" fill="#0a0a8a"/>
<line x1="203" y1="810.7" x2="354" y2="810.7" stroke="#c8c8c8" stroke-width="0.7"/>
<circle cx="335.59" cy="810.4" r="0.5" fill="#60c8c8"/>
<circle cx="255.72" cy="810.4" r="0.5" fill="#60c8c8"/>
<circle cx="322.4" cy="810.4" r="0.5" fill="#60c8c8"/>
<circle cx="346.69" cy="810.4" r="0.5" fill="#60c8c8"/>
<circle cx="250.15" cy="810.4" r="0.5" fill="#60c8c8"/>
<circle cx="319.02" cy="810.4" r="0.5" fill="#60c8c8"/>
<circle cx="253.54" cy="810.4" r="0.5" fill="#60c8c8"/>
<circle cx="227.73" cy="810.4" r="0.5" fill="#60c8c8"/>
<circle cx="255.59" cy="810.4" r="0.5" fill="#60c8c8"/>
<circle cx="316.44" cy="810.4" r="0.5" fill="#60c8c8"/>
<line x1="203" y1="827.4" x2="354" y2="827.4" stroke="#c8c8c8" stroke-width="0.7"/>
<path d="M203,827.4 L203,827.4 L203.5,827.39 L204,827.39 L204.5,827.39 L205,827.38 L205.5,827.39 L206,827.37 L206.5,827.38 L207,827.4 L207.5,827.39 L208,827.38 L208.5,827.4 L209,827.4 L209.5,827.39 L210,827.39 L210.5,827.36 L211,827.38 L211.5,827.37 L212,827.4 L212.5,827.39 L213,827.39 L213.5,827.37 L214,827.4 L214.5,827.36 L215,827.39 L215.5,827.39 L216,827.38 L216.5,827.38 L217,827.39 L217.5,827.4 L218,827.39 L218.5,827.4 L219,827.36 L219.5,827.38 L220,827.38 L220.5,827.39 L221,827.38 L221.5,827.38 L222,827.36 L222.5,827.35 L223,827.32 L223.5,827.27 L224,827.11 L224.5,826.81 L225,826.14 L225.5,824.68 L226,821.56 L226.5,814.79 L227,821.53 L227.5,824.69 L228,826.14 L228.5,826.79 L229,827.11 L229.5,827.27 L230,827.33 L230.5,827.37 L231,827.38 L231.5,827.39 L232,827.39 L232.5,827.39 L233,827.38 L233.5,827.37 L234,827.39 L234.5,827.38 L235,827.39 L235.5,827.39 L236,827.39 L236.5,827.39 L237,827.4 L237.5,827.37 L238,827.4 L238.5,827.38 L239,827.39 L239.5,827.38 L240,827.37 L240.5,827.39 L241,827.36 L241.5,827.37 L242,827.4 L242.5,827.35 L243,827.38 L243.5,827.4 L244,827.37 L244.5,827.39 L245,827.36 L245.5,827.37 L246,827.37 L246.5,827.37 L247,827.4 L247.5,827.39 L248,827.39 L248.5,827.4 L249,827.36 L249.5,827.37 L250,827.4 L250.5,827.4 L251,827.39 L251.5,827.4 L252,827.4 L252.5,827.38 L253,827.4 L253.5,827.39 L254,827.38 L254.5,827.4 L255,827.4 L255.5,827.39 L256,827.39 L256.5,827.4 L257,827.39 L257.5,827.39 L258,827.38 L258.5,827.39 L259,827.4 L259.5,827.33 L260,827.38 L260.5,827.38 L261,827.4 L261.5,827.38 L262,827.38 L262.5,827.4 L263,827.4 L263.5,827.38 L264,827.38 L264.5,827.4 L265,827.4 L265.5,827.36 L266,827.39 L266.5,827.38 L267,827.38 L267.5,827.4 L268,827.4 L268.5,827.39 L269,827.4 L269.5,827.36 L270,827.4 L270.5,827.39 L271,827.38 L271.5,827.39 L272,827.38 L272.5,827.4 L273,827.38 L273.5,827.38 L274,827.39 L274.5,827.37 L275,827.39 L275.5,827.4 L276,827.39 L276.5,827.36 L277,827.36 L277.5,827.37 L278,827.38 L278.5,827.37 L279,827.39 L279.5,827.37 L280,827.39 L280.5,827.38 L281,827.38 L281.5,827.37 L282,827.39 L282.5,827.36 L283,827.39 L283.5,827.4 L284,827.35 L284.5,827.39 L285,827.4 L285.5,827.39 L286,827.39 L286.5,827.39 L287,827.37 L287.5,827.39 L288,827.39 L288.5,827.4 L289,827.38 L289.5,827.38 L290,827.4 L290.5,827.35 L291,827.4 L291.5,827.4 L292,827.4 L292.5,827.4 L293,827.39 L293.5,827.39 L294,827.39 L294.5,827.37 L295,827.38 L295.5,827.38 L296,827.39 L296.5,827.39 L297,827.39 L297.5,827.38 L298,827.37 L298.5,827.38 L299,827.38 L299.5,827.4 L300,827.39 L300.5,827.4 L301,827.38 L301.5,827.39 L302,827.38 L302.5,827.38 L303,827.39 L303.5,827.39 L304,827.4 L304.5,827.38 L305,827.36 L305.5,827.4 L306,827.4 L306.5,827.39 L307,827.38 L307.5,827.39 L308,827.4 L308.5,827.38 L309,827.4 L309.5,827.38 L310,827.39 L310.5,827.4 L311,827.38 L311.5,827.38 L312,827.38 L312.5,827.38 L313,827.36 L313.5,827.38 L314,827.4 L314.5,827.39 L315,827.39 L315.5,827.39 L316,827.39 L316.5,827.36 L317,827.37 L317.5,827.38 L318,827.38 L318.5,827.36 L319,827.39 L319.5,827.39 L320,827.38 L320.5,827.4 L321,827.36 L321.5,827.39 L322,827.4 L322.5,827.4 L323,827.39 L323.5,827.38 L324,827.37 L324.5,827.4 L325,827.39 L325.5,827.4 L326,827.4 L326.5,827.36 L327,827.38 L327.5,827.37 L328,827.37 L328.5,827.4 L329,827.39 L329.5,827.38 L330,827.38 L330.5,827.36 L331,827.36 L331.5,827.39 L332,827.39 L332.5,827.36 L333,827.39 L333.5,827.37 L334,827.39 L334.5,827.4 L335,827.4 L335.5,827.38 L336,827.39 L336.5,827.39 L337,827.39 L337.5,827.39 L338,827.4 L338.5,827.39 L339,827.38 L339.5,827.39 L340,827.38 L340.5,827.39 L341,827.39 L341.5,827.39 L342,827.36 L342.5,827.37 L343,827.39 L343.5,827.37 L344,827.39 L344.5,827.39 L345,827.4 L345.5,827.4 L346,827.36 L346.5,827.39 L347,827.39 L347.5,827.37 L348,827.39 L348.5,827.4 L349,827.38 L349.5,827.39 L350,827.36 L350.5,827.38 L351,827.4 L351.5,827.35 L352,827.38 L352.5,827.38 L353,827.39 L353.5,827.37 L354,827.37 L354,827.4 Z" fill="#d010d0"/>
<circle cx="310.31" cy="827.1" r="0.5" fill="#e070e0"/>
<circle cx="339.07" cy="827.1" r="0.5" fill="#e070e0"/>
<circle cx="205.53" cy="827.1" r="0.5" fill="#e070e0"/>
<circle cx="345.25" cy="827.1" r="0.5" fill="#e070e0"/>
<circle cx="326.97" cy="827.1" r="0.5" fill="#e070e0"/>
<circle cx="211.56" cy="827.1" r="0.5" fill="#e070e0"/>
<circle cx="324.76" cy="827.1" r="0.5" fill="#e070e0"/>
<circle cx="324.48" cy="827.1" r="0.5" fill="#e070e0"/>
<circle cx="231.34" cy="827.1" r="0.5" fill="#e070e0"/>
<circle cx="349.67" cy="827.1" r="0.5" fill="#e070e0"/>
<text x="201.1" y="837.6" font-size="8.1" fill="#111">PDK1</text>
<line x1="225.9" y1="834.7" x2="345.3" y2="834.7" stroke="#3a3ac0" stroke-width="0.6"/>
<path d="M228.9,833.6 L229.9,834.7 L228.9,835.8" fill="none" stroke="#3a3ac0" stroke-width="0.45"/>
<path d="M232.1,833.6 L233.1,834.7 L232.1,835.8" fill="none" stroke="#3a3ac0" stroke-width="0.45"/>
<path d="M235.3,833.6 L236.3,834.7 L235.3,835.8" fill="none" stroke="#3a3ac0" stroke-width="0.45"/>
<path d="M238.5,833.6 L239.5,834.7 L238.5,835.8" fill="none" stroke="#3a3ac0" stroke-width="0.45"/>
<path d="M241.7,833.6 L242.7,834.7 L241.7,835.8" fill="none" stroke="#3a3ac0" stroke-width="0.45"/>
<path d="M244.9,833.6 L245.9,834.7 L244.9,835.8" fill="none" stroke="#3a3ac0" stroke-width="0.45"/>
<path d="M248.1,833.6 L249.1,834.7 L248.1,835.8" fill="none" stroke="#3a3ac0" stroke-width="0.45"/>
<path d="M251.3,833.6 L252.3,834.7 L251.3,835.8" fill="none" stroke="#3a3ac0" stroke-width="0.45"/>
<path d="M254.5,833.6 L255.5,834.7 L254.5,835.8" fill="none" stroke="#3a3ac0" stroke-width="0.45"/>
<path d="M257.7,833.6 L258.7,834.7 L257.7,835.8" fill="none" stroke="#3a3ac0" stroke-width="0.45"/>
<path d="M260.9,833.6 L261.9,834.7 L260.9,835.8" fill="none" stroke="#3a3ac0" stroke-width="0.45"/>
<path d="M264.1,833.6 L265.1,834.7 L264.1,835.8" fill="none" stroke="#3a3ac0" stroke-width="0.45"/>
<path d="M267.3,833.6 L268.3,834.7 L267.3,835.8" fill="none" stroke="#3a3ac0" stroke-width="0.45"/>
<path d="M270.5,833.6 L271.5,834.7 L270.5,835.8" fill="none" stroke="#3a3ac0" stroke-width="0.45"/>
<path d="M273.7,833.6 L274.7,834.7 L273.7,835.8" fill="none" stroke="#3a3ac0" stroke-width="0.45"/>
<path d="M276.9,833.6 L277.9,834.7 L276.9,835.8" fill="none" stroke="#3a3ac0" stroke-width="0.45"/>
<path d="M280.1,833.6 L281.1,834.7 L280.1,835.8" fill="none" stroke="#3a3ac0" stroke-width="0.45"/>
<path d="M283.3,833.6 L284.3,834.7 L283.3,835.8" fill="none" stroke="#3a3ac0" stroke-width="0.45"/>
<path d="M286.5,833.6 L287.5,834.7 L286.5,835.8" fill="none" stroke="#3a3ac0" stroke-width="0.45"/>
<path d="M289.7,833.6 L290.7,834.7 L289.7,835.8" fill="none" stroke="#3a3ac0" stroke-width="0.45"/>
<path d="M292.9,833.6 L293.9,834.7 L292.9,835.8" fill="none" stroke="#3a3ac0" stroke-width="0.45"/>
<path d="M296.1,833.6 L297.1,834.7 L296.1,835.8" fill="none" stroke="#3a3ac0" stroke-width="0.45"/>
<path d="M299.3,833.6 L300.3,834.7 L299.3,835.8" fill="none" stroke="#3a3ac0" stroke-width="0.45"/>
<path d="M302.5,833.6 L303.5,834.7 L302.5,835.8" fill="none" stroke="#3a3ac0" stroke-width="0.45"/>
<path d="M305.7,833.6 L306.7,834.7 L305.7,835.8" fill="none" stroke="#3a3ac0" stroke-width="0.45"/>
<path d="M308.9,833.6 L309.9,834.7 L308.9,835.8" fill="none" stroke="#3a3ac0" stroke-width="0.45"/>
<path d="M312.1,833.6 L313.1,834.7 L312.1,835.8" fill="none" stroke="#3a3ac0" stroke-width="0.45"/>
<path d="M315.3,833.6 L316.3,834.7 L315.3,835.8" fill="none" stroke="#3a3ac0" stroke-width="0.45"/>
<path d="M318.5,833.6 L319.5,834.7 L318.5,835.8" fill="none" stroke="#3a3ac0" stroke-width="0.45"/>
<path d="M321.7,833.6 L322.7,834.7 L321.7,835.8" fill="none" stroke="#3a3ac0" stroke-width="0.45"/>
<path d="M324.9,833.6 L325.9,834.7 L324.9,835.8" fill="none" stroke="#3a3ac0" stroke-width="0.45"/>
<path d="M328.1,833.6 L329.1,834.7 L328.1,835.8" fill="none" stroke="#3a3ac0" stroke-width="0.45"/>
<path d="M331.3,833.6 L332.3,834.7 L331.3,835.8" fill="none" stroke="#3a3ac0" stroke-width="0.45"/>
<path d="M334.5,833.6 L335.5,834.7 L334.5,835.8" fill="none" stroke="#3a3ac0" stroke-width="0.45"/>
<path d="M337.7,833.6 L338.7,834.7 L337.7,835.8" fill="none" stroke="#3a3ac0" stroke-width="0.45"/>
<path d="M340.9,833.6 L341.9,834.7 L340.9,835.8" fill="none" stroke="#3a3ac0" stroke-width="0.45"/>
<rect x="230.45" y="832.5" width="0.9" height="4.4" fill="#3a3ac0"/>
<rect x="234.85" y="832.5" width="0.9" height="4.4" fill="#3a3ac0"/>
<rect x="239.15" y="832.5" width="0.9" height="4.4" fill="#3a3ac0"/>
<rect x="243.55" y="832.5" width="0.9" height="4.4" fill="#3a3ac0"/>
<rect x="247.95" y="832.5" width="0.9" height="4.4" fill="#3a3ac0"/>
<rect x="253.15" y="832.5" width="0.9" height="4.4" fill="#3a3ac0"/>
<rect x="257.25" y="832.5" width="0.9" height="4.4" fill="#3a3ac0"/>
<rect x="261.65" y="832.5" width="0.9" height="4.4" fill="#3a3ac0"/>
<rect x="266.05" y="832.5" width="0.9" height="4.4" fill="#3a3ac0"/>
<rect x="309.85" y="832.5" width="0.9" height="4.4" fill="#3a3ac0"/>
<rect x="328.25" y="832.5" width="0.9" height="4.4" fill="#3a3ac0"/>
<rect x="225.6" y="832.7" width="1.7" height="4" fill="#3a3ac0"/>
<rect x="249.8" y="832.7" width="1.8" height="4" fill="#3a3ac0"/>
<rect x="336.9" y="832.9" width="8.4" height="3.6" fill="#3a3ac0"/>
<text x="365.1" y="771.8" font-size="6" textLength="14.6" lengthAdjust="spacingAndGlyphs" fill="#222">[0 - 100]</text>
<text x="365.1" y="788.2" font-size="6" textLength="14.6" lengthAdjust="spacingAndGlyphs" fill="#222">[0 - 100]</text>
<text x="365.1" y="803.4" font-size="6" textLength="14.6" lengthAdjust="spacingAndGlyphs" fill="#222">[0 - 100]</text>
<text x="365.1" y="818.3" font-size="6" textLength="14.6" lengthAdjust="spacingAndGlyphs" fill="#222">[0 - 100]</text>
<line x1="365" y1="779.4" x2="502.4" y2="779.4" stroke="#e08a8a" stroke-width="0.7" stroke-dasharray="1.2 1.3"/>
<line x1="365" y1="795" x2="502.4" y2="795" stroke="#7a84d8" stroke-width="1.3"/>
<path d="M365,795 L365,794.96 L365.5,794.97 L366,794.98 L366.5,794.93 L367.01,795 L367.51,794.93 L368.01,794.97 L368.51,794.99 L369.01,794.96 L369.51,794.98 L370.01,794.99 L370.52,794.99 L371.02,794.98 L371.52,795 L372.02,794.96 L372.52,794.99 L373.02,794.98 L373.52,795 L374.03,794.99 L374.53,794.93 L375.03,795 L375.53,794.98 L376.03,795 L376.53,794.98 L377.04,794.99 L377.54,794.99 L378.04,794.94 L378.54,795 L379.04,794.99 L379.54,794.96 L380.04,794.9 L380.55,794.91 L381.05,794.8 L381.55,794.51 L382.05,794.14 L382.55,794.51 L383.05,794.51 L383.55,794.2 L384.06,793.57 L384.56,792.1 L385.06,789.21 L385.56,783.18 L386.06,788.52 L386.56,791.83 L387.06,793.45 L387.57,794.24 L388.07,794.62 L388.57,794.78 L389.07,794.87 L389.57,794.96 L390.07,794.97 L390.57,794.97 L391.08,794.98 L391.58,794.97 L392.08,794.98 L392.58,794.97 L393.08,795 L393.58,794.99 L394.08,794.99 L394.59,795 L395.09,795 L395.59,794.94 L396.09,794.95 L396.59,794.99 L397.09,794.97 L397.59,794.97 L398.1,794.99 L398.6,795 L399.1,794.97 L399.6,794.93 L400.1,794.98 L400.6,794.95 L401.11,794.94 L401.61,794.97 L402.11,794.98 L402.61,794.98 L403.11,794.95 L403.61,794.99 L404.11,794.96 L404.62,794.97 L405.12,794.98 L405.62,794.94 L406.12,794.91 L406.62,794.94 L407.12,794.89 L407.62,794.78 L408.13,794.47 L408.63,794.23 L409.13,794.65 L409.63,794.81 L410.13,794.92 L410.63,794.97 L411.13,794.98 L411.64,794.98 L412.14,794.98 L412.64,794.99 L413.14,794.96 L413.64,794.91 L414.14,794.99 L414.64,794.99 L415.15,794.96 L415.65,795 L416.15,794.98 L416.65,794.99 L417.15,794.95 L417.65,794.97 L418.15,794.97 L418.66,794.99 L419.16,794.94 L419.66,794.98 L420.16,794.97 L420.66,794.99 L421.16,794.99 L421.66,794.99 L422.17,794.99 L422.67,794.93 L423.17,794.96 L423.67,794.96 L424.17,794.97 L424.67,794.98 L425.18,794.97 L425.68,794.95 L426.18,794.99 L426.68,794.97 L427.18,794.94 L427.68,795 L428.18,794.97 L428.69,795 L429.19,794.95 L429.69,795 L430.19,794.98 L430.69,795 L431.19,794.99 L431.69,794.99 L432.2,794.94 L432.7,794.94 L433.2,794.96 L433.7,794.99 L434.2,794.97 L434.7,795 L435.2,794.98 L435.71,794.99 L436.21,794.99 L436.71,794.94 L437.21,794.97 L437.71,794.96 L438.21,794.99 L438.71,794.95 L439.22,794.97 L439.72,794.96 L440.22,794.97 L440.72,794.96 L441.22,794.99 L441.72,794.97 L442.22,794.99 L442.73,794.95 L443.23,794.97 L443.73,794.92 L444.23,794.95 L444.73,794.92 L445.23,794.87 L445.74,794.8 L446.24,794.59 L446.74,794.13 L447.24,794.08 L447.74,794.55 L448.24,794.72 L448.74,794.78 L449.25,794.76 L449.75,794.6 L450.25,794.29 L450.75,794.24 L451.25,794.62 L451.75,794.78 L452.25,794.89 L452.76,794.93 L453.26,794.91 L453.76,794.98 L454.26,794.96 L454.76,794.99 L455.26,794.97 L455.76,794.95 L456.27,794.97 L456.77,794.99 L457.27,794.98 L457.77,794.96 L458.27,795 L458.77,794.98 L459.27,794.99 L459.78,794.96 L460.28,794.98 L460.78,794.97 L461.28,794.96 L461.78,794.96 L462.28,794.97 L462.78,794.96 L463.29,794.98 L463.79,795 L464.29,794.96 L464.79,794.98 L465.29,794.99 L465.79,794.96 L466.29,794.99 L466.8,794.99 L467.3,794.98 L467.8,795 L468.3,794.98 L468.8,794.99 L469.3,794.99 L469.81,794.98 L470.31,795 L470.81,794.99 L471.31,794.97 L471.81,794.99 L472.31,794.97 L472.81,794.97 L473.32,795 L473.82,794.94 L474.32,794.97 L474.82,795 L475.32,794.99 L475.82,794.97 L476.32,794.96 L476.83,794.96 L477.33,794.99 L477.83,794.99 L478.33,794.99 L478.83,794.99 L479.33,794.97 L479.83,794.99 L480.34,794.93 L480.84,794.96 L481.34,794.99 L481.84,794.97 L482.34,794.98 L482.84,794.96 L483.34,794.99 L483.85,794.99 L484.35,794.97 L484.85,794.98 L485.35,794.92 L485.85,794.98 L486.35,794.98 L486.85,794.98 L487.36,795 L487.86,795 L488.36,794.97 L488.86,794.98 L489.36,794.99 L489.86,794.99 L490.36,794.96 L490.87,794.95 L491.37,794.98 L491.87,794.98 L492.37,795 L492.87,794.98 L493.37,794.97 L493.88,794.99 L494.38,794.94 L494.88,794.98 L495.38,794.98 L495.88,794.99 L496.38,794.97 L496.88,795 L497.39,794.98 L497.89,794.99 L498.39,794.97 L498.89,795 L499.39,794.99 L499.89,794.97 L500.39,794.97 L500.9,794.97 L501.4,794.98 L501.9,794.99 L502.4,794.99 L502.4,795 Z" fill="#0a0a8a"/>
<line x1="365" y1="809.7" x2="502.4" y2="809.7" stroke="#a8dcd6" stroke-width="0.9"/>
<line x1="365" y1="827.6" x2="502.4" y2="827.6" stroke="#dca0dc" stroke-width="0.9"/>
<path d="M365,827.6 L365,827.59 L365.5,827.56 L366,827.58 L366.5,827.6 L367.01,827.57 L367.51,827.6 L368.01,827.57 L368.51,827.59 L369.01,827.58 L369.51,827.58 L370.01,827.59 L370.52,827.56 L371.02,827.6 L371.52,827.58 L372.02,827.57 L372.52,827.59 L373.02,827.59 L373.52,827.58 L374.03,827.59 L374.53,827.59 L375.03,827.59 L375.53,827.57 L376.03,827.59 L376.53,827.58 L377.04,827.57 L377.54,827.58 L378.04,827.59 L378.54,827.58 L379.04,827.59 L379.54,827.58 L380.04,827.57 L380.55,827.56 L381.05,827.51 L381.55,827.46 L382.05,827.31 L382.55,827 L383.05,826.41 L383.55,825.19 L384.06,822.71 L384.56,817.62 L385.06,822.07 L385.56,824.89 L386.06,826.27 L386.56,826.91 L387.06,827.27 L387.57,827.44 L388.07,827.51 L388.57,827.55 L389.07,827.57 L389.57,827.59 L390.07,827.58 L390.57,827.58 L391.08,827.58 L391.58,827.58 L392.08,827.59 L392.58,827.59 L393.08,827.59 L393.58,827.6 L394.08,827.59 L394.59,827.56 L395.09,827.6 L395.59,827.6 L396.09,827.6 L396.59,827.6 L397.09,827.58 L397.59,827.56 L398.1,827.59 L398.6,827.59 L399.1,827.59 L399.6,827.59 L400.1,827.54 L400.6,827.54 L401.11,827.58 L401.61,827.59 L402.11,827.6 L402.61,827.58 L403.11,827.59 L403.61,827.6 L404.11,827.56 L404.62,827.59 L405.12,827.58 L405.62,827.56 L406.12,827.56 L406.62,827.59 L407.12,827.59 L407.62,827.58 L408.13,827.57 L408.63,827.59 L409.13,827.59 L409.63,827.6 L410.13,827.6 L410.63,827.58 L411.13,827.57 L411.64,827.6 L412.14,827.6 L412.64,827.6 L413.14,827.58 L413.64,827.58 L414.14,827.59 L414.64,827.59 L415.15,827.56 L415.65,827.59 L416.15,827.6 L416.65,827.58 L417.15,827.58 L417.65,827.58 L418.15,827.6 L418.66,827.58 L419.16,827.59 L419.66,827.6 L420.16,827.59 L420.66,827.59 L421.16,827.59 L421.66,827.58 L422.17,827.57 L422.67,827.56 L423.17,827.58 L423.67,827.59 L424.17,827.59 L424.67,827.59 L425.18,827.58 L425.68,827.59 L426.18,827.59 L426.68,827.55 L427.18,827.6 L427.68,827.6 L428.18,827.59 L428.69,827.6 L429.19,827.57 L429.69,827.59 L430.19,827.58 L430.69,827.58 L431.19,827.57 L431.69,827.56 L432.2,827.6 L432.7,827.59 L433.2,827.58 L433.7,827.55 L434.2,827.58 L434.7,827.59 L435.2,827.59 L435.71,827.56 L436.21,827.58 L436.71,827.6 L437.21,827.58 L437.71,827.59 L438.21,827.58 L438.71,827.58 L439.22,827.59 L439.72,827.59 L440.22,827.59 L440.72,827.59 L441.22,827.58 L441.72,827.58 L442.22,827.56 L442.73,827.59 L443.23,827.58 L443.73,827.58 L444.23,827.57 L444.73,827.57 L445.23,827.57 L445.74,827.58 L446.24,827.56 L446.74,827.56 L447.24,827.55 L447.74,827.5 L448.24,827.39 L448.74,827.11 L449.25,826.52 L449.75,826.5 L450.25,827.12 L450.75,827.39 L451.25,827.51 L451.75,827.54 L452.25,827.58 L452.76,827.56 L453.26,827.56 L453.76,827.58 L454.26,827.58 L454.76,827.6 L455.26,827.59 L455.76,827.6 L456.27,827.59 L456.77,827.59 L457.27,827.58 L457.77,827.6 L458.27,827.6 L458.77,827.6 L459.27,827.57 L459.78,827.58 L460.28,827.58 L460.78,827.58 L461.28,827.59 L461.78,827.6 L462.28,827.6 L462.78,827.6 L463.29,827.57 L463.79,827.6 L464.29,827.57 L464.79,827.59 L465.29,827.6 L465.79,827.59 L466.29,827.6 L466.8,827.59 L467.3,827.58 L467.8,827.59 L468.3,827.59 L468.8,827.6 L469.3,827.58 L469.81,827.59 L470.31,827.58 L470.81,827.6 L471.31,827.59 L471.81,827.59 L472.31,827.58 L472.81,827.58 L473.32,827.59 L473.82,827.59 L474.32,827.6 L474.82,827.57 L475.32,827.58 L475.82,827.59 L476.32,827.59 L476.83,827.59 L477.33,827.6 L477.83,827.57 L478.33,827.59 L478.83,827.57 L479.33,827.59 L479.83,827.58 L480.34,827.58 L480.84,827.59 L481.34,827.54 L481.84,827.56 L482.34,827.57 L482.84,827.59 L483.34,827.59 L483.85,827.57 L484.35,827.59 L484.85,827.58 L485.35,827.57 L485.85,827.55 L486.35,827.59 L486.85,827.58 L487.36,827.59 L487.86,827.6 L488.36,827.57 L488.86,827.59 L489.36,827.58 L489.86,827.58 L490.36,827.58 L490.87,827.59 L491.37,827.58 L491.87,827.59 L492.37,827.6 L492.87,827.59 L493.37,827.56 L493.88,827.58 L494.38,827.59 L494.88,827.58 L495.38,827.59 L495.88,827.56 L496.38,827.59 L496.88,827.57 L497.39,827.59 L497.89,827.59 L498.39,827.59 L498.89,827.6 L499.39,827.57 L499.89,827.58 L500.39,827.59 L500.9,827.57 L501.4,827.59 L501.9,827.59 L502.4,827.59 L502.4,827.6 Z" fill="#d010d0"/>
<text x="361" y="837.7" font-size="8.1" fill="#111">HKII</text>
<line x1="382.7" y1="834.8" x2="498.3" y2="834.8" stroke="#3a3ac0" stroke-width="0.6"/>
<path d="M385.7,833.7 L386.7,834.8 L385.7,835.9" fill="none" stroke="#3a3ac0" stroke-width="0.45"/>
<path d="M388.9,833.7 L389.9,834.8 L388.9,835.9" fill="none" stroke="#3a3ac0" stroke-width="0.45"/>
<path d="M392.1,833.7 L393.1,834.8 L392.1,835.9" fill="none" stroke="#3a3ac0" stroke-width="0.45"/>
<path d="M395.3,833.7 L396.3,834.8 L395.3,835.9" fill="none" stroke="#3a3ac0" stroke-width="0.45"/>
<path d="M398.5,833.7 L399.5,834.8 L398.5,835.9" fill="none" stroke="#3a3ac0" stroke-width="0.45"/>
<path d="M401.7,833.7 L402.7,834.8 L401.7,835.9" fill="none" stroke="#3a3ac0" stroke-width="0.45"/>
<path d="M404.9,833.7 L405.9,834.8 L404.9,835.9" fill="none" stroke="#3a3ac0" stroke-width="0.45"/>
<path d="M408.1,833.7 L409.1,834.8 L408.1,835.9" fill="none" stroke="#3a3ac0" stroke-width="0.45"/>
<path d="M411.3,833.7 L412.3,834.8 L411.3,835.9" fill="none" stroke="#3a3ac0" stroke-width="0.45"/>
<path d="M414.5,833.7 L415.5,834.8 L414.5,835.9" fill="none" stroke="#3a3ac0" stroke-width="0.45"/>
<path d="M417.7,833.7 L418.7,834.8 L417.7,835.9" fill="none" stroke="#3a3ac0" stroke-width="0.45"/>
<path d="M420.9,833.7 L421.9,834.8 L420.9,835.9" fill="none" stroke="#3a3ac0" stroke-width="0.45"/>
<path d="M424.1,833.7 L425.1,834.8 L424.1,835.9" fill="none" stroke="#3a3ac0" stroke-width="0.45"/>
<path d="M427.3,833.7 L428.3,834.8 L427.3,835.9" fill="none" stroke="#3a3ac0" stroke-width="0.45"/>
<path d="M430.5,833.7 L431.5,834.8 L430.5,835.9" fill="none" stroke="#3a3ac0" stroke-width="0.45"/>
<path d="M433.7,833.7 L434.7,834.8 L433.7,835.9" fill="none" stroke="#3a3ac0" stroke-width="0.45"/>
<path d="M436.9,833.7 L437.9,834.8 L436.9,835.9" fill="none" stroke="#3a3ac0" stroke-width="0.45"/>
<path d="M440.1,833.7 L441.1,834.8 L440.1,835.9" fill="none" stroke="#3a3ac0" stroke-width="0.45"/>
<path d="M443.3,833.7 L444.3,834.8 L443.3,835.9" fill="none" stroke="#3a3ac0" stroke-width="0.45"/>
<path d="M446.5,833.7 L447.5,834.8 L446.5,835.9" fill="none" stroke="#3a3ac0" stroke-width="0.45"/>
<path d="M449.7,833.7 L450.7,834.8 L449.7,835.9" fill="none" stroke="#3a3ac0" stroke-width="0.45"/>
<path d="M452.9,833.7 L453.9,834.8 L452.9,835.9" fill="none" stroke="#3a3ac0" stroke-width="0.45"/>
<path d="M456.1,833.7 L457.1,834.8 L456.1,835.9" fill="none" stroke="#3a3ac0" stroke-width="0.45"/>
<path d="M459.3,833.7 L460.3,834.8 L459.3,835.9" fill="none" stroke="#3a3ac0" stroke-width="0.45"/>
<path d="M462.5,833.7 L463.5,834.8 L462.5,835.9" fill="none" stroke="#3a3ac0" stroke-width="0.45"/>
<path d="M465.7,833.7 L466.7,834.8 L465.7,835.9" fill="none" stroke="#3a3ac0" stroke-width="0.45"/>
<path d="M468.9,833.7 L469.9,834.8 L468.9,835.9" fill="none" stroke="#3a3ac0" stroke-width="0.45"/>
<path d="M472.1,833.7 L473.1,834.8 L472.1,835.9" fill="none" stroke="#3a3ac0" stroke-width="0.45"/>
<path d="M475.3,833.7 L476.3,834.8 L475.3,835.9" fill="none" stroke="#3a3ac0" stroke-width="0.45"/>
<path d="M478.5,833.7 L479.5,834.8 L478.5,835.9" fill="none" stroke="#3a3ac0" stroke-width="0.45"/>
<path d="M481.7,833.7 L482.7,834.8 L481.7,835.9" fill="none" stroke="#3a3ac0" stroke-width="0.45"/>
<path d="M484.9,833.7 L485.9,834.8 L484.9,835.9" fill="none" stroke="#3a3ac0" stroke-width="0.45"/>
<path d="M488.1,833.7 L489.1,834.8 L488.1,835.9" fill="none" stroke="#3a3ac0" stroke-width="0.45"/>
<path d="M491.3,833.7 L492.3,834.8 L491.3,835.9" fill="none" stroke="#3a3ac0" stroke-width="0.45"/>
<rect x="423.15" y="832.6" width="0.9" height="4.4" fill="#3a3ac0"/>
<rect x="448.45" y="832.6" width="0.9" height="4.4" fill="#3a3ac0"/>
<rect x="465.35" y="832.6" width="0.9" height="4.4" fill="#3a3ac0"/>
<rect x="467.75" y="832.6" width="0.9" height="4.4" fill="#3a3ac0"/>
<rect x="470.15" y="832.6" width="0.9" height="4.4" fill="#3a3ac0"/>
<rect x="472.55" y="832.6" width="0.9" height="4.4" fill="#3a3ac0"/>
<rect x="474.95" y="832.6" width="0.9" height="4.4" fill="#3a3ac0"/>
<rect x="482.15" y="832.6" width="0.9" height="4.4" fill="#3a3ac0"/>
<rect x="484.55" y="832.6" width="0.9" height="4.4" fill="#3a3ac0"/>
<rect x="487.05" y="832.6" width="0.9" height="4.4" fill="#3a3ac0"/>
<rect x="489.45" y="832.6" width="0.9" height="4.4" fill="#3a3ac0"/>
<rect x="382.5" y="833.1" width="3.8" height="3.4" fill="#3a3ac0"/>
<rect x="457.4" y="833" width="3.6" height="3.6" fill="#3a3ac0"/>
<rect x="493.5" y="833.1" width="4.8" height="3.4" fill="#3a3ac0"/>
<text x="515" y="771.62" font-size="7.6" fill="#111" style='font-family:"Liberation Serif", serif'>[0-30]</text>
<text x="515" y="787.72" font-size="7.6" fill="#111" style='font-family:"Liberation Serif", serif'>[0-30]</text>
<text x="515" y="803.92" font-size="7.6" fill="#111" style='font-family:"Liberation Serif", serif'>[0-30]</text>
<text x="515" y="818.42" font-size="7.6" fill="#111" style='font-family:"Liberation Serif", serif'>[0-30]</text>
<line x1="516.8" y1="779.4" x2="667.9" y2="779.4" stroke="#e06a6a" stroke-width="0.7" stroke-dasharray="1.2 1.2"/>
<path d="M516.8,794.7 L516.8,794.64 L517.15,794.57 L517.5,794.64 L517.85,794.62 L518.2,794.47 L518.55,794.65 L518.9,794.42 L519.25,794.59 L519.6,794.44 L519.96,794.63 L520.31,794.58 L520.66,794.61 L521.01,794.19 L521.36,794.29 L521.71,794.15 L522.06,793.65 L522.41,793.49 L522.76,793.9 L523.11,794.31 L523.46,794.51 L523.81,794.59 L524.16,794.67 L524.51,794.56 L524.86,794.53 L525.21,794.62 L525.56,794.59 L525.92,794.52 L526.27,794.24 L526.62,794.51 L526.97,794.29 L527.32,794.32 L527.67,794.06 L528.02,793.75 L528.37,794.09 L528.72,793.91 L529.07,793.57 L529.42,793.09 L529.77,792.91 L530.12,793.7 L530.47,793.64 L530.82,793.38 L531.17,793.85 L531.52,794.03 L531.87,793.63 L532.23,794.07 L532.58,794.09 L532.93,794.06 L533.28,794.54 L533.63,794.61 L533.98,794.4 L534.33,794.4 L534.68,794.3 L535.03,793.51 L535.38,794.11 L535.73,794.36 L536.08,794.38 L536.43,794.3 L536.78,794.59 L537.13,794.66 L537.48,794.36 L537.83,794.52 L538.19,794.5 L538.54,794.48 L538.89,794.15 L539.24,793.95 L539.59,793.72 L539.94,793.99 L540.29,794.01 L540.64,794.25 L540.99,794.6 L541.34,794.31 L541.69,794.53 L542.04,794.18 L542.39,793.98 L542.74,794.42 L543.09,794.1 L543.44,793.52 L543.79,793.74 L544.15,794.02 L544.5,794.31 L544.85,794.13 L545.2,794 L545.55,793.94 L545.9,794.21 L546.25,794.04 L546.6,794.04 L546.95,793.74 L547.3,793.46 L547.65,792.86 L548,792.87 L548.35,793.3 L548.7,794.05 L549.05,794.23 L549.4,794.1 L549.75,794.58 L550.11,794.4 L550.46,794.35 L550.81,794.28 L551.16,794.55 L551.51,794.65 L551.86,794.59 L552.21,794.48 L552.56,794.55 L552.91,794.16 L553.26,793.99 L553.61,793.5 L553.96,793.94 L554.31,794.46 L554.66,794.37 L555.01,794.41 L555.36,794.31 L555.71,794.58 L556.06,794.35 L556.42,794.66 L556.77,794.66 L557.12,794.62 L557.47,794.34 L557.82,794.42 L558.17,794.34 L558.52,794.31 L558.87,794.37 L559.22,794.3 L559.57,793.98 L559.92,793.7 L560.27,794.04 L560.62,794.35 L560.97,794.48 L561.32,794.46 L561.67,794.6 L562.02,794.6 L562.38,794.54 L562.73,794.69 L563.08,794.5 L563.43,794.56 L563.78,794.2 L564.13,794.62 L564.48,794.59 L564.83,794.61 L565.18,794.7 L565.53,794.47 L565.88,794.62 L566.23,794.6 L566.58,794.24 L566.93,794.06 L567.28,794.42 L567.63,794.64 L567.98,794.6 L568.34,794.64 L568.69,794.59 L569.04,794.54 L569.39,794.63 L569.74,794.57 L570.09,794.09 L570.44,794.61 L570.79,794.56 L571.14,794.67 L571.49,794.64 L571.84,794.68 L572.19,794.01 L572.54,794.56 L572.89,794.42 L573.24,794.37 L573.59,794.61 L573.94,794.32 L574.3,794.24 L574.65,793.88 L575,793.48 L575.35,794.16 L575.7,794.36 L576.05,794.4 L576.4,794.35 L576.75,793.99 L577.1,794.4 L577.45,794.32 L577.8,794.52 L578.15,794.32 L578.5,794.65 L578.85,794.4 L579.2,794.66 L579.55,794.65 L579.9,794.5 L580.25,794.66 L580.61,794.67 L580.96,794.3 L581.31,794.39 L581.66,794.53 L582.01,793.8 L582.36,793.95 L582.71,793.47 L583.06,793.87 L583.41,793.95 L583.76,793.4 L584.11,793.89 L584.46,794.01 L584.81,793.7 L585.16,793.75 L585.51,794.26 L585.86,794.31 L586.21,794.35 L586.57,794.24 L586.92,794.25 L587.27,794.24 L587.62,793.76 L587.97,793.55 L588.32,794.28 L588.67,794.22 L589.02,794.42 L589.37,794.26 L589.72,794.45 L590.07,794.29 L590.42,794.42 L590.77,794.58 L591.12,794.06 L591.47,794.02 L591.82,793.96 L592.17,793.43 L592.53,793.82 L592.88,793.67 L593.23,793.39 L593.58,794.02 L593.93,794.22 L594.28,794.23 L594.63,794.28 L594.98,794.61 L595.33,794.45 L595.68,794.32 L596.03,794.42 L596.38,794.12 L596.73,793.54 L597.08,793.77 L597.43,793.47 L597.78,794.1 L598.13,793.99 L598.49,794.35 L598.84,794.48 L599.19,794.32 L599.54,794.24 L599.89,793.94 L600.24,794.07 L600.59,793.39 L600.94,794.23 L601.29,794.23 L601.64,794.23 L601.99,794.25 L602.34,794.5 L602.69,794.45 L603.04,794.19 L603.39,794.36 L603.74,794.09 L604.09,794.21 L604.45,794 L604.8,793.99 L605.15,793.87 L605.5,794.26 L605.85,794.31 L606.2,794.51 L606.55,794.18 L606.9,794.65 L607.25,794.54 L607.6,794.44 L607.95,794.64 L608.3,794.38 L608.65,794.56 L609,794.43 L609.35,794.29 L609.7,794.55 L610.05,794.45 L610.4,794.5 L610.76,794.7 L611.11,794.5 L611.46,794.66 L611.81,794.4 L612.16,794.31 L612.51,794.54 L612.86,794.47 L613.21,794.55 L613.56,794.47 L613.91,794.5 L614.26,794.3 L614.61,794.65 L614.96,794.37 L615.31,794.56 L615.66,794.03 L616.01,794.49 L616.36,794.35 L616.72,793.91 L617.07,794.05 L617.42,793.9 L617.77,793.02 L618.12,792.73 L618.47,791.91 L618.82,790.37 L619.17,787.96 L619.52,788.53 L619.87,790.38 L620.22,791.45 L620.57,791.52 L620.92,791.37 L621.27,790.34 L621.62,788.15 L621.97,790.44 L622.32,791.27 L622.68,791.59 L623.03,790.92 L623.38,792.13 L623.73,793.07 L624.08,793.91 L624.43,793.71 L624.78,794.25 L625.13,794.4 L625.48,794.15 L625.83,794.62 L626.18,794.51 L626.53,794.41 L626.88,794.35 L627.23,794.43 L627.58,794.09 L627.93,793.34 L628.28,793.87 L628.64,793.91 L628.99,793.33 L629.34,793.47 L629.69,793.63 L630.04,793.7 L630.39,792.99 L630.74,791.91 L631.09,791.93 L631.44,792.51 L631.79,792.22 L632.14,791.38 L632.49,790.49 L632.84,787.67 L633.19,782.08 L633.54,787.53 L633.89,790.58 L634.24,791.97 L634.59,792.21 L634.95,792.33 L635.3,791.64 L635.65,792.15 L636,792.77 L636.35,792.98 L636.7,793.7 L637.05,794.2 L637.4,794.45 L637.75,794.56 L638.1,794.55 L638.45,794.43 L638.8,794.16 L639.15,794.43 L639.5,794.4 L639.85,794.36 L640.2,794.27 L640.55,794.44 L640.91,794.22 L641.26,794.45 L641.61,794.39 L641.96,794.43 L642.31,793.71 L642.66,793.53 L643.01,793.91 L643.36,794.2 L643.71,794.33 L644.06,794.55 L644.41,794.46 L644.76,794.43 L645.11,794.25 L645.46,794.14 L645.81,793.72 L646.16,792.89 L646.51,791.79 L646.87,789.3 L647.22,791.29 L647.57,792.89 L647.92,793.66 L648.27,794.1 L648.62,794.39 L648.97,794.48 L649.32,794.57 L649.67,794.33 L650.02,794.56 L650.37,794.42 L650.72,794.58 L651.07,794.65 L651.42,794.59 L651.77,794.46 L652.12,794.23 L652.47,794.68 L652.83,794.47 L653.18,794.51 L653.53,794.43 L653.88,794.04 L654.23,794.44 L654.58,794.3 L654.93,794.59 L655.28,794.34 L655.63,794.46 L655.98,794.47 L656.33,794.35 L656.68,794.22 L657.03,794.1 L657.38,794.36 L657.73,794.5 L658.08,794.19 L658.43,794.03 L658.78,794.34 L659.14,794.39 L659.49,794.4 L659.84,794.65 L660.19,794.51 L660.54,794.62 L660.89,794.43 L661.24,794.54 L661.59,794.45 L661.94,794.6 L662.29,793.96 L662.64,794.17 L662.99,794.16 L663.34,793.63 L663.69,793.56 L664.04,794.39 L664.39,794.38 L664.74,794.41 L665.1,794.68 L665.45,794.4 L665.8,794.65 L666.15,794.61 L666.5,794.42 L666.85,794.5 L667.2,794.69 L667.55,794.49 L667.9,794.56 L667.9,794.7 Z" fill="#1c1c9c" stroke="#1c1c9c" stroke-width="0.3"/>
<path d="M516.8,809.1 L516.8,808.99 L517.15,808.33 L517.5,808.76 L517.85,808.74 L518.2,808.85 L518.55,808.87 L518.9,808.64 L519.25,808.63 L519.6,808.66 L519.96,808.71 L520.31,808.65 L520.66,808.83 L521.01,808.57 L521.36,807.87 L521.71,807.38 L522.06,808.26 L522.41,808.53 L522.76,808.92 L523.11,808.49 L523.46,808.71 L523.81,808.97 L524.16,808.98 L524.51,809.03 L524.86,808.13 L525.21,808.62 L525.56,808.74 L525.92,808.35 L526.27,807.86 L526.62,808.39 L526.97,808.48 L527.32,808.54 L527.67,808.98 L528.02,808.6 L528.37,808.52 L528.72,808.78 L529.07,808.89 L529.42,808.69 L529.77,808.89 L530.12,808.68 L530.47,808.07 L530.82,808.19 L531.17,808.65 L531.52,808.82 L531.87,808.89 L532.23,808.7 L532.58,808.61 L532.93,808.75 L533.28,808.7 L533.63,808.7 L533.98,808.77 L534.33,808.75 L534.68,808.11 L535.03,808.28 L535.38,807.44 L535.73,808.2 L536.08,808.55 L536.43,808.57 L536.78,808.95 L537.13,808.47 L537.48,808.78 L537.83,808.58 L538.19,808.97 L538.54,808.84 L538.89,808.4 L539.24,808.58 L539.59,808.96 L539.94,809.01 L540.29,808.75 L540.64,808.66 L540.99,808.64 L541.34,808.83 L541.69,808.71 L542.04,808.36 L542.39,807.7 L542.74,807.83 L543.09,808.02 L543.44,808.77 L543.79,808.52 L544.15,809.03 L544.5,809 L544.85,808.98 L545.2,808.63 L545.55,808.53 L545.9,807.91 L546.25,808.44 L546.6,808.51 L546.95,808.67 L547.3,808.94 L547.65,808.86 L548,808.96 L548.35,808.99 L548.7,809.03 L549.05,808.81 L549.4,808.87 L549.75,808.75 L550.11,808.68 L550.46,808.62 L550.81,809.06 L551.16,808.95 L551.51,808.98 L551.86,808.71 L552.21,808.6 L552.56,807.85 L552.91,808.4 L553.26,808.87 L553.61,808.68 L553.96,808.93 L554.31,808.85 L554.66,808.49 L555.01,807.83 L555.36,808.07 L555.71,808.48 L556.06,808.09 L556.42,808.2 L556.77,807.49 L557.12,808.49 L557.47,808.43 L557.82,808.13 L558.17,808.64 L558.52,808.44 L558.87,807.6 L559.22,807.88 L559.57,807.74 L559.92,807.22 L560.27,807.49 L560.62,808.08 L560.97,808.51 L561.32,808.74 L561.67,808.34 L562.02,808.45 L562.38,808.67 L562.73,808.58 L563.08,808.74 L563.43,808.78 L563.78,808.86 L564.13,808.54 L564.48,808.31 L564.83,807.85 L565.18,807.67 L565.53,807.36 L565.88,807.26 L566.23,808.2 L566.58,808.48 L566.93,808.66 L567.28,808.35 L567.63,808.62 L567.98,809.06 L568.34,808.73 L568.69,809.03 L569.04,808.88 L569.39,809.01 L569.74,808.64 L570.09,808.87 L570.44,808.2 L570.79,807.67 L571.14,807.94 L571.49,808.16 L571.84,808.58 L572.19,808.2 L572.54,808.62 L572.89,808.92 L573.24,808.59 L573.59,807.75 L573.94,807.64 L574.3,807.25 L574.65,807.44 L575,807.75 L575.35,807.98 L575.7,807.52 L576.05,807.97 L576.4,808.77 L576.75,808.73 L577.1,808.93 L577.45,808.91 L577.8,808.57 L578.15,808.54 L578.5,808.95 L578.85,808.89 L579.2,809 L579.55,808.7 L579.9,808.85 L580.25,808.72 L580.61,808.65 L580.96,808.91 L581.31,808.92 L581.66,808.73 L582.01,808.89 L582.36,808.86 L582.71,808.73 L583.06,809.08 L583.41,808.98 L583.76,808.9 L584.11,808.66 L584.46,808.9 L584.81,809.06 L585.16,808.79 L585.51,808.68 L585.86,808.72 L586.21,809.06 L586.57,808.85 L586.92,808.97 L587.27,808.74 L587.62,808.94 L587.97,808.37 L588.32,808.62 L588.67,808.45 L589.02,807.53 L589.37,807.46 L589.72,807.61 L590.07,806.82 L590.42,806.83 L590.77,807.59 L591.12,808.22 L591.47,808.25 L591.82,808.72 L592.17,808.44 L592.53,808.7 L592.88,808.79 L593.23,808.91 L593.58,808.16 L593.93,808.63 L594.28,808.85 L594.63,808.83 L594.98,808.79 L595.33,809.05 L595.68,808.98 L596.03,808.51 L596.38,808.96 L596.73,808.53 L597.08,808.72 L597.43,808.76 L597.78,808.87 L598.13,808.81 L598.49,808.77 L598.84,809.06 L599.19,809.02 L599.54,808.58 L599.89,808.81 L600.24,808.94 L600.59,808.86 L600.94,808.84 L601.29,808.61 L601.64,809.02 L601.99,808.67 L602.34,808.92 L602.69,808.71 L603.04,808.59 L603.39,808.59 L603.74,808.82 L604.09,809.02 L604.45,809.02 L604.8,808.81 L605.15,808.97 L605.5,808.9 L605.85,808.85 L606.2,808.9 L606.55,809.07 L606.9,808.96 L607.25,809.06 L607.6,808.85 L607.95,808.87 L608.3,808.64 L608.65,808.99 L609,808.96 L609.35,808.47 L609.7,808.56 L610.05,808.22 L610.4,808.43 L610.76,808.66 L611.11,808.48 L611.46,809.04 L611.81,808.74 L612.16,808.44 L612.51,808.83 L612.86,808.4 L613.21,809.09 L613.56,808.92 L613.91,808.9 L614.26,808.95 L614.61,809 L614.96,809.09 L615.31,808.99 L615.66,808.79 L616.01,808.84 L616.36,808.85 L616.72,808.87 L617.07,808.68 L617.42,808.81 L617.77,808.27 L618.12,808.05 L618.47,807.5 L618.82,807.69 L619.17,808.51 L619.52,808.89 L619.87,808.68 L620.22,808.43 L620.57,808.56 L620.92,808.5 L621.27,808.86 L621.62,809.02 L621.97,808.85 L622.32,808.69 L622.68,808.5 L623.03,808.53 L623.38,807.77 L623.73,808.48 L624.08,808.79 L624.43,808.63 L624.78,808.99 L625.13,808.52 L625.48,809 L625.83,808.97 L626.18,809.03 L626.53,809.05 L626.88,808.6 L627.23,808.58 L627.58,808.83 L627.93,808.71 L628.28,808.97 L628.64,808.96 L628.99,808.99 L629.34,808.86 L629.69,808.66 L630.04,808.41 L630.39,808.38 L630.74,808.39 L631.09,808.5 L631.44,808.49 L631.79,808.26 L632.14,808.48 L632.49,808.16 L632.84,807.53 L633.19,808.03 L633.54,808.51 L633.89,808.67 L634.24,809.01 L634.59,808.66 L634.95,808.94 L635.3,808.91 L635.65,809.07 L636,809.07 L636.35,808.81 L636.7,808.93 L637.05,808.85 L637.4,808.98 L637.75,808.8 L638.1,809 L638.45,808.96 L638.8,808.65 L639.15,808.45 L639.5,808.38 L639.85,807.97 L640.2,807.78 L640.55,807.79 L640.91,808.19 L641.26,808.44 L641.61,808.46 L641.96,808.41 L642.31,807.87 L642.66,807.47 L643.01,807.87 L643.36,808.1 L643.71,808.66 L644.06,808.87 L644.41,808.91 L644.76,808.86 L645.11,808.86 L645.46,808.8 L645.81,808.76 L646.16,808.63 L646.51,808.47 L646.87,807.85 L647.22,807.46 L647.57,807.97 L647.92,807.67 L648.27,807.98 L648.62,808.11 L648.97,808.49 L649.32,808.58 L649.67,808.73 L650.02,808.99 L650.37,808.86 L650.72,808.67 L651.07,808.48 L651.42,808.27 L651.77,808 L652.12,808.23 L652.47,808.49 L652.83,808.74 L653.18,808.79 L653.53,808.79 L653.88,808.67 L654.23,808.43 L654.58,807.73 L654.93,807.87 L655.28,808.35 L655.63,808.52 L655.98,808.23 L656.33,809 L656.68,808.58 L657.03,808.7 L657.38,808.89 L657.73,808.53 L658.08,809.02 L658.43,808.75 L658.78,808.45 L659.14,808.3 L659.49,808.34 L659.84,807.5 L660.19,808.37 L660.54,808.4 L660.89,808.67 L661.24,808.1 L661.59,808.93 L661.94,808.88 L662.29,808.25 L662.64,808.83 L662.99,808.92 L663.34,809 L663.69,808.96 L664.04,808.91 L664.39,808.39 L664.74,808.96 L665.1,808.86 L665.45,808.74 L665.8,808.85 L666.15,809.09 L666.5,808.64 L666.85,809.08 L667.2,809.03 L667.55,808.78 L667.9,808.96 L667.9,809.1 Z" fill="#3cbcbc" stroke="#3cbcbc" stroke-width="0.3"/>
<path d="M516.8,826.7 L516.8,826.46 L517.15,826.63 L517.5,826.35 L517.85,826.25 L518.2,826.26 L518.55,826.36 L518.9,826.36 L519.25,826.52 L519.6,826.32 L519.96,826.56 L520.31,826.45 L520.66,826.63 L521.01,826.62 L521.36,826.44 L521.71,826.68 L522.06,826.56 L522.41,826.69 L522.76,826.58 L523.11,826.13 L523.46,826.68 L523.81,826.34 L524.16,826.47 L524.51,826.39 L524.86,826.41 L525.21,826.5 L525.56,826.51 L525.92,826.38 L526.27,826.04 L526.62,826.31 L526.97,826.48 L527.32,826.52 L527.67,826.28 L528.02,826.11 L528.37,825.39 L528.72,826.05 L529.07,825.77 L529.42,825.99 L529.77,825.79 L530.12,826.1 L530.47,826.32 L530.82,826.36 L531.17,826.62 L531.52,826.58 L531.87,826.62 L532.23,826.59 L532.58,826.63 L532.93,826.23 L533.28,826.45 L533.63,826.69 L533.98,826.67 L534.33,826.43 L534.68,826.54 L535.03,826.6 L535.38,826.69 L535.73,826.14 L536.08,826.69 L536.43,826.48 L536.78,826.58 L537.13,826.62 L537.48,826.61 L537.83,826.55 L538.19,826.58 L538.54,826.12 L538.89,826.1 L539.24,825.96 L539.59,826.04 L539.94,826.34 L540.29,826.5 L540.64,826.55 L540.99,825.87 L541.34,826.56 L541.69,826.69 L542.04,826.53 L542.39,826.11 L542.74,826.67 L543.09,826.36 L543.44,826.47 L543.79,826.64 L544.15,826.55 L544.5,826.4 L544.85,826.68 L545.2,826.59 L545.55,826.41 L545.9,826.29 L546.25,826.46 L546.6,826.56 L546.95,826.1 L547.3,826.28 L547.65,826.66 L548,826.68 L548.35,826.63 L548.7,826.49 L549.05,826.54 L549.4,826.63 L549.75,826.49 L550.11,826.62 L550.46,826.4 L550.81,826.51 L551.16,826.35 L551.51,826.44 L551.86,826.27 L552.21,826.63 L552.56,826.6 L552.91,826.43 L553.26,826.65 L553.61,826.52 L553.96,826.68 L554.31,826.44 L554.66,826.62 L555.01,826.06 L555.36,826.5 L555.71,826.56 L556.06,826.54 L556.42,826.5 L556.77,826.6 L557.12,826.51 L557.47,826.46 L557.82,826.25 L558.17,825.59 L558.52,826.27 L558.87,826.32 L559.22,826.12 L559.57,826.34 L559.92,826.66 L560.27,826.61 L560.62,826.69 L560.97,826.64 L561.32,826.46 L561.67,826.2 L562.02,826.28 L562.38,826.62 L562.73,826.59 L563.08,826.57 L563.43,826.65 L563.78,826.43 L564.13,826.54 L564.48,826.67 L564.83,826.61 L565.18,826.33 L565.53,826.58 L565.88,826.68 L566.23,826.46 L566.58,826.58 L566.93,826.6 L567.28,826.61 L567.63,826.28 L567.98,826.49 L568.34,826.5 L568.69,826.64 L569.04,826.65 L569.39,826.55 L569.74,826.67 L570.09,826.63 L570.44,826.62 L570.79,826.67 L571.14,826.53 L571.49,826.55 L571.84,826.69 L572.19,826.39 L572.54,826.61 L572.89,826.58 L573.24,826.6 L573.59,826.1 L573.94,826.63 L574.3,826.12 L574.65,826.57 L575,825.92 L575.35,826.55 L575.7,826.45 L576.05,826.48 L576.4,826.35 L576.75,826.55 L577.1,826.4 L577.45,826.17 L577.8,825.46 L578.15,825.73 L578.5,826.24 L578.85,826.16 L579.2,826.61 L579.55,826.55 L579.9,826.59 L580.25,826.42 L580.61,826.32 L580.96,826.64 L581.31,826.31 L581.66,826.46 L582.01,826.11 L582.36,825.92 L582.71,825.9 L583.06,825.14 L583.41,826.03 L583.76,825.97 L584.11,826.37 L584.46,826.35 L584.81,825.92 L585.16,825.51 L585.51,826.13 L585.86,826.26 L586.21,826.45 L586.57,826.57 L586.92,826.53 L587.27,826.53 L587.62,826.35 L587.97,826.34 L588.32,825.82 L588.67,825.42 L589.02,824.99 L589.37,825.27 L589.72,825.39 L590.07,825.22 L590.42,825.48 L590.77,826.33 L591.12,825.92 L591.47,826.18 L591.82,826.05 L592.17,826.35 L592.53,825.9 L592.88,826.06 L593.23,826.35 L593.58,825.98 L593.93,826.19 L594.28,825.63 L594.63,826.11 L594.98,826.39 L595.33,825.96 L595.68,826.39 L596.03,826.38 L596.38,826.38 L596.73,826.36 L597.08,826.57 L597.43,826.31 L597.78,826.12 L598.13,826 L598.49,825.68 L598.84,826.02 L599.19,826.2 L599.54,825.48 L599.89,825.37 L600.24,825.59 L600.59,825.85 L600.94,825.6 L601.29,825.91 L601.64,826.36 L601.99,826.05 L602.34,826.48 L602.69,826.55 L603.04,826.49 L603.39,826.62 L603.74,826.56 L604.09,826.27 L604.45,826.26 L604.8,826.63 L605.15,826.23 L605.5,826.37 L605.85,826.3 L606.2,826.31 L606.55,826.59 L606.9,826.68 L607.25,826.62 L607.6,826.53 L607.95,826.47 L608.3,826.52 L608.65,826.43 L609,826.31 L609.35,826.56 L609.7,826.58 L610.05,826.62 L610.4,826.35 L610.76,826.3 L611.11,826.16 L611.46,825.82 L611.81,825.54 L612.16,825.71 L612.51,825.53 L612.86,825.76 L613.21,826.06 L613.56,826.38 L613.91,826.25 L614.26,826.58 L614.61,826.55 L614.96,826.5 L615.31,826.47 L615.66,826.27 L616.01,826.42 L616.36,826.39 L616.72,825.73 L617.07,825.93 L617.42,825.29 L617.77,824.43 L618.12,823.25 L618.47,820.79 L618.82,822.89 L619.17,823.81 L619.52,824.96 L619.87,825.13 L620.22,824.81 L620.57,824.54 L620.92,823.37 L621.27,824.19 L621.62,824.89 L621.97,825.26 L622.32,825.69 L622.68,825.15 L623.03,826.08 L623.38,826.06 L623.73,825.94 L624.08,826.03 L624.43,825.87 L624.78,825.57 L625.13,825.62 L625.48,826.39 L625.83,826.42 L626.18,826.43 L626.53,826.47 L626.88,826.4 L627.23,826.32 L627.58,826.39 L627.93,826.15 L628.28,825.74 L628.64,825.23 L628.99,825.51 L629.34,825.26 L629.69,824.63 L630.04,824.85 L630.39,824.36 L630.74,823.6 L631.09,821.08 L631.44,817.19 L631.79,817.41 L632.14,821.28 L632.49,823.27 L632.84,824.3 L633.19,824.5 L633.54,823.31 L633.89,822.5 L634.24,821 L634.59,817.83 L634.95,821.76 L635.3,823.88 L635.65,824.21 L636,823.78 L636.35,823.91 L636.7,825.2 L637.05,825.87 L637.4,826.06 L637.75,825.98 L638.1,826.34 L638.45,826.16 L638.8,825.75 L639.15,825.65 L639.5,825.76 L639.85,826.36 L640.2,826.57 L640.55,826.49 L640.91,826.57 L641.26,826.44 L641.61,826.15 L641.96,825.9 L642.31,826.27 L642.66,826.41 L643.01,826.34 L643.36,826.14 L643.71,825.62 L644.06,825.46 L644.41,825.19 L644.76,824.82 L645.11,823.3 L645.46,821.13 L645.81,821.22 L646.16,823.4 L646.51,824.32 L646.87,825.39 L647.22,825.75 L647.57,826.09 L647.92,826.36 L648.27,826.57 L648.62,826.08 L648.97,826.56 L649.32,826.32 L649.67,826.6 L650.02,826.54 L650.37,826.67 L650.72,826.23 L651.07,826.51 L651.42,826.51 L651.77,826.53 L652.12,826.41 L652.47,826.1 L652.83,825.64 L653.18,826.11 L653.53,826.25 L653.88,826.55 L654.23,826.61 L654.58,826.41 L654.93,826.62 L655.28,826.68 L655.63,826.63 L655.98,826.58 L656.33,826.55 L656.68,826.62 L657.03,826.55 L657.38,826.43 L657.73,826.27 L658.08,826.44 L658.43,826.5 L658.78,826.02 L659.14,826.26 L659.49,826.14 L659.84,826.28 L660.19,826.53 L660.54,826.53 L660.89,826.26 L661.24,826.17 L661.59,825.96 L661.94,826.49 L662.29,826.55 L662.64,826.37 L662.99,826.6 L663.34,826.64 L663.69,826.25 L664.04,826.25 L664.39,826.12 L664.74,826.03 L665.1,826.45 L665.45,826.31 L665.8,826.54 L666.15,826.49 L666.5,826.24 L666.85,826.68 L667.2,826.66 L667.55,826.57 L667.9,826.67 L667.9,826.7 Z" fill="#d21bc8" stroke="#d21bc8" stroke-width="0.3"/>
<line x1="519.5" y1="833.6" x2="620.6" y2="833.6" stroke="#1a1aa6" stroke-width="0.6"/>
<path d="M522.5,832.5 L523.5,833.6 L522.5,834.7" fill="none" stroke="#1a1aa6" stroke-width="0.45"/>
<path d="M525.7,832.5 L526.7,833.6 L525.7,834.7" fill="none" stroke="#1a1aa6" stroke-width="0.45"/>
<path d="M528.9,832.5 L529.9,833.6 L528.9,834.7" fill="none" stroke="#1a1aa6" stroke-width="0.45"/>
<path d="M532.1,832.5 L533.1,833.6 L532.1,834.7" fill="none" stroke="#1a1aa6" stroke-width="0.45"/>
<path d="M535.3,832.5 L536.3,833.6 L535.3,834.7" fill="none" stroke="#1a1aa6" stroke-width="0.45"/>
<path d="M538.5,832.5 L539.5,833.6 L538.5,834.7" fill="none" stroke="#1a1aa6" stroke-width="0.45"/>
<path d="M541.7,832.5 L542.7,833.6 L541.7,834.7" fill="none" stroke="#1a1aa6" stroke-width="0.45"/>
<path d="M544.9,832.5 L545.9,833.6 L544.9,834.7" fill="none" stroke="#1a1aa6" stroke-width="0.45"/>
<path d="M548.1,832.5 L549.1,833.6 L548.1,834.7" fill="none" stroke="#1a1aa6" stroke-width="0.45"/>
<path d="M551.3,832.5 L552.3,833.6 L551.3,834.7" fill="none" stroke="#1a1aa6" stroke-width="0.45"/>
<path d="M554.5,832.5 L555.5,833.6 L554.5,834.7" fill="none" stroke="#1a1aa6" stroke-width="0.45"/>
<path d="M557.7,832.5 L558.7,833.6 L557.7,834.7" fill="none" stroke="#1a1aa6" stroke-width="0.45"/>
<path d="M560.9,832.5 L561.9,833.6 L560.9,834.7" fill="none" stroke="#1a1aa6" stroke-width="0.45"/>
<path d="M564.1,832.5 L565.1,833.6 L564.1,834.7" fill="none" stroke="#1a1aa6" stroke-width="0.45"/>
<path d="M567.3,832.5 L568.3,833.6 L567.3,834.7" fill="none" stroke="#1a1aa6" stroke-width="0.45"/>
<path d="M570.5,832.5 L571.5,833.6 L570.5,834.7" fill="none" stroke="#1a1aa6" stroke-width="0.45"/>
<path d="M573.7,832.5 L574.7,833.6 L573.7,834.7" fill="none" stroke="#1a1aa6" stroke-width="0.45"/>
<path d="M576.9,832.5 L577.9,833.6 L576.9,834.7" fill="none" stroke="#1a1aa6" stroke-width="0.45"/>
<path d="M580.1,832.5 L581.1,833.6 L580.1,834.7" fill="none" stroke="#1a1aa6" stroke-width="0.45"/>
<path d="M583.3,832.5 L584.3,833.6 L583.3,834.7" fill="none" stroke="#1a1aa6" stroke-width="0.45"/>
<path d="M586.5,832.5 L587.5,833.6 L586.5,834.7" fill="none" stroke="#1a1aa6" stroke-width="0.45"/>
<path d="M589.7,832.5 L590.7,833.6 L589.7,834.7" fill="none" stroke="#1a1aa6" stroke-width="0.45"/>
<path d="M592.9,832.5 L593.9,833.6 L592.9,834.7" fill="none" stroke="#1a1aa6" stroke-width="0.45"/>
<path d="M596.1,832.5 L597.1,833.6 L596.1,834.7" fill="none" stroke="#1a1aa6" stroke-width="0.45"/>
<path d="M599.3,832.5 L600.3,833.6 L599.3,834.7" fill="none" stroke="#1a1aa6" stroke-width="0.45"/>
<path d="M602.5,832.5 L603.5,833.6 L602.5,834.7" fill="none" stroke="#1a1aa6" stroke-width="0.45"/>
<path d="M605.7,832.5 L606.7,833.6 L605.7,834.7" fill="none" stroke="#1a1aa6" stroke-width="0.45"/>
<path d="M608.9,832.5 L609.9,833.6 L608.9,834.7" fill="none" stroke="#1a1aa6" stroke-width="0.45"/>
<path d="M612.1,832.5 L613.1,833.6 L612.1,834.7" fill="none" stroke="#1a1aa6" stroke-width="0.45"/>
<path d="M615.3,832.5 L616.3,833.6 L615.3,834.7" fill="none" stroke="#1a1aa6" stroke-width="0.45"/>
<rect x="519.5" y="832" width="8" height="3.2" fill="#1a1aa6"/>
<rect x="527.5" y="832.1" width="9" height="3" fill="#1a1aa6"/>
<rect x="556" y="832.1" width="0.8" height="3" fill="#1a1aa6"/>
<rect x="581" y="832.1" width="0.8" height="3" fill="#1a1aa6"/>
<rect x="523" y="831.1" width="1.2" height="5" fill="#1a1aa6"/>
<rect x="528" y="831.1" width="1.2" height="5" fill="#1a1aa6"/>
<rect x="531" y="831.1" width="1.2" height="5" fill="#1a1aa6"/>
<rect x="533.5" y="831.1" width="1.2" height="5" fill="#1a1aa6"/>
<rect x="535.5" y="831.1" width="1.2" height="5" fill="#1a1aa6"/>
<rect x="619.8" y="831.6" width="1.6" height="4" fill="#1a1aa6"/>
<line x1="621" y1="839.3" x2="666.6" y2="839.3" stroke="#1a1aa6" stroke-width="0.6"/>
<path d="M624,838.2 L625,839.3 L624,840.4" fill="none" stroke="#1a1aa6" stroke-width="0.45"/>
<path d="M627.2,838.2 L628.2,839.3 L627.2,840.4" fill="none" stroke="#1a1aa6" stroke-width="0.45"/>
<path d="M630.4,838.2 L631.4,839.3 L630.4,840.4" fill="none" stroke="#1a1aa6" stroke-width="0.45"/>
<path d="M633.6,838.2 L634.6,839.3 L633.6,840.4" fill="none" stroke="#1a1aa6" stroke-width="0.45"/>
<path d="M636.8,838.2 L637.8,839.3 L636.8,840.4" fill="none" stroke="#1a1aa6" stroke-width="0.45"/>
<path d="M640,838.2 L641,839.3 L640,840.4" fill="none" stroke="#1a1aa6" stroke-width="0.45"/>
<path d="M643.2,838.2 L644.2,839.3 L643.2,840.4" fill="none" stroke="#1a1aa6" stroke-width="0.45"/>
<path d="M646.4,838.2 L647.4,839.3 L646.4,840.4" fill="none" stroke="#1a1aa6" stroke-width="0.45"/>
<path d="M649.6,838.2 L650.6,839.3 L649.6,840.4" fill="none" stroke="#1a1aa6" stroke-width="0.45"/>
<path d="M652.8,838.2 L653.8,839.3 L652.8,840.4" fill="none" stroke="#1a1aa6" stroke-width="0.45"/>
<path d="M656,838.2 L657,839.3 L656,840.4" fill="none" stroke="#1a1aa6" stroke-width="0.45"/>
<path d="M659.2,838.2 L660.2,839.3 L659.2,840.4" fill="none" stroke="#1a1aa6" stroke-width="0.45"/>
<path d="M662.4,838.2 L663.4,839.3 L662.4,840.4" fill="none" stroke="#1a1aa6" stroke-width="0.45"/>
<rect x="625.55" y="837.1" width="0.9" height="4.4" fill="#1a1aa6"/>
<rect x="650.55" y="837.1" width="0.9" height="4.4" fill="#1a1aa6"/>
<rect x="659.55" y="837.1" width="0.9" height="4.4" fill="#1a1aa6"/>
<rect x="664.55" y="837.1" width="0.9" height="4.4" fill="#1a1aa6"/>
<rect x="621" y="837.3" width="1.6" height="4" fill="#1a1aa6"/>
<text x="513.4" y="844.3" font-size="8.1" fill="#111">GLUT1</text>
<text x="593" y="850.1" font-size="8.1" fill="#111">SLC2A1-AS1</text></svg></body></html>
